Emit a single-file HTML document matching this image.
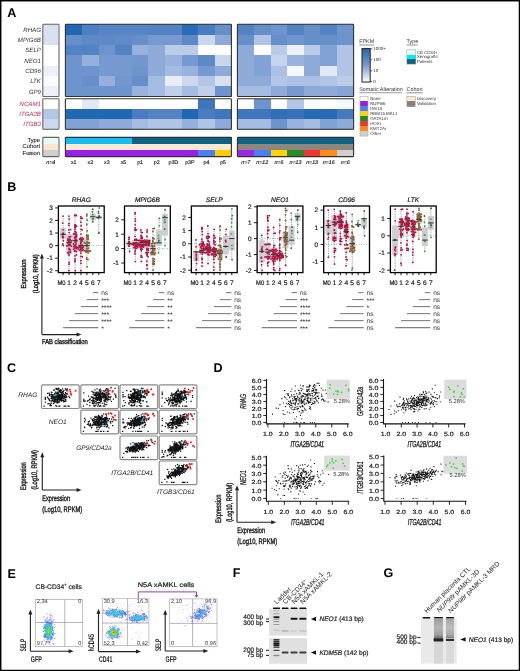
<!DOCTYPE html>
<html><head><meta charset="utf-8"><style>
html,body{margin:0;padding:0;background:#fff;}
body{width:520px;height:671px;overflow:hidden;}
svg{display:block;font-family:"Liberation Sans", sans-serif;will-change:transform;text-rendering:geometricPrecision;}
</style></head><body>
<svg width="520" height="671" viewBox="0 0 520 671">
<rect x="0" y="0" width="520" height="671" fill="#fff"/>
<text x="7.2" y="17.3" font-size="12.6" text-anchor="start" fill="#000" font-weight="bold" >A</text>
<rect x="43" y="24.2" width="15" height="10.63" fill="#d7e1f2" shape-rendering="crispEdges"/>
<rect x="43" y="34.53" width="15" height="10.63" fill="#d7e1f2" shape-rendering="crispEdges"/>
<rect x="43" y="44.86" width="15" height="10.63" fill="#ffffff" shape-rendering="crispEdges"/>
<rect x="43" y="55.19" width="15" height="10.63" fill="#ffffff" shape-rendering="crispEdges"/>
<rect x="43" y="65.52" width="15" height="10.63" fill="#ecf0f8" shape-rendering="crispEdges"/>
<rect x="43" y="75.85" width="15" height="10.63" fill="#f9fbfd" shape-rendering="crispEdges"/>
<rect x="43" y="86.18" width="15" height="10.63" fill="#ecf0f8" shape-rendering="crispEdges"/>
<rect x="43" y="98.7" width="15" height="10.47" fill="#ffffff" shape-rendering="crispEdges"/>
<rect x="43" y="108.87" width="15" height="10.47" fill="#b3c6e6" shape-rendering="crispEdges"/>
<rect x="43" y="119.04" width="15" height="10.47" fill="#cbd8ee" shape-rendering="crispEdges"/>
<rect x="65.4" y="24.2" width="16.9" height="10.63" fill="#2168b2" shape-rendering="crispEdges"/>
<rect x="82" y="24.2" width="16.9" height="10.63" fill="#4e7fc1" shape-rendering="crispEdges"/>
<rect x="98.6" y="24.2" width="16.9" height="10.63" fill="#5885c5" shape-rendering="crispEdges"/>
<rect x="115.2" y="24.2" width="16.9" height="10.63" fill="#5885c5" shape-rendering="crispEdges"/>
<rect x="131.8" y="24.2" width="16.9" height="10.63" fill="#5885c5" shape-rendering="crispEdges"/>
<rect x="148.4" y="24.2" width="16.9" height="10.63" fill="#5483c3" shape-rendering="crispEdges"/>
<rect x="165" y="24.2" width="16.9" height="10.63" fill="#5483c3" shape-rendering="crispEdges"/>
<rect x="181.6" y="24.2" width="16.9" height="10.63" fill="#2a6cb5" shape-rendering="crispEdges"/>
<rect x="198.2" y="24.2" width="16.9" height="10.63" fill="#4a7cc0" shape-rendering="crispEdges"/>
<rect x="214.8" y="24.2" width="16.9" height="10.63" fill="#668fca" shape-rendering="crispEdges"/>
<rect x="65.4" y="34.53" width="16.9" height="10.63" fill="#668fca" shape-rendering="crispEdges"/>
<rect x="82" y="34.53" width="16.9" height="10.63" fill="#5e89c7" shape-rendering="crispEdges"/>
<rect x="98.6" y="34.53" width="16.9" height="10.63" fill="#5e89c7" shape-rendering="crispEdges"/>
<rect x="115.2" y="34.53" width="16.9" height="10.63" fill="#618bc8" shape-rendering="crispEdges"/>
<rect x="131.8" y="34.53" width="16.9" height="10.63" fill="#668fca" shape-rendering="crispEdges"/>
<rect x="148.4" y="34.53" width="16.9" height="10.63" fill="#769ad0" shape-rendering="crispEdges"/>
<rect x="165" y="34.53" width="16.9" height="10.63" fill="#769ad0" shape-rendering="crispEdges"/>
<rect x="181.6" y="34.53" width="16.9" height="10.63" fill="#5e89c7" shape-rendering="crispEdges"/>
<rect x="198.2" y="34.53" width="16.9" height="10.63" fill="#c9d7ee" shape-rendering="crispEdges"/>
<rect x="214.8" y="34.53" width="16.9" height="10.63" fill="#8daad9" shape-rendering="crispEdges"/>
<rect x="65.4" y="44.86" width="16.9" height="10.63" fill="#5483c3" shape-rendering="crispEdges"/>
<rect x="82" y="44.86" width="16.9" height="10.63" fill="#5483c3" shape-rendering="crispEdges"/>
<rect x="98.6" y="44.86" width="16.9" height="10.63" fill="#6e94cd" shape-rendering="crispEdges"/>
<rect x="115.2" y="44.86" width="16.9" height="10.63" fill="#5483c3" shape-rendering="crispEdges"/>
<rect x="131.8" y="44.86" width="16.9" height="10.63" fill="#98b2dd" shape-rendering="crispEdges"/>
<rect x="148.4" y="44.86" width="16.9" height="10.63" fill="#8daad9" shape-rendering="crispEdges"/>
<rect x="165" y="44.86" width="16.9" height="10.63" fill="#bbcce9" shape-rendering="crispEdges"/>
<rect x="181.6" y="44.86" width="16.9" height="10.63" fill="#bbcce9" shape-rendering="crispEdges"/>
<rect x="198.2" y="44.86" width="16.9" height="10.63" fill="#ffffff" shape-rendering="crispEdges"/>
<rect x="214.8" y="44.86" width="16.9" height="10.63" fill="#ffffff" shape-rendering="crispEdges"/>
<rect x="65.4" y="55.19" width="16.9" height="10.63" fill="#6e94cd" shape-rendering="crispEdges"/>
<rect x="82" y="55.19" width="16.9" height="10.63" fill="#96b0dc" shape-rendering="crispEdges"/>
<rect x="98.6" y="55.19" width="16.9" height="10.63" fill="#769ad0" shape-rendering="crispEdges"/>
<rect x="115.2" y="55.19" width="16.9" height="10.63" fill="#769ad0" shape-rendering="crispEdges"/>
<rect x="131.8" y="55.19" width="16.9" height="10.63" fill="#7197ce" shape-rendering="crispEdges"/>
<rect x="148.4" y="55.19" width="16.9" height="10.63" fill="#8daad9" shape-rendering="crispEdges"/>
<rect x="165" y="55.19" width="16.9" height="10.63" fill="#98b2dd" shape-rendering="crispEdges"/>
<rect x="181.6" y="55.19" width="16.9" height="10.63" fill="#769ad0" shape-rendering="crispEdges"/>
<rect x="198.2" y="55.19" width="16.9" height="10.63" fill="#5e89c7" shape-rendering="crispEdges"/>
<rect x="214.8" y="55.19" width="16.9" height="10.63" fill="#c9d7ee" shape-rendering="crispEdges"/>
<rect x="65.4" y="65.52" width="16.9" height="10.63" fill="#6e94cd" shape-rendering="crispEdges"/>
<rect x="82" y="65.52" width="16.9" height="10.63" fill="#6e94cd" shape-rendering="crispEdges"/>
<rect x="98.6" y="65.52" width="16.9" height="10.63" fill="#769ad0" shape-rendering="crispEdges"/>
<rect x="115.2" y="65.52" width="16.9" height="10.63" fill="#769ad0" shape-rendering="crispEdges"/>
<rect x="131.8" y="65.52" width="16.9" height="10.63" fill="#6e94cd" shape-rendering="crispEdges"/>
<rect x="148.4" y="65.52" width="16.9" height="10.63" fill="#8daad9" shape-rendering="crispEdges"/>
<rect x="165" y="65.52" width="16.9" height="10.63" fill="#a5bce2" shape-rendering="crispEdges"/>
<rect x="181.6" y="65.52" width="16.9" height="10.63" fill="#98b2dd" shape-rendering="crispEdges"/>
<rect x="198.2" y="65.52" width="16.9" height="10.63" fill="#769ad0" shape-rendering="crispEdges"/>
<rect x="214.8" y="65.52" width="16.9" height="10.63" fill="#8daad9" shape-rendering="crispEdges"/>
<rect x="65.4" y="75.85" width="16.9" height="10.63" fill="#6e94cd" shape-rendering="crispEdges"/>
<rect x="82" y="75.85" width="16.9" height="10.63" fill="#668fca" shape-rendering="crispEdges"/>
<rect x="98.6" y="75.85" width="16.9" height="10.63" fill="#96b0dc" shape-rendering="crispEdges"/>
<rect x="115.2" y="75.85" width="16.9" height="10.63" fill="#7197ce" shape-rendering="crispEdges"/>
<rect x="131.8" y="75.85" width="16.9" height="10.63" fill="#668fca" shape-rendering="crispEdges"/>
<rect x="148.4" y="75.85" width="16.9" height="10.63" fill="#a5bce2" shape-rendering="crispEdges"/>
<rect x="165" y="75.85" width="16.9" height="10.63" fill="#e8edf7" shape-rendering="crispEdges"/>
<rect x="181.6" y="75.85" width="16.9" height="10.63" fill="#cbd8ee" shape-rendering="crispEdges"/>
<rect x="198.2" y="75.85" width="16.9" height="10.63" fill="#b3c6e6" shape-rendering="crispEdges"/>
<rect x="214.8" y="75.85" width="16.9" height="10.63" fill="#d7e1f2" shape-rendering="crispEdges"/>
<rect x="65.4" y="86.18" width="16.9" height="10.63" fill="#6e94cd" shape-rendering="crispEdges"/>
<rect x="82" y="86.18" width="16.9" height="10.63" fill="#6e94cd" shape-rendering="crispEdges"/>
<rect x="98.6" y="86.18" width="16.9" height="10.63" fill="#6e94cd" shape-rendering="crispEdges"/>
<rect x="115.2" y="86.18" width="16.9" height="10.63" fill="#6e94cd" shape-rendering="crispEdges"/>
<rect x="131.8" y="86.18" width="16.9" height="10.63" fill="#98b2dd" shape-rendering="crispEdges"/>
<rect x="148.4" y="86.18" width="16.9" height="10.63" fill="#a5bce2" shape-rendering="crispEdges"/>
<rect x="165" y="86.18" width="16.9" height="10.63" fill="#c0d0eb" shape-rendering="crispEdges"/>
<rect x="181.6" y="86.18" width="16.9" height="10.63" fill="#a5bce2" shape-rendering="crispEdges"/>
<rect x="198.2" y="86.18" width="16.9" height="10.63" fill="#c0d0eb" shape-rendering="crispEdges"/>
<rect x="214.8" y="86.18" width="16.9" height="10.63" fill="#6e94cd" shape-rendering="crispEdges"/>
<rect x="237.4" y="24.2" width="16.9" height="10.63" fill="#5483c3" shape-rendering="crispEdges"/>
<rect x="254" y="24.2" width="16.9" height="10.63" fill="#668fca" shape-rendering="crispEdges"/>
<rect x="270.6" y="24.2" width="16.9" height="10.63" fill="#6e94cd" shape-rendering="crispEdges"/>
<rect x="287.2" y="24.2" width="16.9" height="10.63" fill="#5483c3" shape-rendering="crispEdges"/>
<rect x="303.8" y="24.2" width="16.9" height="10.63" fill="#668fca" shape-rendering="crispEdges"/>
<rect x="320.4" y="24.2" width="16.9" height="10.63" fill="#5483c3" shape-rendering="crispEdges"/>
<rect x="337" y="24.2" width="16.9" height="10.63" fill="#6e94cd" shape-rendering="crispEdges"/>
<rect x="237.4" y="34.53" width="16.9" height="10.63" fill="#668fca" shape-rendering="crispEdges"/>
<rect x="254" y="34.53" width="16.9" height="10.63" fill="#b0c4e5" shape-rendering="crispEdges"/>
<rect x="270.6" y="34.53" width="16.9" height="10.63" fill="#668fca" shape-rendering="crispEdges"/>
<rect x="287.2" y="34.53" width="16.9" height="10.63" fill="#6e94cd" shape-rendering="crispEdges"/>
<rect x="303.8" y="34.53" width="16.9" height="10.63" fill="#668fca" shape-rendering="crispEdges"/>
<rect x="320.4" y="34.53" width="16.9" height="10.63" fill="#668fca" shape-rendering="crispEdges"/>
<rect x="337" y="34.53" width="16.9" height="10.63" fill="#6e94cd" shape-rendering="crispEdges"/>
<rect x="237.4" y="44.86" width="16.9" height="10.63" fill="#8daad9" shape-rendering="crispEdges"/>
<rect x="254" y="44.86" width="16.9" height="10.63" fill="#ffffff" shape-rendering="crispEdges"/>
<rect x="270.6" y="44.86" width="16.9" height="10.63" fill="#b8cae8" shape-rendering="crispEdges"/>
<rect x="287.2" y="44.86" width="16.9" height="10.63" fill="#ecf0f8" shape-rendering="crispEdges"/>
<rect x="303.8" y="44.86" width="16.9" height="10.63" fill="#b8cae8" shape-rendering="crispEdges"/>
<rect x="320.4" y="44.86" width="16.9" height="10.63" fill="#81a2d4" shape-rendering="crispEdges"/>
<rect x="337" y="44.86" width="16.9" height="10.63" fill="#b0c4e5" shape-rendering="crispEdges"/>
<rect x="237.4" y="55.19" width="16.9" height="10.63" fill="#8daad9" shape-rendering="crispEdges"/>
<rect x="254" y="55.19" width="16.9" height="10.63" fill="#81a2d4" shape-rendering="crispEdges"/>
<rect x="270.6" y="55.19" width="16.9" height="10.63" fill="#c5d3ec" shape-rendering="crispEdges"/>
<rect x="287.2" y="55.19" width="16.9" height="10.63" fill="#98b2dd" shape-rendering="crispEdges"/>
<rect x="303.8" y="55.19" width="16.9" height="10.63" fill="#8daad9" shape-rendering="crispEdges"/>
<rect x="320.4" y="55.19" width="16.9" height="10.63" fill="#81a2d4" shape-rendering="crispEdges"/>
<rect x="337" y="55.19" width="16.9" height="10.63" fill="#b0c4e5" shape-rendering="crispEdges"/>
<rect x="237.4" y="65.52" width="16.9" height="10.63" fill="#8daad9" shape-rendering="crispEdges"/>
<rect x="254" y="65.52" width="16.9" height="10.63" fill="#81a2d4" shape-rendering="crispEdges"/>
<rect x="270.6" y="65.52" width="16.9" height="10.63" fill="#abc0e4" shape-rendering="crispEdges"/>
<rect x="287.2" y="65.52" width="16.9" height="10.63" fill="#f5f8fc" shape-rendering="crispEdges"/>
<rect x="303.8" y="65.52" width="16.9" height="10.63" fill="#8daad9" shape-rendering="crispEdges"/>
<rect x="320.4" y="65.52" width="16.9" height="10.63" fill="#e2e9f5" shape-rendering="crispEdges"/>
<rect x="337" y="65.52" width="16.9" height="10.63" fill="#b0c4e5" shape-rendering="crispEdges"/>
<rect x="237.4" y="75.85" width="16.9" height="10.63" fill="#8daad9" shape-rendering="crispEdges"/>
<rect x="254" y="75.85" width="16.9" height="10.63" fill="#8daad9" shape-rendering="crispEdges"/>
<rect x="270.6" y="75.85" width="16.9" height="10.63" fill="#b3c6e6" shape-rendering="crispEdges"/>
<rect x="287.2" y="75.85" width="16.9" height="10.63" fill="#abc0e4" shape-rendering="crispEdges"/>
<rect x="303.8" y="75.85" width="16.9" height="10.63" fill="#abc0e4" shape-rendering="crispEdges"/>
<rect x="320.4" y="75.85" width="16.9" height="10.63" fill="#b0c4e5" shape-rendering="crispEdges"/>
<rect x="337" y="75.85" width="16.9" height="10.63" fill="#bbcce9" shape-rendering="crispEdges"/>
<rect x="237.4" y="86.18" width="16.9" height="10.63" fill="#a5bce2" shape-rendering="crispEdges"/>
<rect x="254" y="86.18" width="16.9" height="10.63" fill="#a5bce2" shape-rendering="crispEdges"/>
<rect x="270.6" y="86.18" width="16.9" height="10.63" fill="#8daad9" shape-rendering="crispEdges"/>
<rect x="287.2" y="86.18" width="16.9" height="10.63" fill="#769ad0" shape-rendering="crispEdges"/>
<rect x="303.8" y="86.18" width="16.9" height="10.63" fill="#8daad9" shape-rendering="crispEdges"/>
<rect x="320.4" y="86.18" width="16.9" height="10.63" fill="#8daad9" shape-rendering="crispEdges"/>
<rect x="337" y="86.18" width="16.9" height="10.63" fill="#86a5d6" shape-rendering="crispEdges"/>
<rect x="65.4" y="98.7" width="16.9" height="10.47" fill="#ffffff" shape-rendering="crispEdges"/>
<rect x="82" y="98.7" width="16.9" height="10.47" fill="#e2e9f5" shape-rendering="crispEdges"/>
<rect x="98.6" y="98.7" width="16.9" height="10.47" fill="#ffffff" shape-rendering="crispEdges"/>
<rect x="115.2" y="98.7" width="16.9" height="10.47" fill="#ffffff" shape-rendering="crispEdges"/>
<rect x="131.8" y="98.7" width="16.9" height="10.47" fill="#ffffff" shape-rendering="crispEdges"/>
<rect x="148.4" y="98.7" width="16.9" height="10.47" fill="#ffffff" shape-rendering="crispEdges"/>
<rect x="165" y="98.7" width="16.9" height="10.47" fill="#ffffff" shape-rendering="crispEdges"/>
<rect x="181.6" y="98.7" width="16.9" height="10.47" fill="#ffffff" shape-rendering="crispEdges"/>
<rect x="198.2" y="98.7" width="16.9" height="10.47" fill="#4076bc" shape-rendering="crispEdges"/>
<rect x="214.8" y="98.7" width="16.9" height="10.47" fill="#ffffff" shape-rendering="crispEdges"/>
<rect x="65.4" y="108.87" width="16.9" height="10.47" fill="#2168b2" shape-rendering="crispEdges"/>
<rect x="82" y="108.87" width="16.9" height="10.47" fill="#2168b2" shape-rendering="crispEdges"/>
<rect x="98.6" y="108.87" width="16.9" height="10.47" fill="#2168b2" shape-rendering="crispEdges"/>
<rect x="115.2" y="108.87" width="16.9" height="10.47" fill="#2168b2" shape-rendering="crispEdges"/>
<rect x="131.8" y="108.87" width="16.9" height="10.47" fill="#4a7cc0" shape-rendering="crispEdges"/>
<rect x="148.4" y="108.87" width="16.9" height="10.47" fill="#5483c3" shape-rendering="crispEdges"/>
<rect x="165" y="108.87" width="16.9" height="10.47" fill="#5483c3" shape-rendering="crispEdges"/>
<rect x="181.6" y="108.87" width="16.9" height="10.47" fill="#2168b2" shape-rendering="crispEdges"/>
<rect x="198.2" y="108.87" width="16.9" height="10.47" fill="#4a7cc0" shape-rendering="crispEdges"/>
<rect x="214.8" y="108.87" width="16.9" height="10.47" fill="#4076bc" shape-rendering="crispEdges"/>
<rect x="65.4" y="119.04" width="16.9" height="10.47" fill="#81a2d4" shape-rendering="crispEdges"/>
<rect x="82" y="119.04" width="16.9" height="10.47" fill="#81a2d4" shape-rendering="crispEdges"/>
<rect x="98.6" y="119.04" width="16.9" height="10.47" fill="#8daad9" shape-rendering="crispEdges"/>
<rect x="115.2" y="119.04" width="16.9" height="10.47" fill="#8daad9" shape-rendering="crispEdges"/>
<rect x="131.8" y="119.04" width="16.9" height="10.47" fill="#a5bce2" shape-rendering="crispEdges"/>
<rect x="148.4" y="119.04" width="16.9" height="10.47" fill="#b0c4e5" shape-rendering="crispEdges"/>
<rect x="165" y="119.04" width="16.9" height="10.47" fill="#b0c4e5" shape-rendering="crispEdges"/>
<rect x="181.6" y="119.04" width="16.9" height="10.47" fill="#96b0dc" shape-rendering="crispEdges"/>
<rect x="198.2" y="119.04" width="16.9" height="10.47" fill="#b0c4e5" shape-rendering="crispEdges"/>
<rect x="214.8" y="119.04" width="16.9" height="10.47" fill="#8daad9" shape-rendering="crispEdges"/>
<rect x="237.4" y="98.7" width="16.9" height="10.47" fill="#ffffff" shape-rendering="crispEdges"/>
<rect x="254" y="98.7" width="16.9" height="10.47" fill="#6e94cd" shape-rendering="crispEdges"/>
<rect x="270.6" y="98.7" width="16.9" height="10.47" fill="#ffffff" shape-rendering="crispEdges"/>
<rect x="287.2" y="98.7" width="16.9" height="10.47" fill="#b3c6e6" shape-rendering="crispEdges"/>
<rect x="303.8" y="98.7" width="16.9" height="10.47" fill="#f9fbfd" shape-rendering="crispEdges"/>
<rect x="320.4" y="98.7" width="16.9" height="10.47" fill="#ffffff" shape-rendering="crispEdges"/>
<rect x="337" y="98.7" width="16.9" height="10.47" fill="#f5f8fc" shape-rendering="crispEdges"/>
<rect x="237.4" y="108.87" width="16.9" height="10.47" fill="#4076bc" shape-rendering="crispEdges"/>
<rect x="254" y="108.87" width="16.9" height="10.47" fill="#4076bc" shape-rendering="crispEdges"/>
<rect x="270.6" y="108.87" width="16.9" height="10.47" fill="#316fb7" shape-rendering="crispEdges"/>
<rect x="287.2" y="108.87" width="16.9" height="10.47" fill="#3772b9" shape-rendering="crispEdges"/>
<rect x="303.8" y="108.87" width="16.9" height="10.47" fill="#276bb4" shape-rendering="crispEdges"/>
<rect x="320.4" y="108.87" width="16.9" height="10.47" fill="#276bb4" shape-rendering="crispEdges"/>
<rect x="337" y="108.87" width="16.9" height="10.47" fill="#467abe" shape-rendering="crispEdges"/>
<rect x="237.4" y="119.04" width="16.9" height="10.47" fill="#a5bce2" shape-rendering="crispEdges"/>
<rect x="254" y="119.04" width="16.9" height="10.47" fill="#a5bce2" shape-rendering="crispEdges"/>
<rect x="270.6" y="119.04" width="16.9" height="10.47" fill="#6e94cd" shape-rendering="crispEdges"/>
<rect x="287.2" y="119.04" width="16.9" height="10.47" fill="#98b2dd" shape-rendering="crispEdges"/>
<rect x="303.8" y="119.04" width="16.9" height="10.47" fill="#a5bce2" shape-rendering="crispEdges"/>
<rect x="320.4" y="119.04" width="16.9" height="10.47" fill="#81a2d4" shape-rendering="crispEdges"/>
<rect x="337" y="119.04" width="16.9" height="10.47" fill="#8daad9" shape-rendering="crispEdges"/>
<rect x="42.8" y="24.2" width="16.2" height="72.31" fill="none" stroke="#666" stroke-width="1.1" rx="0.8"/>
<rect x="42.8" y="98.7" width="16.2" height="30.51" fill="none" stroke="#666" stroke-width="1.1" rx="0.8"/>
<rect x="65.4" y="24.2" width="166" height="72.31" fill="none" stroke="#333" stroke-width="1.1" rx="0.8"/>
<rect x="237.4" y="24.2" width="116.2" height="72.31" fill="none" stroke="#333" stroke-width="1.1" rx="0.8"/>
<rect x="65.4" y="98.7" width="166" height="30.51" fill="none" stroke="#333" stroke-width="1.1" rx="0.8"/>
<rect x="237.4" y="98.7" width="116.2" height="30.51" fill="none" stroke="#333" stroke-width="1.1" rx="0.8"/>
<text x="40.9" y="31.66" font-size="6.1" text-anchor="end" fill="#333" font-style="italic" stroke-width="0">RHAG</text>
<text x="40.9" y="41.99" font-size="6.1" text-anchor="end" fill="#333" font-style="italic" stroke-width="0">MPIG6B</text>
<text x="40.9" y="52.32" font-size="6.1" text-anchor="end" fill="#333" font-style="italic" stroke-width="0">SELP</text>
<text x="40.9" y="62.65" font-size="6.1" text-anchor="end" fill="#333" font-style="italic" stroke-width="0">NEO1</text>
<text x="40.9" y="72.98" font-size="6.1" text-anchor="end" fill="#333" font-style="italic" stroke-width="0">CD96</text>
<text x="40.9" y="83.31" font-size="6.1" text-anchor="end" fill="#333" font-style="italic" stroke-width="0">LTK</text>
<text x="40.9" y="93.65" font-size="6.1" text-anchor="end" fill="#333" font-style="italic" stroke-width="0">GP9</text>
<text x="40.9" y="106.08" font-size="6.1" text-anchor="end" fill="#c8264e" font-style="italic" stroke-width="0">NCAM1</text>
<text x="40.9" y="116.25" font-size="6.1" text-anchor="end" fill="#c8264e" font-style="italic" stroke-width="0">ITGA2B</text>
<text x="40.9" y="126.42" font-size="6.1" text-anchor="end" fill="#c8264e" font-style="italic" stroke-width="0">ITGB3</text>
<rect x="43" y="137.4" width="15" height="6.4" fill="#e8f9fc" shape-rendering="crispEdges"/>
<rect x="43" y="143.8" width="15" height="6.4" fill="#fbe6d0" shape-rendering="crispEdges"/>
<rect x="43" y="150.2" width="15" height="6.4" fill="#cfcfcf" shape-rendering="crispEdges"/>
<rect x="65.4" y="137.4" width="16.9" height="6.4" fill="#17bdf0" shape-rendering="crispEdges"/>
<rect x="65.4" y="143.8" width="16.9" height="6.4" fill="#fde8d1" shape-rendering="crispEdges"/>
<rect x="65.4" y="150.2" width="16.9" height="6.4" fill="#9c1fe8" shape-rendering="crispEdges"/>
<rect x="82" y="137.4" width="16.9" height="6.4" fill="#17bdf0" shape-rendering="crispEdges"/>
<rect x="82" y="143.8" width="16.9" height="6.4" fill="#fde8d1" shape-rendering="crispEdges"/>
<rect x="82" y="150.2" width="16.9" height="6.4" fill="#9c1fe8" shape-rendering="crispEdges"/>
<rect x="98.6" y="137.4" width="16.9" height="6.4" fill="#17bdf0" shape-rendering="crispEdges"/>
<rect x="98.6" y="143.8" width="16.9" height="6.4" fill="#fde8d1" shape-rendering="crispEdges"/>
<rect x="98.6" y="150.2" width="16.9" height="6.4" fill="#9c1fe8" shape-rendering="crispEdges"/>
<rect x="115.2" y="137.4" width="16.9" height="6.4" fill="#17bdf0" shape-rendering="crispEdges"/>
<rect x="115.2" y="143.8" width="16.9" height="6.4" fill="#fde8d1" shape-rendering="crispEdges"/>
<rect x="115.2" y="150.2" width="16.9" height="6.4" fill="#9c1fe8" shape-rendering="crispEdges"/>
<rect x="131.8" y="137.4" width="16.9" height="6.4" fill="#0d6283" shape-rendering="crispEdges"/>
<rect x="131.8" y="143.8" width="16.9" height="6.4" fill="#fde8d1" shape-rendering="crispEdges"/>
<rect x="131.8" y="150.2" width="16.9" height="6.4" fill="#9c1fe8" shape-rendering="crispEdges"/>
<rect x="148.4" y="137.4" width="16.9" height="6.4" fill="#0d6283" shape-rendering="crispEdges"/>
<rect x="148.4" y="143.8" width="16.9" height="6.4" fill="#fde8d1" shape-rendering="crispEdges"/>
<rect x="148.4" y="150.2" width="16.9" height="6.4" fill="#9c1fe8" shape-rendering="crispEdges"/>
<rect x="165" y="137.4" width="16.9" height="6.4" fill="#0d6283" shape-rendering="crispEdges"/>
<rect x="165" y="143.8" width="16.9" height="6.4" fill="#fde8d1" shape-rendering="crispEdges"/>
<rect x="165" y="150.2" width="16.9" height="6.4" fill="#9c1fe8" shape-rendering="crispEdges"/>
<rect x="181.6" y="137.4" width="16.9" height="6.4" fill="#0d6283" shape-rendering="crispEdges"/>
<rect x="181.6" y="143.8" width="16.9" height="6.4" fill="#fde8d1" shape-rendering="crispEdges"/>
<rect x="181.6" y="150.2" width="16.9" height="6.4" fill="#9c1fe8" shape-rendering="crispEdges"/>
<rect x="198.2" y="137.4" width="16.9" height="6.4" fill="#0d6283" shape-rendering="crispEdges"/>
<rect x="198.2" y="143.8" width="16.9" height="6.4" fill="#fde8d1" shape-rendering="crispEdges"/>
<rect x="198.2" y="150.2" width="16.9" height="6.4" fill="#4a7ff5" shape-rendering="crispEdges"/>
<rect x="214.8" y="137.4" width="16.9" height="6.4" fill="#0d6283" shape-rendering="crispEdges"/>
<rect x="214.8" y="143.8" width="16.9" height="6.4" fill="#fde8d1" shape-rendering="crispEdges"/>
<rect x="214.8" y="150.2" width="16.9" height="6.4" fill="#ffcc00" shape-rendering="crispEdges"/>
<rect x="237.4" y="137.4" width="16.9" height="6.4" fill="#0d6283" shape-rendering="crispEdges"/>
<rect x="237.4" y="143.8" width="16.9" height="6.4" fill="#8f867d" shape-rendering="crispEdges"/>
<rect x="237.4" y="150.2" width="16.9" height="6.4" fill="#9b27e8" shape-rendering="crispEdges"/>
<rect x="254" y="137.4" width="16.9" height="6.4" fill="#0d6283" shape-rendering="crispEdges"/>
<rect x="254" y="143.8" width="16.9" height="6.4" fill="#8f867d" shape-rendering="crispEdges"/>
<rect x="254" y="150.2" width="16.9" height="6.4" fill="#4a7ff5" shape-rendering="crispEdges"/>
<rect x="270.6" y="137.4" width="16.9" height="6.4" fill="#0d6283" shape-rendering="crispEdges"/>
<rect x="270.6" y="143.8" width="16.9" height="6.4" fill="#8f867d" shape-rendering="crispEdges"/>
<rect x="270.6" y="150.2" width="16.9" height="6.4" fill="#ffd400" shape-rendering="crispEdges"/>
<rect x="287.2" y="137.4" width="16.9" height="6.4" fill="#0d6283" shape-rendering="crispEdges"/>
<rect x="287.2" y="143.8" width="16.9" height="6.4" fill="#8f867d" shape-rendering="crispEdges"/>
<rect x="287.2" y="150.2" width="16.9" height="6.4" fill="#2a8a2a" shape-rendering="crispEdges"/>
<rect x="303.8" y="137.4" width="16.9" height="6.4" fill="#0d6283" shape-rendering="crispEdges"/>
<rect x="303.8" y="143.8" width="16.9" height="6.4" fill="#8f867d" shape-rendering="crispEdges"/>
<rect x="303.8" y="150.2" width="16.9" height="6.4" fill="#ee3535" shape-rendering="crispEdges"/>
<rect x="320.4" y="137.4" width="16.9" height="6.4" fill="#0d6283" shape-rendering="crispEdges"/>
<rect x="320.4" y="143.8" width="16.9" height="6.4" fill="#8f867d" shape-rendering="crispEdges"/>
<rect x="320.4" y="150.2" width="16.9" height="6.4" fill="#ff8c1a" shape-rendering="crispEdges"/>
<rect x="337" y="137.4" width="16.9" height="6.4" fill="#0d6283" shape-rendering="crispEdges"/>
<rect x="337" y="143.8" width="16.9" height="6.4" fill="#8f867d" shape-rendering="crispEdges"/>
<rect x="337" y="150.2" width="16.9" height="6.4" fill="#cfcfcf" shape-rendering="crispEdges"/>
<rect x="42.8" y="137.4" width="16.2" height="19.2" fill="none" stroke="#666" stroke-width="1.1" rx="0.8"/>
<rect x="65.4" y="137.4" width="166" height="19.2" fill="none" stroke="#333" stroke-width="1.1" rx="0.8"/>
<rect x="237.4" y="137.4" width="116.2" height="19.2" fill="none" stroke="#333" stroke-width="1.1" rx="0.8"/>
<text x="40" y="142" font-size="5.8" text-anchor="end" fill="#222" stroke="#222" stroke-width="0.12">Type</text>
<text x="40" y="148.4" font-size="5.8" text-anchor="end" fill="#222" stroke="#222" stroke-width="0.12">Cohort</text>
<text x="40" y="154.8" font-size="5.8" text-anchor="end" fill="#222" stroke="#222" stroke-width="0.12">Fusion</text>
<text x="50.8" y="163.5" font-size="5.3" text-anchor="middle" fill="#222" font-style="italic" stroke="#222" stroke-width="0.15">n=4</text>
<text x="73.7" y="163.5" font-size="5.3" text-anchor="middle" fill="#222" stroke="#222" stroke-width="0.15">x1</text>
<text x="90.3" y="163.5" font-size="5.3" text-anchor="middle" fill="#222" stroke="#222" stroke-width="0.15">x2</text>
<text x="106.9" y="163.5" font-size="5.3" text-anchor="middle" fill="#222" stroke="#222" stroke-width="0.15">x3</text>
<text x="123.5" y="163.5" font-size="5.3" text-anchor="middle" fill="#222" stroke="#222" stroke-width="0.15">x5</text>
<text x="140.1" y="163.5" font-size="5.3" text-anchor="middle" fill="#222" stroke="#222" stroke-width="0.15">p1</text>
<text x="156.7" y="163.5" font-size="5.3" text-anchor="middle" fill="#222" stroke="#222" stroke-width="0.15">p2</text>
<text x="173.3" y="163.5" font-size="5.3" text-anchor="middle" fill="#222" stroke="#222" stroke-width="0.15">p3D</text>
<text x="189.9" y="163.5" font-size="5.3" text-anchor="middle" fill="#222" stroke="#222" stroke-width="0.15">p3P</text>
<text x="206.5" y="163.5" font-size="5.3" text-anchor="middle" fill="#222" stroke="#222" stroke-width="0.15">p4</text>
<text x="223.1" y="163.5" font-size="5.3" text-anchor="middle" fill="#222" stroke="#222" stroke-width="0.15">p5</text>
<text x="245.7" y="163.5" font-size="5.3" text-anchor="middle" fill="#222" font-style="italic" stroke="#222" stroke-width="0.15">n=7</text>
<text x="262.3" y="163.5" font-size="5.3" text-anchor="middle" fill="#222" font-style="italic" stroke="#222" stroke-width="0.15">n=12</text>
<text x="278.9" y="163.5" font-size="5.3" text-anchor="middle" fill="#222" font-style="italic" stroke="#222" stroke-width="0.15">n=6</text>
<text x="295.5" y="163.5" font-size="5.3" text-anchor="middle" fill="#222" font-style="italic" stroke="#222" stroke-width="0.15">n=13</text>
<text x="312.1" y="163.5" font-size="5.3" text-anchor="middle" fill="#222" font-style="italic" stroke="#222" stroke-width="0.15">n=13</text>
<text x="328.7" y="163.5" font-size="5.3" text-anchor="middle" fill="#222" font-style="italic" stroke="#222" stroke-width="0.15">n=16</text>
<text x="345.3" y="163.5" font-size="5.3" text-anchor="middle" fill="#222" font-style="italic" stroke="#222" stroke-width="0.15">n=6</text>
<text x="359.2" y="43" font-size="5.4" text-anchor="start" fill="#333" >FPKM</text>
<line x1="359.2" y1="45" x2="374" y2="45" stroke="#999" stroke-width="1.1" />
<defs><linearGradient id="fpkm" x1="0" y1="0" x2="0" y2="1"><stop offset="0" stop-color="#2a63a8"/><stop offset="0.5" stop-color="#7b9bd0"/><stop offset="1" stop-color="#ffffff"/></linearGradient></defs>
<rect x="362" y="48.6" width="8.2" height="33.4" fill="url(#fpkm)" stroke="#222" stroke-width="1"/>
<line x1="370.2" y1="48.8" x2="372.2" y2="48.8" stroke="#333" stroke-width="0.8" />
<text x="373.2" y="50.4" font-size="4.5" text-anchor="start" fill="#333" >1000+</text>
<line x1="370.2" y1="59.8" x2="372.2" y2="59.8" stroke="#333" stroke-width="0.8" />
<text x="373.2" y="61.4" font-size="4.5" text-anchor="start" fill="#333" >100</text>
<line x1="370.2" y1="70.8" x2="372.2" y2="70.8" stroke="#333" stroke-width="0.8" />
<text x="373.2" y="72.4" font-size="4.5" text-anchor="start" fill="#333" >10</text>
<line x1="370.2" y1="81.5" x2="372.2" y2="81.5" stroke="#333" stroke-width="0.8" />
<text x="373.2" y="83.1" font-size="4.5" text-anchor="start" fill="#333" >0</text>
<text x="406.6" y="43" font-size="5.4" text-anchor="start" fill="#333" >Type</text>
<line x1="406.6" y1="45" x2="417.5" y2="45" stroke="#999" stroke-width="1.1" />
<rect x="406.8" y="49.8" width="9" height="4.8" fill="#e6fbfc" shape-rendering="crispEdges"/>
<text x="416.9" y="53.6" font-size="4.3" text-anchor="start" fill="#333" >CB CD34+</text>
<rect x="406.8" y="54.6" width="9" height="4.8" fill="#00eef2" shape-rendering="crispEdges"/>
<text x="416.9" y="58.4" font-size="4.3" text-anchor="start" fill="#333" >Xenografts</text>
<rect x="406.8" y="59.4" width="9" height="4.8" fill="#0d6283" shape-rendering="crispEdges"/>
<text x="416.9" y="63.2" font-size="4.3" text-anchor="start" fill="#333" >Patients</text>
<rect x="406.8" y="49.8" width="9" height="14.4" fill="none" stroke="#aaa" stroke-width="0.6"/>
<text x="359.2" y="90.8" font-size="5.4" text-anchor="start" fill="#333" >Somatic Alteration</text>
<line x1="359.2" y1="92.8" x2="401.8" y2="92.8" stroke="#999" stroke-width="1.1" />
<rect x="360" y="96.3" width="8" height="4.97" fill="#ffffff" shape-rendering="crispEdges"/>
<text x="370.2" y="100.2" font-size="4.4" text-anchor="start" fill="#333" >None</text>
<rect x="360" y="101.27" width="8" height="4.97" fill="#9b1de6" shape-rendering="crispEdges"/>
<text x="370.2" y="105.17" font-size="4.4" text-anchor="start" fill="#333" >NUP98r</text>
<rect x="360" y="106.24" width="8" height="4.97" fill="#4a80f7" shape-rendering="crispEdges"/>
<text x="370.2" y="110.14" font-size="4.4" text-anchor="start" fill="#333" >INV16</text>
<rect x="360" y="111.21" width="8" height="4.97" fill="#ffd500" shape-rendering="crispEdges"/>
<text x="370.2" y="115.11" font-size="4.4" text-anchor="start" fill="#333" >RBM15.MKL1</text>
<rect x="360" y="116.18" width="8" height="4.97" fill="#1f8a24" shape-rendering="crispEdges"/>
<text x="370.2" y="120.08" font-size="4.4" text-anchor="start" fill="#333" >GATA1m</text>
<rect x="360" y="121.15" width="8" height="4.97" fill="#ee3333" shape-rendering="crispEdges"/>
<text x="370.2" y="125.05" font-size="4.4" text-anchor="start" fill="#333" >HOXr</text>
<rect x="360" y="126.12" width="8" height="4.97" fill="#ff8a12" shape-rendering="crispEdges"/>
<text x="370.2" y="130.02" font-size="4.4" text-anchor="start" fill="#333" >KMT2Ar</text>
<rect x="360" y="131.09" width="8" height="4.97" fill="#cfcfcf" shape-rendering="crispEdges"/>
<text x="370.2" y="134.99" font-size="4.4" text-anchor="start" fill="#333" >Other</text>
<rect x="360" y="96.3" width="8" height="39.8" fill="none" stroke="#aaa" stroke-width="0.6"/>
<text x="406.6" y="90.8" font-size="5.4" text-anchor="start" fill="#333" >Cohort</text>
<line x1="406.6" y1="92.8" x2="422.6" y2="92.8" stroke="#999" stroke-width="1.1" />
<rect x="406.8" y="96.3" width="8.6" height="5.1" fill="#fde8d0" shape-rendering="crispEdges"/>
<text x="416.9" y="100.3" font-size="4.4" text-anchor="start" fill="#333" >Discovery</text>
<rect x="406.8" y="101.4" width="8.6" height="5.1" fill="#8a8078" shape-rendering="crispEdges"/>
<text x="416.9" y="105.4" font-size="4.4" text-anchor="start" fill="#333" >Validation</text>
<rect x="406.8" y="96.3" width="8.6" height="10.2" fill="none" stroke="#aaa" stroke-width="0.6"/>
<text x="7.2" y="190.6" font-size="12.6" text-anchor="start" fill="#000" font-weight="bold" >B</text>
<text x="81.3" y="201.6" font-size="6.6" text-anchor="middle" fill="#222" font-style="italic" stroke="#222" stroke-width="0.2" >RHAG</text>
<line x1="58.4" y1="245.6" x2="104.2" y2="245.6" stroke="#4e9a8a" stroke-width="0.7" stroke-dasharray="0.9 1.6"/>
<line x1="63.1" y1="216.08" x2="63.1" y2="245.6" stroke="#333" stroke-width="0.6" stroke-dasharray="0.8 1.0"/>
<rect x="60.1" y="228.02" width="6" height="10.68" fill="#cdcdd3" />
<circle cx="62.74" cy="237.08" r="0.9" fill="#b30e3c"/>
<circle cx="62.72" cy="237.72" r="0.9" fill="#b30e3c"/>
<circle cx="62.91" cy="237.05" r="0.9" fill="#b30e3c"/>
<circle cx="63.42" cy="240.69" r="0.9" fill="#b30e3c"/>
<circle cx="62.78" cy="234.8" r="0.9" fill="#b30e3c"/>
<circle cx="63.18" cy="233.27" r="0.9" fill="#b30e3c"/>
<circle cx="63.24" cy="234.06" r="0.9" fill="#b30e3c"/>
<circle cx="62.97" cy="234.17" r="0.9" fill="#b30e3c"/>
<circle cx="63.15" cy="229.86" r="0.9" fill="#b30e3c"/>
<circle cx="62.66" cy="236.31" r="0.9" fill="#b30e3c"/>
<circle cx="62.66" cy="223.1" r="0.9" fill="#b30e3c"/>
<circle cx="62.81" cy="244.23" r="0.9" fill="#b30e3c"/>
<circle cx="63.28" cy="245.6" r="0.9" fill="#b30e3c"/>
<circle cx="63.03" cy="216.08" r="0.9" fill="#b30e3c"/>
<line x1="60.4" y1="234.3" x2="65.8" y2="234.3" stroke="#3a3a3a" stroke-width="1.1" />
<line x1="69.05" y1="216.08" x2="69.05" y2="270.72" stroke="#333" stroke-width="0.6" stroke-dasharray="0.8 1.0"/>
<rect x="66.05" y="234.3" width="6" height="20.1" fill="#cdcdd3" />
<circle cx="69.28" cy="242.62" r="0.9" fill="#b30e3c"/>
<circle cx="70.4" cy="242.85" r="0.9" fill="#b30e3c"/>
<circle cx="67.81" cy="243.01" r="0.9" fill="#b30e3c"/>
<circle cx="69.11" cy="248.37" r="0.9" fill="#b30e3c"/>
<circle cx="69.14" cy="232.53" r="0.9" fill="#b30e3c"/>
<circle cx="68.83" cy="229.86" r="0.9" fill="#b30e3c"/>
<circle cx="70.5" cy="229.55" r="0.9" fill="#b30e3c"/>
<circle cx="69.19" cy="251.8" r="0.9" fill="#b30e3c"/>
<circle cx="70.49" cy="252.04" r="0.9" fill="#b30e3c"/>
<circle cx="67.95" cy="252.74" r="0.9" fill="#b30e3c"/>
<circle cx="69" cy="264.27" r="0.9" fill="#b30e3c"/>
<circle cx="69" cy="239.18" r="0.9" fill="#b30e3c"/>
<circle cx="70.1" cy="239.41" r="0.9" fill="#b30e3c"/>
<circle cx="67.87" cy="238.95" r="0.9" fill="#b30e3c"/>
<circle cx="68.83" cy="244.57" r="0.9" fill="#b30e3c"/>
<circle cx="70.08" cy="244.65" r="0.9" fill="#b30e3c"/>
<circle cx="68.9" cy="240.96" r="0.9" fill="#b30e3c"/>
<circle cx="70.13" cy="240.35" r="0.9" fill="#b30e3c"/>
<circle cx="67.72" cy="240.29" r="0.9" fill="#b30e3c"/>
<circle cx="71.33" cy="240.95" r="0.9" fill="#b30e3c"/>
<circle cx="68.8" cy="253.58" r="0.9" fill="#b30e3c"/>
<circle cx="68.88" cy="245.51" r="0.9" fill="#b30e3c"/>
<circle cx="70.1" cy="245.11" r="0.9" fill="#b30e3c"/>
<circle cx="67.73" cy="245.37" r="0.9" fill="#b30e3c"/>
<circle cx="71.31" cy="246.05" r="0.9" fill="#b30e3c"/>
<circle cx="66.74" cy="245.97" r="0.9" fill="#b30e3c"/>
<circle cx="69.11" cy="219.11" r="0.9" fill="#b30e3c"/>
<circle cx="68.87" cy="241.05" r="0.9" fill="#b30e3c"/>
<circle cx="68.93" cy="225.45" r="0.9" fill="#b30e3c"/>
<circle cx="68.97" cy="255.17" r="0.9" fill="#b30e3c"/>
<circle cx="68.98" cy="249.42" r="0.9" fill="#b30e3c"/>
<circle cx="70.11" cy="249.73" r="0.9" fill="#b30e3c"/>
<circle cx="69.22" cy="236.88" r="0.9" fill="#b30e3c"/>
<circle cx="70.55" cy="236.62" r="0.9" fill="#b30e3c"/>
<circle cx="69.03" cy="223.52" r="0.9" fill="#b30e3c"/>
<circle cx="69.04" cy="262.47" r="0.9" fill="#b30e3c"/>
<circle cx="68.84" cy="270.72" r="0.9" fill="#b30e3c"/>
<circle cx="68.85" cy="216.08" r="0.9" fill="#b30e3c"/>
<line x1="66.35" y1="242.46" x2="71.75" y2="242.46" stroke="#3a3a3a" stroke-width="1.1" />
<line x1="75" y1="214.83" x2="75" y2="270.72" stroke="#333" stroke-width="0.6" stroke-dasharray="0.8 1.0"/>
<rect x="72" y="233.04" width="6" height="18.84" fill="#cdcdd3" />
<circle cx="74.88" cy="246.89" r="0.9" fill="#b30e3c"/>
<circle cx="76.21" cy="247.68" r="0.9" fill="#b30e3c"/>
<circle cx="73.57" cy="246.62" r="0.9" fill="#b30e3c"/>
<circle cx="77.71" cy="247.61" r="0.9" fill="#b30e3c"/>
<circle cx="74.93" cy="261.7" r="0.9" fill="#b30e3c"/>
<circle cx="74.98" cy="233.96" r="0.9" fill="#b30e3c"/>
<circle cx="76.29" cy="234.04" r="0.9" fill="#b30e3c"/>
<circle cx="73.95" cy="233.98" r="0.9" fill="#b30e3c"/>
<circle cx="74.96" cy="255.82" r="0.9" fill="#b30e3c"/>
<circle cx="76.46" cy="254.95" r="0.9" fill="#b30e3c"/>
<circle cx="75" cy="260.29" r="0.9" fill="#b30e3c"/>
<circle cx="75.02" cy="224.74" r="0.9" fill="#b30e3c"/>
<circle cx="75.01" cy="231.81" r="0.9" fill="#b30e3c"/>
<circle cx="76.01" cy="232.19" r="0.9" fill="#b30e3c"/>
<circle cx="74.97" cy="244.97" r="0.9" fill="#b30e3c"/>
<circle cx="76.09" cy="243.92" r="0.9" fill="#b30e3c"/>
<circle cx="73.5" cy="244" r="0.9" fill="#b30e3c"/>
<circle cx="75.15" cy="237.34" r="0.9" fill="#b30e3c"/>
<circle cx="76.09" cy="237.01" r="0.9" fill="#b30e3c"/>
<circle cx="74.99" cy="215.67" r="0.9" fill="#b30e3c"/>
<circle cx="76.36" cy="215.5" r="0.9" fill="#b30e3c"/>
<circle cx="75.03" cy="225.67" r="0.9" fill="#b30e3c"/>
<circle cx="76.16" cy="225.64" r="0.9" fill="#b30e3c"/>
<circle cx="75.01" cy="229.37" r="0.9" fill="#b30e3c"/>
<circle cx="75.03" cy="242.13" r="0.9" fill="#b30e3c"/>
<circle cx="76.39" cy="241.54" r="0.9" fill="#b30e3c"/>
<circle cx="74.8" cy="251.33" r="0.9" fill="#b30e3c"/>
<circle cx="76.28" cy="251.61" r="0.9" fill="#b30e3c"/>
<circle cx="74.87" cy="238.83" r="0.9" fill="#b30e3c"/>
<circle cx="76.14" cy="239.43" r="0.9" fill="#b30e3c"/>
<circle cx="75.14" cy="245.72" r="0.9" fill="#b30e3c"/>
<circle cx="76.25" cy="246.36" r="0.9" fill="#b30e3c"/>
<circle cx="75.03" cy="250.34" r="0.9" fill="#b30e3c"/>
<circle cx="75.13" cy="248.03" r="0.9" fill="#b30e3c"/>
<circle cx="76.46" cy="248.6" r="0.9" fill="#b30e3c"/>
<circle cx="73.72" cy="249.03" r="0.9" fill="#b30e3c"/>
<circle cx="75.06" cy="227.66" r="0.9" fill="#b30e3c"/>
<circle cx="75" cy="231.42" r="0.9" fill="#b30e3c"/>
<circle cx="75.01" cy="227" r="0.9" fill="#b30e3c"/>
<circle cx="76.35" cy="226.41" r="0.9" fill="#b30e3c"/>
<circle cx="74.98" cy="236.79" r="0.9" fill="#b30e3c"/>
<circle cx="76.27" cy="236.31" r="0.9" fill="#b30e3c"/>
<circle cx="74.99" cy="234.41" r="0.9" fill="#b30e3c"/>
<circle cx="76.47" cy="235.46" r="0.9" fill="#b30e3c"/>
<circle cx="75.1" cy="258.92" r="0.9" fill="#b30e3c"/>
<circle cx="75.19" cy="240.83" r="0.9" fill="#b30e3c"/>
<circle cx="75.22" cy="270.72" r="0.9" fill="#b30e3c"/>
<circle cx="74.88" cy="214.83" r="0.9" fill="#b30e3c"/>
<line x1="72.3" y1="240.58" x2="77.7" y2="240.58" stroke="#3a3a3a" stroke-width="1.1" />
<line x1="80.95" y1="216.71" x2="80.95" y2="270.72" stroke="#333" stroke-width="0.6" stroke-dasharray="0.8 1.0"/>
<rect x="77.95" y="238.06" width="6" height="13.82" fill="#cdcdd3" />
<circle cx="81.08" cy="229.31" r="0.9" fill="#b30e3c"/>
<circle cx="82.09" cy="229.87" r="0.9" fill="#b30e3c"/>
<circle cx="80.95" cy="263.31" r="0.9" fill="#b30e3c"/>
<circle cx="80.79" cy="245.77" r="0.9" fill="#b30e3c"/>
<circle cx="82.12" cy="245.15" r="0.9" fill="#b30e3c"/>
<circle cx="79.46" cy="245.92" r="0.9" fill="#b30e3c"/>
<circle cx="83.33" cy="246.36" r="0.9" fill="#b30e3c"/>
<circle cx="80.71" cy="248.56" r="0.9" fill="#b30e3c"/>
<circle cx="82.32" cy="248.21" r="0.9" fill="#b30e3c"/>
<circle cx="80.98" cy="242.63" r="0.9" fill="#b30e3c"/>
<circle cx="80.79" cy="222.27" r="0.9" fill="#b30e3c"/>
<circle cx="80.94" cy="241.99" r="0.9" fill="#b30e3c"/>
<circle cx="82.42" cy="241.12" r="0.9" fill="#b30e3c"/>
<circle cx="80.75" cy="256.45" r="0.9" fill="#b30e3c"/>
<circle cx="82.36" cy="256.75" r="0.9" fill="#b30e3c"/>
<circle cx="80.92" cy="218.46" r="0.9" fill="#b30e3c"/>
<circle cx="82.2" cy="218.24" r="0.9" fill="#b30e3c"/>
<circle cx="81.12" cy="238.72" r="0.9" fill="#b30e3c"/>
<circle cx="82.15" cy="239.29" r="0.9" fill="#b30e3c"/>
<circle cx="79.7" cy="239.18" r="0.9" fill="#b30e3c"/>
<circle cx="83.54" cy="238.92" r="0.9" fill="#b30e3c"/>
<circle cx="81.19" cy="225.76" r="0.9" fill="#b30e3c"/>
<circle cx="80.87" cy="249.8" r="0.9" fill="#b30e3c"/>
<circle cx="82.37" cy="250.09" r="0.9" fill="#b30e3c"/>
<circle cx="79.8" cy="250.09" r="0.9" fill="#b30e3c"/>
<circle cx="83.52" cy="249.65" r="0.9" fill="#b30e3c"/>
<circle cx="78.4" cy="249.09" r="0.9" fill="#b30e3c"/>
<circle cx="80.87" cy="247.48" r="0.9" fill="#b30e3c"/>
<circle cx="81.98" cy="247.3" r="0.9" fill="#b30e3c"/>
<circle cx="79.51" cy="246.88" r="0.9" fill="#b30e3c"/>
<circle cx="83.24" cy="247.19" r="0.9" fill="#b30e3c"/>
<circle cx="78.57" cy="247.67" r="0.9" fill="#b30e3c"/>
<circle cx="80.83" cy="260.64" r="0.9" fill="#b30e3c"/>
<circle cx="80.78" cy="243.93" r="0.9" fill="#b30e3c"/>
<circle cx="80.74" cy="238.27" r="0.9" fill="#b30e3c"/>
<circle cx="82.37" cy="237.55" r="0.9" fill="#b30e3c"/>
<circle cx="81.14" cy="251.09" r="0.9" fill="#b30e3c"/>
<circle cx="81.04" cy="234.12" r="0.9" fill="#b30e3c"/>
<circle cx="80.84" cy="240.05" r="0.9" fill="#b30e3c"/>
<circle cx="82.07" cy="239.96" r="0.9" fill="#b30e3c"/>
<circle cx="80.85" cy="253.21" r="0.9" fill="#b30e3c"/>
<circle cx="80.93" cy="270.72" r="0.9" fill="#b30e3c"/>
<circle cx="80.78" cy="216.71" r="0.9" fill="#b30e3c"/>
<line x1="78.25" y1="245.6" x2="83.65" y2="245.6" stroke="#3a3a3a" stroke-width="1.1" />
<line x1="86.9" y1="214.2" x2="86.9" y2="266.95" stroke="#333" stroke-width="0.6" stroke-dasharray="0.8 1.0"/>
<rect x="83.9" y="239.32" width="6" height="12.56" fill="#cdcdd3" />
<circle cx="86.78" cy="248.57" r="0.9" fill="#7f5c2c"/>
<circle cx="88.26" cy="248.06" r="0.9" fill="#7f5c2c"/>
<circle cx="86.75" cy="215.64" r="0.9" fill="#7f5c2c"/>
<circle cx="87.02" cy="251.43" r="0.9" fill="#7f5c2c"/>
<circle cx="88.39" cy="250.62" r="0.9" fill="#7f5c2c"/>
<circle cx="85.65" cy="250.75" r="0.9" fill="#7f5c2c"/>
<circle cx="89.34" cy="251.36" r="0.9" fill="#7f5c2c"/>
<circle cx="84.39" cy="250.56" r="0.9" fill="#7f5c2c"/>
<circle cx="90.39" cy="250.94" r="0.9" fill="#7f5c2c"/>
<circle cx="87.03" cy="251.87" r="0.9" fill="#7f5c2c"/>
<circle cx="88.21" cy="252.85" r="0.9" fill="#7f5c2c"/>
<circle cx="85.72" cy="251.91" r="0.9" fill="#7f5c2c"/>
<circle cx="86.69" cy="245.92" r="0.9" fill="#7f5c2c"/>
<circle cx="86.72" cy="259.25" r="0.9" fill="#7f5c2c"/>
<circle cx="88.03" cy="259.6" r="0.9" fill="#7f5c2c"/>
<circle cx="87.02" cy="244.53" r="0.9" fill="#7f5c2c"/>
<circle cx="86.8" cy="234.91" r="0.9" fill="#7f5c2c"/>
<circle cx="88.18" cy="235.45" r="0.9" fill="#7f5c2c"/>
<circle cx="86.66" cy="236.03" r="0.9" fill="#7f5c2c"/>
<circle cx="87.93" cy="236.14" r="0.9" fill="#7f5c2c"/>
<circle cx="86.78" cy="246.4" r="0.9" fill="#7f5c2c"/>
<circle cx="86.99" cy="239.51" r="0.9" fill="#7f5c2c"/>
<circle cx="88.25" cy="238.97" r="0.9" fill="#7f5c2c"/>
<circle cx="86.99" cy="242.78" r="0.9" fill="#7f5c2c"/>
<circle cx="88.05" cy="242.95" r="0.9" fill="#7f5c2c"/>
<circle cx="85.66" cy="243.44" r="0.9" fill="#7f5c2c"/>
<circle cx="89.38" cy="242.99" r="0.9" fill="#7f5c2c"/>
<circle cx="84.38" cy="242.63" r="0.9" fill="#7f5c2c"/>
<circle cx="86.71" cy="257.99" r="0.9" fill="#7f5c2c"/>
<circle cx="87.1" cy="219.9" r="0.9" fill="#7f5c2c"/>
<circle cx="86.75" cy="224.5" r="0.9" fill="#7f5c2c"/>
<circle cx="87.14" cy="230.93" r="0.9" fill="#7f5c2c"/>
<circle cx="87.12" cy="250.21" r="0.9" fill="#7f5c2c"/>
<circle cx="86.66" cy="237.49" r="0.9" fill="#7f5c2c"/>
<circle cx="88.13" cy="237.89" r="0.9" fill="#7f5c2c"/>
<circle cx="87.06" cy="241.86" r="0.9" fill="#7f5c2c"/>
<circle cx="87.13" cy="266.95" r="0.9" fill="#7f5c2c"/>
<circle cx="86.87" cy="214.2" r="0.9" fill="#7f5c2c"/>
<line x1="84.2" y1="245.6" x2="89.6" y2="245.6" stroke="#3a3a3a" stroke-width="1.1" />
<line x1="92.85" y1="209.18" x2="92.85" y2="221.74" stroke="#333" stroke-width="0.6" stroke-dasharray="0.8 1.0"/>
<rect x="89.85" y="213.57" width="6" height="6.28" fill="#cdcdd3" />
<circle cx="92.86" cy="218.53" r="0.9" fill="#48a148"/>
<circle cx="93.05" cy="219.09" r="0.9" fill="#2f6b45"/>
<circle cx="93.25" cy="219.46" r="0.9" fill="#48a148"/>
<circle cx="92.37" cy="211.82" r="0.9" fill="#2f6b45"/>
<circle cx="92.84" cy="214.7" r="0.9" fill="#48a148"/>
<circle cx="92.65" cy="221.74" r="0.9" fill="#2f6b45"/>
<circle cx="92.69" cy="209.18" r="0.9" fill="#2f6b45"/>
<line x1="90.15" y1="216.71" x2="95.55" y2="216.71" stroke="#3a3a3a" stroke-width="1.1" />
<line x1="98.8" y1="207.92" x2="98.8" y2="233.04" stroke="#333" stroke-width="0.6" stroke-dasharray="0.8 1.0"/>
<rect x="95.8" y="216.08" width="6" height="3.14" fill="#cdcdd3" />
<circle cx="98.89" cy="233" r="0.9" fill="#2f6b45"/>
<circle cx="98.73" cy="233.04" r="0.9" fill="#2f6b45"/>
<circle cx="98.35" cy="211.96" r="0.9" fill="#2f6b45"/>
<circle cx="99.13" cy="216.32" r="0.9" fill="#2f6b45"/>
<circle cx="99.24" cy="216.09" r="0.9" fill="#2f6b45"/>
<circle cx="98.57" cy="213.39" r="0.9" fill="#48a148"/>
<circle cx="98.49" cy="218.06" r="0.9" fill="#2f6b45"/>
<circle cx="99.26" cy="207.92" r="0.9" fill="#48a148"/>
<line x1="96.1" y1="217.34" x2="101.5" y2="217.34" stroke="#3a3a3a" stroke-width="1.1" />
<rect x="58.4" y="206" width="45.8" height="66.6" fill="none" stroke="#000" stroke-width="1.3"/>
<line x1="55.2" y1="207.92" x2="58.4" y2="207.92" stroke="#000" stroke-width="0.9" />
<text x="52.8" y="210.22" font-size="6.4" text-anchor="end" fill="#222" stroke="#222" stroke-width="0.2" >3</text>
<line x1="55.2" y1="220.48" x2="58.4" y2="220.48" stroke="#000" stroke-width="0.9" />
<text x="52.8" y="222.78" font-size="6.4" text-anchor="end" fill="#222" stroke="#222" stroke-width="0.2" >2</text>
<line x1="55.2" y1="233.04" x2="58.4" y2="233.04" stroke="#000" stroke-width="0.9" />
<text x="52.8" y="235.34" font-size="6.4" text-anchor="end" fill="#222" stroke="#222" stroke-width="0.2" >1</text>
<line x1="55.2" y1="245.6" x2="58.4" y2="245.6" stroke="#000" stroke-width="0.9" />
<text x="52.8" y="247.9" font-size="6.4" text-anchor="end" fill="#222" stroke="#222" stroke-width="0.2" >0</text>
<line x1="55.2" y1="258.16" x2="58.4" y2="258.16" stroke="#000" stroke-width="0.9" />
<text x="52.8" y="260.46" font-size="6.4" text-anchor="end" fill="#222" stroke="#222" stroke-width="0.2" >-1</text>
<line x1="55.2" y1="270.72" x2="58.4" y2="270.72" stroke="#000" stroke-width="0.9" />
<text x="52.8" y="273.02" font-size="6.4" text-anchor="end" fill="#222" stroke="#222" stroke-width="0.2" >-2</text>
<line x1="63.1" y1="272.6" x2="63.1" y2="275.2" stroke="#000" stroke-width="0.9" />
<line x1="69.05" y1="272.6" x2="69.05" y2="275.2" stroke="#000" stroke-width="0.9" />
<line x1="75" y1="272.6" x2="75" y2="275.2" stroke="#000" stroke-width="0.9" />
<line x1="80.95" y1="272.6" x2="80.95" y2="275.2" stroke="#000" stroke-width="0.9" />
<line x1="86.9" y1="272.6" x2="86.9" y2="275.2" stroke="#000" stroke-width="0.9" />
<line x1="92.85" y1="272.6" x2="92.85" y2="275.2" stroke="#000" stroke-width="0.9" />
<line x1="98.8" y1="272.6" x2="98.8" y2="275.2" stroke="#000" stroke-width="0.9" />
<text x="57.4" y="285.2" font-size="6.6" text-anchor="start" fill="#222" textLength="8.1" lengthAdjust="spacingAndGlyphs" stroke="#222" stroke-width="0.2" >M0</text>
<text x="69.05" y="285.2" font-size="6.6" text-anchor="middle" fill="#222" stroke="#222" stroke-width="0.2" >1</text>
<text x="75" y="285.2" font-size="6.6" text-anchor="middle" fill="#222" stroke="#222" stroke-width="0.2" >2</text>
<text x="80.95" y="285.2" font-size="6.6" text-anchor="middle" fill="#222" stroke="#222" stroke-width="0.2" >4</text>
<text x="86.9" y="285.2" font-size="6.6" text-anchor="middle" fill="#222" stroke="#222" stroke-width="0.2" >5</text>
<text x="92.85" y="285.2" font-size="6.6" text-anchor="middle" fill="#222" stroke="#222" stroke-width="0.2" >6</text>
<text x="98.8" y="285.2" font-size="6.6" text-anchor="middle" fill="#222" stroke="#222" stroke-width="0.2" >7</text>
<line x1="92.85" y1="292.6" x2="98.3" y2="292.6" stroke="#808080" stroke-width="1.1" />
<text x="101.2" y="294.7" font-size="6.6" text-anchor="start" fill="#333" stroke-width="0">ns</text>
<line x1="86.9" y1="299.6" x2="98.3" y2="299.6" stroke="#808080" stroke-width="1.1" />
<text x="101.2" y="303.2" font-size="6.8" text-anchor="start" fill="#222" stroke-width="0">***</text>
<line x1="80.95" y1="306.6" x2="98.3" y2="306.6" stroke="#808080" stroke-width="1.1" />
<text x="101.2" y="310.2" font-size="6.8" text-anchor="start" fill="#222" stroke-width="0">****</text>
<line x1="75" y1="313.6" x2="98.3" y2="313.6" stroke="#808080" stroke-width="1.1" />
<text x="101.2" y="317.2" font-size="6.8" text-anchor="start" fill="#222" stroke-width="0">***</text>
<line x1="69.05" y1="320.6" x2="98.3" y2="320.6" stroke="#808080" stroke-width="1.1" />
<text x="101.2" y="324.2" font-size="6.8" text-anchor="start" fill="#222" stroke-width="0">****</text>
<line x1="63.1" y1="327.6" x2="98.3" y2="327.6" stroke="#808080" stroke-width="1.1" />
<text x="101.2" y="331.2" font-size="6.8" text-anchor="start" fill="#222" stroke-width="0">*</text>
<text x="147.4" y="201.6" font-size="6.6" text-anchor="middle" fill="#222" font-style="italic" stroke="#222" stroke-width="0.2" >MPIG6B</text>
<line x1="124.5" y1="248.6" x2="170.3" y2="248.6" stroke="#4e9a8a" stroke-width="0.7" stroke-dasharray="0.9 1.6"/>
<line x1="129.2" y1="237.08" x2="129.2" y2="251.48" stroke="#333" stroke-width="0.6" stroke-dasharray="0.8 1.0"/>
<rect x="126.2" y="241.4" width="6" height="5.04" fill="#cdcdd3" />
<circle cx="128.96" cy="242.4" r="0.9" fill="#b30e3c"/>
<circle cx="129.36" cy="242.75" r="0.9" fill="#b30e3c"/>
<circle cx="129" cy="242.65" r="0.9" fill="#b30e3c"/>
<circle cx="129.26" cy="237.93" r="0.9" fill="#b30e3c"/>
<circle cx="129.09" cy="237.08" r="0.9" fill="#b30e3c"/>
<circle cx="128.87" cy="241.97" r="0.9" fill="#b30e3c"/>
<circle cx="128.86" cy="241.77" r="0.9" fill="#b30e3c"/>
<circle cx="128.91" cy="246.18" r="0.9" fill="#b30e3c"/>
<circle cx="129.61" cy="244.06" r="0.9" fill="#b30e3c"/>
<circle cx="129.2" cy="244.94" r="0.9" fill="#b30e3c"/>
<circle cx="128.92" cy="239.47" r="0.9" fill="#b30e3c"/>
<circle cx="129.61" cy="251.48" r="0.9" fill="#b30e3c"/>
<line x1="126.5" y1="243.56" x2="131.9" y2="243.56" stroke="#3a3a3a" stroke-width="1.1" />
<line x1="135.15" y1="212.6" x2="135.15" y2="261.56" stroke="#333" stroke-width="0.6" stroke-dasharray="0.8 1.0"/>
<rect x="132.15" y="239.96" width="6" height="8.64" fill="#cdcdd3" />
<circle cx="134.91" cy="239.53" r="0.9" fill="#b30e3c"/>
<circle cx="136.3" cy="239.17" r="0.9" fill="#b30e3c"/>
<circle cx="135.13" cy="246.94" r="0.9" fill="#b30e3c"/>
<circle cx="136.63" cy="246.53" r="0.9" fill="#b30e3c"/>
<circle cx="133.97" cy="247.66" r="0.9" fill="#b30e3c"/>
<circle cx="137.84" cy="247.49" r="0.9" fill="#b30e3c"/>
<circle cx="135.14" cy="245.65" r="0.9" fill="#b30e3c"/>
<circle cx="136.27" cy="246.26" r="0.9" fill="#b30e3c"/>
<circle cx="133.77" cy="245.15" r="0.9" fill="#b30e3c"/>
<circle cx="137.88" cy="245.22" r="0.9" fill="#b30e3c"/>
<circle cx="135.25" cy="243.68" r="0.9" fill="#b30e3c"/>
<circle cx="136.3" cy="245.02" r="0.9" fill="#b30e3c"/>
<circle cx="133.66" cy="244.23" r="0.9" fill="#b30e3c"/>
<circle cx="137.65" cy="244.25" r="0.9" fill="#b30e3c"/>
<circle cx="132.74" cy="244.09" r="0.9" fill="#b30e3c"/>
<circle cx="138.51" cy="244.07" r="0.9" fill="#b30e3c"/>
<circle cx="131.63" cy="243.9" r="0.9" fill="#b30e3c"/>
<circle cx="135.23" cy="224.86" r="0.9" fill="#b30e3c"/>
<circle cx="135.36" cy="248.06" r="0.9" fill="#b30e3c"/>
<circle cx="136.26" cy="248.32" r="0.9" fill="#b30e3c"/>
<circle cx="134.92" cy="240.24" r="0.9" fill="#b30e3c"/>
<circle cx="136.32" cy="240.36" r="0.9" fill="#b30e3c"/>
<circle cx="135.11" cy="230.23" r="0.9" fill="#b30e3c"/>
<circle cx="135.24" cy="218.82" r="0.9" fill="#b30e3c"/>
<circle cx="135" cy="229.28" r="0.9" fill="#b30e3c"/>
<circle cx="136.55" cy="229.96" r="0.9" fill="#b30e3c"/>
<circle cx="135.27" cy="243.53" r="0.9" fill="#b30e3c"/>
<circle cx="136.4" cy="243.1" r="0.9" fill="#b30e3c"/>
<circle cx="133.75" cy="243.41" r="0.9" fill="#b30e3c"/>
<circle cx="135.38" cy="221.14" r="0.9" fill="#b30e3c"/>
<circle cx="135.06" cy="213.96" r="0.9" fill="#b30e3c"/>
<circle cx="135.31" cy="227.97" r="0.9" fill="#b30e3c"/>
<circle cx="135.02" cy="236.44" r="0.9" fill="#b30e3c"/>
<circle cx="135.01" cy="253.94" r="0.9" fill="#b30e3c"/>
<circle cx="135.28" cy="250.17" r="0.9" fill="#b30e3c"/>
<circle cx="135.05" cy="251.85" r="0.9" fill="#b30e3c"/>
<circle cx="135.38" cy="261.56" r="0.9" fill="#b30e3c"/>
<circle cx="135.15" cy="212.6" r="0.9" fill="#b30e3c"/>
<line x1="132.45" y1="242.84" x2="137.85" y2="242.84" stroke="#3a3a3a" stroke-width="1.1" />
<line x1="141.1" y1="229.88" x2="141.1" y2="261.56" stroke="#333" stroke-width="0.6" stroke-dasharray="0.8 1.0"/>
<rect x="138.1" y="239.96" width="6" height="7.2" fill="#cdcdd3" />
<circle cx="141.23" cy="245.55" r="0.9" fill="#b30e3c"/>
<circle cx="142.22" cy="245.63" r="0.9" fill="#b30e3c"/>
<circle cx="139.63" cy="245.82" r="0.9" fill="#b30e3c"/>
<circle cx="143.37" cy="245.94" r="0.9" fill="#b30e3c"/>
<circle cx="138.63" cy="245.15" r="0.9" fill="#b30e3c"/>
<circle cx="144.41" cy="245.48" r="0.9" fill="#b30e3c"/>
<circle cx="137.94" cy="245.74" r="0.9" fill="#b30e3c"/>
<circle cx="141.29" cy="242.37" r="0.9" fill="#b30e3c"/>
<circle cx="142.59" cy="242.38" r="0.9" fill="#b30e3c"/>
<circle cx="140.98" cy="256.92" r="0.9" fill="#b30e3c"/>
<circle cx="142.14" cy="257.06" r="0.9" fill="#b30e3c"/>
<circle cx="140.9" cy="246.73" r="0.9" fill="#b30e3c"/>
<circle cx="142.35" cy="246.81" r="0.9" fill="#b30e3c"/>
<circle cx="139.95" cy="246.91" r="0.9" fill="#b30e3c"/>
<circle cx="143.57" cy="247.13" r="0.9" fill="#b30e3c"/>
<circle cx="140.97" cy="240.69" r="0.9" fill="#b30e3c"/>
<circle cx="142.31" cy="240.28" r="0.9" fill="#b30e3c"/>
<circle cx="139.91" cy="240.22" r="0.9" fill="#b30e3c"/>
<circle cx="143.69" cy="240.7" r="0.9" fill="#b30e3c"/>
<circle cx="138.72" cy="240.54" r="0.9" fill="#b30e3c"/>
<circle cx="144.67" cy="240.26" r="0.9" fill="#b30e3c"/>
<circle cx="137.78" cy="240.27" r="0.9" fill="#b30e3c"/>
<circle cx="144.31" cy="240.48" r="0.9" fill="#b30e3c"/>
<circle cx="141.27" cy="238.35" r="0.9" fill="#b30e3c"/>
<circle cx="142.25" cy="238.37" r="0.9" fill="#b30e3c"/>
<circle cx="141.13" cy="232.05" r="0.9" fill="#b30e3c"/>
<circle cx="142.29" cy="232.53" r="0.9" fill="#b30e3c"/>
<circle cx="141.22" cy="237.92" r="0.9" fill="#b30e3c"/>
<circle cx="142.2" cy="237.27" r="0.9" fill="#b30e3c"/>
<circle cx="140.97" cy="244.47" r="0.9" fill="#b30e3c"/>
<circle cx="142.22" cy="244.59" r="0.9" fill="#b30e3c"/>
<circle cx="139.68" cy="244.48" r="0.9" fill="#b30e3c"/>
<circle cx="143.79" cy="244.2" r="0.9" fill="#b30e3c"/>
<circle cx="138.64" cy="244.06" r="0.9" fill="#b30e3c"/>
<circle cx="144.41" cy="244.86" r="0.9" fill="#b30e3c"/>
<circle cx="141.05" cy="235.52" r="0.9" fill="#b30e3c"/>
<circle cx="141.35" cy="255.44" r="0.9" fill="#b30e3c"/>
<circle cx="141.1" cy="241.78" r="0.9" fill="#b30e3c"/>
<circle cx="142.22" cy="241.38" r="0.9" fill="#b30e3c"/>
<circle cx="140" cy="242.32" r="0.9" fill="#b30e3c"/>
<circle cx="143.68" cy="241.53" r="0.9" fill="#b30e3c"/>
<circle cx="141.35" cy="250.82" r="0.9" fill="#b30e3c"/>
<circle cx="140.9" cy="249.26" r="0.9" fill="#b30e3c"/>
<circle cx="142.34" cy="249.32" r="0.9" fill="#b30e3c"/>
<circle cx="141.26" cy="248.21" r="0.9" fill="#b30e3c"/>
<circle cx="141.27" cy="236.02" r="0.9" fill="#b30e3c"/>
<circle cx="141.31" cy="261.56" r="0.9" fill="#b30e3c"/>
<circle cx="140.87" cy="229.88" r="0.9" fill="#b30e3c"/>
<line x1="138.4" y1="242.84" x2="143.8" y2="242.84" stroke="#3a3a3a" stroke-width="1.1" />
<line x1="147.05" y1="229.88" x2="147.05" y2="268.76" stroke="#333" stroke-width="0.6" stroke-dasharray="0.8 1.0"/>
<rect x="144.05" y="239.96" width="6" height="5.76" fill="#cdcdd3" />
<circle cx="146.83" cy="245.03" r="0.9" fill="#b30e3c"/>
<circle cx="148.51" cy="245.65" r="0.9" fill="#b30e3c"/>
<circle cx="145.74" cy="245.69" r="0.9" fill="#b30e3c"/>
<circle cx="149.75" cy="245.63" r="0.9" fill="#b30e3c"/>
<circle cx="147.11" cy="240.12" r="0.9" fill="#b30e3c"/>
<circle cx="148.46" cy="240.73" r="0.9" fill="#b30e3c"/>
<circle cx="145.63" cy="240.74" r="0.9" fill="#b30e3c"/>
<circle cx="149.69" cy="240.29" r="0.9" fill="#b30e3c"/>
<circle cx="146.91" cy="236.48" r="0.9" fill="#b30e3c"/>
<circle cx="147" cy="244.22" r="0.9" fill="#b30e3c"/>
<circle cx="148.47" cy="244.91" r="0.9" fill="#b30e3c"/>
<circle cx="145.96" cy="244.25" r="0.9" fill="#b30e3c"/>
<circle cx="149.39" cy="243.92" r="0.9" fill="#b30e3c"/>
<circle cx="144.41" cy="244.78" r="0.9" fill="#b30e3c"/>
<circle cx="150.4" cy="243.95" r="0.9" fill="#b30e3c"/>
<circle cx="147.06" cy="231.99" r="0.9" fill="#b30e3c"/>
<circle cx="146.99" cy="242.29" r="0.9" fill="#b30e3c"/>
<circle cx="148.11" cy="241.81" r="0.9" fill="#b30e3c"/>
<circle cx="145.67" cy="241.14" r="0.9" fill="#b30e3c"/>
<circle cx="149.66" cy="241.53" r="0.9" fill="#b30e3c"/>
<circle cx="144.75" cy="241.08" r="0.9" fill="#b30e3c"/>
<circle cx="146.82" cy="252.38" r="0.9" fill="#b30e3c"/>
<circle cx="148.33" cy="252.28" r="0.9" fill="#b30e3c"/>
<circle cx="145.93" cy="252.97" r="0.9" fill="#b30e3c"/>
<circle cx="146.82" cy="242.7" r="0.9" fill="#b30e3c"/>
<circle cx="148.47" cy="243.44" r="0.9" fill="#b30e3c"/>
<circle cx="145.61" cy="242.97" r="0.9" fill="#b30e3c"/>
<circle cx="149.6" cy="242.94" r="0.9" fill="#b30e3c"/>
<circle cx="144.58" cy="242.72" r="0.9" fill="#b30e3c"/>
<circle cx="147.11" cy="255.83" r="0.9" fill="#b30e3c"/>
<circle cx="148.2" cy="256.62" r="0.9" fill="#b30e3c"/>
<circle cx="147.01" cy="248.09" r="0.9" fill="#b30e3c"/>
<circle cx="148.34" cy="248.96" r="0.9" fill="#b30e3c"/>
<circle cx="147.01" cy="249.27" r="0.9" fill="#b30e3c"/>
<circle cx="148.38" cy="249.99" r="0.9" fill="#b30e3c"/>
<circle cx="147.02" cy="254.62" r="0.9" fill="#b30e3c"/>
<circle cx="147.02" cy="250.84" r="0.9" fill="#b30e3c"/>
<circle cx="146.81" cy="265.3" r="0.9" fill="#b30e3c"/>
<circle cx="147.11" cy="253.98" r="0.9" fill="#b30e3c"/>
<circle cx="147.04" cy="264.53" r="0.9" fill="#b30e3c"/>
<circle cx="146.92" cy="261.09" r="0.9" fill="#b30e3c"/>
<circle cx="147.18" cy="268.76" r="0.9" fill="#b30e3c"/>
<circle cx="147.19" cy="229.88" r="0.9" fill="#b30e3c"/>
<line x1="144.35" y1="242.12" x2="149.75" y2="242.12" stroke="#3a3a3a" stroke-width="1.1" />
<line x1="153" y1="228.44" x2="153" y2="270.2" stroke="#333" stroke-width="0.6" stroke-dasharray="0.8 1.0"/>
<rect x="150" y="242.84" width="6" height="12.96" fill="#cdcdd3" />
<circle cx="152.97" cy="253.47" r="0.9" fill="#7f5c2c"/>
<circle cx="154.09" cy="254.41" r="0.9" fill="#7f5c2c"/>
<circle cx="151.87" cy="254.27" r="0.9" fill="#7f5c2c"/>
<circle cx="155.27" cy="253.44" r="0.9" fill="#7f5c2c"/>
<circle cx="150.66" cy="253.16" r="0.9" fill="#7f5c2c"/>
<circle cx="152.88" cy="250.22" r="0.9" fill="#7f5c2c"/>
<circle cx="154.32" cy="250.07" r="0.9" fill="#7f5c2c"/>
<circle cx="153.24" cy="261.88" r="0.9" fill="#7f5c2c"/>
<circle cx="154.29" cy="261.52" r="0.9" fill="#7f5c2c"/>
<circle cx="153.08" cy="260.75" r="0.9" fill="#7f5c2c"/>
<circle cx="152.91" cy="241.72" r="0.9" fill="#7f5c2c"/>
<circle cx="152.75" cy="252.66" r="0.9" fill="#7f5c2c"/>
<circle cx="154.02" cy="252.39" r="0.9" fill="#7f5c2c"/>
<circle cx="151.57" cy="252.21" r="0.9" fill="#7f5c2c"/>
<circle cx="153.06" cy="264.51" r="0.9" fill="#7f5c2c"/>
<circle cx="154.22" cy="264.2" r="0.9" fill="#7f5c2c"/>
<circle cx="153.01" cy="228.6" r="0.9" fill="#7f5c2c"/>
<circle cx="154.45" cy="228.44" r="0.9" fill="#7f5c2c"/>
<circle cx="152.82" cy="240.7" r="0.9" fill="#7f5c2c"/>
<circle cx="152.86" cy="243.08" r="0.9" fill="#7f5c2c"/>
<circle cx="154.33" cy="243.4" r="0.9" fill="#7f5c2c"/>
<circle cx="151.51" cy="243.66" r="0.9" fill="#7f5c2c"/>
<circle cx="155.25" cy="242.93" r="0.9" fill="#7f5c2c"/>
<circle cx="152.93" cy="263.3" r="0.9" fill="#7f5c2c"/>
<circle cx="154.05" cy="263.57" r="0.9" fill="#7f5c2c"/>
<circle cx="152.93" cy="231.34" r="0.9" fill="#7f5c2c"/>
<circle cx="152.86" cy="251.25" r="0.9" fill="#7f5c2c"/>
<circle cx="153.04" cy="258.72" r="0.9" fill="#7f5c2c"/>
<circle cx="154.29" cy="259.14" r="0.9" fill="#7f5c2c"/>
<circle cx="152.85" cy="237.83" r="0.9" fill="#7f5c2c"/>
<circle cx="153.06" cy="238.5" r="0.9" fill="#7f5c2c"/>
<circle cx="154.24" cy="238.85" r="0.9" fill="#7f5c2c"/>
<circle cx="152.82" cy="245.63" r="0.9" fill="#7f5c2c"/>
<circle cx="154.47" cy="246.09" r="0.9" fill="#7f5c2c"/>
<circle cx="151.62" cy="245.89" r="0.9" fill="#7f5c2c"/>
<circle cx="152.82" cy="248.92" r="0.9" fill="#7f5c2c"/>
<circle cx="152.8" cy="247.02" r="0.9" fill="#7f5c2c"/>
<circle cx="153.07" cy="270.2" r="0.9" fill="#7f5c2c"/>
<line x1="150.3" y1="248.6" x2="155.7" y2="248.6" stroke="#3a3a3a" stroke-width="1.1" />
<line x1="158.95" y1="218.36" x2="158.95" y2="252.92" stroke="#333" stroke-width="0.6" stroke-dasharray="0.8 1.0"/>
<rect x="155.95" y="229.88" width="6" height="15.84" fill="#cdcdd3" />
<circle cx="159.39" cy="225.89" r="0.9" fill="#48a148"/>
<circle cx="158.7" cy="241.53" r="0.9" fill="#48a148"/>
<circle cx="158.49" cy="235.5" r="0.9" fill="#48a148"/>
<circle cx="158.86" cy="240.49" r="0.9" fill="#2f6b45"/>
<circle cx="158.51" cy="238.14" r="0.9" fill="#48a148"/>
<circle cx="158.46" cy="252.92" r="0.9" fill="#48a148"/>
<circle cx="159.39" cy="218.36" r="0.9" fill="#2f6b45"/>
<line x1="156.25" y1="242.84" x2="161.65" y2="242.84" stroke="#3a3a3a" stroke-width="1.1" />
<line x1="164.9" y1="209.72" x2="164.9" y2="245.72" stroke="#333" stroke-width="0.6" stroke-dasharray="0.8 1.0"/>
<rect x="161.9" y="214.04" width="6" height="21.6" fill="#cdcdd3" />
<circle cx="164.41" cy="222.51" r="0.9" fill="#48a148"/>
<circle cx="165.15" cy="222.2" r="0.9" fill="#48a148"/>
<circle cx="165.14" cy="239.43" r="0.9" fill="#48a148"/>
<circle cx="164.63" cy="229.15" r="0.9" fill="#2f6b45"/>
<circle cx="164.63" cy="216.43" r="0.9" fill="#2f6b45"/>
<circle cx="164.74" cy="219.97" r="0.9" fill="#48a148"/>
<circle cx="165.1" cy="245.72" r="0.9" fill="#48a148"/>
<circle cx="165.11" cy="209.72" r="0.9" fill="#2f6b45"/>
<line x1="162.2" y1="217.64" x2="167.6" y2="217.64" stroke="#3a3a3a" stroke-width="1.1" />
<rect x="124.5" y="206" width="45.8" height="66.6" fill="none" stroke="#000" stroke-width="1.3"/>
<line x1="121.3" y1="219.8" x2="124.5" y2="219.8" stroke="#000" stroke-width="0.9" />
<text x="118.9" y="222.1" font-size="6.4" text-anchor="end" fill="#222" stroke="#222" stroke-width="0.2" >2</text>
<line x1="121.3" y1="234.2" x2="124.5" y2="234.2" stroke="#000" stroke-width="0.9" />
<text x="118.9" y="236.5" font-size="6.4" text-anchor="end" fill="#222" stroke="#222" stroke-width="0.2" >1</text>
<line x1="121.3" y1="248.6" x2="124.5" y2="248.6" stroke="#000" stroke-width="0.9" />
<text x="118.9" y="250.9" font-size="6.4" text-anchor="end" fill="#222" stroke="#222" stroke-width="0.2" >0</text>
<line x1="121.3" y1="263" x2="124.5" y2="263" stroke="#000" stroke-width="0.9" />
<text x="118.9" y="265.3" font-size="6.4" text-anchor="end" fill="#222" stroke="#222" stroke-width="0.2" >-1</text>
<line x1="129.2" y1="272.6" x2="129.2" y2="275.2" stroke="#000" stroke-width="0.9" />
<line x1="135.15" y1="272.6" x2="135.15" y2="275.2" stroke="#000" stroke-width="0.9" />
<line x1="141.1" y1="272.6" x2="141.1" y2="275.2" stroke="#000" stroke-width="0.9" />
<line x1="147.05" y1="272.6" x2="147.05" y2="275.2" stroke="#000" stroke-width="0.9" />
<line x1="153" y1="272.6" x2="153" y2="275.2" stroke="#000" stroke-width="0.9" />
<line x1="158.95" y1="272.6" x2="158.95" y2="275.2" stroke="#000" stroke-width="0.9" />
<line x1="164.9" y1="272.6" x2="164.9" y2="275.2" stroke="#000" stroke-width="0.9" />
<text x="123.5" y="285.2" font-size="6.6" text-anchor="start" fill="#222" textLength="8.1" lengthAdjust="spacingAndGlyphs" stroke="#222" stroke-width="0.2" >M0</text>
<text x="135.15" y="285.2" font-size="6.6" text-anchor="middle" fill="#222" stroke="#222" stroke-width="0.2" >1</text>
<text x="141.1" y="285.2" font-size="6.6" text-anchor="middle" fill="#222" stroke="#222" stroke-width="0.2" >2</text>
<text x="147.05" y="285.2" font-size="6.6" text-anchor="middle" fill="#222" stroke="#222" stroke-width="0.2" >4</text>
<text x="153" y="285.2" font-size="6.6" text-anchor="middle" fill="#222" stroke="#222" stroke-width="0.2" >5</text>
<text x="158.95" y="285.2" font-size="6.6" text-anchor="middle" fill="#222" stroke="#222" stroke-width="0.2" >6</text>
<text x="164.9" y="285.2" font-size="6.6" text-anchor="middle" fill="#222" stroke="#222" stroke-width="0.2" >7</text>
<line x1="158.95" y1="292.6" x2="164.4" y2="292.6" stroke="#808080" stroke-width="1.1" />
<text x="167.3" y="294.7" font-size="6.6" text-anchor="start" fill="#333" stroke-width="0">ns</text>
<line x1="153" y1="299.6" x2="164.4" y2="299.6" stroke="#808080" stroke-width="1.1" />
<text x="167.3" y="303.2" font-size="6.8" text-anchor="start" fill="#222" stroke-width="0">**</text>
<line x1="147.05" y1="306.6" x2="164.4" y2="306.6" stroke="#808080" stroke-width="1.1" />
<text x="167.3" y="310.2" font-size="6.8" text-anchor="start" fill="#222" stroke-width="0">**</text>
<line x1="141.1" y1="313.6" x2="164.4" y2="313.6" stroke="#808080" stroke-width="1.1" />
<text x="167.3" y="317.2" font-size="6.8" text-anchor="start" fill="#222" stroke-width="0">**</text>
<line x1="135.15" y1="320.6" x2="164.4" y2="320.6" stroke="#808080" stroke-width="1.1" />
<text x="167.3" y="324.2" font-size="6.8" text-anchor="start" fill="#222" stroke-width="0">**</text>
<line x1="129.2" y1="327.6" x2="164.4" y2="327.6" stroke="#808080" stroke-width="1.1" />
<text x="167.3" y="331.2" font-size="6.8" text-anchor="start" fill="#222" stroke-width="0">*</text>
<text x="214.3" y="201.6" font-size="6.6" text-anchor="middle" fill="#222" font-style="italic" stroke="#222" stroke-width="0.2" >SELP</text>
<line x1="191.4" y1="243.8" x2="237.2" y2="243.8" stroke="#4e9a8a" stroke-width="0.7" stroke-dasharray="0.9 1.6"/>
<line x1="196.1" y1="239.84" x2="196.1" y2="270.2" stroke="#333" stroke-width="0.6" stroke-dasharray="0.8 1.0"/>
<rect x="193.1" y="251.72" width="6" height="9.24" fill="#cdcdd3" />
<circle cx="196.23" cy="256.95" r="0.9" fill="#b30e3c"/>
<circle cx="196.29" cy="254.31" r="0.9" fill="#b30e3c"/>
<circle cx="196.27" cy="255.03" r="0.9" fill="#b30e3c"/>
<circle cx="196.58" cy="263.61" r="0.9" fill="#b30e3c"/>
<circle cx="196.07" cy="269.74" r="0.9" fill="#b30e3c"/>
<circle cx="196.44" cy="270.2" r="0.9" fill="#b30e3c"/>
<circle cx="196.3" cy="258.78" r="0.9" fill="#b30e3c"/>
<circle cx="196.46" cy="259.11" r="0.9" fill="#b30e3c"/>
<circle cx="196.04" cy="246.87" r="0.9" fill="#b30e3c"/>
<circle cx="196.32" cy="260.23" r="0.9" fill="#b30e3c"/>
<circle cx="196.17" cy="252.57" r="0.9" fill="#b30e3c"/>
<circle cx="195.91" cy="239.84" r="0.9" fill="#b30e3c"/>
<line x1="193.4" y1="251.72" x2="198.8" y2="251.72" stroke="#3a3a3a" stroke-width="1.1" />
<line x1="202.05" y1="227.3" x2="202.05" y2="266.24" stroke="#333" stroke-width="0.6" stroke-dasharray="0.8 1.0"/>
<rect x="199.05" y="242.48" width="6" height="10.56" fill="#cdcdd3" />
<circle cx="201.89" cy="246.47" r="0.9" fill="#b30e3c"/>
<circle cx="203.3" cy="246.8" r="0.9" fill="#b30e3c"/>
<circle cx="200.72" cy="246.62" r="0.9" fill="#b30e3c"/>
<circle cx="202.22" cy="243.42" r="0.9" fill="#b30e3c"/>
<circle cx="203.18" cy="243.23" r="0.9" fill="#b30e3c"/>
<circle cx="202.27" cy="252.76" r="0.9" fill="#b30e3c"/>
<circle cx="203.19" cy="252.6" r="0.9" fill="#b30e3c"/>
<circle cx="200.66" cy="252.68" r="0.9" fill="#b30e3c"/>
<circle cx="204.65" cy="252.53" r="0.9" fill="#b30e3c"/>
<circle cx="199.55" cy="252.01" r="0.9" fill="#b30e3c"/>
<circle cx="201.85" cy="251.54" r="0.9" fill="#b30e3c"/>
<circle cx="203.37" cy="250.87" r="0.9" fill="#b30e3c"/>
<circle cx="200.59" cy="250.91" r="0.9" fill="#b30e3c"/>
<circle cx="202.19" cy="243.95" r="0.9" fill="#b30e3c"/>
<circle cx="203.4" cy="244.41" r="0.9" fill="#b30e3c"/>
<circle cx="200.94" cy="243.88" r="0.9" fill="#b30e3c"/>
<circle cx="204.61" cy="244.88" r="0.9" fill="#b30e3c"/>
<circle cx="199.48" cy="244.63" r="0.9" fill="#b30e3c"/>
<circle cx="202" cy="241.4" r="0.9" fill="#b30e3c"/>
<circle cx="203.25" cy="242.16" r="0.9" fill="#b30e3c"/>
<circle cx="202.25" cy="231.53" r="0.9" fill="#b30e3c"/>
<circle cx="201.84" cy="229.47" r="0.9" fill="#b30e3c"/>
<circle cx="202.24" cy="234.62" r="0.9" fill="#b30e3c"/>
<circle cx="201.81" cy="239.22" r="0.9" fill="#b30e3c"/>
<circle cx="201.9" cy="258.26" r="0.9" fill="#b30e3c"/>
<circle cx="201.93" cy="248.57" r="0.9" fill="#b30e3c"/>
<circle cx="203.5" cy="248.68" r="0.9" fill="#b30e3c"/>
<circle cx="200.8" cy="247.86" r="0.9" fill="#b30e3c"/>
<circle cx="201.99" cy="250.33" r="0.9" fill="#b30e3c"/>
<circle cx="203.49" cy="249.65" r="0.9" fill="#b30e3c"/>
<circle cx="201.92" cy="245.48" r="0.9" fill="#b30e3c"/>
<circle cx="203.28" cy="245.6" r="0.9" fill="#b30e3c"/>
<circle cx="202.07" cy="254.28" r="0.9" fill="#b30e3c"/>
<circle cx="202.18" cy="262.7" r="0.9" fill="#b30e3c"/>
<circle cx="202.18" cy="259.61" r="0.9" fill="#b30e3c"/>
<circle cx="202.12" cy="228.16" r="0.9" fill="#b30e3c"/>
<circle cx="201.97" cy="266.24" r="0.9" fill="#b30e3c"/>
<circle cx="201.96" cy="227.3" r="0.9" fill="#b30e3c"/>
<line x1="199.35" y1="250.4" x2="204.75" y2="250.4" stroke="#3a3a3a" stroke-width="1.1" />
<line x1="208" y1="225.98" x2="208" y2="263.6" stroke="#333" stroke-width="0.6" stroke-dasharray="0.8 1.0"/>
<rect x="205" y="243.8" width="6" height="10.56" fill="#cdcdd3" />
<circle cx="208.02" cy="245.46" r="0.9" fill="#b30e3c"/>
<circle cx="209.36" cy="246.01" r="0.9" fill="#b30e3c"/>
<circle cx="206.76" cy="246.1" r="0.9" fill="#b30e3c"/>
<circle cx="208.07" cy="241.11" r="0.9" fill="#b30e3c"/>
<circle cx="209.41" cy="241.81" r="0.9" fill="#b30e3c"/>
<circle cx="208.01" cy="249.73" r="0.9" fill="#b30e3c"/>
<circle cx="209.21" cy="249.48" r="0.9" fill="#b30e3c"/>
<circle cx="206.97" cy="250.3" r="0.9" fill="#b30e3c"/>
<circle cx="210.36" cy="249.93" r="0.9" fill="#b30e3c"/>
<circle cx="205.59" cy="249.55" r="0.9" fill="#b30e3c"/>
<circle cx="211.35" cy="249.12" r="0.9" fill="#b30e3c"/>
<circle cx="208.13" cy="254.65" r="0.9" fill="#b30e3c"/>
<circle cx="209.06" cy="255.1" r="0.9" fill="#b30e3c"/>
<circle cx="208.24" cy="251.18" r="0.9" fill="#b30e3c"/>
<circle cx="209.18" cy="250.91" r="0.9" fill="#b30e3c"/>
<circle cx="207.78" cy="238.66" r="0.9" fill="#b30e3c"/>
<circle cx="207.89" cy="252.71" r="0.9" fill="#b30e3c"/>
<circle cx="209.2" cy="252.36" r="0.9" fill="#b30e3c"/>
<circle cx="206.51" cy="252.18" r="0.9" fill="#b30e3c"/>
<circle cx="210.46" cy="251.95" r="0.9" fill="#b30e3c"/>
<circle cx="205.46" cy="252.96" r="0.9" fill="#b30e3c"/>
<circle cx="208.1" cy="236.19" r="0.9" fill="#b30e3c"/>
<circle cx="209.18" cy="236.77" r="0.9" fill="#b30e3c"/>
<circle cx="206.63" cy="236.57" r="0.9" fill="#b30e3c"/>
<circle cx="207.86" cy="244.2" r="0.9" fill="#b30e3c"/>
<circle cx="209.37" cy="244.07" r="0.9" fill="#b30e3c"/>
<circle cx="206.97" cy="244.07" r="0.9" fill="#b30e3c"/>
<circle cx="208.01" cy="233.7" r="0.9" fill="#b30e3c"/>
<circle cx="207.86" cy="248.5" r="0.9" fill="#b30e3c"/>
<circle cx="209.4" cy="247.82" r="0.9" fill="#b30e3c"/>
<circle cx="206.7" cy="247.98" r="0.9" fill="#b30e3c"/>
<circle cx="210.36" cy="248.05" r="0.9" fill="#b30e3c"/>
<circle cx="205.31" cy="247.73" r="0.9" fill="#b30e3c"/>
<circle cx="211.54" cy="248.98" r="0.9" fill="#b30e3c"/>
<circle cx="204.75" cy="248.62" r="0.9" fill="#b30e3c"/>
<circle cx="211.47" cy="248.29" r="0.9" fill="#b30e3c"/>
<circle cx="207.98" cy="247.62" r="0.9" fill="#b30e3c"/>
<circle cx="209.28" cy="246.92" r="0.9" fill="#b30e3c"/>
<circle cx="206.61" cy="246.54" r="0.9" fill="#b30e3c"/>
<circle cx="210.73" cy="247.42" r="0.9" fill="#b30e3c"/>
<circle cx="205.43" cy="247.45" r="0.9" fill="#b30e3c"/>
<circle cx="208.07" cy="254" r="0.9" fill="#b30e3c"/>
<circle cx="208.16" cy="240.93" r="0.9" fill="#b30e3c"/>
<circle cx="208.16" cy="237.78" r="0.9" fill="#b30e3c"/>
<circle cx="209.23" cy="237.26" r="0.9" fill="#b30e3c"/>
<circle cx="206.65" cy="238.03" r="0.9" fill="#b30e3c"/>
<circle cx="208.02" cy="263.6" r="0.9" fill="#b30e3c"/>
<circle cx="207.81" cy="225.98" r="0.9" fill="#b30e3c"/>
<line x1="205.3" y1="249.08" x2="210.7" y2="249.08" stroke="#3a3a3a" stroke-width="1.1" />
<line x1="213.95" y1="229.28" x2="213.95" y2="270.2" stroke="#333" stroke-width="0.6" stroke-dasharray="0.8 1.0"/>
<rect x="210.95" y="247.76" width="6" height="7.92" fill="#cdcdd3" />
<circle cx="213.87" cy="255.68" r="0.9" fill="#b30e3c"/>
<circle cx="215.44" cy="254.55" r="0.9" fill="#b30e3c"/>
<circle cx="212.71" cy="254.58" r="0.9" fill="#b30e3c"/>
<circle cx="216.44" cy="255.22" r="0.9" fill="#b30e3c"/>
<circle cx="211.65" cy="254.54" r="0.9" fill="#b30e3c"/>
<circle cx="213.72" cy="259.26" r="0.9" fill="#b30e3c"/>
<circle cx="214.06" cy="253.67" r="0.9" fill="#b30e3c"/>
<circle cx="215.26" cy="254.21" r="0.9" fill="#b30e3c"/>
<circle cx="212.62" cy="253.74" r="0.9" fill="#b30e3c"/>
<circle cx="216.63" cy="254.09" r="0.9" fill="#b30e3c"/>
<circle cx="211.38" cy="254.47" r="0.9" fill="#b30e3c"/>
<circle cx="213.94" cy="249.96" r="0.9" fill="#b30e3c"/>
<circle cx="215.21" cy="249.12" r="0.9" fill="#b30e3c"/>
<circle cx="212.84" cy="249.1" r="0.9" fill="#b30e3c"/>
<circle cx="216.31" cy="249.53" r="0.9" fill="#b30e3c"/>
<circle cx="211.42" cy="250.19" r="0.9" fill="#b30e3c"/>
<circle cx="213.91" cy="251.88" r="0.9" fill="#b30e3c"/>
<circle cx="215.23" cy="252.36" r="0.9" fill="#b30e3c"/>
<circle cx="214.11" cy="250.63" r="0.9" fill="#b30e3c"/>
<circle cx="215.1" cy="251.73" r="0.9" fill="#b30e3c"/>
<circle cx="212.86" cy="251.22" r="0.9" fill="#b30e3c"/>
<circle cx="216.4" cy="250.85" r="0.9" fill="#b30e3c"/>
<circle cx="213.95" cy="235.24" r="0.9" fill="#b30e3c"/>
<circle cx="213.84" cy="238.12" r="0.9" fill="#b30e3c"/>
<circle cx="215.2" cy="237.8" r="0.9" fill="#b30e3c"/>
<circle cx="214.19" cy="262.57" r="0.9" fill="#b30e3c"/>
<circle cx="214.03" cy="248.14" r="0.9" fill="#b30e3c"/>
<circle cx="215.35" cy="248.62" r="0.9" fill="#b30e3c"/>
<circle cx="212.62" cy="248.69" r="0.9" fill="#b30e3c"/>
<circle cx="216.36" cy="249.02" r="0.9" fill="#b30e3c"/>
<circle cx="213.85" cy="256.83" r="0.9" fill="#b30e3c"/>
<circle cx="215.24" cy="256.48" r="0.9" fill="#b30e3c"/>
<circle cx="214.02" cy="243.86" r="0.9" fill="#b30e3c"/>
<circle cx="215.34" cy="244.82" r="0.9" fill="#b30e3c"/>
<circle cx="213.72" cy="241.11" r="0.9" fill="#b30e3c"/>
<circle cx="215.31" cy="241.87" r="0.9" fill="#b30e3c"/>
<circle cx="214.14" cy="235.88" r="0.9" fill="#b30e3c"/>
<circle cx="213.97" cy="242.41" r="0.9" fill="#b30e3c"/>
<circle cx="213.72" cy="267.11" r="0.9" fill="#b30e3c"/>
<circle cx="213.85" cy="247.41" r="0.9" fill="#b30e3c"/>
<circle cx="213.7" cy="240.19" r="0.9" fill="#b30e3c"/>
<circle cx="213.79" cy="270.2" r="0.9" fill="#b30e3c"/>
<circle cx="214.16" cy="229.28" r="0.9" fill="#b30e3c"/>
<line x1="211.25" y1="251.06" x2="216.65" y2="251.06" stroke="#3a3a3a" stroke-width="1.1" />
<line x1="219.9" y1="225.98" x2="219.9" y2="270.2" stroke="#333" stroke-width="0.6" stroke-dasharray="0.8 1.0"/>
<rect x="216.9" y="247.76" width="6" height="11.88" fill="#cdcdd3" />
<circle cx="220.12" cy="246.46" r="0.9" fill="#7f5c2c"/>
<circle cx="221.03" cy="247.62" r="0.9" fill="#7f5c2c"/>
<circle cx="220.13" cy="229.97" r="0.9" fill="#7f5c2c"/>
<circle cx="220.01" cy="245.39" r="0.9" fill="#7f5c2c"/>
<circle cx="220.91" cy="245.82" r="0.9" fill="#7f5c2c"/>
<circle cx="218.41" cy="245.34" r="0.9" fill="#7f5c2c"/>
<circle cx="219.98" cy="251.72" r="0.9" fill="#7f5c2c"/>
<circle cx="221.31" cy="250.58" r="0.9" fill="#7f5c2c"/>
<circle cx="218.44" cy="250.44" r="0.9" fill="#7f5c2c"/>
<circle cx="222.31" cy="251.09" r="0.9" fill="#7f5c2c"/>
<circle cx="217.51" cy="250.93" r="0.9" fill="#7f5c2c"/>
<circle cx="219.73" cy="257.49" r="0.9" fill="#7f5c2c"/>
<circle cx="221.33" cy="257.84" r="0.9" fill="#7f5c2c"/>
<circle cx="219.89" cy="241.2" r="0.9" fill="#7f5c2c"/>
<circle cx="219.68" cy="249.87" r="0.9" fill="#7f5c2c"/>
<circle cx="221.08" cy="250.01" r="0.9" fill="#7f5c2c"/>
<circle cx="219.94" cy="256.05" r="0.9" fill="#7f5c2c"/>
<circle cx="221.12" cy="255.86" r="0.9" fill="#7f5c2c"/>
<circle cx="219.99" cy="252.02" r="0.9" fill="#7f5c2c"/>
<circle cx="220.97" cy="252.61" r="0.9" fill="#7f5c2c"/>
<circle cx="218.8" cy="251.98" r="0.9" fill="#7f5c2c"/>
<circle cx="222.33" cy="252.17" r="0.9" fill="#7f5c2c"/>
<circle cx="217.47" cy="252" r="0.9" fill="#7f5c2c"/>
<circle cx="219.96" cy="267.78" r="0.9" fill="#7f5c2c"/>
<circle cx="219.86" cy="263.82" r="0.9" fill="#7f5c2c"/>
<circle cx="219.84" cy="239.15" r="0.9" fill="#7f5c2c"/>
<circle cx="221.29" cy="238.65" r="0.9" fill="#7f5c2c"/>
<circle cx="220.12" cy="259.47" r="0.9" fill="#7f5c2c"/>
<circle cx="221.29" cy="259.58" r="0.9" fill="#7f5c2c"/>
<circle cx="218.68" cy="259.04" r="0.9" fill="#7f5c2c"/>
<circle cx="219.8" cy="226.83" r="0.9" fill="#7f5c2c"/>
<circle cx="219.68" cy="254.74" r="0.9" fill="#7f5c2c"/>
<circle cx="220.14" cy="261.51" r="0.9" fill="#7f5c2c"/>
<circle cx="220" cy="266.3" r="0.9" fill="#7f5c2c"/>
<circle cx="220.06" cy="264.5" r="0.9" fill="#7f5c2c"/>
<circle cx="219.82" cy="237.93" r="0.9" fill="#7f5c2c"/>
<circle cx="219.95" cy="270.2" r="0.9" fill="#7f5c2c"/>
<circle cx="220.14" cy="225.98" r="0.9" fill="#7f5c2c"/>
<line x1="217.2" y1="253.7" x2="222.6" y2="253.7" stroke="#3a3a3a" stroke-width="1.1" />
<line x1="225.85" y1="229.28" x2="225.85" y2="257" stroke="#333" stroke-width="0.6" stroke-dasharray="0.8 1.0"/>
<rect x="222.85" y="235.88" width="6" height="18.48" fill="#cdcdd3" />
<circle cx="225.63" cy="240.34" r="0.9" fill="#b30e3c"/>
<circle cx="225.35" cy="246.44" r="0.9" fill="#b30e3c"/>
<circle cx="225.61" cy="246.56" r="0.9" fill="#b30e3c"/>
<circle cx="225.77" cy="241.78" r="0.9" fill="#b30e3c"/>
<circle cx="225.94" cy="234.62" r="0.9" fill="#b30e3c"/>
<circle cx="226.17" cy="257" r="0.9" fill="#b30e3c"/>
<circle cx="226.24" cy="229.28" r="0.9" fill="#b30e3c"/>
<line x1="223.15" y1="246.44" x2="228.55" y2="246.44" stroke="#3a3a3a" stroke-width="1.1" />
<line x1="231.8" y1="208.82" x2="231.8" y2="259.64" stroke="#333" stroke-width="0.6" stroke-dasharray="0.8 1.0"/>
<rect x="228.8" y="230.6" width="6" height="19.8" fill="#cdcdd3" />
<circle cx="231.5" cy="233.9" r="0.9" fill="#48a148"/>
<circle cx="232.23" cy="215.57" r="0.9" fill="#2f6b45"/>
<circle cx="231.91" cy="245.35" r="0.9" fill="#48a148"/>
<circle cx="231.77" cy="218.63" r="0.9" fill="#2f6b45"/>
<circle cx="231.55" cy="222.76" r="0.9" fill="#48a148"/>
<circle cx="232.09" cy="248.72" r="0.9" fill="#48a148"/>
<circle cx="231.39" cy="226.86" r="0.9" fill="#48a148"/>
<circle cx="232.07" cy="259.64" r="0.9" fill="#2f6b45"/>
<circle cx="231.88" cy="208.82" r="0.9" fill="#48a148"/>
<line x1="229.1" y1="238.52" x2="234.5" y2="238.52" stroke="#3a3a3a" stroke-width="1.1" />
<rect x="191.4" y="206" width="45.8" height="66.6" fill="none" stroke="#000" stroke-width="1.3"/>
<line x1="188.2" y1="217.4" x2="191.4" y2="217.4" stroke="#000" stroke-width="0.9" />
<text x="185.8" y="219.7" font-size="6.4" text-anchor="end" fill="#222" stroke="#222" stroke-width="0.2" >2</text>
<line x1="188.2" y1="230.6" x2="191.4" y2="230.6" stroke="#000" stroke-width="0.9" />
<text x="185.8" y="232.9" font-size="6.4" text-anchor="end" fill="#222" stroke="#222" stroke-width="0.2" >1</text>
<line x1="188.2" y1="243.8" x2="191.4" y2="243.8" stroke="#000" stroke-width="0.9" />
<text x="185.8" y="246.1" font-size="6.4" text-anchor="end" fill="#222" stroke="#222" stroke-width="0.2" >0</text>
<line x1="188.2" y1="257" x2="191.4" y2="257" stroke="#000" stroke-width="0.9" />
<text x="185.8" y="259.3" font-size="6.4" text-anchor="end" fill="#222" stroke="#222" stroke-width="0.2" >-1</text>
<line x1="188.2" y1="270.2" x2="191.4" y2="270.2" stroke="#000" stroke-width="0.9" />
<text x="185.8" y="272.5" font-size="6.4" text-anchor="end" fill="#222" stroke="#222" stroke-width="0.2" >-2</text>
<line x1="196.1" y1="272.6" x2="196.1" y2="275.2" stroke="#000" stroke-width="0.9" />
<line x1="202.05" y1="272.6" x2="202.05" y2="275.2" stroke="#000" stroke-width="0.9" />
<line x1="208" y1="272.6" x2="208" y2="275.2" stroke="#000" stroke-width="0.9" />
<line x1="213.95" y1="272.6" x2="213.95" y2="275.2" stroke="#000" stroke-width="0.9" />
<line x1="219.9" y1="272.6" x2="219.9" y2="275.2" stroke="#000" stroke-width="0.9" />
<line x1="225.85" y1="272.6" x2="225.85" y2="275.2" stroke="#000" stroke-width="0.9" />
<line x1="231.8" y1="272.6" x2="231.8" y2="275.2" stroke="#000" stroke-width="0.9" />
<text x="190.4" y="285.2" font-size="6.6" text-anchor="start" fill="#222" textLength="8.1" lengthAdjust="spacingAndGlyphs" stroke="#222" stroke-width="0.2" >M0</text>
<text x="202.05" y="285.2" font-size="6.6" text-anchor="middle" fill="#222" stroke="#222" stroke-width="0.2" >1</text>
<text x="208" y="285.2" font-size="6.6" text-anchor="middle" fill="#222" stroke="#222" stroke-width="0.2" >2</text>
<text x="213.95" y="285.2" font-size="6.6" text-anchor="middle" fill="#222" stroke="#222" stroke-width="0.2" >4</text>
<text x="219.9" y="285.2" font-size="6.6" text-anchor="middle" fill="#222" stroke="#222" stroke-width="0.2" >5</text>
<text x="225.85" y="285.2" font-size="6.6" text-anchor="middle" fill="#222" stroke="#222" stroke-width="0.2" >6</text>
<text x="231.8" y="285.2" font-size="6.6" text-anchor="middle" fill="#222" stroke="#222" stroke-width="0.2" >7</text>
<line x1="225.85" y1="292.6" x2="231.3" y2="292.6" stroke="#808080" stroke-width="1.1" />
<text x="234.2" y="294.7" font-size="6.6" text-anchor="start" fill="#333" stroke-width="0">ns</text>
<line x1="219.9" y1="299.6" x2="231.3" y2="299.6" stroke="#808080" stroke-width="1.1" />
<text x="234.2" y="301.7" font-size="6.6" text-anchor="start" fill="#333" stroke-width="0">ns</text>
<line x1="213.95" y1="306.6" x2="231.3" y2="306.6" stroke="#808080" stroke-width="1.1" />
<text x="234.2" y="308.7" font-size="6.6" text-anchor="start" fill="#333" stroke-width="0">ns</text>
<line x1="208" y1="313.6" x2="231.3" y2="313.6" stroke="#808080" stroke-width="1.1" />
<text x="234.2" y="315.7" font-size="6.6" text-anchor="start" fill="#333" stroke-width="0">ns</text>
<line x1="202.05" y1="320.6" x2="231.3" y2="320.6" stroke="#808080" stroke-width="1.1" />
<text x="234.2" y="322.7" font-size="6.6" text-anchor="start" fill="#333" stroke-width="0">ns</text>
<line x1="196.1" y1="327.6" x2="231.3" y2="327.6" stroke="#808080" stroke-width="1.1" />
<text x="234.2" y="329.7" font-size="6.6" text-anchor="start" fill="#333" stroke-width="0">ns</text>
<text x="280" y="201.6" font-size="6.6" text-anchor="middle" fill="#222" font-style="italic" stroke="#222" stroke-width="0.2" >NEO1</text>
<line x1="257.1" y1="238.6" x2="302.9" y2="238.6" stroke="#4e9a8a" stroke-width="0.7" stroke-dasharray="0.9 1.6"/>
<line x1="261.8" y1="235.42" x2="261.8" y2="270.4" stroke="#333" stroke-width="0.6" stroke-dasharray="0.8 1.0"/>
<rect x="258.8" y="240.19" width="6" height="22.26" fill="#cdcdd3" />
<circle cx="261.9" cy="252.15" r="0.9" fill="#b30e3c"/>
<circle cx="261.64" cy="249.33" r="0.9" fill="#b30e3c"/>
<circle cx="261.82" cy="249.89" r="0.9" fill="#b30e3c"/>
<circle cx="261.32" cy="258.17" r="0.9" fill="#b30e3c"/>
<circle cx="261.33" cy="257.32" r="0.9" fill="#b30e3c"/>
<circle cx="262.29" cy="246.84" r="0.9" fill="#b30e3c"/>
<circle cx="262.17" cy="250.94" r="0.9" fill="#b30e3c"/>
<circle cx="261.79" cy="261.46" r="0.9" fill="#b30e3c"/>
<circle cx="261.87" cy="248.37" r="0.9" fill="#b30e3c"/>
<circle cx="261.56" cy="264.94" r="0.9" fill="#b30e3c"/>
<circle cx="262.08" cy="270.4" r="0.9" fill="#b30e3c"/>
<circle cx="261.73" cy="235.42" r="0.9" fill="#b30e3c"/>
<line x1="259.1" y1="251.32" x2="264.5" y2="251.32" stroke="#3a3a3a" stroke-width="1.1" />
<line x1="267.75" y1="215.54" x2="267.75" y2="265.63" stroke="#333" stroke-width="0.6" stroke-dasharray="0.8 1.0"/>
<rect x="264.75" y="243.37" width="6" height="15.9" fill="#cdcdd3" />
<circle cx="267.92" cy="227.2" r="0.9" fill="#b30e3c"/>
<circle cx="267.81" cy="217.37" r="0.9" fill="#b30e3c"/>
<circle cx="267.73" cy="258.67" r="0.9" fill="#b30e3c"/>
<circle cx="268.92" cy="258.66" r="0.9" fill="#b30e3c"/>
<circle cx="267.91" cy="256.4" r="0.9" fill="#b30e3c"/>
<circle cx="268.99" cy="256.73" r="0.9" fill="#b30e3c"/>
<circle cx="266.56" cy="256.97" r="0.9" fill="#b30e3c"/>
<circle cx="270.07" cy="256.59" r="0.9" fill="#b30e3c"/>
<circle cx="265.11" cy="256.99" r="0.9" fill="#b30e3c"/>
<circle cx="270.93" cy="256.01" r="0.9" fill="#b30e3c"/>
<circle cx="267.86" cy="258.46" r="0.9" fill="#b30e3c"/>
<circle cx="269.03" cy="257.3" r="0.9" fill="#b30e3c"/>
<circle cx="267.57" cy="233.72" r="0.9" fill="#b30e3c"/>
<circle cx="267.94" cy="244.21" r="0.9" fill="#b30e3c"/>
<circle cx="268.88" cy="244.02" r="0.9" fill="#b30e3c"/>
<circle cx="266.46" cy="244.52" r="0.9" fill="#b30e3c"/>
<circle cx="270.08" cy="244.42" r="0.9" fill="#b30e3c"/>
<circle cx="265.14" cy="244.5" r="0.9" fill="#b30e3c"/>
<circle cx="267.92" cy="262.42" r="0.9" fill="#b30e3c"/>
<circle cx="268.92" cy="262.03" r="0.9" fill="#b30e3c"/>
<circle cx="267.58" cy="249.34" r="0.9" fill="#b30e3c"/>
<circle cx="269" cy="250.29" r="0.9" fill="#b30e3c"/>
<circle cx="266.41" cy="249.48" r="0.9" fill="#b30e3c"/>
<circle cx="267.95" cy="230.9" r="0.9" fill="#b30e3c"/>
<circle cx="267.56" cy="215.96" r="0.9" fill="#b30e3c"/>
<circle cx="269.24" cy="215.54" r="0.9" fill="#b30e3c"/>
<circle cx="267.53" cy="253.67" r="0.9" fill="#b30e3c"/>
<circle cx="269.2" cy="254.12" r="0.9" fill="#b30e3c"/>
<circle cx="267.83" cy="220.32" r="0.9" fill="#b30e3c"/>
<circle cx="267.61" cy="263.27" r="0.9" fill="#b30e3c"/>
<circle cx="267.74" cy="230.09" r="0.9" fill="#b30e3c"/>
<circle cx="268.89" cy="229.94" r="0.9" fill="#b30e3c"/>
<circle cx="267.63" cy="218.58" r="0.9" fill="#b30e3c"/>
<circle cx="267.6" cy="252.59" r="0.9" fill="#b30e3c"/>
<circle cx="268.93" cy="252.16" r="0.9" fill="#b30e3c"/>
<circle cx="268" cy="237.45" r="0.9" fill="#b30e3c"/>
<circle cx="268" cy="221.12" r="0.9" fill="#b30e3c"/>
<circle cx="267.96" cy="265.63" r="0.9" fill="#b30e3c"/>
<line x1="265.05" y1="252.12" x2="270.45" y2="252.12" stroke="#3a3a3a" stroke-width="1.1" />
<line x1="273.7" y1="227.47" x2="273.7" y2="270.4" stroke="#333" stroke-width="0.6" stroke-dasharray="0.8 1.0"/>
<rect x="270.7" y="248.14" width="6" height="11.13" fill="#cdcdd3" />
<circle cx="273.88" cy="256.05" r="0.9" fill="#b30e3c"/>
<circle cx="275.06" cy="256.9" r="0.9" fill="#b30e3c"/>
<circle cx="272.22" cy="256.98" r="0.9" fill="#b30e3c"/>
<circle cx="276.01" cy="256.01" r="0.9" fill="#b30e3c"/>
<circle cx="273.7" cy="267.93" r="0.9" fill="#b30e3c"/>
<circle cx="273.7" cy="269.71" r="0.9" fill="#b30e3c"/>
<circle cx="274.84" cy="270.4" r="0.9" fill="#b30e3c"/>
<circle cx="273.51" cy="255.76" r="0.9" fill="#b30e3c"/>
<circle cx="273.65" cy="259.25" r="0.9" fill="#b30e3c"/>
<circle cx="274.77" cy="259.52" r="0.9" fill="#b30e3c"/>
<circle cx="272.5" cy="258.54" r="0.9" fill="#b30e3c"/>
<circle cx="276.38" cy="259.1" r="0.9" fill="#b30e3c"/>
<circle cx="271.02" cy="258.97" r="0.9" fill="#b30e3c"/>
<circle cx="277.14" cy="259.56" r="0.9" fill="#b30e3c"/>
<circle cx="273.82" cy="247.79" r="0.9" fill="#b30e3c"/>
<circle cx="273.53" cy="254.43" r="0.9" fill="#b30e3c"/>
<circle cx="275.11" cy="253.8" r="0.9" fill="#b30e3c"/>
<circle cx="272.67" cy="253.48" r="0.9" fill="#b30e3c"/>
<circle cx="276.14" cy="253.53" r="0.9" fill="#b30e3c"/>
<circle cx="273.66" cy="261.03" r="0.9" fill="#b30e3c"/>
<circle cx="275.12" cy="261.1" r="0.9" fill="#b30e3c"/>
<circle cx="272.46" cy="260.8" r="0.9" fill="#b30e3c"/>
<circle cx="273.65" cy="250.69" r="0.9" fill="#b30e3c"/>
<circle cx="275.17" cy="251.44" r="0.9" fill="#b30e3c"/>
<circle cx="272.59" cy="251.32" r="0.9" fill="#b30e3c"/>
<circle cx="276.12" cy="251.35" r="0.9" fill="#b30e3c"/>
<circle cx="271.07" cy="250.91" r="0.9" fill="#b30e3c"/>
<circle cx="277.02" cy="250.5" r="0.9" fill="#b30e3c"/>
<circle cx="270.27" cy="250.7" r="0.9" fill="#b30e3c"/>
<circle cx="273.94" cy="258.3" r="0.9" fill="#b30e3c"/>
<circle cx="275.1" cy="257.45" r="0.9" fill="#b30e3c"/>
<circle cx="272.66" cy="258.13" r="0.9" fill="#b30e3c"/>
<circle cx="276.36" cy="258.2" r="0.9" fill="#b30e3c"/>
<circle cx="273.87" cy="245.7" r="0.9" fill="#b30e3c"/>
<circle cx="274.73" cy="245.37" r="0.9" fill="#b30e3c"/>
<circle cx="273.71" cy="263.34" r="0.9" fill="#b30e3c"/>
<circle cx="273.93" cy="233.29" r="0.9" fill="#b30e3c"/>
<circle cx="275.17" cy="233.25" r="0.9" fill="#b30e3c"/>
<circle cx="273.57" cy="249.94" r="0.9" fill="#b30e3c"/>
<circle cx="274.91" cy="250.01" r="0.9" fill="#b30e3c"/>
<circle cx="272.52" cy="249.56" r="0.9" fill="#b30e3c"/>
<circle cx="276.13" cy="249.16" r="0.9" fill="#b30e3c"/>
<circle cx="271.22" cy="250.18" r="0.9" fill="#b30e3c"/>
<circle cx="273.48" cy="252.65" r="0.9" fill="#b30e3c"/>
<circle cx="274.92" cy="252.6" r="0.9" fill="#b30e3c"/>
<circle cx="273.7" cy="264.28" r="0.9" fill="#b30e3c"/>
<circle cx="273.46" cy="262.05" r="0.9" fill="#b30e3c"/>
<circle cx="273.52" cy="227.47" r="0.9" fill="#b30e3c"/>
<line x1="271" y1="254.5" x2="276.4" y2="254.5" stroke="#3a3a3a" stroke-width="1.1" />
<line x1="279.65" y1="219.52" x2="279.65" y2="270.4" stroke="#333" stroke-width="0.6" stroke-dasharray="0.8 1.0"/>
<rect x="276.65" y="251.32" width="6" height="7.95" fill="#cdcdd3" />
<circle cx="279.81" cy="230.89" r="0.9" fill="#b30e3c"/>
<circle cx="279.66" cy="238.18" r="0.9" fill="#b30e3c"/>
<circle cx="281.02" cy="237.64" r="0.9" fill="#b30e3c"/>
<circle cx="279.77" cy="225.4" r="0.9" fill="#b30e3c"/>
<circle cx="279.78" cy="268.65" r="0.9" fill="#b30e3c"/>
<circle cx="279.64" cy="257.02" r="0.9" fill="#b30e3c"/>
<circle cx="281.04" cy="256.79" r="0.9" fill="#b30e3c"/>
<circle cx="278.5" cy="256.04" r="0.9" fill="#b30e3c"/>
<circle cx="282.36" cy="256.47" r="0.9" fill="#b30e3c"/>
<circle cx="276.96" cy="256.19" r="0.9" fill="#b30e3c"/>
<circle cx="283.24" cy="256.59" r="0.9" fill="#b30e3c"/>
<circle cx="279.4" cy="257.46" r="0.9" fill="#b30e3c"/>
<circle cx="281.03" cy="258.23" r="0.9" fill="#b30e3c"/>
<circle cx="278.44" cy="257.33" r="0.9" fill="#b30e3c"/>
<circle cx="282.15" cy="257.34" r="0.9" fill="#b30e3c"/>
<circle cx="277.38" cy="258.26" r="0.9" fill="#b30e3c"/>
<circle cx="283.09" cy="257.48" r="0.9" fill="#b30e3c"/>
<circle cx="279.61" cy="252.08" r="0.9" fill="#b30e3c"/>
<circle cx="279.79" cy="255.77" r="0.9" fill="#b30e3c"/>
<circle cx="281.09" cy="254.55" r="0.9" fill="#b30e3c"/>
<circle cx="278.45" cy="255.56" r="0.9" fill="#b30e3c"/>
<circle cx="282.09" cy="254.93" r="0.9" fill="#b30e3c"/>
<circle cx="277.13" cy="254.91" r="0.9" fill="#b30e3c"/>
<circle cx="283.03" cy="255.2" r="0.9" fill="#b30e3c"/>
<circle cx="276.36" cy="254.61" r="0.9" fill="#b30e3c"/>
<circle cx="279.55" cy="254.12" r="0.9" fill="#b30e3c"/>
<circle cx="280.85" cy="253.62" r="0.9" fill="#b30e3c"/>
<circle cx="278.43" cy="253.13" r="0.9" fill="#b30e3c"/>
<circle cx="282.09" cy="253.42" r="0.9" fill="#b30e3c"/>
<circle cx="277.06" cy="253.9" r="0.9" fill="#b30e3c"/>
<circle cx="279.79" cy="244.26" r="0.9" fill="#b30e3c"/>
<circle cx="279.82" cy="260.47" r="0.9" fill="#b30e3c"/>
<circle cx="279.65" cy="239.37" r="0.9" fill="#b30e3c"/>
<circle cx="279.62" cy="245.7" r="0.9" fill="#b30e3c"/>
<circle cx="279.49" cy="251.04" r="0.9" fill="#b30e3c"/>
<circle cx="280.8" cy="251.42" r="0.9" fill="#b30e3c"/>
<circle cx="279.47" cy="250.38" r="0.9" fill="#b30e3c"/>
<circle cx="279.69" cy="258.74" r="0.9" fill="#b30e3c"/>
<circle cx="279.69" cy="248.01" r="0.9" fill="#b30e3c"/>
<circle cx="279.44" cy="232.82" r="0.9" fill="#b30e3c"/>
<circle cx="279.86" cy="239.83" r="0.9" fill="#b30e3c"/>
<circle cx="279.56" cy="270.4" r="0.9" fill="#b30e3c"/>
<circle cx="279.82" cy="219.52" r="0.9" fill="#b30e3c"/>
<line x1="276.95" y1="255.29" x2="282.35" y2="255.29" stroke="#3a3a3a" stroke-width="1.1" />
<line x1="285.6" y1="208.39" x2="285.6" y2="265.63" stroke="#333" stroke-width="0.6" stroke-dasharray="0.8 1.0"/>
<rect x="282.6" y="232.24" width="6" height="15.9" fill="#cdcdd3" />
<circle cx="285.63" cy="210.75" r="0.9" fill="#7f5c2c"/>
<circle cx="286.73" cy="210.42" r="0.9" fill="#7f5c2c"/>
<circle cx="285.67" cy="241.36" r="0.9" fill="#7f5c2c"/>
<circle cx="286.87" cy="241.77" r="0.9" fill="#7f5c2c"/>
<circle cx="284.6" cy="241.14" r="0.9" fill="#7f5c2c"/>
<circle cx="288.14" cy="241.6" r="0.9" fill="#7f5c2c"/>
<circle cx="285.56" cy="265.02" r="0.9" fill="#7f5c2c"/>
<circle cx="285.41" cy="239.16" r="0.9" fill="#7f5c2c"/>
<circle cx="285.43" cy="233.51" r="0.9" fill="#7f5c2c"/>
<circle cx="286.98" cy="233.92" r="0.9" fill="#7f5c2c"/>
<circle cx="285.4" cy="234.81" r="0.9" fill="#7f5c2c"/>
<circle cx="286.65" cy="234.75" r="0.9" fill="#7f5c2c"/>
<circle cx="285.44" cy="236.01" r="0.9" fill="#7f5c2c"/>
<circle cx="286.86" cy="235.89" r="0.9" fill="#7f5c2c"/>
<circle cx="284.51" cy="236.29" r="0.9" fill="#7f5c2c"/>
<circle cx="285.66" cy="231.83" r="0.9" fill="#7f5c2c"/>
<circle cx="287" cy="232.58" r="0.9" fill="#7f5c2c"/>
<circle cx="284.13" cy="232.45" r="0.9" fill="#7f5c2c"/>
<circle cx="285.36" cy="242.45" r="0.9" fill="#7f5c2c"/>
<circle cx="285.74" cy="244.05" r="0.9" fill="#7f5c2c"/>
<circle cx="286.76" cy="243.97" r="0.9" fill="#7f5c2c"/>
<circle cx="285.71" cy="226.91" r="0.9" fill="#7f5c2c"/>
<circle cx="286.78" cy="226.88" r="0.9" fill="#7f5c2c"/>
<circle cx="285.43" cy="253.27" r="0.9" fill="#7f5c2c"/>
<circle cx="285.48" cy="220.46" r="0.9" fill="#7f5c2c"/>
<circle cx="285.4" cy="239.71" r="0.9" fill="#7f5c2c"/>
<circle cx="287.05" cy="240.01" r="0.9" fill="#7f5c2c"/>
<circle cx="284.39" cy="240.22" r="0.9" fill="#7f5c2c"/>
<circle cx="285.52" cy="255.86" r="0.9" fill="#7f5c2c"/>
<circle cx="286.82" cy="256.74" r="0.9" fill="#7f5c2c"/>
<circle cx="285.54" cy="214.79" r="0.9" fill="#7f5c2c"/>
<circle cx="285.38" cy="245.65" r="0.9" fill="#7f5c2c"/>
<circle cx="285.8" cy="250.01" r="0.9" fill="#7f5c2c"/>
<circle cx="285.64" cy="238.12" r="0.9" fill="#7f5c2c"/>
<circle cx="285.83" cy="229.2" r="0.9" fill="#7f5c2c"/>
<circle cx="285.57" cy="248.07" r="0.9" fill="#7f5c2c"/>
<circle cx="285.66" cy="265.63" r="0.9" fill="#7f5c2c"/>
<circle cx="285.47" cy="208.39" r="0.9" fill="#7f5c2c"/>
<line x1="282.9" y1="237.81" x2="288.3" y2="237.81" stroke="#3a3a3a" stroke-width="1.1" />
<line x1="291.55" y1="213.16" x2="291.55" y2="248.14" stroke="#333" stroke-width="0.6" stroke-dasharray="0.8 1.0"/>
<rect x="288.55" y="225.88" width="6" height="19.08" fill="#cdcdd3" />
<circle cx="292" cy="227.2" r="0.9" fill="#2f6b45"/>
<circle cx="291.44" cy="237.13" r="0.9" fill="#48a148"/>
<circle cx="291.27" cy="219.6" r="0.9" fill="#2f6b45"/>
<circle cx="291.93" cy="233.46" r="0.9" fill="#48a148"/>
<circle cx="291.84" cy="230.81" r="0.9" fill="#2f6b45"/>
<circle cx="291.22" cy="248.14" r="0.9" fill="#2f6b45"/>
<circle cx="291.24" cy="213.16" r="0.9" fill="#48a148"/>
<line x1="288.85" y1="240.19" x2="294.25" y2="240.19" stroke="#3a3a3a" stroke-width="1.1" />
<line x1="297.5" y1="209.98" x2="297.5" y2="232.24" stroke="#333" stroke-width="0.6" stroke-dasharray="0.8 1.0"/>
<rect x="294.5" y="213.16" width="6" height="7.95" fill="#cdcdd3" />
<circle cx="297.03" cy="216.65" r="0.9" fill="#48a148"/>
<circle cx="297.34" cy="216.87" r="0.9" fill="#2f6b45"/>
<circle cx="297.71" cy="217.9" r="0.9" fill="#2f6b45"/>
<circle cx="297.27" cy="220.13" r="0.9" fill="#48a148"/>
<circle cx="297.13" cy="219.59" r="0.9" fill="#48a148"/>
<circle cx="297.84" cy="224.42" r="0.9" fill="#48a148"/>
<circle cx="297.16" cy="219.22" r="0.9" fill="#2f6b45"/>
<circle cx="297.72" cy="232.24" r="0.9" fill="#2f6b45"/>
<circle cx="297.96" cy="209.98" r="0.9" fill="#2f6b45"/>
<line x1="294.8" y1="216.34" x2="300.2" y2="216.34" stroke="#3a3a3a" stroke-width="1.1" />
<rect x="257.1" y="206" width="45.8" height="66.6" fill="none" stroke="#000" stroke-width="1.3"/>
<line x1="253.9" y1="206.8" x2="257.1" y2="206.8" stroke="#000" stroke-width="0.9" />
<text x="251.5" y="209.1" font-size="6.4" text-anchor="end" fill="#222" stroke="#222" stroke-width="0.2" >2</text>
<line x1="253.9" y1="222.7" x2="257.1" y2="222.7" stroke="#000" stroke-width="0.9" />
<text x="251.5" y="225" font-size="6.4" text-anchor="end" fill="#222" stroke="#222" stroke-width="0.2" >1</text>
<line x1="253.9" y1="238.6" x2="257.1" y2="238.6" stroke="#000" stroke-width="0.9" />
<text x="251.5" y="240.9" font-size="6.4" text-anchor="end" fill="#222" stroke="#222" stroke-width="0.2" >0</text>
<line x1="253.9" y1="254.5" x2="257.1" y2="254.5" stroke="#000" stroke-width="0.9" />
<text x="251.5" y="256.8" font-size="6.4" text-anchor="end" fill="#222" stroke="#222" stroke-width="0.2" >-1</text>
<line x1="253.9" y1="270.4" x2="257.1" y2="270.4" stroke="#000" stroke-width="0.9" />
<text x="251.5" y="272.7" font-size="6.4" text-anchor="end" fill="#222" stroke="#222" stroke-width="0.2" >-2</text>
<line x1="261.8" y1="272.6" x2="261.8" y2="275.2" stroke="#000" stroke-width="0.9" />
<line x1="267.75" y1="272.6" x2="267.75" y2="275.2" stroke="#000" stroke-width="0.9" />
<line x1="273.7" y1="272.6" x2="273.7" y2="275.2" stroke="#000" stroke-width="0.9" />
<line x1="279.65" y1="272.6" x2="279.65" y2="275.2" stroke="#000" stroke-width="0.9" />
<line x1="285.6" y1="272.6" x2="285.6" y2="275.2" stroke="#000" stroke-width="0.9" />
<line x1="291.55" y1="272.6" x2="291.55" y2="275.2" stroke="#000" stroke-width="0.9" />
<line x1="297.5" y1="272.6" x2="297.5" y2="275.2" stroke="#000" stroke-width="0.9" />
<text x="256.1" y="285.2" font-size="6.6" text-anchor="start" fill="#222" textLength="8.1" lengthAdjust="spacingAndGlyphs" stroke="#222" stroke-width="0.2" >M0</text>
<text x="267.75" y="285.2" font-size="6.6" text-anchor="middle" fill="#222" stroke="#222" stroke-width="0.2" >1</text>
<text x="273.7" y="285.2" font-size="6.6" text-anchor="middle" fill="#222" stroke="#222" stroke-width="0.2" >2</text>
<text x="279.65" y="285.2" font-size="6.6" text-anchor="middle" fill="#222" stroke="#222" stroke-width="0.2" >4</text>
<text x="285.6" y="285.2" font-size="6.6" text-anchor="middle" fill="#222" stroke="#222" stroke-width="0.2" >5</text>
<text x="291.55" y="285.2" font-size="6.6" text-anchor="middle" fill="#222" stroke="#222" stroke-width="0.2" >6</text>
<text x="297.5" y="285.2" font-size="6.6" text-anchor="middle" fill="#222" stroke="#222" stroke-width="0.2" >7</text>
<line x1="291.55" y1="292.6" x2="297" y2="292.6" stroke="#808080" stroke-width="1.1" />
<text x="299.9" y="294.7" font-size="6.6" text-anchor="start" fill="#333" stroke-width="0">ns</text>
<line x1="285.6" y1="299.6" x2="297" y2="299.6" stroke="#808080" stroke-width="1.1" />
<text x="299.9" y="303.2" font-size="6.8" text-anchor="start" fill="#222" stroke-width="0">***</text>
<line x1="279.65" y1="306.6" x2="297" y2="306.6" stroke="#808080" stroke-width="1.1" />
<text x="299.9" y="310.2" font-size="6.8" text-anchor="start" fill="#222" stroke-width="0">****</text>
<line x1="273.7" y1="313.6" x2="297" y2="313.6" stroke="#808080" stroke-width="1.1" />
<text x="299.9" y="317.2" font-size="6.8" text-anchor="start" fill="#222" stroke-width="0">****</text>
<line x1="267.75" y1="320.6" x2="297" y2="320.6" stroke="#808080" stroke-width="1.1" />
<text x="299.9" y="324.2" font-size="6.8" text-anchor="start" fill="#222" stroke-width="0">****</text>
<line x1="261.8" y1="327.6" x2="297" y2="327.6" stroke="#808080" stroke-width="1.1" />
<text x="299.9" y="331.2" font-size="6.8" text-anchor="start" fill="#222" stroke-width="0">***</text>
<text x="346.6" y="201.6" font-size="6.6" text-anchor="middle" fill="#222" font-style="italic" stroke="#222" stroke-width="0.2" >CD96</text>
<line x1="323.7" y1="244.4" x2="369.5" y2="244.4" stroke="#4e9a8a" stroke-width="0.7" stroke-dasharray="0.9 1.6"/>
<line x1="328.4" y1="210.14" x2="328.4" y2="257.25" stroke="#333" stroke-width="0.6" stroke-dasharray="0.8 1.0"/>
<rect x="325.4" y="219.56" width="6" height="14.56" fill="#cdcdd3" />
<circle cx="328.56" cy="233.47" r="0.9" fill="#b30e3c"/>
<circle cx="328.47" cy="227.53" r="0.9" fill="#b30e3c"/>
<circle cx="328.21" cy="223.84" r="0.9" fill="#b30e3c"/>
<circle cx="328.29" cy="221.02" r="0.9" fill="#b30e3c"/>
<circle cx="327.99" cy="221.42" r="0.9" fill="#b30e3c"/>
<circle cx="328.08" cy="234.34" r="0.9" fill="#b30e3c"/>
<circle cx="328.75" cy="225.27" r="0.9" fill="#b30e3c"/>
<circle cx="328.22" cy="226.65" r="0.9" fill="#b30e3c"/>
<circle cx="328.56" cy="237.35" r="0.9" fill="#b30e3c"/>
<circle cx="328.01" cy="239.12" r="0.9" fill="#b30e3c"/>
<circle cx="328.46" cy="257.25" r="0.9" fill="#b30e3c"/>
<circle cx="328.26" cy="210.14" r="0.9" fill="#b30e3c"/>
<line x1="325.7" y1="225.56" x2="331.1" y2="225.56" stroke="#3a3a3a" stroke-width="1.1" />
<line x1="334.35" y1="209.28" x2="334.35" y2="264.1" stroke="#333" stroke-width="0.6" stroke-dasharray="0.8 1.0"/>
<rect x="331.35" y="215.28" width="6" height="25.7" fill="#cdcdd3" />
<circle cx="334.45" cy="240.58" r="0.9" fill="#b30e3c"/>
<circle cx="335.72" cy="240.21" r="0.9" fill="#b30e3c"/>
<circle cx="333.26" cy="239.97" r="0.9" fill="#b30e3c"/>
<circle cx="334.41" cy="232.98" r="0.9" fill="#b30e3c"/>
<circle cx="335.58" cy="233.19" r="0.9" fill="#b30e3c"/>
<circle cx="334.13" cy="237.73" r="0.9" fill="#b30e3c"/>
<circle cx="335.7" cy="238.01" r="0.9" fill="#b30e3c"/>
<circle cx="333.06" cy="238.12" r="0.9" fill="#b30e3c"/>
<circle cx="334.36" cy="241.17" r="0.9" fill="#b30e3c"/>
<circle cx="334.56" cy="217.62" r="0.9" fill="#b30e3c"/>
<circle cx="335.41" cy="217.07" r="0.9" fill="#b30e3c"/>
<circle cx="334.48" cy="215.71" r="0.9" fill="#b30e3c"/>
<circle cx="335.37" cy="216.66" r="0.9" fill="#b30e3c"/>
<circle cx="334.45" cy="256.85" r="0.9" fill="#b30e3c"/>
<circle cx="334.5" cy="225.82" r="0.9" fill="#b30e3c"/>
<circle cx="335.48" cy="224.82" r="0.9" fill="#b30e3c"/>
<circle cx="334.37" cy="230.37" r="0.9" fill="#b30e3c"/>
<circle cx="334.58" cy="224.39" r="0.9" fill="#b30e3c"/>
<circle cx="335.67" cy="223.86" r="0.9" fill="#b30e3c"/>
<circle cx="333.12" cy="224.57" r="0.9" fill="#b30e3c"/>
<circle cx="336.72" cy="223.69" r="0.9" fill="#b30e3c"/>
<circle cx="334.13" cy="219.22" r="0.9" fill="#b30e3c"/>
<circle cx="335.53" cy="219.03" r="0.9" fill="#b30e3c"/>
<circle cx="334.31" cy="250.91" r="0.9" fill="#b30e3c"/>
<circle cx="335.45" cy="250.63" r="0.9" fill="#b30e3c"/>
<circle cx="334.26" cy="236.81" r="0.9" fill="#b30e3c"/>
<circle cx="334.17" cy="219.4" r="0.9" fill="#b30e3c"/>
<circle cx="335.7" cy="219.54" r="0.9" fill="#b30e3c"/>
<circle cx="334.44" cy="229.8" r="0.9" fill="#b30e3c"/>
<circle cx="334.22" cy="238.49" r="0.9" fill="#b30e3c"/>
<circle cx="334.22" cy="248.4" r="0.9" fill="#b30e3c"/>
<circle cx="335.61" cy="248.69" r="0.9" fill="#b30e3c"/>
<circle cx="334.32" cy="252.58" r="0.9" fill="#b30e3c"/>
<circle cx="334.57" cy="223.01" r="0.9" fill="#b30e3c"/>
<circle cx="335.53" cy="223.12" r="0.9" fill="#b30e3c"/>
<circle cx="334.25" cy="221.77" r="0.9" fill="#b30e3c"/>
<circle cx="334.54" cy="264.1" r="0.9" fill="#b30e3c"/>
<circle cx="334.17" cy="209.28" r="0.9" fill="#b30e3c"/>
<line x1="331.65" y1="222.13" x2="337.05" y2="222.13" stroke="#3a3a3a" stroke-width="1.1" />
<line x1="340.3" y1="211" x2="340.3" y2="244.4" stroke="#333" stroke-width="0.6" stroke-dasharray="0.8 1.0"/>
<rect x="337.3" y="214.42" width="6" height="12.85" fill="#cdcdd3" />
<circle cx="340.48" cy="228.12" r="0.9" fill="#b30e3c"/>
<circle cx="341.69" cy="228.28" r="0.9" fill="#b30e3c"/>
<circle cx="339.01" cy="227.89" r="0.9" fill="#b30e3c"/>
<circle cx="340.19" cy="226.09" r="0.9" fill="#b30e3c"/>
<circle cx="341.63" cy="225.47" r="0.9" fill="#b30e3c"/>
<circle cx="339.06" cy="224.88" r="0.9" fill="#b30e3c"/>
<circle cx="342.76" cy="225.25" r="0.9" fill="#b30e3c"/>
<circle cx="340.22" cy="238.75" r="0.9" fill="#b30e3c"/>
<circle cx="341.52" cy="238.77" r="0.9" fill="#b30e3c"/>
<circle cx="340.38" cy="221.99" r="0.9" fill="#b30e3c"/>
<circle cx="341.71" cy="221.69" r="0.9" fill="#b30e3c"/>
<circle cx="339.25" cy="221.32" r="0.9" fill="#b30e3c"/>
<circle cx="342.63" cy="221.58" r="0.9" fill="#b30e3c"/>
<circle cx="337.7" cy="221.62" r="0.9" fill="#b30e3c"/>
<circle cx="340.27" cy="217.43" r="0.9" fill="#b30e3c"/>
<circle cx="341.58" cy="216.88" r="0.9" fill="#b30e3c"/>
<circle cx="338.97" cy="217.98" r="0.9" fill="#b30e3c"/>
<circle cx="340.15" cy="240.58" r="0.9" fill="#b30e3c"/>
<circle cx="340.09" cy="222.64" r="0.9" fill="#b30e3c"/>
<circle cx="341.46" cy="223.1" r="0.9" fill="#b30e3c"/>
<circle cx="339.03" cy="222.61" r="0.9" fill="#b30e3c"/>
<circle cx="343.04" cy="222.6" r="0.9" fill="#b30e3c"/>
<circle cx="338" cy="222.54" r="0.9" fill="#b30e3c"/>
<circle cx="340.48" cy="226.49" r="0.9" fill="#b30e3c"/>
<circle cx="341.79" cy="226.35" r="0.9" fill="#b30e3c"/>
<circle cx="339.28" cy="226.91" r="0.9" fill="#b30e3c"/>
<circle cx="342.86" cy="227.3" r="0.9" fill="#b30e3c"/>
<circle cx="340.46" cy="224.74" r="0.9" fill="#b30e3c"/>
<circle cx="341.33" cy="224.11" r="0.9" fill="#b30e3c"/>
<circle cx="340.39" cy="214.52" r="0.9" fill="#b30e3c"/>
<circle cx="341.6" cy="214.9" r="0.9" fill="#b30e3c"/>
<circle cx="340.2" cy="241.6" r="0.9" fill="#b30e3c"/>
<circle cx="341.59" cy="241.41" r="0.9" fill="#b30e3c"/>
<circle cx="340.53" cy="213.17" r="0.9" fill="#b30e3c"/>
<circle cx="340.29" cy="233.32" r="0.9" fill="#b30e3c"/>
<circle cx="340.37" cy="220.29" r="0.9" fill="#b30e3c"/>
<circle cx="341.45" cy="219.99" r="0.9" fill="#b30e3c"/>
<circle cx="338.97" cy="219.8" r="0.9" fill="#b30e3c"/>
<circle cx="340.49" cy="215.46" r="0.9" fill="#b30e3c"/>
<circle cx="341.31" cy="216.36" r="0.9" fill="#b30e3c"/>
<circle cx="338.89" cy="216.28" r="0.9" fill="#b30e3c"/>
<circle cx="342.89" cy="216.66" r="0.9" fill="#b30e3c"/>
<circle cx="337.77" cy="216.67" r="0.9" fill="#b30e3c"/>
<circle cx="343.49" cy="216.47" r="0.9" fill="#b30e3c"/>
<circle cx="340.38" cy="236.4" r="0.9" fill="#b30e3c"/>
<circle cx="340.24" cy="218.43" r="0.9" fill="#b30e3c"/>
<circle cx="340.34" cy="244.4" r="0.9" fill="#b30e3c"/>
<circle cx="340.26" cy="211" r="0.9" fill="#b30e3c"/>
<line x1="337.6" y1="222.13" x2="343" y2="222.13" stroke="#3a3a3a" stroke-width="1.1" />
<line x1="346.25" y1="212.71" x2="346.25" y2="265.81" stroke="#333" stroke-width="0.6" stroke-dasharray="0.8 1.0"/>
<rect x="343.25" y="223.84" width="6" height="14.56" fill="#cdcdd3" />
<circle cx="346.4" cy="233" r="0.9" fill="#b30e3c"/>
<circle cx="346.09" cy="236.74" r="0.9" fill="#b30e3c"/>
<circle cx="347.53" cy="236.58" r="0.9" fill="#b30e3c"/>
<circle cx="344.9" cy="235.59" r="0.9" fill="#b30e3c"/>
<circle cx="348.84" cy="236.8" r="0.9" fill="#b30e3c"/>
<circle cx="346.19" cy="225.45" r="0.9" fill="#b30e3c"/>
<circle cx="347.32" cy="225.89" r="0.9" fill="#b30e3c"/>
<circle cx="345.19" cy="225.47" r="0.9" fill="#b30e3c"/>
<circle cx="346.27" cy="248.31" r="0.9" fill="#b30e3c"/>
<circle cx="347.59" cy="248.28" r="0.9" fill="#b30e3c"/>
<circle cx="345.15" cy="248.65" r="0.9" fill="#b30e3c"/>
<circle cx="348.97" cy="248.27" r="0.9" fill="#b30e3c"/>
<circle cx="346.01" cy="252.35" r="0.9" fill="#b30e3c"/>
<circle cx="346.17" cy="230.68" r="0.9" fill="#b30e3c"/>
<circle cx="347.33" cy="231.28" r="0.9" fill="#b30e3c"/>
<circle cx="345" cy="230.41" r="0.9" fill="#b30e3c"/>
<circle cx="346.44" cy="244.44" r="0.9" fill="#b30e3c"/>
<circle cx="347.65" cy="245" r="0.9" fill="#b30e3c"/>
<circle cx="344.77" cy="244.9" r="0.9" fill="#b30e3c"/>
<circle cx="346.09" cy="232.2" r="0.9" fill="#b30e3c"/>
<circle cx="347.66" cy="232.46" r="0.9" fill="#b30e3c"/>
<circle cx="345.09" cy="232" r="0.9" fill="#b30e3c"/>
<circle cx="346.2" cy="226.5" r="0.9" fill="#b30e3c"/>
<circle cx="347.49" cy="227.1" r="0.9" fill="#b30e3c"/>
<circle cx="344.83" cy="226.2" r="0.9" fill="#b30e3c"/>
<circle cx="346.42" cy="223.98" r="0.9" fill="#b30e3c"/>
<circle cx="347.45" cy="224.43" r="0.9" fill="#b30e3c"/>
<circle cx="346.44" cy="234.96" r="0.9" fill="#b30e3c"/>
<circle cx="346.31" cy="238.18" r="0.9" fill="#b30e3c"/>
<circle cx="346.04" cy="228.1" r="0.9" fill="#b30e3c"/>
<circle cx="347.41" cy="227.67" r="0.9" fill="#b30e3c"/>
<circle cx="344.86" cy="227.48" r="0.9" fill="#b30e3c"/>
<circle cx="346.45" cy="222.6" r="0.9" fill="#b30e3c"/>
<circle cx="346.29" cy="221.07" r="0.9" fill="#b30e3c"/>
<circle cx="346.02" cy="256.89" r="0.9" fill="#b30e3c"/>
<circle cx="346.08" cy="240.56" r="0.9" fill="#b30e3c"/>
<circle cx="346.18" cy="229.67" r="0.9" fill="#b30e3c"/>
<circle cx="347.48" cy="229.61" r="0.9" fill="#b30e3c"/>
<circle cx="345.04" cy="229.96" r="0.9" fill="#b30e3c"/>
<circle cx="346.19" cy="259.3" r="0.9" fill="#b30e3c"/>
<circle cx="347.43" cy="259.81" r="0.9" fill="#b30e3c"/>
<circle cx="346" cy="265.81" r="0.9" fill="#b30e3c"/>
<circle cx="346.29" cy="212.71" r="0.9" fill="#b30e3c"/>
<line x1="343.55" y1="231.55" x2="348.95" y2="231.55" stroke="#3a3a3a" stroke-width="1.1" />
<line x1="352.2" y1="214.42" x2="352.2" y2="270.1" stroke="#333" stroke-width="0.6" stroke-dasharray="0.8 1.0"/>
<rect x="349.2" y="235.84" width="6" height="17.13" fill="#cdcdd3" />
<circle cx="352.4" cy="252.61" r="0.9" fill="#7f5c2c"/>
<circle cx="353.34" cy="251.83" r="0.9" fill="#7f5c2c"/>
<circle cx="352.08" cy="236.07" r="0.9" fill="#7f5c2c"/>
<circle cx="353.21" cy="236.03" r="0.9" fill="#7f5c2c"/>
<circle cx="352.03" cy="250.47" r="0.9" fill="#7f5c2c"/>
<circle cx="353.33" cy="251.6" r="0.9" fill="#7f5c2c"/>
<circle cx="351.05" cy="250.64" r="0.9" fill="#7f5c2c"/>
<circle cx="354.56" cy="250.52" r="0.9" fill="#7f5c2c"/>
<circle cx="349.65" cy="251.14" r="0.9" fill="#7f5c2c"/>
<circle cx="352.05" cy="244.4" r="0.9" fill="#7f5c2c"/>
<circle cx="353.5" cy="244.67" r="0.9" fill="#7f5c2c"/>
<circle cx="352.38" cy="243.22" r="0.9" fill="#7f5c2c"/>
<circle cx="353.52" cy="243.01" r="0.9" fill="#7f5c2c"/>
<circle cx="352.05" cy="226.7" r="0.9" fill="#7f5c2c"/>
<circle cx="353.57" cy="226.99" r="0.9" fill="#7f5c2c"/>
<circle cx="352.43" cy="268.2" r="0.9" fill="#7f5c2c"/>
<circle cx="352.25" cy="233.47" r="0.9" fill="#7f5c2c"/>
<circle cx="351.99" cy="238.43" r="0.9" fill="#7f5c2c"/>
<circle cx="352.35" cy="248.14" r="0.9" fill="#7f5c2c"/>
<circle cx="353.64" cy="248.77" r="0.9" fill="#7f5c2c"/>
<circle cx="350.87" cy="248.94" r="0.9" fill="#7f5c2c"/>
<circle cx="352.02" cy="221.5" r="0.9" fill="#7f5c2c"/>
<circle cx="352.04" cy="232.16" r="0.9" fill="#7f5c2c"/>
<circle cx="352.22" cy="239.89" r="0.9" fill="#7f5c2c"/>
<circle cx="353.64" cy="239.7" r="0.9" fill="#7f5c2c"/>
<circle cx="352.27" cy="246.75" r="0.9" fill="#7f5c2c"/>
<circle cx="353.66" cy="247.19" r="0.9" fill="#7f5c2c"/>
<circle cx="350.81" cy="246.67" r="0.9" fill="#7f5c2c"/>
<circle cx="354.61" cy="247.68" r="0.9" fill="#7f5c2c"/>
<circle cx="352.32" cy="238.05" r="0.9" fill="#7f5c2c"/>
<circle cx="353.52" cy="237.62" r="0.9" fill="#7f5c2c"/>
<circle cx="350.9" cy="238.09" r="0.9" fill="#7f5c2c"/>
<circle cx="352.29" cy="245.33" r="0.9" fill="#7f5c2c"/>
<circle cx="352.12" cy="241.46" r="0.9" fill="#7f5c2c"/>
<circle cx="351.98" cy="249.9" r="0.9" fill="#7f5c2c"/>
<circle cx="352.16" cy="225.59" r="0.9" fill="#7f5c2c"/>
<circle cx="351.97" cy="270.1" r="0.9" fill="#7f5c2c"/>
<circle cx="352.26" cy="214.42" r="0.9" fill="#7f5c2c"/>
<line x1="349.5" y1="243.54" x2="354.9" y2="243.54" stroke="#3a3a3a" stroke-width="1.1" />
<line x1="358.15" y1="220.42" x2="358.15" y2="226.41" stroke="#333" stroke-width="0.6" stroke-dasharray="0.8 1.0"/>
<rect x="355.15" y="223.84" width="6" height="1.71" fill="#cdcdd3" />
<circle cx="358.64" cy="224.71" r="0.9" fill="#2f6b45"/>
<circle cx="358.26" cy="224.99" r="0.9" fill="#48a148"/>
<circle cx="357.98" cy="225.53" r="0.9" fill="#2f6b45"/>
<circle cx="357.81" cy="223.03" r="0.9" fill="#2f6b45"/>
<circle cx="358.42" cy="226.41" r="0.9" fill="#2f6b45"/>
<circle cx="358.46" cy="220.42" r="0.9" fill="#48a148"/>
<line x1="355.45" y1="224.7" x2="360.85" y2="224.7" stroke="#3a3a3a" stroke-width="1.1" />
<line x1="364.1" y1="211" x2="364.1" y2="235.84" stroke="#333" stroke-width="0.6" stroke-dasharray="0.8 1.0"/>
<rect x="361.1" y="217.85" width="6" height="9.42" fill="#cdcdd3" />
<circle cx="364.37" cy="221.47" r="0.9" fill="#48a148"/>
<circle cx="364.05" cy="220.29" r="0.9" fill="#2f6b45"/>
<circle cx="364.12" cy="225.89" r="0.9" fill="#48a148"/>
<circle cx="363.73" cy="227.14" r="0.9" fill="#2f6b45"/>
<circle cx="364.08" cy="218.48" r="0.9" fill="#48a148"/>
<circle cx="364.37" cy="228.15" r="0.9" fill="#2f6b45"/>
<circle cx="364.59" cy="235.84" r="0.9" fill="#2f6b45"/>
<circle cx="364.36" cy="211" r="0.9" fill="#2f6b45"/>
<line x1="361.4" y1="218.71" x2="366.8" y2="218.71" stroke="#3a3a3a" stroke-width="1.1" />
<rect x="323.7" y="206" width="45.8" height="66.6" fill="none" stroke="#000" stroke-width="1.3"/>
<line x1="320.5" y1="210.14" x2="323.7" y2="210.14" stroke="#000" stroke-width="0.9" />
<text x="318.1" y="212.44" font-size="6.4" text-anchor="end" fill="#222" stroke="#222" stroke-width="0.2" >2</text>
<line x1="320.5" y1="227.27" x2="323.7" y2="227.27" stroke="#000" stroke-width="0.9" />
<text x="318.1" y="229.57" font-size="6.4" text-anchor="end" fill="#222" stroke="#222" stroke-width="0.2" >1</text>
<line x1="320.5" y1="244.4" x2="323.7" y2="244.4" stroke="#000" stroke-width="0.9" />
<text x="318.1" y="246.7" font-size="6.4" text-anchor="end" fill="#222" stroke="#222" stroke-width="0.2" >0</text>
<line x1="320.5" y1="261.53" x2="323.7" y2="261.53" stroke="#000" stroke-width="0.9" />
<text x="318.1" y="263.83" font-size="6.4" text-anchor="end" fill="#222" stroke="#222" stroke-width="0.2" >-1</text>
<line x1="328.4" y1="272.6" x2="328.4" y2="275.2" stroke="#000" stroke-width="0.9" />
<line x1="334.35" y1="272.6" x2="334.35" y2="275.2" stroke="#000" stroke-width="0.9" />
<line x1="340.3" y1="272.6" x2="340.3" y2="275.2" stroke="#000" stroke-width="0.9" />
<line x1="346.25" y1="272.6" x2="346.25" y2="275.2" stroke="#000" stroke-width="0.9" />
<line x1="352.2" y1="272.6" x2="352.2" y2="275.2" stroke="#000" stroke-width="0.9" />
<line x1="358.15" y1="272.6" x2="358.15" y2="275.2" stroke="#000" stroke-width="0.9" />
<line x1="364.1" y1="272.6" x2="364.1" y2="275.2" stroke="#000" stroke-width="0.9" />
<text x="322.7" y="285.2" font-size="6.6" text-anchor="start" fill="#222" textLength="8.1" lengthAdjust="spacingAndGlyphs" stroke="#222" stroke-width="0.2" >M0</text>
<text x="334.35" y="285.2" font-size="6.6" text-anchor="middle" fill="#222" stroke="#222" stroke-width="0.2" >1</text>
<text x="340.3" y="285.2" font-size="6.6" text-anchor="middle" fill="#222" stroke="#222" stroke-width="0.2" >2</text>
<text x="346.25" y="285.2" font-size="6.6" text-anchor="middle" fill="#222" stroke="#222" stroke-width="0.2" >4</text>
<text x="352.2" y="285.2" font-size="6.6" text-anchor="middle" fill="#222" stroke="#222" stroke-width="0.2" >5</text>
<text x="358.15" y="285.2" font-size="6.6" text-anchor="middle" fill="#222" stroke="#222" stroke-width="0.2" >6</text>
<text x="364.1" y="285.2" font-size="6.6" text-anchor="middle" fill="#222" stroke="#222" stroke-width="0.2" >7</text>
<line x1="358.15" y1="292.6" x2="363.6" y2="292.6" stroke="#808080" stroke-width="1.1" />
<text x="366.5" y="294.7" font-size="6.6" text-anchor="start" fill="#333" stroke-width="0">ns</text>
<line x1="352.2" y1="299.6" x2="363.6" y2="299.6" stroke="#808080" stroke-width="1.1" />
<text x="366.5" y="303.2" font-size="6.8" text-anchor="start" fill="#222" stroke-width="0">***</text>
<line x1="346.25" y1="306.6" x2="363.6" y2="306.6" stroke="#808080" stroke-width="1.1" />
<text x="366.5" y="310.2" font-size="6.8" text-anchor="start" fill="#222" stroke-width="0">*</text>
<line x1="340.3" y1="313.6" x2="363.6" y2="313.6" stroke="#808080" stroke-width="1.1" />
<text x="366.5" y="315.7" font-size="6.6" text-anchor="start" fill="#333" stroke-width="0">ns</text>
<line x1="334.35" y1="320.6" x2="363.6" y2="320.6" stroke="#808080" stroke-width="1.1" />
<text x="366.5" y="322.7" font-size="6.6" text-anchor="start" fill="#333" stroke-width="0">ns</text>
<line x1="328.4" y1="327.6" x2="363.6" y2="327.6" stroke="#808080" stroke-width="1.1" />
<text x="366.5" y="329.7" font-size="6.6" text-anchor="start" fill="#333" stroke-width="0">ns</text>
<text x="413.3" y="201.6" font-size="6.6" text-anchor="middle" fill="#222" font-style="italic" stroke="#222" stroke-width="0.2" >LTK</text>
<line x1="390.4" y1="235.8" x2="436.2" y2="235.8" stroke="#4e9a8a" stroke-width="0.7" stroke-dasharray="0.9 1.6"/>
<line x1="395.1" y1="209.14" x2="395.1" y2="270.2" stroke="#333" stroke-width="0.6" stroke-dasharray="0.8 1.0"/>
<rect x="392.1" y="225.48" width="6" height="29.24" fill="#cdcdd3" />
<circle cx="395.4" cy="250.8" r="0.9" fill="#b30e3c"/>
<circle cx="395.06" cy="240.05" r="0.9" fill="#b30e3c"/>
<circle cx="394.92" cy="239.73" r="0.9" fill="#b30e3c"/>
<circle cx="395.5" cy="254.25" r="0.9" fill="#b30e3c"/>
<circle cx="394.71" cy="253.87" r="0.9" fill="#b30e3c"/>
<circle cx="395.33" cy="247.88" r="0.9" fill="#b30e3c"/>
<circle cx="394.67" cy="249.53" r="0.9" fill="#b30e3c"/>
<circle cx="395.25" cy="220.86" r="0.9" fill="#b30e3c"/>
<circle cx="395" cy="255.39" r="0.9" fill="#b30e3c"/>
<circle cx="395.46" cy="246.92" r="0.9" fill="#b30e3c"/>
<circle cx="394.66" cy="270.2" r="0.9" fill="#b30e3c"/>
<circle cx="395.16" cy="209.14" r="0.9" fill="#b30e3c"/>
<line x1="392.4" y1="240.1" x2="397.8" y2="240.1" stroke="#3a3a3a" stroke-width="1.1" />
<line x1="401.05" y1="209.14" x2="401.05" y2="265.04" stroke="#333" stroke-width="0.6" stroke-dasharray="0.8 1.0"/>
<rect x="398.05" y="220.32" width="6" height="17.2" fill="#cdcdd3" />
<circle cx="400.87" cy="221.71" r="0.9" fill="#b30e3c"/>
<circle cx="402.26" cy="220.76" r="0.9" fill="#b30e3c"/>
<circle cx="399.64" cy="221.84" r="0.9" fill="#b30e3c"/>
<circle cx="403.64" cy="221.72" r="0.9" fill="#b30e3c"/>
<circle cx="400.87" cy="229.98" r="0.9" fill="#b30e3c"/>
<circle cx="402.42" cy="230.06" r="0.9" fill="#b30e3c"/>
<circle cx="399.8" cy="229.11" r="0.9" fill="#b30e3c"/>
<circle cx="403.36" cy="229.14" r="0.9" fill="#b30e3c"/>
<circle cx="400.98" cy="233.19" r="0.9" fill="#b30e3c"/>
<circle cx="402.3" cy="234.02" r="0.9" fill="#b30e3c"/>
<circle cx="401.26" cy="220.42" r="0.9" fill="#b30e3c"/>
<circle cx="402.22" cy="220.48" r="0.9" fill="#b30e3c"/>
<circle cx="400.91" cy="227.72" r="0.9" fill="#b30e3c"/>
<circle cx="401.28" cy="222.68" r="0.9" fill="#b30e3c"/>
<circle cx="402.49" cy="222.2" r="0.9" fill="#b30e3c"/>
<circle cx="399.92" cy="222.32" r="0.9" fill="#b30e3c"/>
<circle cx="403.44" cy="222.41" r="0.9" fill="#b30e3c"/>
<circle cx="400.89" cy="250.1" r="0.9" fill="#b30e3c"/>
<circle cx="402.18" cy="249.9" r="0.9" fill="#b30e3c"/>
<circle cx="400.83" cy="219.04" r="0.9" fill="#b30e3c"/>
<circle cx="402.07" cy="219.01" r="0.9" fill="#b30e3c"/>
<circle cx="399.8" cy="219.04" r="0.9" fill="#b30e3c"/>
<circle cx="401" cy="231.82" r="0.9" fill="#b30e3c"/>
<circle cx="401.08" cy="225.78" r="0.9" fill="#b30e3c"/>
<circle cx="402.23" cy="224.86" r="0.9" fill="#b30e3c"/>
<circle cx="400.81" cy="234.72" r="0.9" fill="#b30e3c"/>
<circle cx="402.39" cy="234.62" r="0.9" fill="#b30e3c"/>
<circle cx="401.13" cy="224.11" r="0.9" fill="#b30e3c"/>
<circle cx="402.32" cy="223.9" r="0.9" fill="#b30e3c"/>
<circle cx="401.07" cy="254.85" r="0.9" fill="#b30e3c"/>
<circle cx="401.15" cy="209.43" r="0.9" fill="#b30e3c"/>
<circle cx="402.54" cy="209.14" r="0.9" fill="#b30e3c"/>
<circle cx="401.24" cy="237.1" r="0.9" fill="#b30e3c"/>
<circle cx="401.16" cy="247.98" r="0.9" fill="#b30e3c"/>
<circle cx="401" cy="263.2" r="0.9" fill="#b30e3c"/>
<circle cx="400.96" cy="242.81" r="0.9" fill="#b30e3c"/>
<circle cx="401.01" cy="235.72" r="0.9" fill="#b30e3c"/>
<circle cx="401.29" cy="265.04" r="0.9" fill="#b30e3c"/>
<line x1="398.35" y1="226.34" x2="403.75" y2="226.34" stroke="#3a3a3a" stroke-width="1.1" />
<line x1="407" y1="209.14" x2="407" y2="250.42" stroke="#333" stroke-width="0.6" stroke-dasharray="0.8 1.0"/>
<rect x="404" y="216.88" width="6" height="10.32" fill="#cdcdd3" />
<circle cx="406.94" cy="223.22" r="0.9" fill="#b30e3c"/>
<circle cx="408.01" cy="223" r="0.9" fill="#b30e3c"/>
<circle cx="406.85" cy="225.72" r="0.9" fill="#b30e3c"/>
<circle cx="408.29" cy="226" r="0.9" fill="#b30e3c"/>
<circle cx="405.53" cy="224.8" r="0.9" fill="#b30e3c"/>
<circle cx="409.34" cy="225.73" r="0.9" fill="#b30e3c"/>
<circle cx="404.61" cy="225.2" r="0.9" fill="#b30e3c"/>
<circle cx="406.89" cy="250.2" r="0.9" fill="#b30e3c"/>
<circle cx="408.16" cy="250.42" r="0.9" fill="#b30e3c"/>
<circle cx="406.87" cy="214.91" r="0.9" fill="#b30e3c"/>
<circle cx="407.17" cy="220.9" r="0.9" fill="#b30e3c"/>
<circle cx="408.05" cy="220.88" r="0.9" fill="#b30e3c"/>
<circle cx="407.07" cy="224.72" r="0.9" fill="#b30e3c"/>
<circle cx="408.43" cy="224.65" r="0.9" fill="#b30e3c"/>
<circle cx="405.6" cy="224.6" r="0.9" fill="#b30e3c"/>
<circle cx="409.46" cy="223.52" r="0.9" fill="#b30e3c"/>
<circle cx="404.65" cy="223.69" r="0.9" fill="#b30e3c"/>
<circle cx="407.06" cy="218.06" r="0.9" fill="#b30e3c"/>
<circle cx="408.19" cy="218.72" r="0.9" fill="#b30e3c"/>
<circle cx="405.52" cy="218.61" r="0.9" fill="#b30e3c"/>
<circle cx="409.47" cy="218.96" r="0.9" fill="#b30e3c"/>
<circle cx="406.93" cy="248.38" r="0.9" fill="#b30e3c"/>
<circle cx="408.36" cy="248.63" r="0.9" fill="#b30e3c"/>
<circle cx="406.9" cy="230.44" r="0.9" fill="#b30e3c"/>
<circle cx="408.2" cy="230.5" r="0.9" fill="#b30e3c"/>
<circle cx="407.07" cy="217.17" r="0.9" fill="#b30e3c"/>
<circle cx="408.41" cy="217.82" r="0.9" fill="#b30e3c"/>
<circle cx="405.68" cy="216.91" r="0.9" fill="#b30e3c"/>
<circle cx="406.94" cy="219.5" r="0.9" fill="#b30e3c"/>
<circle cx="408.29" cy="220.7" r="0.9" fill="#b30e3c"/>
<circle cx="405.96" cy="219.75" r="0.9" fill="#b30e3c"/>
<circle cx="409.35" cy="220.59" r="0.9" fill="#b30e3c"/>
<circle cx="407.24" cy="229.36" r="0.9" fill="#b30e3c"/>
<circle cx="408.36" cy="229.04" r="0.9" fill="#b30e3c"/>
<circle cx="405.69" cy="228.9" r="0.9" fill="#b30e3c"/>
<circle cx="409.58" cy="229.34" r="0.9" fill="#b30e3c"/>
<circle cx="406.91" cy="213.15" r="0.9" fill="#b30e3c"/>
<circle cx="408.04" cy="213.51" r="0.9" fill="#b30e3c"/>
<circle cx="407.13" cy="228.66" r="0.9" fill="#b30e3c"/>
<circle cx="408.19" cy="228.59" r="0.9" fill="#b30e3c"/>
<circle cx="407.01" cy="226.51" r="0.9" fill="#b30e3c"/>
<circle cx="408.25" cy="226.29" r="0.9" fill="#b30e3c"/>
<circle cx="405.95" cy="227.22" r="0.9" fill="#b30e3c"/>
<circle cx="407.13" cy="240.57" r="0.9" fill="#b30e3c"/>
<circle cx="406.76" cy="245.34" r="0.9" fill="#b30e3c"/>
<circle cx="407.05" cy="244.23" r="0.9" fill="#b30e3c"/>
<circle cx="406.98" cy="232.68" r="0.9" fill="#b30e3c"/>
<circle cx="406.98" cy="209.14" r="0.9" fill="#b30e3c"/>
<line x1="404.3" y1="222.9" x2="409.7" y2="222.9" stroke="#3a3a3a" stroke-width="1.1" />
<line x1="412.95" y1="211.72" x2="412.95" y2="262.46" stroke="#333" stroke-width="0.6" stroke-dasharray="0.8 1.0"/>
<rect x="409.95" y="220.32" width="6" height="12.04" fill="#cdcdd3" />
<circle cx="412.73" cy="241.41" r="0.9" fill="#b30e3c"/>
<circle cx="412.92" cy="221.64" r="0.9" fill="#b30e3c"/>
<circle cx="414.27" cy="221.52" r="0.9" fill="#b30e3c"/>
<circle cx="411.47" cy="221.01" r="0.9" fill="#b30e3c"/>
<circle cx="415.63" cy="221.77" r="0.9" fill="#b30e3c"/>
<circle cx="410.24" cy="221.1" r="0.9" fill="#b30e3c"/>
<circle cx="416.4" cy="221.79" r="0.9" fill="#b30e3c"/>
<circle cx="412.79" cy="226.45" r="0.9" fill="#b30e3c"/>
<circle cx="414.41" cy="226.47" r="0.9" fill="#b30e3c"/>
<circle cx="412.98" cy="224.17" r="0.9" fill="#b30e3c"/>
<circle cx="414.35" cy="224.16" r="0.9" fill="#b30e3c"/>
<circle cx="411.7" cy="224.04" r="0.9" fill="#b30e3c"/>
<circle cx="415.54" cy="223.8" r="0.9" fill="#b30e3c"/>
<circle cx="413.04" cy="231.87" r="0.9" fill="#b30e3c"/>
<circle cx="414.1" cy="232.26" r="0.9" fill="#b30e3c"/>
<circle cx="411.56" cy="231.73" r="0.9" fill="#b30e3c"/>
<circle cx="415.62" cy="232.42" r="0.9" fill="#b30e3c"/>
<circle cx="412.77" cy="230.02" r="0.9" fill="#b30e3c"/>
<circle cx="414.41" cy="229.7" r="0.9" fill="#b30e3c"/>
<circle cx="411.55" cy="229.2" r="0.9" fill="#b30e3c"/>
<circle cx="415.25" cy="229.29" r="0.9" fill="#b30e3c"/>
<circle cx="412.75" cy="223.4" r="0.9" fill="#b30e3c"/>
<circle cx="414.34" cy="222.52" r="0.9" fill="#b30e3c"/>
<circle cx="411.93" cy="222.78" r="0.9" fill="#b30e3c"/>
<circle cx="412.91" cy="231.3" r="0.9" fill="#b30e3c"/>
<circle cx="413.03" cy="233.82" r="0.9" fill="#b30e3c"/>
<circle cx="414.08" cy="234.22" r="0.9" fill="#b30e3c"/>
<circle cx="413.15" cy="225.33" r="0.9" fill="#b30e3c"/>
<circle cx="414.29" cy="226.12" r="0.9" fill="#b30e3c"/>
<circle cx="412.78" cy="255.08" r="0.9" fill="#b30e3c"/>
<circle cx="412.73" cy="220.46" r="0.9" fill="#b30e3c"/>
<circle cx="413.05" cy="234.26" r="0.9" fill="#b30e3c"/>
<circle cx="413.97" cy="234.24" r="0.9" fill="#b30e3c"/>
<circle cx="411.87" cy="234.57" r="0.9" fill="#b30e3c"/>
<circle cx="412.85" cy="228.69" r="0.9" fill="#b30e3c"/>
<circle cx="414.07" cy="228.58" r="0.9" fill="#b30e3c"/>
<circle cx="412.99" cy="249.42" r="0.9" fill="#b30e3c"/>
<circle cx="412.86" cy="235.68" r="0.9" fill="#b30e3c"/>
<circle cx="414.23" cy="235.93" r="0.9" fill="#b30e3c"/>
<circle cx="412.78" cy="252.3" r="0.9" fill="#b30e3c"/>
<circle cx="413.16" cy="237.25" r="0.9" fill="#b30e3c"/>
<circle cx="412.86" cy="262.46" r="0.9" fill="#b30e3c"/>
<circle cx="413.12" cy="211.72" r="0.9" fill="#b30e3c"/>
<line x1="410.25" y1="227.2" x2="415.65" y2="227.2" stroke="#3a3a3a" stroke-width="1.1" />
<line x1="418.9" y1="208.28" x2="418.9" y2="239.24" stroke="#333" stroke-width="0.6" stroke-dasharray="0.8 1.0"/>
<rect x="415.9" y="213.44" width="6" height="10.32" fill="#cdcdd3" />
<circle cx="419.07" cy="215.51" r="0.9" fill="#7f5c2c"/>
<circle cx="420.34" cy="216.24" r="0.9" fill="#7f5c2c"/>
<circle cx="417.64" cy="216.02" r="0.9" fill="#7f5c2c"/>
<circle cx="418.72" cy="227.12" r="0.9" fill="#7f5c2c"/>
<circle cx="419.95" cy="226.89" r="0.9" fill="#7f5c2c"/>
<circle cx="419.09" cy="219.84" r="0.9" fill="#7f5c2c"/>
<circle cx="419.96" cy="220.32" r="0.9" fill="#7f5c2c"/>
<circle cx="418.9" cy="229.57" r="0.9" fill="#7f5c2c"/>
<circle cx="420.17" cy="229.67" r="0.9" fill="#7f5c2c"/>
<circle cx="417.46" cy="230.01" r="0.9" fill="#7f5c2c"/>
<circle cx="421.38" cy="229.49" r="0.9" fill="#7f5c2c"/>
<circle cx="416.23" cy="228.97" r="0.9" fill="#7f5c2c"/>
<circle cx="418.92" cy="216.75" r="0.9" fill="#7f5c2c"/>
<circle cx="420.15" cy="217.58" r="0.9" fill="#7f5c2c"/>
<circle cx="417.58" cy="217.99" r="0.9" fill="#7f5c2c"/>
<circle cx="421.25" cy="216.92" r="0.9" fill="#7f5c2c"/>
<circle cx="418.85" cy="215.21" r="0.9" fill="#7f5c2c"/>
<circle cx="420" cy="214.23" r="0.9" fill="#7f5c2c"/>
<circle cx="417.46" cy="214.16" r="0.9" fill="#7f5c2c"/>
<circle cx="421.27" cy="214.22" r="0.9" fill="#7f5c2c"/>
<circle cx="419.09" cy="210.16" r="0.9" fill="#7f5c2c"/>
<circle cx="418.9" cy="225.5" r="0.9" fill="#7f5c2c"/>
<circle cx="419.1" cy="218.76" r="0.9" fill="#7f5c2c"/>
<circle cx="419.91" cy="218.91" r="0.9" fill="#7f5c2c"/>
<circle cx="417.87" cy="218.07" r="0.9" fill="#7f5c2c"/>
<circle cx="418.89" cy="220.73" r="0.9" fill="#7f5c2c"/>
<circle cx="420.3" cy="220.96" r="0.9" fill="#7f5c2c"/>
<circle cx="417.69" cy="221.21" r="0.9" fill="#7f5c2c"/>
<circle cx="421.49" cy="220.8" r="0.9" fill="#7f5c2c"/>
<circle cx="416.26" cy="222.01" r="0.9" fill="#7f5c2c"/>
<circle cx="419.03" cy="213.07" r="0.9" fill="#7f5c2c"/>
<circle cx="418.73" cy="228.58" r="0.9" fill="#7f5c2c"/>
<circle cx="420.03" cy="227.81" r="0.9" fill="#7f5c2c"/>
<circle cx="417.42" cy="228.78" r="0.9" fill="#7f5c2c"/>
<circle cx="418.85" cy="223.41" r="0.9" fill="#7f5c2c"/>
<circle cx="418.91" cy="224.22" r="0.9" fill="#7f5c2c"/>
<circle cx="418.8" cy="239.24" r="0.9" fill="#7f5c2c"/>
<circle cx="419.1" cy="208.28" r="0.9" fill="#7f5c2c"/>
<line x1="416.2" y1="219.46" x2="421.6" y2="219.46" stroke="#3a3a3a" stroke-width="1.1" />
<line x1="424.85" y1="216.02" x2="424.85" y2="251.28" stroke="#333" stroke-width="0.6" stroke-dasharray="0.8 1.0"/>
<rect x="421.85" y="227.2" width="6" height="18.92" fill="#cdcdd3" />
<circle cx="424.39" cy="235.17" r="0.9" fill="#48a148"/>
<circle cx="425.04" cy="234.86" r="0.9" fill="#48a148"/>
<circle cx="424.69" cy="226.22" r="0.9" fill="#48a148"/>
<circle cx="424.81" cy="241.47" r="0.9" fill="#48a148"/>
<circle cx="424.36" cy="222.07" r="0.9" fill="#48a148"/>
<circle cx="424.76" cy="251.28" r="0.9" fill="#48a148"/>
<circle cx="424.44" cy="216.02" r="0.9" fill="#2f6b45"/>
<line x1="422.15" y1="240.1" x2="427.55" y2="240.1" stroke="#3a3a3a" stroke-width="1.1" />
<line x1="430.8" y1="208.28" x2="430.8" y2="237.52" stroke="#333" stroke-width="0.6" stroke-dasharray="0.8 1.0"/>
<rect x="427.8" y="216.02" width="6" height="13.76" fill="#cdcdd3" />
<circle cx="430.8" cy="219.06" r="0.9" fill="#48a148"/>
<circle cx="431.21" cy="225.04" r="0.9" fill="#48a148"/>
<circle cx="430.94" cy="225.22" r="0.9" fill="#2f6b45"/>
<circle cx="430.93" cy="227.05" r="0.9" fill="#48a148"/>
<circle cx="431.09" cy="208.36" r="0.9" fill="#2f6b45"/>
<circle cx="431.02" cy="208.28" r="0.9" fill="#2f6b45"/>
<circle cx="430.46" cy="223.49" r="0.9" fill="#48a148"/>
<circle cx="430.97" cy="237.52" r="0.9" fill="#48a148"/>
<line x1="428.1" y1="222.9" x2="433.5" y2="222.9" stroke="#3a3a3a" stroke-width="1.1" />
<rect x="390.4" y="206" width="45.8" height="66.6" fill="none" stroke="#000" stroke-width="1.3"/>
<line x1="387.2" y1="218.6" x2="390.4" y2="218.6" stroke="#000" stroke-width="0.9" />
<text x="384.8" y="220.9" font-size="6.4" text-anchor="end" fill="#222" stroke="#222" stroke-width="0.2" >1</text>
<line x1="387.2" y1="235.8" x2="390.4" y2="235.8" stroke="#000" stroke-width="0.9" />
<text x="384.8" y="238.1" font-size="6.4" text-anchor="end" fill="#222" stroke="#222" stroke-width="0.2" >0</text>
<line x1="387.2" y1="253" x2="390.4" y2="253" stroke="#000" stroke-width="0.9" />
<text x="384.8" y="255.3" font-size="6.4" text-anchor="end" fill="#222" stroke="#222" stroke-width="0.2" >-1</text>
<line x1="387.2" y1="270.2" x2="390.4" y2="270.2" stroke="#000" stroke-width="0.9" />
<text x="384.8" y="272.5" font-size="6.4" text-anchor="end" fill="#222" stroke="#222" stroke-width="0.2" >-2</text>
<line x1="395.1" y1="272.6" x2="395.1" y2="275.2" stroke="#000" stroke-width="0.9" />
<line x1="401.05" y1="272.6" x2="401.05" y2="275.2" stroke="#000" stroke-width="0.9" />
<line x1="407" y1="272.6" x2="407" y2="275.2" stroke="#000" stroke-width="0.9" />
<line x1="412.95" y1="272.6" x2="412.95" y2="275.2" stroke="#000" stroke-width="0.9" />
<line x1="418.9" y1="272.6" x2="418.9" y2="275.2" stroke="#000" stroke-width="0.9" />
<line x1="424.85" y1="272.6" x2="424.85" y2="275.2" stroke="#000" stroke-width="0.9" />
<line x1="430.8" y1="272.6" x2="430.8" y2="275.2" stroke="#000" stroke-width="0.9" />
<text x="389.4" y="285.2" font-size="6.6" text-anchor="start" fill="#222" textLength="8.1" lengthAdjust="spacingAndGlyphs" stroke="#222" stroke-width="0.2" >M0</text>
<text x="401.05" y="285.2" font-size="6.6" text-anchor="middle" fill="#222" stroke="#222" stroke-width="0.2" >1</text>
<text x="407" y="285.2" font-size="6.6" text-anchor="middle" fill="#222" stroke="#222" stroke-width="0.2" >2</text>
<text x="412.95" y="285.2" font-size="6.6" text-anchor="middle" fill="#222" stroke="#222" stroke-width="0.2" >4</text>
<text x="418.9" y="285.2" font-size="6.6" text-anchor="middle" fill="#222" stroke="#222" stroke-width="0.2" >5</text>
<text x="424.85" y="285.2" font-size="6.6" text-anchor="middle" fill="#222" stroke="#222" stroke-width="0.2" >6</text>
<text x="430.8" y="285.2" font-size="6.6" text-anchor="middle" fill="#222" stroke="#222" stroke-width="0.2" >7</text>
<line x1="424.85" y1="292.6" x2="430.3" y2="292.6" stroke="#808080" stroke-width="1.1" />
<text x="433.2" y="294.7" font-size="6.6" text-anchor="start" fill="#333" stroke-width="0">ns</text>
<line x1="418.9" y1="299.6" x2="430.3" y2="299.6" stroke="#808080" stroke-width="1.1" />
<text x="433.2" y="301.7" font-size="6.6" text-anchor="start" fill="#333" stroke-width="0">ns</text>
<line x1="412.95" y1="306.6" x2="430.3" y2="306.6" stroke="#808080" stroke-width="1.1" />
<text x="433.2" y="308.7" font-size="6.6" text-anchor="start" fill="#333" stroke-width="0">ns</text>
<line x1="407" y1="313.6" x2="430.3" y2="313.6" stroke="#808080" stroke-width="1.1" />
<text x="433.2" y="315.7" font-size="6.6" text-anchor="start" fill="#333" stroke-width="0">ns</text>
<line x1="401.05" y1="320.6" x2="430.3" y2="320.6" stroke="#808080" stroke-width="1.1" />
<text x="433.2" y="322.7" font-size="6.6" text-anchor="start" fill="#333" stroke-width="0">ns</text>
<line x1="395.1" y1="327.6" x2="430.3" y2="327.6" stroke="#808080" stroke-width="1.1" />
<text x="433.2" y="329.7" font-size="6.6" text-anchor="start" fill="#333" stroke-width="0">ns</text>
<path d="M41.9,334.6 L41.9,256.5 M41.9,334.6 L78.5,334.6" stroke="#222" stroke-width="1.1" fill="none"/>
<path d="M41.9,253.5 L39.9,258.4 L43.9,258.4 Z M81.5,334.6 L76.6,332.6 L76.6,336.6 Z" fill="#222"/>
<text transform="translate(26,273.9) rotate(-90)" font-size="7.2" text-anchor="middle" fill="#111" stroke="#111" stroke-width="0.35" textLength="29" lengthAdjust="spacingAndGlyphs">Expression</text>
<text transform="translate(37.6,273.8) rotate(-90)" font-size="7.2" text-anchor="middle" fill="#111" stroke="#111" stroke-width="0.35" textLength="38.7" lengthAdjust="spacingAndGlyphs">(Log10, RPKM)</text>
<text x="41.9" y="343.7" font-size="7.2" text-anchor="start" fill="#111" textLength="46" lengthAdjust="spacingAndGlyphs" stroke="#111" stroke-width="0.35">FAB classification</text>
<text x="7" y="371.6" font-size="12.6" text-anchor="start" fill="#000" font-weight="bold" >C</text>
<rect x="41.5" y="384.9" width="37.7" height="23.6" rx="1.3" fill="#fff" stroke="#8a8a8a" stroke-width="1.2"/>
<path d="M62.66,390.73h1.25v1.25h-1.25zM63.21,397.9h1.25v1.25h-1.25zM59.03,399.69h1.25v1.25h-1.25zM60.67,400.31h1.25v1.25h-1.25zM53.67,389.18h1.25v1.25h-1.25zM59.2,396.24h1.25v1.25h-1.25zM57.9,398.26h1.25v1.25h-1.25zM57.44,393.99h1.25v1.25h-1.25zM57.55,392.41h1.25v1.25h-1.25zM54.33,401.09h1.25v1.25h-1.25zM58.78,401.2h1.25v1.25h-1.25zM64.9,396.78h1.25v1.25h-1.25zM62.65,392.75h1.25v1.25h-1.25zM53.91,393.14h1.25v1.25h-1.25zM57.22,396.36h1.25v1.25h-1.25zM59.26,395.56h1.25v1.25h-1.25zM51.81,394.98h1.25v1.25h-1.25zM55.53,394.53h1.25v1.25h-1.25zM60.58,399.05h1.25v1.25h-1.25zM60.13,394.26h1.25v1.25h-1.25zM50.98,395.57h1.25v1.25h-1.25zM59.32,398.43h1.25v1.25h-1.25zM55.6,388.63h1.25v1.25h-1.25zM58.62,389.39h1.25v1.25h-1.25zM60.62,397.39h1.25v1.25h-1.25zM62.21,396.2h1.25v1.25h-1.25zM60.23,390.1h1.25v1.25h-1.25zM56.99,396.14h1.25v1.25h-1.25zM61.74,396.43h1.25v1.25h-1.25zM44.67,401.38h1.25v1.25h-1.25zM52.79,397.14h1.25v1.25h-1.25zM51.07,400.58h1.25v1.25h-1.25zM61.19,396.14h1.25v1.25h-1.25zM54.18,398.85h1.25v1.25h-1.25zM52.78,402.95h1.25v1.25h-1.25zM63.15,401.26h1.25v1.25h-1.25zM52.56,398.11h1.25v1.25h-1.25zM62.7,398.27h1.25v1.25h-1.25zM60.97,394.8h1.25v1.25h-1.25zM66.11,396.39h1.25v1.25h-1.25zM46.97,392.81h1.25v1.25h-1.25zM54.83,398.47h1.25v1.25h-1.25zM55.68,392.59h1.25v1.25h-1.25zM63.51,395.57h1.25v1.25h-1.25zM55.16,399.17h1.25v1.25h-1.25zM55.4,401.02h1.25v1.25h-1.25zM60.18,392.09h1.25v1.25h-1.25zM58.23,398.66h1.25v1.25h-1.25zM48.01,398.37h1.25v1.25h-1.25zM56.91,398.03h1.25v1.25h-1.25zM60.65,394.6h1.25v1.25h-1.25zM68.29,395.73h1.25v1.25h-1.25zM53.21,389.86h1.25v1.25h-1.25zM56.61,391.52h1.25v1.25h-1.25zM48.47,392.38h1.25v1.25h-1.25zM59.9,389.08h1.25v1.25h-1.25zM60.42,399.28h1.25v1.25h-1.25zM56.1,394.64h1.25v1.25h-1.25zM51.5,396.37h1.25v1.25h-1.25zM57.17,398.58h1.25v1.25h-1.25zM61.87,397.13h1.25v1.25h-1.25zM54.74,398.28h1.25v1.25h-1.25zM65.19,393.15h1.25v1.25h-1.25zM50.69,391.39h1.25v1.25h-1.25zM57.18,394.91h1.25v1.25h-1.25zM57.27,400.75h1.25v1.25h-1.25zM57.88,397.37h1.25v1.25h-1.25zM49.94,403.8h1.25v1.25h-1.25zM54.37,401.61h1.25v1.25h-1.25zM63.95,396.74h1.25v1.25h-1.25zM50.8,393.72h1.25v1.25h-1.25zM60.66,389.67h1.25v1.25h-1.25zM50.53,397.9h1.25v1.25h-1.25zM49.19,394.46h1.25v1.25h-1.25zM61.07,399.09h1.25v1.25h-1.25zM52.32,394.65h1.25v1.25h-1.25zM61.52,399.84h1.25v1.25h-1.25zM60.99,391.63h1.25v1.25h-1.25zM47.57,397.84h1.25v1.25h-1.25zM56.75,401.92h1.25v1.25h-1.25zM58.82,396.93h1.25v1.25h-1.25zM55.35,400.52h1.25v1.25h-1.25zM62.65,393.37h1.25v1.25h-1.25zM56.67,394.05h1.25v1.25h-1.25zM62.68,392.5h1.25v1.25h-1.25zM58.47,398.63h1.25v1.25h-1.25zM64.77,392.12h1.25v1.25h-1.25zM63.4,394.88h1.25v1.25h-1.25zM56.87,395.07h1.25v1.25h-1.25zM58.88,397.82h1.25v1.25h-1.25zM58.12,391.6h1.25v1.25h-1.25zM54.29,393.09h1.25v1.25h-1.25zM57.94,398h1.25v1.25h-1.25zM57.44,397.15h1.25v1.25h-1.25zM48.49,402.88h1.25v1.25h-1.25zM53.23,398.4h1.25v1.25h-1.25zM54.4,397.77h1.25v1.25h-1.25zM65.17,394.8h1.25v1.25h-1.25zM52.95,396.39h1.25v1.25h-1.25zM50.63,395.92h1.25v1.25h-1.25zM53.19,396.01h1.25v1.25h-1.25zM54.13,395.18h1.25v1.25h-1.25zM56.64,399.92h1.25v1.25h-1.25zM59.36,391.11h1.25v1.25h-1.25zM56.55,392.24h1.25v1.25h-1.25zM64.41,395.66h1.25v1.25h-1.25zM63.37,397.37h1.25v1.25h-1.25zM65.32,400.48h1.25v1.25h-1.25zM54.72,398.3h1.25v1.25h-1.25zM60.37,391.75h1.25v1.25h-1.25zM56.65,395.3h1.25v1.25h-1.25zM51.24,391.9h1.25v1.25h-1.25zM64.83,388.26h1.25v1.25h-1.25zM44.67,396.81h1.25v1.25h-1.25zM58.52,399.24h1.25v1.25h-1.25zM58.59,394.76h1.25v1.25h-1.25zM54.06,396.76h1.25v1.25h-1.25zM66.79,393.46h1.25v1.25h-1.25zM68.91,396.92h1.25v1.25h-1.25zM56.63,399.23h1.25v1.25h-1.25zM59.44,389.71h1.25v1.25h-1.25zM56.67,395.89h1.25v1.25h-1.25zM64.54,398.66h1.25v1.25h-1.25zM60.67,394.28h1.25v1.25h-1.25zM60.97,397.77h1.25v1.25h-1.25zM58.03,393.7h1.25v1.25h-1.25zM55.56,395.4h1.25v1.25h-1.25zM59.2,394.25h1.25v1.25h-1.25zM51.66,399.34h1.25v1.25h-1.25zM55.56,395.95h1.25v1.25h-1.25zM61.86,394.08h1.25v1.25h-1.25zM53.82,401.04h1.25v1.25h-1.25zM53.07,400.68h1.25v1.25h-1.25zM63.26,389.7h1.25v1.25h-1.25zM60.15,394.67h1.25v1.25h-1.25zM57.7,392.92h1.25v1.25h-1.25zM59.94,399.53h1.25v1.25h-1.25zM59.04,395.43h1.25v1.25h-1.25zM58.2,387.84h1.25v1.25h-1.25zM58.38,391.32h1.25v1.25h-1.25zM50.66,402.59h1.25v1.25h-1.25zM57.6,395.52h1.25v1.25h-1.25zM66.65,389.31h1.25v1.25h-1.25zM60.24,390.34h1.25v1.25h-1.25zM55.01,396.59h1.25v1.25h-1.25zM63.06,399.96h1.25v1.25h-1.25zM59.4,399h1.25v1.25h-1.25zM66.39,392.72h1.25v1.25h-1.25zM57.06,397.14h1.25v1.25h-1.25zM61.02,400.38h1.25v1.25h-1.25zM61.77,392.14h1.25v1.25h-1.25zM55.16,395.8h1.25v1.25h-1.25zM55.21,405.07h1.25v1.25h-1.25zM58.31,397.06h1.25v1.25h-1.25zM54.65,391.56h1.25v1.25h-1.25zM47.4,403.19h1.25v1.25h-1.25zM53.36,402.57h1.25v1.25h-1.25zM52.23,397.41h1.25v1.25h-1.25zM52.16,399.88h1.25v1.25h-1.25zM56.25,401.77h1.25v1.25h-1.25zM50.68,405.07h1.25v1.25h-1.25zM48.81,394.91h1.25v1.25h-1.25zM61.62,396.47h1.25v1.25h-1.25zM57.05,393.48h1.25v1.25h-1.25zM56.21,395.02h1.25v1.25h-1.25zM63.57,395.48h1.25v1.25h-1.25zM57.77,401.88h1.25v1.25h-1.25zM57.17,398.58h1.25v1.25h-1.25zM56.33,395.91h1.25v1.25h-1.25zM64.71,399.32h1.25v1.25h-1.25zM58.1,401.25h1.25v1.25h-1.25zM60.22,399.22h1.25v1.25h-1.25zM54.13,398.76h1.25v1.25h-1.25zM59.7,396.03h1.25v1.25h-1.25zM53.85,399.81h1.25v1.25h-1.25zM48.85,393.81h1.25v1.25h-1.25zM59.01,396.03h1.25v1.25h-1.25zM56.32,388.84h1.25v1.25h-1.25zM59.89,395.73h1.25v1.25h-1.25zM54.47,400.97h1.25v1.25h-1.25zM57.18,398.44h1.25v1.25h-1.25zM63.85,394.06h1.25v1.25h-1.25zM56.42,388.21h1.25v1.25h-1.25zM51.63,399.55h1.25v1.25h-1.25zM58.34,395.59h1.25v1.25h-1.25zM44.67,398.79h1.25v1.25h-1.25zM55.75,398.64h1.25v1.25h-1.25zM58.01,394.66h1.25v1.25h-1.25zM51.37,394.56h1.25v1.25h-1.25zM56.84,397.52h1.25v1.25h-1.25zM59.78,398.63h1.25v1.25h-1.25zM62.04,399.64h1.25v1.25h-1.25zM57,395.69h1.25v1.25h-1.25zM59.28,396.74h1.25v1.25h-1.25zM51.5,399.49h1.25v1.25h-1.25zM58.36,394.77h1.25v1.25h-1.25zM52.3,393.94h1.25v1.25h-1.25zM59.6,397.69h1.25v1.25h-1.25zM61.24,396.04h1.25v1.25h-1.25zM62.18,391.01h1.25v1.25h-1.25zM57.26,387.84h1.25v1.25h-1.25zM56.15,393.3h1.25v1.25h-1.25zM57.59,394h1.25v1.25h-1.25zM53.93,394.7h1.25v1.25h-1.25zM49.41,404.88h1.25v1.25h-1.25zM57.21,395.33h1.25v1.25h-1.25zM60.81,393.14h1.25v1.25h-1.25zM58.97,394.9h1.25v1.25h-1.25zM58.6,393.83h1.25v1.25h-1.25zM58.34,395.09h1.25v1.25h-1.25zM46.82,396.54h1.25v1.25h-1.25zM59.96,394.63h1.25v1.25h-1.25zM48.79,400.01h1.25v1.25h-1.25zM58.46,397.03h1.25v1.25h-1.25zM53.85,397.04h1.25v1.25h-1.25zM55.4,387.84h1.25v1.25h-1.25zM50.55,395.92h1.25v1.25h-1.25zM58.93,391.37h1.25v1.25h-1.25zM66.5,388.3h1.25v1.25h-1.25zM57.39,395.63h1.25v1.25h-1.25zM56.12,396.34h1.25v1.25h-1.25zM56.78,400.01h1.25v1.25h-1.25zM51.03,397.17h1.25v1.25h-1.25zM62.05,390.78h1.25v1.25h-1.25zM56.58,402.32h1.25v1.25h-1.25zM59.43,396.81h1.25v1.25h-1.25zM57.55,394.8h1.25v1.25h-1.25zM54.83,395.87h1.25v1.25h-1.25zM57.07,400.22h1.25v1.25h-1.25zM62.53,396.35h1.25v1.25h-1.25zM51.82,396.52h1.25v1.25h-1.25zM44.67,398.11h1.25v1.25h-1.25zM58.88,390.02h1.25v1.25h-1.25zM62.04,395.22h1.25v1.25h-1.25zM60.93,396.07h1.25v1.25h-1.25zM53.84,394.63h1.25v1.25h-1.25zM57.15,396.14h1.25v1.25h-1.25zM56.87,392.73h1.25v1.25h-1.25zM56.53,397.85h1.25v1.25h-1.25zM65.35,389.2h1.25v1.25h-1.25zM60.65,392.6h1.25v1.25h-1.25zM58.27,396.59h1.25v1.25h-1.25zM60.05,391.99h1.25v1.25h-1.25zM49.25,393.99h1.25v1.25h-1.25zM64.26,400.81h1.25v1.25h-1.25zM60.27,396.73h1.25v1.25h-1.25zM60.78,395.16h1.25v1.25h-1.25zM65.94,395.81h1.25v1.25h-1.25zM48.58,398.74h1.25v1.25h-1.25zM57.56,389.21h1.25v1.25h-1.25zM50.24,400.22h1.25v1.25h-1.25zM65.26,398.49h1.25v1.25h-1.25zM59.97,391.25h1.25v1.25h-1.25zM57.47,393.08h1.25v1.25h-1.25zM56.34,397.33h1.25v1.25h-1.25zM53.53,399.21h1.25v1.25h-1.25zM57.3,396.48h1.25v1.25h-1.25zM54.04,401.04h1.25v1.25h-1.25zM61.89,388.14h1.25v1.25h-1.25zM57.62,392.73h1.25v1.25h-1.25zM55.72,405.54h1.25v1.25h-1.25zM59.15,405.54h1.25v1.25h-1.25zM68.52,405.54h1.25v1.25h-1.25zM67.48,405.54h1.25v1.25h-1.25zM56.15,405.54h1.25v1.25h-1.25zM64.68,405.54h1.25v1.25h-1.25zM58.31,405.54h1.25v1.25h-1.25zM63.46,405.54h1.25v1.25h-1.25zM65.22,405.54h1.25v1.25h-1.25zM43.54,405.54h1.25v1.25h-1.25z" fill="#111"/>
<circle cx="55.62" cy="395.12" r="0.8" fill="#27aee6"/>
<circle cx="56.78" cy="394.82" r="0.8" fill="#27aee6"/>
<circle cx="54.41" cy="395.74" r="0.8" fill="#27aee6"/>
<circle cx="70.36" cy="391.83" r="1.0" fill="#f02020"/>
<circle cx="67.14" cy="390.69" r="1.0" fill="#f02020"/>
<circle cx="75.62" cy="390.73" r="1.0" fill="#f02020"/>
<circle cx="69.87" cy="389.82" r="1.0" fill="#f02020"/>
<circle cx="70.67" cy="393.57" r="1.0" fill="#f02020"/>
<circle cx="71.1" cy="394.69" r="1.0" fill="#f02020"/>
<rect x="80.8" y="384.9" width="37.7" height="23.6" rx="1.3" fill="#fff" stroke="#8a8a8a" stroke-width="1.2"/>
<path d="M98.54,398.2h1.25v1.25h-1.25zM107.67,395.68h1.25v1.25h-1.25zM95.58,400.84h1.25v1.25h-1.25zM102.87,395.88h1.25v1.25h-1.25zM98.66,393.86h1.25v1.25h-1.25zM92.37,401.74h1.25v1.25h-1.25zM86.72,400.43h1.25v1.25h-1.25zM105.77,387.93h1.25v1.25h-1.25zM103.23,395.26h1.25v1.25h-1.25zM114.46,387.84h1.25v1.25h-1.25zM102.45,395.86h1.25v1.25h-1.25zM95.68,397.46h1.25v1.25h-1.25zM104.09,393.73h1.25v1.25h-1.25zM105.37,392.24h1.25v1.25h-1.25zM99.12,390.21h1.25v1.25h-1.25zM96.8,393.44h1.25v1.25h-1.25zM107.07,388.2h1.25v1.25h-1.25zM94.14,393.79h1.25v1.25h-1.25zM95.15,398.73h1.25v1.25h-1.25zM97.56,402.57h1.25v1.25h-1.25zM100.05,394.54h1.25v1.25h-1.25zM97.43,397.38h1.25v1.25h-1.25zM97.84,397.36h1.25v1.25h-1.25zM100.01,393.41h1.25v1.25h-1.25zM98.86,399.86h1.25v1.25h-1.25zM98.09,391.76h1.25v1.25h-1.25zM92.13,402.71h1.25v1.25h-1.25zM97.18,392.02h1.25v1.25h-1.25zM101.67,393.63h1.25v1.25h-1.25zM103.31,400.11h1.25v1.25h-1.25zM100.93,398.68h1.25v1.25h-1.25zM99.52,397.3h1.25v1.25h-1.25zM101.08,395.23h1.25v1.25h-1.25zM106.19,388.2h1.25v1.25h-1.25zM89.7,398.32h1.25v1.25h-1.25zM94.9,393.09h1.25v1.25h-1.25zM92.54,393.66h1.25v1.25h-1.25zM99.69,391.04h1.25v1.25h-1.25zM97.56,393.07h1.25v1.25h-1.25zM100.39,399.24h1.25v1.25h-1.25zM109.73,397.35h1.25v1.25h-1.25zM103.94,392.85h1.25v1.25h-1.25zM99.57,395.22h1.25v1.25h-1.25zM101.91,396.59h1.25v1.25h-1.25zM99.87,404.9h1.25v1.25h-1.25zM97.95,395.97h1.25v1.25h-1.25zM96.43,388.23h1.25v1.25h-1.25zM105.09,389.65h1.25v1.25h-1.25zM101.24,397.58h1.25v1.25h-1.25zM100.27,399.58h1.25v1.25h-1.25zM102.33,393.74h1.25v1.25h-1.25zM102.53,393.7h1.25v1.25h-1.25zM107.79,398.95h1.25v1.25h-1.25zM106.02,395.95h1.25v1.25h-1.25zM92.46,396.59h1.25v1.25h-1.25zM101.94,393.98h1.25v1.25h-1.25zM106.6,390.65h1.25v1.25h-1.25zM99.85,393.46h1.25v1.25h-1.25zM102.49,395.61h1.25v1.25h-1.25zM98.54,394.49h1.25v1.25h-1.25zM98.14,394.63h1.25v1.25h-1.25zM103.92,401.31h1.25v1.25h-1.25zM107.84,393.9h1.25v1.25h-1.25zM109.23,398.94h1.25v1.25h-1.25zM104.89,400.1h1.25v1.25h-1.25zM96.75,394.32h1.25v1.25h-1.25zM98.15,395.33h1.25v1.25h-1.25zM103.91,397.06h1.25v1.25h-1.25zM105.85,398.46h1.25v1.25h-1.25zM107.3,397.39h1.25v1.25h-1.25zM98.71,402.03h1.25v1.25h-1.25zM99.66,391.13h1.25v1.25h-1.25zM101.16,397.34h1.25v1.25h-1.25zM95.26,391.7h1.25v1.25h-1.25zM104.92,400.46h1.25v1.25h-1.25zM106.99,388.28h1.25v1.25h-1.25zM107,399.42h1.25v1.25h-1.25zM95.65,396.19h1.25v1.25h-1.25zM101.73,402.43h1.25v1.25h-1.25zM98.91,395.23h1.25v1.25h-1.25zM112.28,390.2h1.25v1.25h-1.25zM101.49,392.11h1.25v1.25h-1.25zM103.61,403.27h1.25v1.25h-1.25zM93.02,403h1.25v1.25h-1.25zM106.04,397.97h1.25v1.25h-1.25zM86.45,403.73h1.25v1.25h-1.25zM94.39,397.79h1.25v1.25h-1.25zM104.93,398.39h1.25v1.25h-1.25zM96.88,394.29h1.25v1.25h-1.25zM98.99,397.95h1.25v1.25h-1.25zM105.99,393.7h1.25v1.25h-1.25zM84.53,400.47h1.25v1.25h-1.25zM100.88,398.97h1.25v1.25h-1.25zM99.53,402.32h1.25v1.25h-1.25zM110.81,400.77h1.25v1.25h-1.25zM94.35,393.67h1.25v1.25h-1.25zM101,393.06h1.25v1.25h-1.25zM99.46,398.36h1.25v1.25h-1.25zM92.76,397.71h1.25v1.25h-1.25zM115.26,395.58h1.25v1.25h-1.25zM100.65,398h1.25v1.25h-1.25zM92.21,399.66h1.25v1.25h-1.25zM92.85,391.75h1.25v1.25h-1.25zM105.35,394.25h1.25v1.25h-1.25zM109.38,398.92h1.25v1.25h-1.25zM105.34,396.64h1.25v1.25h-1.25zM93.99,401.95h1.25v1.25h-1.25zM96.86,398.35h1.25v1.25h-1.25zM94.81,395.26h1.25v1.25h-1.25zM100.23,395.8h1.25v1.25h-1.25zM98.18,402.03h1.25v1.25h-1.25zM99.6,392.02h1.25v1.25h-1.25zM91.61,402.43h1.25v1.25h-1.25zM93.3,400.37h1.25v1.25h-1.25zM98.04,401.74h1.25v1.25h-1.25zM108.26,396.37h1.25v1.25h-1.25zM101.35,395.08h1.25v1.25h-1.25zM98.65,398.06h1.25v1.25h-1.25zM89.2,405.07h1.25v1.25h-1.25zM100.17,398.57h1.25v1.25h-1.25zM102.38,392.53h1.25v1.25h-1.25zM98.88,394.39h1.25v1.25h-1.25zM102.48,394.35h1.25v1.25h-1.25zM96.78,396.85h1.25v1.25h-1.25zM87.96,395.39h1.25v1.25h-1.25zM104.84,396.27h1.25v1.25h-1.25zM97.58,397.65h1.25v1.25h-1.25zM106.41,392.24h1.25v1.25h-1.25zM96.16,395.1h1.25v1.25h-1.25zM95.46,392.88h1.25v1.25h-1.25zM105.26,389.27h1.25v1.25h-1.25zM109.03,393.74h1.25v1.25h-1.25zM95.72,393.2h1.25v1.25h-1.25zM95.69,394.92h1.25v1.25h-1.25zM93.21,399.28h1.25v1.25h-1.25zM102.33,396.13h1.25v1.25h-1.25zM104.8,399.83h1.25v1.25h-1.25zM97.9,399.33h1.25v1.25h-1.25zM95.22,398.2h1.25v1.25h-1.25zM107.38,389.54h1.25v1.25h-1.25zM103.94,394.66h1.25v1.25h-1.25zM95.3,397.03h1.25v1.25h-1.25zM96.37,393.46h1.25v1.25h-1.25zM96.34,399.87h1.25v1.25h-1.25zM94.87,394.16h1.25v1.25h-1.25zM99.5,392.88h1.25v1.25h-1.25zM92.98,391.91h1.25v1.25h-1.25zM99.12,393.22h1.25v1.25h-1.25zM100.82,394.22h1.25v1.25h-1.25zM100.72,397.7h1.25v1.25h-1.25zM103.28,394.36h1.25v1.25h-1.25zM97.86,403.92h1.25v1.25h-1.25zM107.73,397.05h1.25v1.25h-1.25zM102.57,390.15h1.25v1.25h-1.25zM98.22,395.46h1.25v1.25h-1.25zM99.95,400.68h1.25v1.25h-1.25zM101.37,395.47h1.25v1.25h-1.25zM107.18,393.69h1.25v1.25h-1.25zM101.95,394.29h1.25v1.25h-1.25zM94.32,400.58h1.25v1.25h-1.25zM91.36,390.71h1.25v1.25h-1.25zM97,395.08h1.25v1.25h-1.25zM115.02,394.41h1.25v1.25h-1.25zM101.16,393.87h1.25v1.25h-1.25zM87.44,399.96h1.25v1.25h-1.25zM104.79,394.2h1.25v1.25h-1.25zM95.18,398.87h1.25v1.25h-1.25zM96.34,398.73h1.25v1.25h-1.25zM108.61,396.46h1.25v1.25h-1.25zM97.36,397.36h1.25v1.25h-1.25zM104.5,403.72h1.25v1.25h-1.25zM99.3,396.25h1.25v1.25h-1.25zM93.75,394.86h1.25v1.25h-1.25zM99.15,399.73h1.25v1.25h-1.25zM110.29,395.89h1.25v1.25h-1.25zM97.94,393.48h1.25v1.25h-1.25zM106.72,397.98h1.25v1.25h-1.25zM106.09,404.12h1.25v1.25h-1.25zM96.48,391.61h1.25v1.25h-1.25zM97.67,397.87h1.25v1.25h-1.25zM96.01,396.77h1.25v1.25h-1.25zM109.29,390.01h1.25v1.25h-1.25zM104.56,390.36h1.25v1.25h-1.25zM105.07,397.41h1.25v1.25h-1.25zM101.66,396.27h1.25v1.25h-1.25zM106.01,398.91h1.25v1.25h-1.25zM99.26,398.83h1.25v1.25h-1.25zM98.53,397.64h1.25v1.25h-1.25zM99.22,398.57h1.25v1.25h-1.25zM99.01,393.04h1.25v1.25h-1.25zM115.26,396.77h1.25v1.25h-1.25zM92.04,400.57h1.25v1.25h-1.25zM90.69,396.31h1.25v1.25h-1.25zM99.78,398.98h1.25v1.25h-1.25zM99.13,397.28h1.25v1.25h-1.25zM92.27,399.24h1.25v1.25h-1.25zM96.8,399.3h1.25v1.25h-1.25zM100.29,396.81h1.25v1.25h-1.25zM107.72,390.83h1.25v1.25h-1.25zM104.98,394.1h1.25v1.25h-1.25zM98.31,401.86h1.25v1.25h-1.25zM102.57,396.37h1.25v1.25h-1.25zM100.75,397.47h1.25v1.25h-1.25zM95.51,397.08h1.25v1.25h-1.25zM104.67,396.65h1.25v1.25h-1.25zM99.79,388.55h1.25v1.25h-1.25zM105.24,397.48h1.25v1.25h-1.25zM100.69,400.69h1.25v1.25h-1.25zM112.72,398.39h1.25v1.25h-1.25zM96.56,401.98h1.25v1.25h-1.25zM91.21,396.6h1.25v1.25h-1.25zM102.29,396.47h1.25v1.25h-1.25zM95.25,398.3h1.25v1.25h-1.25zM103.29,392.38h1.25v1.25h-1.25zM99.3,392.96h1.25v1.25h-1.25zM100.28,400.55h1.25v1.25h-1.25zM103.23,397.47h1.25v1.25h-1.25zM102.39,395.73h1.25v1.25h-1.25zM104.38,395.76h1.25v1.25h-1.25zM99.36,395.44h1.25v1.25h-1.25zM102.56,393.51h1.25v1.25h-1.25zM89.16,401.73h1.25v1.25h-1.25zM92.29,391.44h1.25v1.25h-1.25zM90.7,399.99h1.25v1.25h-1.25zM95.67,393.45h1.25v1.25h-1.25zM103.29,395.8h1.25v1.25h-1.25zM100.42,395.77h1.25v1.25h-1.25zM106.23,401.38h1.25v1.25h-1.25zM95.45,404.25h1.25v1.25h-1.25zM108.17,392.83h1.25v1.25h-1.25zM103.84,395.76h1.25v1.25h-1.25zM104.71,394.79h1.25v1.25h-1.25zM101.34,392.72h1.25v1.25h-1.25zM100.89,397.23h1.25v1.25h-1.25zM98.73,389.33h1.25v1.25h-1.25zM94.3,389.37h1.25v1.25h-1.25zM99.23,397.44h1.25v1.25h-1.25zM102.08,395.78h1.25v1.25h-1.25zM99.46,394.26h1.25v1.25h-1.25zM93.62,404.71h1.25v1.25h-1.25zM106.43,394.79h1.25v1.25h-1.25zM103.85,390.51h1.25v1.25h-1.25zM93.36,391.87h1.25v1.25h-1.25zM101.56,394.14h1.25v1.25h-1.25zM92.57,400.99h1.25v1.25h-1.25zM93.61,397.59h1.25v1.25h-1.25zM107.96,392.6h1.25v1.25h-1.25zM100.47,390.21h1.25v1.25h-1.25zM91.64,396.96h1.25v1.25h-1.25zM95.67,392.03h1.25v1.25h-1.25zM95.47,402.77h1.25v1.25h-1.25zM89.05,398.69h1.25v1.25h-1.25zM98.04,394.51h1.25v1.25h-1.25zM96.85,399.66h1.25v1.25h-1.25zM88.7,399.23h1.25v1.25h-1.25zM102.09,393.17h1.25v1.25h-1.25zM106.07,397.55h1.25v1.25h-1.25zM100.53,395.03h1.25v1.25h-1.25zM103.74,399.25h1.25v1.25h-1.25zM98.64,397.2h1.25v1.25h-1.25zM97.2,405.54h1.25v1.25h-1.25zM93.25,405.54h1.25v1.25h-1.25zM104.11,405.54h1.25v1.25h-1.25zM103.67,405.54h1.25v1.25h-1.25zM100.17,405.54h1.25v1.25h-1.25zM94.36,405.54h1.25v1.25h-1.25zM102.87,405.54h1.25v1.25h-1.25zM98.86,405.54h1.25v1.25h-1.25zM102.73,405.54h1.25v1.25h-1.25zM83.22,399.96h1.25v1.25h-1.25zM83.22,392.3h1.25v1.25h-1.25zM83.22,400.79h1.25v1.25h-1.25zM83.22,398.72h1.25v1.25h-1.25zM82.84,405.54h1.25v1.25h-1.25z" fill="#111"/>
<circle cx="101.89" cy="395.3" r="0.8" fill="#27aee6"/>
<circle cx="97.79" cy="391.83" r="0.8" fill="#27aee6"/>
<circle cx="109.75" cy="394.33" r="0.8" fill="#27aee6"/>
<circle cx="108.29" cy="390.06" r="1.0" fill="#f02020"/>
<circle cx="107.86" cy="391.97" r="1.0" fill="#f02020"/>
<circle cx="112.43" cy="391.76" r="1.0" fill="#f02020"/>
<circle cx="107.21" cy="394.31" r="1.0" fill="#f02020"/>
<circle cx="111" cy="387.8" r="1.0" fill="#f02020"/>
<circle cx="114.7" cy="394.1" r="1.0" fill="#f02020"/>
<rect x="120" y="384.9" width="37.7" height="23.6" rx="1.3" fill="#fff" stroke="#8a8a8a" stroke-width="1.2"/>
<path d="M130.87,397.33h1.25v1.25h-1.25zM133.69,400h1.25v1.25h-1.25zM133.49,389.42h1.25v1.25h-1.25zM133.78,396.36h1.25v1.25h-1.25zM141.4,391.48h1.25v1.25h-1.25zM133.12,405.07h1.25v1.25h-1.25zM124.79,402.11h1.25v1.25h-1.25zM132.14,392.93h1.25v1.25h-1.25zM135.47,398.83h1.25v1.25h-1.25zM133.87,405.07h1.25v1.25h-1.25zM134.56,397.91h1.25v1.25h-1.25zM135.88,397.77h1.25v1.25h-1.25zM126.07,390.11h1.25v1.25h-1.25zM140.52,395.27h1.25v1.25h-1.25zM138.5,401.96h1.25v1.25h-1.25zM143.06,395.55h1.25v1.25h-1.25zM133.49,397.58h1.25v1.25h-1.25zM132.09,396.71h1.25v1.25h-1.25zM130.06,397.74h1.25v1.25h-1.25zM135.4,392.53h1.25v1.25h-1.25zM130.25,395.07h1.25v1.25h-1.25zM132.63,397.42h1.25v1.25h-1.25zM133.99,402.02h1.25v1.25h-1.25zM136.44,388.69h1.25v1.25h-1.25zM133.58,394.8h1.25v1.25h-1.25zM134.12,402.37h1.25v1.25h-1.25zM135.98,398.41h1.25v1.25h-1.25zM133.82,394.49h1.25v1.25h-1.25zM136.59,401.32h1.25v1.25h-1.25zM137.21,390.27h1.25v1.25h-1.25zM133.35,400.87h1.25v1.25h-1.25zM136.13,395.01h1.25v1.25h-1.25zM148.24,391.87h1.25v1.25h-1.25zM130.42,404.79h1.25v1.25h-1.25zM140.22,403.02h1.25v1.25h-1.25zM131.83,396.83h1.25v1.25h-1.25zM128.91,397.29h1.25v1.25h-1.25zM141.92,400.21h1.25v1.25h-1.25zM132.74,395.54h1.25v1.25h-1.25zM137.49,394.12h1.25v1.25h-1.25zM144.56,397.32h1.25v1.25h-1.25zM142.32,400.3h1.25v1.25h-1.25zM139.26,390.26h1.25v1.25h-1.25zM143.86,389.72h1.25v1.25h-1.25zM131.26,394.58h1.25v1.25h-1.25zM141.04,394.69h1.25v1.25h-1.25zM140.93,394.9h1.25v1.25h-1.25zM132.8,392.62h1.25v1.25h-1.25zM136.73,395.41h1.25v1.25h-1.25zM133.33,398.49h1.25v1.25h-1.25zM142.75,400.33h1.25v1.25h-1.25zM131.05,399.42h1.25v1.25h-1.25zM140.46,394.57h1.25v1.25h-1.25zM131.82,399.39h1.25v1.25h-1.25zM137.31,393.17h1.25v1.25h-1.25zM142.52,395.28h1.25v1.25h-1.25zM138.56,397.53h1.25v1.25h-1.25zM135.42,395.67h1.25v1.25h-1.25zM137.76,398.18h1.25v1.25h-1.25zM131.99,394.51h1.25v1.25h-1.25zM130.55,401.33h1.25v1.25h-1.25zM131.89,398.02h1.25v1.25h-1.25zM139.28,393.94h1.25v1.25h-1.25zM130.77,396.33h1.25v1.25h-1.25zM130.34,393.41h1.25v1.25h-1.25zM132.45,397.07h1.25v1.25h-1.25zM123.17,399.9h1.25v1.25h-1.25zM130.84,397.54h1.25v1.25h-1.25zM138.46,397.35h1.25v1.25h-1.25zM133.68,394.39h1.25v1.25h-1.25zM144.05,395.99h1.25v1.25h-1.25zM141.58,391.86h1.25v1.25h-1.25zM134.38,393.97h1.25v1.25h-1.25zM133.76,393.8h1.25v1.25h-1.25zM133.28,394.24h1.25v1.25h-1.25zM132.7,400.97h1.25v1.25h-1.25zM133.5,395.4h1.25v1.25h-1.25zM127.73,396.33h1.25v1.25h-1.25zM136.25,396.9h1.25v1.25h-1.25zM143.33,395.81h1.25v1.25h-1.25zM131,397.18h1.25v1.25h-1.25zM139.54,391.29h1.25v1.25h-1.25zM135.99,391.52h1.25v1.25h-1.25zM134.16,397.87h1.25v1.25h-1.25zM134.02,392.83h1.25v1.25h-1.25zM129.83,397.04h1.25v1.25h-1.25zM133.79,392.1h1.25v1.25h-1.25zM130.23,401.19h1.25v1.25h-1.25zM137.26,392.46h1.25v1.25h-1.25zM129.12,399.86h1.25v1.25h-1.25zM124.47,395.93h1.25v1.25h-1.25zM135.07,397.64h1.25v1.25h-1.25zM147.18,392.21h1.25v1.25h-1.25zM135.85,398.74h1.25v1.25h-1.25zM140.29,389.8h1.25v1.25h-1.25zM146.29,393.29h1.25v1.25h-1.25zM139.86,399.68h1.25v1.25h-1.25zM138.44,397.32h1.25v1.25h-1.25zM135.79,395.59h1.25v1.25h-1.25zM138.04,395.23h1.25v1.25h-1.25zM138.39,394.35h1.25v1.25h-1.25zM134.45,389.34h1.25v1.25h-1.25zM146.2,401.14h1.25v1.25h-1.25zM137.46,398.39h1.25v1.25h-1.25zM139.23,400.37h1.25v1.25h-1.25zM145.43,390.14h1.25v1.25h-1.25zM129.18,401.83h1.25v1.25h-1.25zM134.71,399.89h1.25v1.25h-1.25zM133.35,396.16h1.25v1.25h-1.25zM134.84,391.17h1.25v1.25h-1.25zM136.47,391.08h1.25v1.25h-1.25zM136.9,393.75h1.25v1.25h-1.25zM132.53,394.07h1.25v1.25h-1.25zM144.19,393.52h1.25v1.25h-1.25zM139.53,397.56h1.25v1.25h-1.25zM131.94,392.74h1.25v1.25h-1.25zM131.56,394.93h1.25v1.25h-1.25zM141.04,396.89h1.25v1.25h-1.25zM137.09,398.04h1.25v1.25h-1.25zM134.44,389.63h1.25v1.25h-1.25zM131.78,396.74h1.25v1.25h-1.25zM138.28,399.3h1.25v1.25h-1.25zM139.28,399.06h1.25v1.25h-1.25zM134.64,397.67h1.25v1.25h-1.25zM133.9,390.39h1.25v1.25h-1.25zM132.56,402.28h1.25v1.25h-1.25zM130.94,404.37h1.25v1.25h-1.25zM140.31,393.28h1.25v1.25h-1.25zM138.35,393.83h1.25v1.25h-1.25zM134.31,395.35h1.25v1.25h-1.25zM133.64,397.67h1.25v1.25h-1.25zM131.4,397.99h1.25v1.25h-1.25zM136.82,396.51h1.25v1.25h-1.25zM136.78,395.15h1.25v1.25h-1.25zM131.03,398.96h1.25v1.25h-1.25zM137.15,398.65h1.25v1.25h-1.25zM137.21,391.73h1.25v1.25h-1.25zM128.43,403.4h1.25v1.25h-1.25zM139.79,392h1.25v1.25h-1.25zM143.66,390.86h1.25v1.25h-1.25zM136.31,394.05h1.25v1.25h-1.25zM132.77,396.71h1.25v1.25h-1.25zM131.93,396.31h1.25v1.25h-1.25zM135.97,397.76h1.25v1.25h-1.25zM131.64,404.97h1.25v1.25h-1.25zM136.74,401.04h1.25v1.25h-1.25zM140.66,396.53h1.25v1.25h-1.25zM146.71,390.4h1.25v1.25h-1.25zM131.63,395.85h1.25v1.25h-1.25zM138.99,398.76h1.25v1.25h-1.25zM128.06,394.09h1.25v1.25h-1.25zM133.14,400.31h1.25v1.25h-1.25zM133.19,397.88h1.25v1.25h-1.25zM137.64,396.82h1.25v1.25h-1.25zM128.14,402.53h1.25v1.25h-1.25zM139.32,398.51h1.25v1.25h-1.25zM134.04,391.73h1.25v1.25h-1.25zM138.28,391.23h1.25v1.25h-1.25zM135.82,396.79h1.25v1.25h-1.25zM133.46,392.83h1.25v1.25h-1.25zM141.26,391.57h1.25v1.25h-1.25zM137.39,398.56h1.25v1.25h-1.25zM137.2,397.42h1.25v1.25h-1.25zM135.07,400.94h1.25v1.25h-1.25zM138.4,392.73h1.25v1.25h-1.25zM134.28,395.7h1.25v1.25h-1.25zM132.52,388.87h1.25v1.25h-1.25zM133.23,395.85h1.25v1.25h-1.25zM133.39,392.53h1.25v1.25h-1.25zM130.13,394.06h1.25v1.25h-1.25zM137.44,395.26h1.25v1.25h-1.25zM138.61,397.17h1.25v1.25h-1.25zM136.67,398.63h1.25v1.25h-1.25zM131.41,397.58h1.25v1.25h-1.25zM139.16,396.94h1.25v1.25h-1.25zM135.29,395.9h1.25v1.25h-1.25zM139.84,396.75h1.25v1.25h-1.25zM135.94,397.32h1.25v1.25h-1.25zM139.47,393.69h1.25v1.25h-1.25zM140.93,394.74h1.25v1.25h-1.25zM135.53,396.18h1.25v1.25h-1.25zM139.8,389.95h1.25v1.25h-1.25zM142.1,390.31h1.25v1.25h-1.25zM136.32,393.7h1.25v1.25h-1.25zM144.39,396.33h1.25v1.25h-1.25zM148.16,391.01h1.25v1.25h-1.25zM129.91,400.2h1.25v1.25h-1.25zM133.32,396.71h1.25v1.25h-1.25zM135.12,392.15h1.25v1.25h-1.25zM139.45,400.93h1.25v1.25h-1.25zM136.68,394.45h1.25v1.25h-1.25zM128.81,397.85h1.25v1.25h-1.25zM127.83,394.35h1.25v1.25h-1.25zM146.31,394.77h1.25v1.25h-1.25zM139.79,396.24h1.25v1.25h-1.25zM133.92,398.04h1.25v1.25h-1.25zM131.19,401.94h1.25v1.25h-1.25zM144.67,391.22h1.25v1.25h-1.25zM135.99,391.7h1.25v1.25h-1.25zM134.28,398.42h1.25v1.25h-1.25zM129.58,396.84h1.25v1.25h-1.25zM139.34,394.9h1.25v1.25h-1.25zM132.5,394.77h1.25v1.25h-1.25zM133.78,401.68h1.25v1.25h-1.25zM131.33,394.76h1.25v1.25h-1.25zM140.77,387.84h1.25v1.25h-1.25zM138.91,405.07h1.25v1.25h-1.25zM138.23,397.74h1.25v1.25h-1.25zM133.92,404.1h1.25v1.25h-1.25zM139.08,397.28h1.25v1.25h-1.25zM132.31,396.54h1.25v1.25h-1.25zM139.12,401.45h1.25v1.25h-1.25zM134.96,398.13h1.25v1.25h-1.25zM133.39,397.67h1.25v1.25h-1.25zM138.56,394.5h1.25v1.25h-1.25zM137.88,389.57h1.25v1.25h-1.25zM138.71,397.83h1.25v1.25h-1.25zM135.78,395.92h1.25v1.25h-1.25zM135.81,395.86h1.25v1.25h-1.25zM136.27,396.05h1.25v1.25h-1.25zM146.99,389.67h1.25v1.25h-1.25zM131.48,399.04h1.25v1.25h-1.25zM133.49,388.36h1.25v1.25h-1.25zM146.24,394.43h1.25v1.25h-1.25zM136.93,396.52h1.25v1.25h-1.25zM139.04,400.18h1.25v1.25h-1.25zM137.42,397.61h1.25v1.25h-1.25zM135.89,392.95h1.25v1.25h-1.25zM134.76,400.53h1.25v1.25h-1.25zM131.92,400.22h1.25v1.25h-1.25zM138.71,399.47h1.25v1.25h-1.25zM129.85,390.7h1.25v1.25h-1.25zM142.57,396.72h1.25v1.25h-1.25zM143.96,396.62h1.25v1.25h-1.25zM128.59,396.47h1.25v1.25h-1.25zM141.45,392.14h1.25v1.25h-1.25zM136.45,391.16h1.25v1.25h-1.25zM138.15,394.46h1.25v1.25h-1.25zM130.51,390.53h1.25v1.25h-1.25zM128.43,395.88h1.25v1.25h-1.25zM142.23,387.84h1.25v1.25h-1.25zM127.84,397.06h1.25v1.25h-1.25zM141.07,396.04h1.25v1.25h-1.25zM137.54,400.08h1.25v1.25h-1.25zM134.5,392.95h1.25v1.25h-1.25zM132.93,399.89h1.25v1.25h-1.25zM123.86,405.07h1.25v1.25h-1.25zM144.58,392.85h1.25v1.25h-1.25zM140.16,399.58h1.25v1.25h-1.25zM139.64,399.07h1.25v1.25h-1.25zM141.02,394.85h1.25v1.25h-1.25zM135.1,397.19h1.25v1.25h-1.25zM132.45,394.28h1.25v1.25h-1.25zM142.52,391.63h1.25v1.25h-1.25zM134.45,397.44h1.25v1.25h-1.25zM145.96,400.94h1.25v1.25h-1.25zM145.7,392.2h1.25v1.25h-1.25zM134.59,389.29h1.25v1.25h-1.25zM139.19,396.99h1.25v1.25h-1.25zM133.49,394.85h1.25v1.25h-1.25zM141.17,405.54h1.25v1.25h-1.25zM136.34,405.54h1.25v1.25h-1.25zM139.92,405.54h1.25v1.25h-1.25zM146.46,405.54h1.25v1.25h-1.25zM140.32,405.54h1.25v1.25h-1.25zM146.21,405.54h1.25v1.25h-1.25zM140.31,405.54h1.25v1.25h-1.25zM147.54,405.54h1.25v1.25h-1.25zM131.2,405.54h1.25v1.25h-1.25zM122.42,396.48h1.25v1.25h-1.25zM122.42,395.61h1.25v1.25h-1.25zM122.42,393.96h1.25v1.25h-1.25zM122.42,391.68h1.25v1.25h-1.25zM122.04,405.54h1.25v1.25h-1.25z" fill="#111"/>
<circle cx="141.42" cy="393.32" r="0.8" fill="#27aee6"/>
<circle cx="141.56" cy="392.92" r="0.8" fill="#27aee6"/>
<circle cx="142.5" cy="390" r="0.8" fill="#27aee6"/>
<circle cx="145.02" cy="392.54" r="1.0" fill="#f02020"/>
<circle cx="153.47" cy="394.39" r="1.0" fill="#f02020"/>
<circle cx="152.63" cy="394.59" r="1.0" fill="#f02020"/>
<circle cx="151.24" cy="389.15" r="1.0" fill="#f02020"/>
<circle cx="147.22" cy="392.11" r="1.0" fill="#f02020"/>
<circle cx="147.1" cy="389.82" r="1.0" fill="#f02020"/>
<rect x="159.2" y="384.9" width="37.7" height="23.6" rx="1.3" fill="#fff" stroke="#8a8a8a" stroke-width="1.2"/>
<path d="M171.46,399.6h1.25v1.25h-1.25zM167.96,403.97h1.25v1.25h-1.25zM180.66,396.39h1.25v1.25h-1.25zM174.35,396.03h1.25v1.25h-1.25zM180.04,392.46h1.25v1.25h-1.25zM178.25,396.77h1.25v1.25h-1.25zM166.98,400.08h1.25v1.25h-1.25zM179.88,398.55h1.25v1.25h-1.25zM178.91,396.79h1.25v1.25h-1.25zM178.78,395h1.25v1.25h-1.25zM175.66,401.23h1.25v1.25h-1.25zM179.14,399.65h1.25v1.25h-1.25zM181,400.68h1.25v1.25h-1.25zM185.01,396.27h1.25v1.25h-1.25zM186.42,393.7h1.25v1.25h-1.25zM183.68,391.7h1.25v1.25h-1.25zM171.82,403.01h1.25v1.25h-1.25zM173.48,393.09h1.25v1.25h-1.25zM174.82,393.47h1.25v1.25h-1.25zM180.81,398.85h1.25v1.25h-1.25zM177.39,393.03h1.25v1.25h-1.25zM183.4,399.69h1.25v1.25h-1.25zM175.28,401.84h1.25v1.25h-1.25zM178.8,401.44h1.25v1.25h-1.25zM180.41,394.36h1.25v1.25h-1.25zM169.42,398.4h1.25v1.25h-1.25zM180.69,393.95h1.25v1.25h-1.25zM178.37,395.49h1.25v1.25h-1.25zM177.68,390.02h1.25v1.25h-1.25zM180.66,397.93h1.25v1.25h-1.25zM181.45,394.9h1.25v1.25h-1.25zM179.15,400.89h1.25v1.25h-1.25zM170.67,400.06h1.25v1.25h-1.25zM174.66,396.09h1.25v1.25h-1.25zM177.24,398.98h1.25v1.25h-1.25zM175.65,391.49h1.25v1.25h-1.25zM173.12,397.93h1.25v1.25h-1.25zM181.98,396.49h1.25v1.25h-1.25zM179.68,397.82h1.25v1.25h-1.25zM181.65,393.21h1.25v1.25h-1.25zM180.08,393.22h1.25v1.25h-1.25zM173.1,397.95h1.25v1.25h-1.25zM180.83,397.5h1.25v1.25h-1.25zM172.66,402.22h1.25v1.25h-1.25zM175.4,399.71h1.25v1.25h-1.25zM176.31,393.99h1.25v1.25h-1.25zM185.72,397.43h1.25v1.25h-1.25zM166.03,399.64h1.25v1.25h-1.25zM183.06,396.95h1.25v1.25h-1.25zM185.82,401.24h1.25v1.25h-1.25zM171.55,394.78h1.25v1.25h-1.25zM177.53,400.19h1.25v1.25h-1.25zM180.09,390.76h1.25v1.25h-1.25zM187.91,388.78h1.25v1.25h-1.25zM174.18,395.71h1.25v1.25h-1.25zM185.75,398.62h1.25v1.25h-1.25zM167.15,400.53h1.25v1.25h-1.25zM165.45,398.11h1.25v1.25h-1.25zM174.7,395.21h1.25v1.25h-1.25zM182.99,396.43h1.25v1.25h-1.25zM174.43,396.81h1.25v1.25h-1.25zM172.6,398.34h1.25v1.25h-1.25zM181.35,392.14h1.25v1.25h-1.25zM179.35,402.39h1.25v1.25h-1.25zM178.36,399.71h1.25v1.25h-1.25zM171.51,404.59h1.25v1.25h-1.25zM170.14,394.67h1.25v1.25h-1.25zM176.92,395.92h1.25v1.25h-1.25zM175.39,397.31h1.25v1.25h-1.25zM176.93,401.23h1.25v1.25h-1.25zM174.39,397.12h1.25v1.25h-1.25zM180.88,390.56h1.25v1.25h-1.25zM176.56,399.85h1.25v1.25h-1.25zM172.09,401.15h1.25v1.25h-1.25zM174.76,398.48h1.25v1.25h-1.25zM174.86,401h1.25v1.25h-1.25zM180.71,394.08h1.25v1.25h-1.25zM177.85,397.08h1.25v1.25h-1.25zM182.74,398.89h1.25v1.25h-1.25zM176.42,395.07h1.25v1.25h-1.25zM175.3,392.91h1.25v1.25h-1.25zM177.84,400.63h1.25v1.25h-1.25zM181.79,395.59h1.25v1.25h-1.25zM169.99,400.26h1.25v1.25h-1.25zM177.93,399.26h1.25v1.25h-1.25zM178.65,400.15h1.25v1.25h-1.25zM176.23,397.17h1.25v1.25h-1.25zM176.79,390.27h1.25v1.25h-1.25zM178.01,400.91h1.25v1.25h-1.25zM176.73,401.54h1.25v1.25h-1.25zM171.57,399.72h1.25v1.25h-1.25zM178.69,393.9h1.25v1.25h-1.25zM180.85,394.05h1.25v1.25h-1.25zM175.02,398.52h1.25v1.25h-1.25zM182.98,391.52h1.25v1.25h-1.25zM180.24,394.53h1.25v1.25h-1.25zM176.29,390.96h1.25v1.25h-1.25zM175.9,392.4h1.25v1.25h-1.25zM174.28,398.77h1.25v1.25h-1.25zM178.15,396.7h1.25v1.25h-1.25zM176.17,395.43h1.25v1.25h-1.25zM178.24,396.94h1.25v1.25h-1.25zM177.18,396.43h1.25v1.25h-1.25zM174.79,395.88h1.25v1.25h-1.25zM178.9,394.23h1.25v1.25h-1.25zM173.86,397.18h1.25v1.25h-1.25zM178.53,401.25h1.25v1.25h-1.25zM184.33,397.1h1.25v1.25h-1.25zM173.51,397.74h1.25v1.25h-1.25zM192.07,396.82h1.25v1.25h-1.25zM184.23,393.5h1.25v1.25h-1.25zM169.2,400.91h1.25v1.25h-1.25zM170.85,399.02h1.25v1.25h-1.25zM174.16,400.21h1.25v1.25h-1.25zM176.86,394.73h1.25v1.25h-1.25zM180.7,392.7h1.25v1.25h-1.25zM178.01,397.93h1.25v1.25h-1.25zM178.94,397.51h1.25v1.25h-1.25zM177.92,400.05h1.25v1.25h-1.25zM175.09,395.01h1.25v1.25h-1.25zM170.98,392.45h1.25v1.25h-1.25zM179.17,392.59h1.25v1.25h-1.25zM183.87,390.64h1.25v1.25h-1.25zM180.97,396.33h1.25v1.25h-1.25zM178.95,401.05h1.25v1.25h-1.25zM175.62,400.3h1.25v1.25h-1.25zM187.46,391.48h1.25v1.25h-1.25zM179.1,399.48h1.25v1.25h-1.25zM174.27,397.61h1.25v1.25h-1.25zM181.7,398.88h1.25v1.25h-1.25zM188.12,394.33h1.25v1.25h-1.25zM183.5,392.39h1.25v1.25h-1.25zM176.82,397.36h1.25v1.25h-1.25zM171.89,397.18h1.25v1.25h-1.25zM177.28,396.14h1.25v1.25h-1.25zM177.28,395.99h1.25v1.25h-1.25zM184.77,394.46h1.25v1.25h-1.25zM183.22,389.67h1.25v1.25h-1.25zM175.4,398.31h1.25v1.25h-1.25zM177.79,396.77h1.25v1.25h-1.25zM191.86,395.1h1.25v1.25h-1.25zM177.3,397.75h1.25v1.25h-1.25zM172.27,398.43h1.25v1.25h-1.25zM169.44,399.97h1.25v1.25h-1.25zM180.77,397.9h1.25v1.25h-1.25zM177.79,393.33h1.25v1.25h-1.25zM168.96,402.43h1.25v1.25h-1.25zM164.1,402.1h1.25v1.25h-1.25zM181.41,395.17h1.25v1.25h-1.25zM185.38,396.99h1.25v1.25h-1.25zM182.45,398.33h1.25v1.25h-1.25zM177.65,399.31h1.25v1.25h-1.25zM179,392.56h1.25v1.25h-1.25zM177.88,398.48h1.25v1.25h-1.25zM181.08,400.46h1.25v1.25h-1.25zM175.32,404.86h1.25v1.25h-1.25zM172.81,402.63h1.25v1.25h-1.25zM168.15,402.6h1.25v1.25h-1.25zM174.14,401.3h1.25v1.25h-1.25zM177.7,400.68h1.25v1.25h-1.25zM173.28,396.81h1.25v1.25h-1.25zM173.53,399.23h1.25v1.25h-1.25zM173.6,396.83h1.25v1.25h-1.25zM178.15,396.27h1.25v1.25h-1.25zM173.6,396.1h1.25v1.25h-1.25zM190.47,400.67h1.25v1.25h-1.25zM176.33,393.88h1.25v1.25h-1.25zM186.25,391.49h1.25v1.25h-1.25zM177.64,394.42h1.25v1.25h-1.25zM178.9,399.58h1.25v1.25h-1.25zM178.28,391.12h1.25v1.25h-1.25zM178.83,397.5h1.25v1.25h-1.25zM184.49,394.84h1.25v1.25h-1.25zM178.42,395.63h1.25v1.25h-1.25zM184.83,391.97h1.25v1.25h-1.25zM168.17,398.93h1.25v1.25h-1.25zM175.93,398.26h1.25v1.25h-1.25zM174.48,396.73h1.25v1.25h-1.25zM177.17,398.44h1.25v1.25h-1.25zM174.25,394.6h1.25v1.25h-1.25zM169.85,397.35h1.25v1.25h-1.25zM176.7,399.74h1.25v1.25h-1.25zM181.24,396.31h1.25v1.25h-1.25zM180.97,393.6h1.25v1.25h-1.25zM184.59,390.61h1.25v1.25h-1.25zM179.26,393.9h1.25v1.25h-1.25zM181.81,397.45h1.25v1.25h-1.25zM174.37,399.11h1.25v1.25h-1.25zM179.39,394.18h1.25v1.25h-1.25zM179.7,397.03h1.25v1.25h-1.25zM179.54,394.54h1.25v1.25h-1.25zM171.49,395.71h1.25v1.25h-1.25zM173.02,397.85h1.25v1.25h-1.25zM181.31,397.31h1.25v1.25h-1.25zM177.4,388.45h1.25v1.25h-1.25zM175.64,400.14h1.25v1.25h-1.25zM183.59,389.96h1.25v1.25h-1.25zM175.88,400.55h1.25v1.25h-1.25zM178.2,394.73h1.25v1.25h-1.25zM175.41,402.11h1.25v1.25h-1.25zM180.59,394.74h1.25v1.25h-1.25zM179.94,399.39h1.25v1.25h-1.25zM177.48,394.28h1.25v1.25h-1.25zM172.96,393.93h1.25v1.25h-1.25zM174.48,403.81h1.25v1.25h-1.25zM178.47,395.86h1.25v1.25h-1.25zM177.17,393.19h1.25v1.25h-1.25zM173.39,399.85h1.25v1.25h-1.25zM184.87,394.85h1.25v1.25h-1.25zM189.57,390.21h1.25v1.25h-1.25zM178.73,397.61h1.25v1.25h-1.25zM171.65,393.8h1.25v1.25h-1.25zM179.85,394.79h1.25v1.25h-1.25zM183.8,395.22h1.25v1.25h-1.25zM179.78,396.26h1.25v1.25h-1.25zM174.3,399.72h1.25v1.25h-1.25zM167.96,397.32h1.25v1.25h-1.25zM180.67,392.03h1.25v1.25h-1.25zM174.65,397.9h1.25v1.25h-1.25zM179.57,394.88h1.25v1.25h-1.25zM172.39,398.84h1.25v1.25h-1.25zM176.09,403.64h1.25v1.25h-1.25zM175.64,395.03h1.25v1.25h-1.25zM171.21,402.12h1.25v1.25h-1.25zM175.05,391.93h1.25v1.25h-1.25zM182.73,392.09h1.25v1.25h-1.25zM175.27,396.6h1.25v1.25h-1.25zM176.44,395.68h1.25v1.25h-1.25zM175.55,396.55h1.25v1.25h-1.25zM172.09,399.87h1.25v1.25h-1.25zM178.04,397.84h1.25v1.25h-1.25zM185.6,396.48h1.25v1.25h-1.25zM177.98,400.37h1.25v1.25h-1.25zM175.45,398.16h1.25v1.25h-1.25zM184.9,390.7h1.25v1.25h-1.25zM173.62,405.07h1.25v1.25h-1.25zM180.08,401.91h1.25v1.25h-1.25zM182.07,391.16h1.25v1.25h-1.25zM174.62,395.77h1.25v1.25h-1.25zM179.89,398.91h1.25v1.25h-1.25zM175.35,395.27h1.25v1.25h-1.25zM177.19,403.18h1.25v1.25h-1.25zM175.87,400.24h1.25v1.25h-1.25zM177.81,400.54h1.25v1.25h-1.25zM176.07,391.04h1.25v1.25h-1.25zM176.81,395.83h1.25v1.25h-1.25zM178.68,396.58h1.25v1.25h-1.25zM171.87,399.42h1.25v1.25h-1.25zM180.65,396.9h1.25v1.25h-1.25zM181.74,391.87h1.25v1.25h-1.25zM179.84,400.36h1.25v1.25h-1.25zM178.07,396.45h1.25v1.25h-1.25zM177.91,398.37h1.25v1.25h-1.25zM177.78,398.45h1.25v1.25h-1.25zM183.46,397.69h1.25v1.25h-1.25zM173.88,397.71h1.25v1.25h-1.25zM178.82,400.83h1.25v1.25h-1.25zM176.86,400.49h1.25v1.25h-1.25zM171.4,394.15h1.25v1.25h-1.25zM171.98,397.49h1.25v1.25h-1.25zM178.89,405.54h1.25v1.25h-1.25zM186.2,405.54h1.25v1.25h-1.25zM170.03,405.54h1.25v1.25h-1.25zM185.13,405.54h1.25v1.25h-1.25zM182.03,405.54h1.25v1.25h-1.25zM178.21,405.54h1.25v1.25h-1.25zM184.33,405.54h1.25v1.25h-1.25zM172.43,405.54h1.25v1.25h-1.25zM175.64,405.54h1.25v1.25h-1.25zM161.62,394.08h1.25v1.25h-1.25zM161.62,393.05h1.25v1.25h-1.25zM161.62,397.3h1.25v1.25h-1.25zM161.62,391.44h1.25v1.25h-1.25zM161.24,405.54h1.25v1.25h-1.25z" fill="#111"/>
<circle cx="182.84" cy="397.09" r="0.8" fill="#27aee6"/>
<circle cx="175.9" cy="396.87" r="0.8" fill="#27aee6"/>
<circle cx="181.8" cy="395.13" r="0.8" fill="#27aee6"/>
<circle cx="186.64" cy="391.64" r="1.0" fill="#f02020"/>
<circle cx="184.85" cy="388.38" r="1.0" fill="#f02020"/>
<circle cx="192.3" cy="390.86" r="1.0" fill="#f02020"/>
<circle cx="188.44" cy="392.63" r="1.0" fill="#f02020"/>
<circle cx="189.99" cy="392.36" r="1.0" fill="#f02020"/>
<circle cx="193.64" cy="388.04" r="1.0" fill="#f02020"/>
<rect x="80.8" y="410.2" width="37.7" height="23.6" rx="1.3" fill="#fff" stroke="#8a8a8a" stroke-width="1.2"/>
<path d="M104.84,417.68h1.25v1.25h-1.25zM102.74,418.44h1.25v1.25h-1.25zM105.47,426.25h1.25v1.25h-1.25zM99.24,420.31h1.25v1.25h-1.25zM104.82,419.1h1.25v1.25h-1.25zM96.08,424.42h1.25v1.25h-1.25zM96.53,416.91h1.25v1.25h-1.25zM97.79,424.12h1.25v1.25h-1.25zM98.73,420.19h1.25v1.25h-1.25zM96.65,422.39h1.25v1.25h-1.25zM106.18,423.87h1.25v1.25h-1.25zM95.94,421.15h1.25v1.25h-1.25zM107.28,419.98h1.25v1.25h-1.25zM103.51,423.64h1.25v1.25h-1.25zM102.82,421.85h1.25v1.25h-1.25zM104.91,413.83h1.25v1.25h-1.25zM99.88,421.73h1.25v1.25h-1.25zM97.52,429.03h1.25v1.25h-1.25zM102.91,418.86h1.25v1.25h-1.25zM86.76,423.83h1.25v1.25h-1.25zM111.03,418.5h1.25v1.25h-1.25zM94.64,422.4h1.25v1.25h-1.25zM110.18,422.39h1.25v1.25h-1.25zM83.97,417.68h1.25v1.25h-1.25zM98.91,418.29h1.25v1.25h-1.25zM99.71,416.51h1.25v1.25h-1.25zM96.36,424.82h1.25v1.25h-1.25zM100.3,419.91h1.25v1.25h-1.25zM100.76,423.66h1.25v1.25h-1.25zM110.32,420.85h1.25v1.25h-1.25zM98.1,417.72h1.25v1.25h-1.25zM98.12,425.13h1.25v1.25h-1.25zM93.65,419.61h1.25v1.25h-1.25zM87.82,423.27h1.25v1.25h-1.25zM105.93,415.17h1.25v1.25h-1.25zM101.1,418.07h1.25v1.25h-1.25zM97.98,423.19h1.25v1.25h-1.25zM98.74,415.93h1.25v1.25h-1.25zM99.37,426.52h1.25v1.25h-1.25zM98.41,420.6h1.25v1.25h-1.25zM99.59,417.18h1.25v1.25h-1.25zM99.55,419.81h1.25v1.25h-1.25zM101.83,419.38h1.25v1.25h-1.25zM103.48,420.64h1.25v1.25h-1.25zM96.1,421h1.25v1.25h-1.25zM97.68,423.42h1.25v1.25h-1.25zM99.98,419.65h1.25v1.25h-1.25zM98.74,427.15h1.25v1.25h-1.25zM97.24,420.07h1.25v1.25h-1.25zM99.34,424.03h1.25v1.25h-1.25zM96.34,424.73h1.25v1.25h-1.25zM101.24,417.83h1.25v1.25h-1.25zM112.01,424.92h1.25v1.25h-1.25zM97.36,419.38h1.25v1.25h-1.25zM98.78,423.05h1.25v1.25h-1.25zM104.06,420.38h1.25v1.25h-1.25zM92.32,420.12h1.25v1.25h-1.25zM100.39,418.33h1.25v1.25h-1.25zM102.99,419.54h1.25v1.25h-1.25zM98.82,424.87h1.25v1.25h-1.25zM108.18,419.04h1.25v1.25h-1.25zM105.1,419.67h1.25v1.25h-1.25zM101.97,415.38h1.25v1.25h-1.25zM103.63,421.06h1.25v1.25h-1.25zM95.26,421.92h1.25v1.25h-1.25zM102.85,420.45h1.25v1.25h-1.25zM95.38,415.84h1.25v1.25h-1.25zM99.92,422.07h1.25v1.25h-1.25zM94.32,419.31h1.25v1.25h-1.25zM84.86,419.33h1.25v1.25h-1.25zM106.18,422.36h1.25v1.25h-1.25zM99.9,420.25h1.25v1.25h-1.25zM95.75,424.77h1.25v1.25h-1.25zM97.84,414.85h1.25v1.25h-1.25zM103.6,420.1h1.25v1.25h-1.25zM111.7,416.34h1.25v1.25h-1.25zM99.23,421.14h1.25v1.25h-1.25zM105.22,417.35h1.25v1.25h-1.25zM101.23,425.45h1.25v1.25h-1.25zM101.26,420.58h1.25v1.25h-1.25zM101.94,423.54h1.25v1.25h-1.25zM100.63,421.85h1.25v1.25h-1.25zM113.37,419.22h1.25v1.25h-1.25zM100.25,425.74h1.25v1.25h-1.25zM107.69,420.35h1.25v1.25h-1.25zM101.07,420.96h1.25v1.25h-1.25zM99.71,418.42h1.25v1.25h-1.25zM100.82,420.8h1.25v1.25h-1.25zM111.08,413.14h1.25v1.25h-1.25zM97.24,424.34h1.25v1.25h-1.25zM96.37,418.78h1.25v1.25h-1.25zM95.97,426.82h1.25v1.25h-1.25zM103.8,424.09h1.25v1.25h-1.25zM105.29,418.27h1.25v1.25h-1.25zM100.18,420.19h1.25v1.25h-1.25zM98.24,424.83h1.25v1.25h-1.25zM97.41,426.22h1.25v1.25h-1.25zM99.97,417.28h1.25v1.25h-1.25zM98.71,419.4h1.25v1.25h-1.25zM91.19,426.58h1.25v1.25h-1.25zM95.5,416.36h1.25v1.25h-1.25zM88.11,421.47h1.25v1.25h-1.25zM94.72,424.22h1.25v1.25h-1.25zM98.93,420.87h1.25v1.25h-1.25zM101.29,414.71h1.25v1.25h-1.25zM99.74,420.44h1.25v1.25h-1.25zM102.93,420.41h1.25v1.25h-1.25zM99.15,420.73h1.25v1.25h-1.25zM99.22,418.45h1.25v1.25h-1.25zM106.58,426.02h1.25v1.25h-1.25zM98.67,420.96h1.25v1.25h-1.25zM103.55,422.21h1.25v1.25h-1.25zM103.55,425.71h1.25v1.25h-1.25zM93.88,416.19h1.25v1.25h-1.25zM95.78,424.76h1.25v1.25h-1.25zM108.28,427.14h1.25v1.25h-1.25zM100.7,421.36h1.25v1.25h-1.25zM101.23,418.43h1.25v1.25h-1.25zM104.97,424.21h1.25v1.25h-1.25zM90.39,417.49h1.25v1.25h-1.25zM92.34,423.55h1.25v1.25h-1.25zM97.35,420.26h1.25v1.25h-1.25zM100.14,419.43h1.25v1.25h-1.25zM94.5,424.49h1.25v1.25h-1.25zM104.13,424.04h1.25v1.25h-1.25zM96.06,421.63h1.25v1.25h-1.25zM100.26,419.91h1.25v1.25h-1.25zM101.33,415.24h1.25v1.25h-1.25zM88.1,424.26h1.25v1.25h-1.25zM106.62,417.76h1.25v1.25h-1.25zM93.83,423.33h1.25v1.25h-1.25zM103.81,421.31h1.25v1.25h-1.25zM89.75,423.31h1.25v1.25h-1.25zM99.82,424.27h1.25v1.25h-1.25zM90.84,427.21h1.25v1.25h-1.25zM99.27,422.84h1.25v1.25h-1.25zM95.67,420.56h1.25v1.25h-1.25zM100.47,416.47h1.25v1.25h-1.25zM92,419.8h1.25v1.25h-1.25zM115.26,419.51h1.25v1.25h-1.25zM98.4,416.89h1.25v1.25h-1.25zM104.14,421.46h1.25v1.25h-1.25zM104.64,419.79h1.25v1.25h-1.25zM98.2,419.8h1.25v1.25h-1.25zM101.83,419.88h1.25v1.25h-1.25zM95.63,418.65h1.25v1.25h-1.25zM83.97,427.05h1.25v1.25h-1.25zM98.14,418.5h1.25v1.25h-1.25zM98.77,424.19h1.25v1.25h-1.25zM101.73,420.58h1.25v1.25h-1.25zM95.6,419.26h1.25v1.25h-1.25zM104.33,420.97h1.25v1.25h-1.25zM106.06,421.04h1.25v1.25h-1.25zM109.57,421.27h1.25v1.25h-1.25zM97.43,421.62h1.25v1.25h-1.25zM93.99,418.66h1.25v1.25h-1.25zM103.24,421.76h1.25v1.25h-1.25zM101.85,421.83h1.25v1.25h-1.25zM102.92,413.36h1.25v1.25h-1.25zM103.68,419.1h1.25v1.25h-1.25zM105.43,422.81h1.25v1.25h-1.25zM101.28,423.56h1.25v1.25h-1.25zM95.21,421.07h1.25v1.25h-1.25zM97.45,421.09h1.25v1.25h-1.25zM103.68,422.97h1.25v1.25h-1.25zM102.4,417.97h1.25v1.25h-1.25zM102.11,419.22h1.25v1.25h-1.25zM98.06,424.3h1.25v1.25h-1.25zM107.04,425.31h1.25v1.25h-1.25zM108.72,418.09h1.25v1.25h-1.25zM99.22,419.41h1.25v1.25h-1.25zM94.21,423h1.25v1.25h-1.25zM104.11,416.94h1.25v1.25h-1.25zM95.61,416.42h1.25v1.25h-1.25zM91.67,418.71h1.25v1.25h-1.25zM98.71,416.39h1.25v1.25h-1.25zM102.89,417.97h1.25v1.25h-1.25zM88.8,420.55h1.25v1.25h-1.25zM99.77,422.58h1.25v1.25h-1.25zM99.82,420.88h1.25v1.25h-1.25zM105.97,417.55h1.25v1.25h-1.25zM102.24,421.46h1.25v1.25h-1.25zM106.82,418.28h1.25v1.25h-1.25zM103.68,420.86h1.25v1.25h-1.25zM104.96,419.55h1.25v1.25h-1.25zM104.45,418.21h1.25v1.25h-1.25zM94.63,416.81h1.25v1.25h-1.25zM97.99,415.13h1.25v1.25h-1.25zM112.01,420.9h1.25v1.25h-1.25zM105.37,416.75h1.25v1.25h-1.25zM83.97,421.21h1.25v1.25h-1.25zM101.63,419.33h1.25v1.25h-1.25zM93.65,424.02h1.25v1.25h-1.25zM99.75,420.82h1.25v1.25h-1.25zM98.75,418.79h1.25v1.25h-1.25zM105.87,416.99h1.25v1.25h-1.25zM89.51,425.41h1.25v1.25h-1.25zM101.25,414.75h1.25v1.25h-1.25zM101.15,420.06h1.25v1.25h-1.25zM100.86,424.07h1.25v1.25h-1.25zM105.5,421.02h1.25v1.25h-1.25zM90,424.13h1.25v1.25h-1.25zM93.01,420.15h1.25v1.25h-1.25zM97,422.5h1.25v1.25h-1.25zM96.59,418.37h1.25v1.25h-1.25zM104.98,419.84h1.25v1.25h-1.25zM91.49,424.78h1.25v1.25h-1.25zM96.21,422.92h1.25v1.25h-1.25zM92.87,421.84h1.25v1.25h-1.25zM99.61,424.12h1.25v1.25h-1.25zM98.83,415.67h1.25v1.25h-1.25zM97.71,421.74h1.25v1.25h-1.25zM103.74,423.68h1.25v1.25h-1.25zM91.95,420.22h1.25v1.25h-1.25zM93.21,417.93h1.25v1.25h-1.25zM97.03,421.82h1.25v1.25h-1.25zM99,420.23h1.25v1.25h-1.25zM88.81,424.87h1.25v1.25h-1.25zM103.97,421.9h1.25v1.25h-1.25zM97.95,418.01h1.25v1.25h-1.25zM98.72,420.95h1.25v1.25h-1.25zM101.31,417h1.25v1.25h-1.25zM87.69,421.24h1.25v1.25h-1.25zM100.12,420.45h1.25v1.25h-1.25zM93.06,423.91h1.25v1.25h-1.25zM104.42,419.64h1.25v1.25h-1.25zM97.84,421.56h1.25v1.25h-1.25zM104.26,422.3h1.25v1.25h-1.25zM95.98,427.35h1.25v1.25h-1.25zM83.97,420.71h1.25v1.25h-1.25zM97.53,419.8h1.25v1.25h-1.25zM83.97,426.54h1.25v1.25h-1.25zM94.09,422.62h1.25v1.25h-1.25zM97.64,419.71h1.25v1.25h-1.25zM106.08,418.97h1.25v1.25h-1.25zM106.55,424.03h1.25v1.25h-1.25zM97.5,423.54h1.25v1.25h-1.25zM105.27,420.57h1.25v1.25h-1.25zM94.59,421.32h1.25v1.25h-1.25zM97.66,424.07h1.25v1.25h-1.25zM92.07,419.61h1.25v1.25h-1.25zM102.21,417.9h1.25v1.25h-1.25zM102.7,419.62h1.25v1.25h-1.25zM98.12,416.29h1.25v1.25h-1.25zM104.02,418.72h1.25v1.25h-1.25zM99.32,421.76h1.25v1.25h-1.25zM94.87,423.59h1.25v1.25h-1.25zM95.89,421.53h1.25v1.25h-1.25zM102.03,418.86h1.25v1.25h-1.25zM93.59,422.92h1.25v1.25h-1.25zM94.11,421.36h1.25v1.25h-1.25zM115.26,419.32h1.25v1.25h-1.25zM97.37,422.46h1.25v1.25h-1.25zM97.18,416.23h1.25v1.25h-1.25zM92.52,424.46h1.25v1.25h-1.25zM102.22,423.57h1.25v1.25h-1.25zM101.11,422.49h1.25v1.25h-1.25zM97.75,420.23h1.25v1.25h-1.25zM96.76,424.15h1.25v1.25h-1.25zM100.44,421.49h1.25v1.25h-1.25zM103.15,430.84h1.25v1.25h-1.25zM100.58,430.84h1.25v1.25h-1.25zM99.95,430.84h1.25v1.25h-1.25zM95.9,430.84h1.25v1.25h-1.25zM95.29,430.84h1.25v1.25h-1.25zM102.88,430.84h1.25v1.25h-1.25zM97.29,430.84h1.25v1.25h-1.25zM107.41,430.84h1.25v1.25h-1.25zM106.81,430.84h1.25v1.25h-1.25zM82.84,430.84h1.25v1.25h-1.25z" fill="#111"/>
<circle cx="108.68" cy="419.57" r="0.8" fill="#27aee6"/>
<circle cx="102.67" cy="420.79" r="0.8" fill="#27aee6"/>
<circle cx="100.62" cy="421" r="0.8" fill="#27aee6"/>
<circle cx="110.6" cy="413.34" r="1.0" fill="#f02020"/>
<circle cx="113.16" cy="417.54" r="1.0" fill="#f02020"/>
<circle cx="108.39" cy="413.52" r="1.0" fill="#f02020"/>
<circle cx="106.2" cy="414.13" r="1.0" fill="#f02020"/>
<circle cx="114.07" cy="419.62" r="1.0" fill="#f02020"/>
<circle cx="115" cy="415.54" r="1.0" fill="#f02020"/>
<rect x="120" y="410.2" width="37.7" height="23.6" rx="1.3" fill="#fff" stroke="#8a8a8a" stroke-width="1.2"/>
<path d="M132.54,420.25h1.25v1.25h-1.25zM126.96,424.31h1.25v1.25h-1.25zM136.07,420.71h1.25v1.25h-1.25zM152.21,413.57h1.25v1.25h-1.25zM132.84,419.71h1.25v1.25h-1.25zM123.71,426.16h1.25v1.25h-1.25zM140.77,416.18h1.25v1.25h-1.25zM140.22,423.86h1.25v1.25h-1.25zM135.12,424.38h1.25v1.25h-1.25zM138.68,423.65h1.25v1.25h-1.25zM138.24,418.35h1.25v1.25h-1.25zM141.59,422.94h1.25v1.25h-1.25zM134.8,419.94h1.25v1.25h-1.25zM140.62,420.52h1.25v1.25h-1.25zM139.95,422.43h1.25v1.25h-1.25zM131.47,421.21h1.25v1.25h-1.25zM135.38,418.15h1.25v1.25h-1.25zM138.05,419.37h1.25v1.25h-1.25zM140.52,420.79h1.25v1.25h-1.25zM137.44,421.15h1.25v1.25h-1.25zM138.6,418.77h1.25v1.25h-1.25zM136.54,423.58h1.25v1.25h-1.25zM131.66,420.43h1.25v1.25h-1.25zM139.31,420.61h1.25v1.25h-1.25zM132.16,422.77h1.25v1.25h-1.25zM143.27,418.14h1.25v1.25h-1.25zM139.96,420.9h1.25v1.25h-1.25zM133.96,418.73h1.25v1.25h-1.25zM134,423.84h1.25v1.25h-1.25zM135.01,418.59h1.25v1.25h-1.25zM135.01,424.9h1.25v1.25h-1.25zM138.35,419.76h1.25v1.25h-1.25zM137.58,419.13h1.25v1.25h-1.25zM130.77,417.78h1.25v1.25h-1.25zM136.45,419.3h1.25v1.25h-1.25zM133.79,424.65h1.25v1.25h-1.25zM139,423.75h1.25v1.25h-1.25zM130.96,424.7h1.25v1.25h-1.25zM140.15,418.6h1.25v1.25h-1.25zM138.87,427.85h1.25v1.25h-1.25zM133.17,420.04h1.25v1.25h-1.25zM136.32,419.21h1.25v1.25h-1.25zM134.18,424.3h1.25v1.25h-1.25zM145.75,419.61h1.25v1.25h-1.25zM136.92,421.26h1.25v1.25h-1.25zM145.9,419.14h1.25v1.25h-1.25zM132.65,423.77h1.25v1.25h-1.25zM140.01,417.42h1.25v1.25h-1.25zM143.28,415.53h1.25v1.25h-1.25zM139.18,421.65h1.25v1.25h-1.25zM134.87,416.63h1.25v1.25h-1.25zM132.75,424.48h1.25v1.25h-1.25zM141.16,418.23h1.25v1.25h-1.25zM137.69,422.12h1.25v1.25h-1.25zM133.45,417.43h1.25v1.25h-1.25zM133.83,425.8h1.25v1.25h-1.25zM140.44,417.97h1.25v1.25h-1.25zM131.67,420.15h1.25v1.25h-1.25zM134.95,421.33h1.25v1.25h-1.25zM132.52,423.08h1.25v1.25h-1.25zM140.62,414.35h1.25v1.25h-1.25zM131.71,419.8h1.25v1.25h-1.25zM136.74,420.2h1.25v1.25h-1.25zM141.31,419.48h1.25v1.25h-1.25zM132.65,424.79h1.25v1.25h-1.25zM145.68,419.94h1.25v1.25h-1.25zM137.24,421.27h1.25v1.25h-1.25zM133.09,421.54h1.25v1.25h-1.25zM141.94,417.91h1.25v1.25h-1.25zM135.49,422.65h1.25v1.25h-1.25zM130.83,425.1h1.25v1.25h-1.25zM134.34,417.79h1.25v1.25h-1.25zM143.33,421.97h1.25v1.25h-1.25zM133.38,422.89h1.25v1.25h-1.25zM147.75,419.07h1.25v1.25h-1.25zM139.49,423.52h1.25v1.25h-1.25zM138.04,423.11h1.25v1.25h-1.25zM138.32,423.94h1.25v1.25h-1.25zM132.69,421.39h1.25v1.25h-1.25zM137.48,421.54h1.25v1.25h-1.25zM136.76,419.48h1.25v1.25h-1.25zM134.22,423.84h1.25v1.25h-1.25zM125.45,425.88h1.25v1.25h-1.25zM131.25,423h1.25v1.25h-1.25zM135.52,422.3h1.25v1.25h-1.25zM143.6,420.84h1.25v1.25h-1.25zM123.17,426.65h1.25v1.25h-1.25zM138.38,421.59h1.25v1.25h-1.25zM138.27,423.12h1.25v1.25h-1.25zM138.03,418.37h1.25v1.25h-1.25zM135.61,423.86h1.25v1.25h-1.25zM139.54,421.95h1.25v1.25h-1.25zM137.26,417.82h1.25v1.25h-1.25zM131.85,419.3h1.25v1.25h-1.25zM148.48,417.19h1.25v1.25h-1.25zM124.88,425.83h1.25v1.25h-1.25zM139.33,419.46h1.25v1.25h-1.25zM135.02,416.74h1.25v1.25h-1.25zM138.22,418.51h1.25v1.25h-1.25zM133.12,421.17h1.25v1.25h-1.25zM140.73,417.76h1.25v1.25h-1.25zM141.44,417.88h1.25v1.25h-1.25zM136.15,424.48h1.25v1.25h-1.25zM134.01,422.56h1.25v1.25h-1.25zM130.48,420.74h1.25v1.25h-1.25zM126.94,422.42h1.25v1.25h-1.25zM136.07,425.31h1.25v1.25h-1.25zM132.99,423.5h1.25v1.25h-1.25zM129.46,423.5h1.25v1.25h-1.25zM137.85,421.8h1.25v1.25h-1.25zM144.4,424.73h1.25v1.25h-1.25zM137.62,420.8h1.25v1.25h-1.25zM136.75,420.18h1.25v1.25h-1.25zM141.94,417.14h1.25v1.25h-1.25zM140.98,418.24h1.25v1.25h-1.25zM135.97,423.97h1.25v1.25h-1.25zM137.98,421.78h1.25v1.25h-1.25zM141.2,421.63h1.25v1.25h-1.25zM138.38,418.44h1.25v1.25h-1.25zM138.54,417.05h1.25v1.25h-1.25zM137.05,424.02h1.25v1.25h-1.25zM144.2,416.26h1.25v1.25h-1.25zM134,422.94h1.25v1.25h-1.25zM130.06,420.37h1.25v1.25h-1.25zM138.92,418.59h1.25v1.25h-1.25zM143.04,418.78h1.25v1.25h-1.25zM135.43,423.38h1.25v1.25h-1.25zM129.92,422.6h1.25v1.25h-1.25zM133.25,422.81h1.25v1.25h-1.25zM137.53,415.28h1.25v1.25h-1.25zM142.01,422.23h1.25v1.25h-1.25zM135.77,421.2h1.25v1.25h-1.25zM134.79,422.26h1.25v1.25h-1.25zM129.3,422.71h1.25v1.25h-1.25zM143.61,426.42h1.25v1.25h-1.25zM133.86,417.84h1.25v1.25h-1.25zM137.7,421.22h1.25v1.25h-1.25zM136.46,416.35h1.25v1.25h-1.25zM126.38,422.44h1.25v1.25h-1.25zM148.33,417.94h1.25v1.25h-1.25zM135.7,424.86h1.25v1.25h-1.25zM130.72,422.42h1.25v1.25h-1.25zM135.73,416.23h1.25v1.25h-1.25zM134.01,425.21h1.25v1.25h-1.25zM123.17,422.19h1.25v1.25h-1.25zM135.88,413.97h1.25v1.25h-1.25zM144.68,417.77h1.25v1.25h-1.25zM138.84,421.7h1.25v1.25h-1.25zM132.77,419.9h1.25v1.25h-1.25zM142.89,419.34h1.25v1.25h-1.25zM143.33,416.15h1.25v1.25h-1.25zM143.26,420.08h1.25v1.25h-1.25zM135.35,423.35h1.25v1.25h-1.25zM144.33,416.59h1.25v1.25h-1.25zM130.02,424.52h1.25v1.25h-1.25zM139.29,418.53h1.25v1.25h-1.25zM134.01,422.09h1.25v1.25h-1.25zM132.12,421.27h1.25v1.25h-1.25zM138.27,421.27h1.25v1.25h-1.25zM137.51,422.74h1.25v1.25h-1.25zM142.93,419.34h1.25v1.25h-1.25zM140,420.25h1.25v1.25h-1.25zM134.54,418.96h1.25v1.25h-1.25zM130.69,426.72h1.25v1.25h-1.25zM142.35,413.14h1.25v1.25h-1.25zM124.43,427.52h1.25v1.25h-1.25zM129.83,422.02h1.25v1.25h-1.25zM132.65,423.52h1.25v1.25h-1.25zM130.22,423.37h1.25v1.25h-1.25zM135.6,419.15h1.25v1.25h-1.25zM143.38,415.85h1.25v1.25h-1.25zM139.52,418.38h1.25v1.25h-1.25zM144.99,423.9h1.25v1.25h-1.25zM135.78,420.2h1.25v1.25h-1.25zM135.53,421.16h1.25v1.25h-1.25zM129.29,422.18h1.25v1.25h-1.25zM139.16,419.06h1.25v1.25h-1.25zM141.75,426.58h1.25v1.25h-1.25zM134.03,423.29h1.25v1.25h-1.25zM137.64,420.2h1.25v1.25h-1.25zM138.25,414.89h1.25v1.25h-1.25zM138.39,420.06h1.25v1.25h-1.25zM140.64,416.81h1.25v1.25h-1.25zM136.99,417.9h1.25v1.25h-1.25zM140.99,422.27h1.25v1.25h-1.25zM135.15,421.87h1.25v1.25h-1.25zM137.41,423.64h1.25v1.25h-1.25zM128.41,422.86h1.25v1.25h-1.25zM135.37,418.19h1.25v1.25h-1.25zM142.12,419.29h1.25v1.25h-1.25zM135.74,422.8h1.25v1.25h-1.25zM130.96,424.05h1.25v1.25h-1.25zM129.14,423.1h1.25v1.25h-1.25zM128.1,423.58h1.25v1.25h-1.25zM139.05,418.87h1.25v1.25h-1.25zM133.01,419.5h1.25v1.25h-1.25zM144.08,418.91h1.25v1.25h-1.25zM133.03,427.29h1.25v1.25h-1.25zM128.12,427.78h1.25v1.25h-1.25zM142.51,422.46h1.25v1.25h-1.25zM141.66,415.9h1.25v1.25h-1.25zM133.25,419.48h1.25v1.25h-1.25zM144.68,422.17h1.25v1.25h-1.25zM138.68,417.1h1.25v1.25h-1.25zM138.75,417.71h1.25v1.25h-1.25zM133.57,423.81h1.25v1.25h-1.25zM143.72,424.64h1.25v1.25h-1.25zM139.22,421.62h1.25v1.25h-1.25zM135.48,422.51h1.25v1.25h-1.25zM134.55,417.45h1.25v1.25h-1.25zM139,420.39h1.25v1.25h-1.25zM147.52,414.77h1.25v1.25h-1.25zM139.38,424h1.25v1.25h-1.25zM136.44,420.19h1.25v1.25h-1.25zM139.04,419.41h1.25v1.25h-1.25zM143.71,421.1h1.25v1.25h-1.25zM139.11,420.46h1.25v1.25h-1.25zM138.89,424.96h1.25v1.25h-1.25zM147.22,414.9h1.25v1.25h-1.25zM128.32,423.28h1.25v1.25h-1.25zM135.77,419.37h1.25v1.25h-1.25zM135.57,422.55h1.25v1.25h-1.25zM141.52,418.86h1.25v1.25h-1.25zM137.06,424.75h1.25v1.25h-1.25zM136.82,420.1h1.25v1.25h-1.25zM136.14,421.31h1.25v1.25h-1.25zM139.95,421.4h1.25v1.25h-1.25zM130.06,427.31h1.25v1.25h-1.25zM128.29,423.52h1.25v1.25h-1.25zM142.21,418.7h1.25v1.25h-1.25zM133.94,419.4h1.25v1.25h-1.25zM133.38,417.85h1.25v1.25h-1.25zM127.54,421.98h1.25v1.25h-1.25zM128.57,423.44h1.25v1.25h-1.25zM134.18,420.52h1.25v1.25h-1.25zM131.03,424.7h1.25v1.25h-1.25zM141.04,417.53h1.25v1.25h-1.25zM141.76,421.86h1.25v1.25h-1.25zM129.18,424.65h1.25v1.25h-1.25zM142.62,419.33h1.25v1.25h-1.25zM137.13,419.69h1.25v1.25h-1.25zM135.32,424.92h1.25v1.25h-1.25zM128.28,422.74h1.25v1.25h-1.25zM138.09,421.05h1.25v1.25h-1.25zM142.99,418.85h1.25v1.25h-1.25zM140.78,418.56h1.25v1.25h-1.25zM137.64,421.33h1.25v1.25h-1.25zM137.03,421.96h1.25v1.25h-1.25zM140.39,420.71h1.25v1.25h-1.25zM138.4,418.97h1.25v1.25h-1.25zM133.4,427.46h1.25v1.25h-1.25zM141.15,420.42h1.25v1.25h-1.25zM146.59,413.49h1.25v1.25h-1.25zM139.38,418.71h1.25v1.25h-1.25zM132.59,425.26h1.25v1.25h-1.25zM140.89,418.13h1.25v1.25h-1.25zM137.85,420.53h1.25v1.25h-1.25zM141.72,418.04h1.25v1.25h-1.25zM136.76,422.04h1.25v1.25h-1.25zM128.18,417.71h1.25v1.25h-1.25zM140.96,430.84h1.25v1.25h-1.25zM135.06,430.84h1.25v1.25h-1.25zM138.12,430.84h1.25v1.25h-1.25zM139.64,430.84h1.25v1.25h-1.25zM137.13,430.84h1.25v1.25h-1.25zM140.28,430.84h1.25v1.25h-1.25zM132.24,430.84h1.25v1.25h-1.25zM137.85,430.84h1.25v1.25h-1.25zM147.45,430.84h1.25v1.25h-1.25zM122.42,422.35h1.25v1.25h-1.25zM122.42,421.34h1.25v1.25h-1.25zM122.42,419.01h1.25v1.25h-1.25zM122.42,418.45h1.25v1.25h-1.25zM122.04,430.84h1.25v1.25h-1.25z" fill="#111"/>
<circle cx="142.91" cy="418.83" r="0.8" fill="#27aee6"/>
<circle cx="142.59" cy="420.11" r="0.8" fill="#27aee6"/>
<circle cx="141.34" cy="421.42" r="0.8" fill="#27aee6"/>
<circle cx="146.77" cy="418.87" r="1.0" fill="#f02020"/>
<circle cx="148.33" cy="414.89" r="1.0" fill="#f02020"/>
<circle cx="145.09" cy="413.91" r="1.0" fill="#f02020"/>
<circle cx="145.78" cy="413.38" r="1.0" fill="#f02020"/>
<circle cx="154.18" cy="415.76" r="1.0" fill="#f02020"/>
<circle cx="153.12" cy="413.45" r="1.0" fill="#f02020"/>
<rect x="159.2" y="410.2" width="37.7" height="23.6" rx="1.3" fill="#fff" stroke="#8a8a8a" stroke-width="1.2"/>
<path d="M179.63,424.85h1.25v1.25h-1.25zM166.85,423.82h1.25v1.25h-1.25zM176.37,421.98h1.25v1.25h-1.25zM180.79,419.52h1.25v1.25h-1.25zM183.92,419.06h1.25v1.25h-1.25zM173.08,420.25h1.25v1.25h-1.25zM180.68,418.3h1.25v1.25h-1.25zM180.87,420.51h1.25v1.25h-1.25zM168.65,425.03h1.25v1.25h-1.25zM176.28,423.19h1.25v1.25h-1.25zM173.9,422.18h1.25v1.25h-1.25zM183.57,417.35h1.25v1.25h-1.25zM172.56,420.3h1.25v1.25h-1.25zM181.64,418.98h1.25v1.25h-1.25zM182.7,419.38h1.25v1.25h-1.25zM180,415.32h1.25v1.25h-1.25zM178.21,425.5h1.25v1.25h-1.25zM175.54,423.74h1.25v1.25h-1.25zM175.9,420.49h1.25v1.25h-1.25zM181.78,419.14h1.25v1.25h-1.25zM176.01,420.33h1.25v1.25h-1.25zM177.87,418.38h1.25v1.25h-1.25zM178.11,420.19h1.25v1.25h-1.25zM172.96,423.04h1.25v1.25h-1.25zM181.6,418.75h1.25v1.25h-1.25zM170.14,415.79h1.25v1.25h-1.25zM182.05,422.45h1.25v1.25h-1.25zM172.21,421.74h1.25v1.25h-1.25zM168.84,422.33h1.25v1.25h-1.25zM187.37,418.63h1.25v1.25h-1.25zM175.35,420.86h1.25v1.25h-1.25zM174.76,421.25h1.25v1.25h-1.25zM180.27,418.9h1.25v1.25h-1.25zM179.89,419.47h1.25v1.25h-1.25zM178.48,422.04h1.25v1.25h-1.25zM180.72,418.97h1.25v1.25h-1.25zM178.65,420.77h1.25v1.25h-1.25zM186.6,421.65h1.25v1.25h-1.25zM182.32,417.79h1.25v1.25h-1.25zM179.85,418.19h1.25v1.25h-1.25zM175.35,421.48h1.25v1.25h-1.25zM186.78,415.01h1.25v1.25h-1.25zM166.24,422.7h1.25v1.25h-1.25zM178.37,418.12h1.25v1.25h-1.25zM173.29,423.92h1.25v1.25h-1.25zM178.27,422.94h1.25v1.25h-1.25zM173.17,421.2h1.25v1.25h-1.25zM177.36,422.85h1.25v1.25h-1.25zM171.99,427.38h1.25v1.25h-1.25zM167.48,427.14h1.25v1.25h-1.25zM176.36,419.59h1.25v1.25h-1.25zM186.77,415.1h1.25v1.25h-1.25zM171.71,427.12h1.25v1.25h-1.25zM177.29,423.57h1.25v1.25h-1.25zM183.92,416.24h1.25v1.25h-1.25zM181.5,416.72h1.25v1.25h-1.25zM176.74,415.45h1.25v1.25h-1.25zM177.36,424.77h1.25v1.25h-1.25zM172.92,420.87h1.25v1.25h-1.25zM179.11,424.71h1.25v1.25h-1.25zM172.08,427.52h1.25v1.25h-1.25zM170.47,415.44h1.25v1.25h-1.25zM174.19,417.51h1.25v1.25h-1.25zM183.71,414.06h1.25v1.25h-1.25zM176.79,418.07h1.25v1.25h-1.25zM168.96,426.81h1.25v1.25h-1.25zM175.94,423.02h1.25v1.25h-1.25zM168.46,424.16h1.25v1.25h-1.25zM193.66,413.14h1.25v1.25h-1.25zM178.72,420.43h1.25v1.25h-1.25zM171.91,422.14h1.25v1.25h-1.25zM170.75,426.87h1.25v1.25h-1.25zM179.36,420.23h1.25v1.25h-1.25zM173.19,416.57h1.25v1.25h-1.25zM184.77,418.76h1.25v1.25h-1.25zM167.6,424.05h1.25v1.25h-1.25zM176.63,422.68h1.25v1.25h-1.25zM177.07,422.74h1.25v1.25h-1.25zM180.97,420.45h1.25v1.25h-1.25zM168.97,422.44h1.25v1.25h-1.25zM176.45,418.15h1.25v1.25h-1.25zM184.44,413.14h1.25v1.25h-1.25zM169.77,419.15h1.25v1.25h-1.25zM187.98,413.19h1.25v1.25h-1.25zM176.41,420.4h1.25v1.25h-1.25zM174.08,418.26h1.25v1.25h-1.25zM173.92,421.16h1.25v1.25h-1.25zM175.41,423.61h1.25v1.25h-1.25zM176.11,421.36h1.25v1.25h-1.25zM169.96,422.18h1.25v1.25h-1.25zM172.27,418.03h1.25v1.25h-1.25zM177.17,420.52h1.25v1.25h-1.25zM172.81,420.79h1.25v1.25h-1.25zM175.21,419.66h1.25v1.25h-1.25zM176.41,421.14h1.25v1.25h-1.25zM180.76,420h1.25v1.25h-1.25zM173.65,422.54h1.25v1.25h-1.25zM179.78,419.62h1.25v1.25h-1.25zM179.76,417.15h1.25v1.25h-1.25zM181.22,418.9h1.25v1.25h-1.25zM176.57,419.28h1.25v1.25h-1.25zM172.74,418.72h1.25v1.25h-1.25zM182.07,419.12h1.25v1.25h-1.25zM181.58,416.42h1.25v1.25h-1.25zM179.29,420.53h1.25v1.25h-1.25zM183.08,420.63h1.25v1.25h-1.25zM176.29,427.06h1.25v1.25h-1.25zM177.3,420.1h1.25v1.25h-1.25zM183.66,418.28h1.25v1.25h-1.25zM173.57,417.51h1.25v1.25h-1.25zM175.36,419.58h1.25v1.25h-1.25zM173.12,420.43h1.25v1.25h-1.25zM175.45,427.74h1.25v1.25h-1.25zM180.22,421.3h1.25v1.25h-1.25zM181.27,425.18h1.25v1.25h-1.25zM175.1,425.38h1.25v1.25h-1.25zM182.71,419.42h1.25v1.25h-1.25zM182.91,418.36h1.25v1.25h-1.25zM191.54,415.73h1.25v1.25h-1.25zM178.17,420.17h1.25v1.25h-1.25zM178.85,423.36h1.25v1.25h-1.25zM175.5,420.76h1.25v1.25h-1.25zM177.81,422.9h1.25v1.25h-1.25zM179.18,422.37h1.25v1.25h-1.25zM170.2,422.13h1.25v1.25h-1.25zM173.53,417.81h1.25v1.25h-1.25zM175.44,422.97h1.25v1.25h-1.25zM184.65,419.5h1.25v1.25h-1.25zM174.62,419.01h1.25v1.25h-1.25zM182.93,417.83h1.25v1.25h-1.25zM186.1,415.45h1.25v1.25h-1.25zM184.6,418.01h1.25v1.25h-1.25zM187.27,423.52h1.25v1.25h-1.25zM176.89,422.09h1.25v1.25h-1.25zM173.22,421.77h1.25v1.25h-1.25zM165.36,422.24h1.25v1.25h-1.25zM187.1,417.95h1.25v1.25h-1.25zM178.03,422.42h1.25v1.25h-1.25zM170.69,423.92h1.25v1.25h-1.25zM175.57,422.93h1.25v1.25h-1.25zM171.05,422.11h1.25v1.25h-1.25zM177.37,420.01h1.25v1.25h-1.25zM171.09,422.79h1.25v1.25h-1.25zM180.85,420.68h1.25v1.25h-1.25zM171.9,419.47h1.25v1.25h-1.25zM174.42,419.24h1.25v1.25h-1.25zM174.93,418.9h1.25v1.25h-1.25zM189.93,413.51h1.25v1.25h-1.25zM171.49,423.39h1.25v1.25h-1.25zM178.28,424.93h1.25v1.25h-1.25zM174.31,421.21h1.25v1.25h-1.25zM181.28,421.82h1.25v1.25h-1.25zM171.05,418.19h1.25v1.25h-1.25zM179.68,416.7h1.25v1.25h-1.25zM176.87,416.39h1.25v1.25h-1.25zM177.09,424.41h1.25v1.25h-1.25zM185.87,416.62h1.25v1.25h-1.25zM171.5,423.91h1.25v1.25h-1.25zM177.94,420.24h1.25v1.25h-1.25zM174.05,422.97h1.25v1.25h-1.25zM171.68,424.44h1.25v1.25h-1.25zM169.93,424.67h1.25v1.25h-1.25zM179.6,421.29h1.25v1.25h-1.25zM179.51,419.3h1.25v1.25h-1.25zM167.04,424.57h1.25v1.25h-1.25zM176.4,418.25h1.25v1.25h-1.25zM173.42,418.6h1.25v1.25h-1.25zM183.11,417.55h1.25v1.25h-1.25zM178.38,419.35h1.25v1.25h-1.25zM186.78,415.02h1.25v1.25h-1.25zM183.67,416.74h1.25v1.25h-1.25zM184.48,421.73h1.25v1.25h-1.25zM173.61,423.91h1.25v1.25h-1.25zM174.54,423.53h1.25v1.25h-1.25zM179.41,421.37h1.25v1.25h-1.25zM172.5,427.5h1.25v1.25h-1.25zM173.32,420.52h1.25v1.25h-1.25zM172.63,418.32h1.25v1.25h-1.25zM173.84,421.08h1.25v1.25h-1.25zM177.77,421.32h1.25v1.25h-1.25zM179.91,416.17h1.25v1.25h-1.25zM178.03,418.29h1.25v1.25h-1.25zM172.99,417.07h1.25v1.25h-1.25zM178.6,422.23h1.25v1.25h-1.25zM178.95,417.15h1.25v1.25h-1.25zM181.2,417.7h1.25v1.25h-1.25zM179.58,421.26h1.25v1.25h-1.25zM183.92,416.96h1.25v1.25h-1.25zM179.69,423.23h1.25v1.25h-1.25zM177.18,418.45h1.25v1.25h-1.25zM187.44,415.29h1.25v1.25h-1.25zM164.73,425.79h1.25v1.25h-1.25zM178.96,418.99h1.25v1.25h-1.25zM169.69,421.87h1.25v1.25h-1.25zM186.46,417.92h1.25v1.25h-1.25zM171.67,422.8h1.25v1.25h-1.25zM180.34,422.79h1.25v1.25h-1.25zM177.35,417.34h1.25v1.25h-1.25zM176.75,420.66h1.25v1.25h-1.25zM174.96,420.55h1.25v1.25h-1.25zM170.58,423.8h1.25v1.25h-1.25zM175.11,418.95h1.25v1.25h-1.25zM180.63,417.64h1.25v1.25h-1.25zM172.69,422.41h1.25v1.25h-1.25zM182.91,418.26h1.25v1.25h-1.25zM178.73,419.36h1.25v1.25h-1.25zM175.26,420.05h1.25v1.25h-1.25zM181.21,415.61h1.25v1.25h-1.25zM176.68,419.62h1.25v1.25h-1.25zM183.04,416.66h1.25v1.25h-1.25zM168.1,422.63h1.25v1.25h-1.25zM175.66,426.04h1.25v1.25h-1.25zM180.24,421.47h1.25v1.25h-1.25zM179.99,421.37h1.25v1.25h-1.25zM180.41,418.96h1.25v1.25h-1.25zM180.92,420.03h1.25v1.25h-1.25zM184.2,418.68h1.25v1.25h-1.25zM180.81,417.72h1.25v1.25h-1.25zM181.87,419.63h1.25v1.25h-1.25zM177.27,419.52h1.25v1.25h-1.25zM184.45,416.03h1.25v1.25h-1.25zM175.66,416.24h1.25v1.25h-1.25zM183.12,418.74h1.25v1.25h-1.25zM181.38,419.98h1.25v1.25h-1.25zM172.41,427.35h1.25v1.25h-1.25zM173.88,421.67h1.25v1.25h-1.25zM180.12,421.45h1.25v1.25h-1.25zM176.98,422.95h1.25v1.25h-1.25zM171.99,420.46h1.25v1.25h-1.25zM171.34,426.7h1.25v1.25h-1.25zM172.61,425.29h1.25v1.25h-1.25zM171.61,425.3h1.25v1.25h-1.25zM182.95,414.14h1.25v1.25h-1.25zM173.83,415.95h1.25v1.25h-1.25zM172.19,421.63h1.25v1.25h-1.25zM174.32,416.33h1.25v1.25h-1.25zM167.66,425.82h1.25v1.25h-1.25zM179.54,414.41h1.25v1.25h-1.25zM182.21,416.35h1.25v1.25h-1.25zM171.14,419.26h1.25v1.25h-1.25zM177.38,422.91h1.25v1.25h-1.25zM187.59,417.51h1.25v1.25h-1.25zM185.97,414.29h1.25v1.25h-1.25zM179.92,415.56h1.25v1.25h-1.25zM182.4,414.03h1.25v1.25h-1.25zM170.46,428.24h1.25v1.25h-1.25zM169.24,422.06h1.25v1.25h-1.25zM176.83,421.38h1.25v1.25h-1.25zM176.23,422.85h1.25v1.25h-1.25zM175.08,420.6h1.25v1.25h-1.25zM183.29,416.06h1.25v1.25h-1.25zM179.4,420.06h1.25v1.25h-1.25zM175.61,422.09h1.25v1.25h-1.25zM171.57,423.12h1.25v1.25h-1.25zM169.05,422.21h1.25v1.25h-1.25zM177.61,417.96h1.25v1.25h-1.25zM182.26,417.78h1.25v1.25h-1.25zM182.17,422.33h1.25v1.25h-1.25zM190.3,413.36h1.25v1.25h-1.25zM177.63,421.78h1.25v1.25h-1.25zM171.21,430.84h1.25v1.25h-1.25zM175.3,430.84h1.25v1.25h-1.25zM178.75,430.84h1.25v1.25h-1.25zM182.68,430.84h1.25v1.25h-1.25zM178.49,430.84h1.25v1.25h-1.25zM184.29,430.84h1.25v1.25h-1.25zM186.85,430.84h1.25v1.25h-1.25zM179.54,430.84h1.25v1.25h-1.25zM170.65,430.84h1.25v1.25h-1.25zM161.62,424.85h1.25v1.25h-1.25zM161.62,419.77h1.25v1.25h-1.25zM161.62,424.89h1.25v1.25h-1.25zM161.62,417.63h1.25v1.25h-1.25zM161.24,430.84h1.25v1.25h-1.25z" fill="#111"/>
<circle cx="175" cy="420.43" r="0.8" fill="#27aee6"/>
<circle cx="187.42" cy="417.94" r="0.8" fill="#27aee6"/>
<circle cx="181.6" cy="416.6" r="0.8" fill="#27aee6"/>
<circle cx="185.24" cy="417.74" r="1.0" fill="#f02020"/>
<circle cx="187.7" cy="414.89" r="1.0" fill="#f02020"/>
<circle cx="191.75" cy="415.19" r="1.0" fill="#f02020"/>
<circle cx="185.85" cy="416.84" r="1.0" fill="#f02020"/>
<circle cx="193.06" cy="418.88" r="1.0" fill="#f02020"/>
<circle cx="187.5" cy="415.75" r="1.0" fill="#f02020"/>
<rect x="120" y="436" width="37.7" height="23.6" rx="1.3" fill="#fff" stroke="#8a8a8a" stroke-width="1.2"/>
<path d="M137.44,446.41h1.25v1.25h-1.25zM130.72,447.9h1.25v1.25h-1.25zM141.64,443.59h1.25v1.25h-1.25zM136.62,449.76h1.25v1.25h-1.25zM141.02,442.55h1.25v1.25h-1.25zM129.13,450.24h1.25v1.25h-1.25zM136.62,443.65h1.25v1.25h-1.25zM135.34,442.82h1.25v1.25h-1.25zM142.39,445.56h1.25v1.25h-1.25zM142.55,447.08h1.25v1.25h-1.25zM130.27,447.94h1.25v1.25h-1.25zM127.58,447.35h1.25v1.25h-1.25zM133.73,447.69h1.25v1.25h-1.25zM135.99,446.25h1.25v1.25h-1.25zM132.9,449.16h1.25v1.25h-1.25zM135.54,446.41h1.25v1.25h-1.25zM141.32,441.96h1.25v1.25h-1.25zM132.56,448.99h1.25v1.25h-1.25zM142.53,447.48h1.25v1.25h-1.25zM141.04,445.7h1.25v1.25h-1.25zM136.67,448.21h1.25v1.25h-1.25zM145.99,446.95h1.25v1.25h-1.25zM132.32,449.09h1.25v1.25h-1.25zM130.12,446.93h1.25v1.25h-1.25zM154.46,440.68h1.25v1.25h-1.25zM139.4,442.41h1.25v1.25h-1.25zM136.48,446.39h1.25v1.25h-1.25zM132.37,441.88h1.25v1.25h-1.25zM136.37,448.24h1.25v1.25h-1.25zM129.92,447.19h1.25v1.25h-1.25zM132.92,445.96h1.25v1.25h-1.25zM129.26,447.53h1.25v1.25h-1.25zM140.49,444.82h1.25v1.25h-1.25zM136.9,444.63h1.25v1.25h-1.25zM134.38,446.41h1.25v1.25h-1.25zM126.5,450.57h1.25v1.25h-1.25zM130.76,446.99h1.25v1.25h-1.25zM135.66,446.32h1.25v1.25h-1.25zM140.99,447.13h1.25v1.25h-1.25zM133.14,446.62h1.25v1.25h-1.25zM126.82,451.49h1.25v1.25h-1.25zM132.35,445.47h1.25v1.25h-1.25zM131.61,450.01h1.25v1.25h-1.25zM134.98,448.71h1.25v1.25h-1.25zM135.45,443.88h1.25v1.25h-1.25zM138.68,448.23h1.25v1.25h-1.25zM135.27,449.3h1.25v1.25h-1.25zM139.7,445.42h1.25v1.25h-1.25zM126.88,448.66h1.25v1.25h-1.25zM128.01,446.82h1.25v1.25h-1.25zM145.42,442.6h1.25v1.25h-1.25zM133.06,448.51h1.25v1.25h-1.25zM132.54,447.57h1.25v1.25h-1.25zM140.26,445.93h1.25v1.25h-1.25zM137.01,444.95h1.25v1.25h-1.25zM125.95,451.34h1.25v1.25h-1.25zM136.15,444.96h1.25v1.25h-1.25zM142.6,447.01h1.25v1.25h-1.25zM140.42,444.69h1.25v1.25h-1.25zM132.04,447.29h1.25v1.25h-1.25zM143,443.95h1.25v1.25h-1.25zM140.11,444.24h1.25v1.25h-1.25zM135.91,444.46h1.25v1.25h-1.25zM131.9,448.75h1.25v1.25h-1.25zM142.85,446.09h1.25v1.25h-1.25zM133.67,445.67h1.25v1.25h-1.25zM139.41,447.18h1.25v1.25h-1.25zM138.99,443.71h1.25v1.25h-1.25zM140.25,446.49h1.25v1.25h-1.25zM132.41,448.69h1.25v1.25h-1.25zM142.98,445.94h1.25v1.25h-1.25zM130.35,449.7h1.25v1.25h-1.25zM139.7,448.14h1.25v1.25h-1.25zM133.69,444.42h1.25v1.25h-1.25zM130.07,443.18h1.25v1.25h-1.25zM132.44,451.34h1.25v1.25h-1.25zM127.51,446.23h1.25v1.25h-1.25zM133.96,449.32h1.25v1.25h-1.25zM145.9,442.6h1.25v1.25h-1.25zM131.96,449.33h1.25v1.25h-1.25zM141.12,444.99h1.25v1.25h-1.25zM132.91,448.95h1.25v1.25h-1.25zM152.14,442.09h1.25v1.25h-1.25zM136.6,446.6h1.25v1.25h-1.25zM137.54,446.74h1.25v1.25h-1.25zM130.26,448.19h1.25v1.25h-1.25zM132.24,450.23h1.25v1.25h-1.25zM134.94,445.13h1.25v1.25h-1.25zM144.81,443.43h1.25v1.25h-1.25zM136.08,450.41h1.25v1.25h-1.25zM142.59,444.39h1.25v1.25h-1.25zM132.01,450.05h1.25v1.25h-1.25zM138.95,448.1h1.25v1.25h-1.25zM131.01,448.33h1.25v1.25h-1.25zM132.17,451.32h1.25v1.25h-1.25zM141.19,445.1h1.25v1.25h-1.25zM140.19,443.83h1.25v1.25h-1.25zM134.93,448.81h1.25v1.25h-1.25zM131.72,449.59h1.25v1.25h-1.25zM146.13,440.27h1.25v1.25h-1.25zM138.48,446.97h1.25v1.25h-1.25zM131.05,446.27h1.25v1.25h-1.25zM126.69,447.15h1.25v1.25h-1.25zM129.01,448.37h1.25v1.25h-1.25zM139.75,446.75h1.25v1.25h-1.25zM137.86,445.47h1.25v1.25h-1.25zM136.66,444.52h1.25v1.25h-1.25zM135.12,450.28h1.25v1.25h-1.25zM137.35,445.97h1.25v1.25h-1.25zM142.93,443.16h1.25v1.25h-1.25zM144.34,445.75h1.25v1.25h-1.25zM139,447.98h1.25v1.25h-1.25zM143.22,443.45h1.25v1.25h-1.25zM132.54,449.65h1.25v1.25h-1.25zM140.39,446.41h1.25v1.25h-1.25zM144.02,445.35h1.25v1.25h-1.25zM141.42,445.35h1.25v1.25h-1.25zM130.87,448.33h1.25v1.25h-1.25zM137.18,447.93h1.25v1.25h-1.25zM137.28,444.89h1.25v1.25h-1.25zM137.13,443.35h1.25v1.25h-1.25zM131.87,446.93h1.25v1.25h-1.25zM141.37,449.36h1.25v1.25h-1.25zM136.95,446.17h1.25v1.25h-1.25zM136,449.31h1.25v1.25h-1.25zM143.53,444.74h1.25v1.25h-1.25zM134.95,446.75h1.25v1.25h-1.25zM136.4,448.43h1.25v1.25h-1.25zM126.57,450.78h1.25v1.25h-1.25zM140.25,444.19h1.25v1.25h-1.25zM138.24,448.04h1.25v1.25h-1.25zM139.23,446.99h1.25v1.25h-1.25zM140.39,445.68h1.25v1.25h-1.25zM133.81,448.94h1.25v1.25h-1.25zM128.49,447.42h1.25v1.25h-1.25zM135.46,449.54h1.25v1.25h-1.25zM134.3,446.66h1.25v1.25h-1.25zM136,446.55h1.25v1.25h-1.25zM131.01,448.74h1.25v1.25h-1.25zM138.61,445.62h1.25v1.25h-1.25zM145.62,442.85h1.25v1.25h-1.25zM145.55,444.68h1.25v1.25h-1.25zM133.56,445.86h1.25v1.25h-1.25zM129.01,448.27h1.25v1.25h-1.25zM136.32,449.1h1.25v1.25h-1.25zM130.12,448.57h1.25v1.25h-1.25zM149.23,445.02h1.25v1.25h-1.25zM134.3,447.7h1.25v1.25h-1.25zM139.56,446.37h1.25v1.25h-1.25zM136.15,443.69h1.25v1.25h-1.25zM141.81,448.31h1.25v1.25h-1.25zM136.51,445h1.25v1.25h-1.25zM137.75,442.21h1.25v1.25h-1.25zM129.77,446.87h1.25v1.25h-1.25zM132.1,446.12h1.25v1.25h-1.25zM131.07,450.17h1.25v1.25h-1.25zM135.07,448.06h1.25v1.25h-1.25zM126.13,451.22h1.25v1.25h-1.25zM138.06,443.09h1.25v1.25h-1.25zM131.1,446.28h1.25v1.25h-1.25zM134.94,448.41h1.25v1.25h-1.25zM140.63,446.53h1.25v1.25h-1.25zM140.72,445.45h1.25v1.25h-1.25zM136.57,444.39h1.25v1.25h-1.25zM129.86,450.4h1.25v1.25h-1.25zM135.45,448.48h1.25v1.25h-1.25zM136.56,446.33h1.25v1.25h-1.25zM133.71,446.33h1.25v1.25h-1.25zM132.31,446.2h1.25v1.25h-1.25zM128.14,447.17h1.25v1.25h-1.25zM140.73,449.34h1.25v1.25h-1.25zM138.73,445.66h1.25v1.25h-1.25zM132,448.62h1.25v1.25h-1.25zM137.58,443.71h1.25v1.25h-1.25zM141.61,442.49h1.25v1.25h-1.25zM138.86,449.11h1.25v1.25h-1.25zM133.29,447.3h1.25v1.25h-1.25zM134.85,448.98h1.25v1.25h-1.25zM133.84,446.37h1.25v1.25h-1.25zM136.76,448.69h1.25v1.25h-1.25zM138.28,446.94h1.25v1.25h-1.25zM139.71,443.59h1.25v1.25h-1.25zM146.95,442.58h1.25v1.25h-1.25zM138.79,447.77h1.25v1.25h-1.25zM139.44,444.92h1.25v1.25h-1.25zM134.14,443.3h1.25v1.25h-1.25zM138.66,446.53h1.25v1.25h-1.25zM138.42,447.56h1.25v1.25h-1.25zM142.17,444.61h1.25v1.25h-1.25zM137.24,444.98h1.25v1.25h-1.25zM140.25,442.47h1.25v1.25h-1.25zM134.17,446.91h1.25v1.25h-1.25zM135.74,446.04h1.25v1.25h-1.25zM132.85,448.39h1.25v1.25h-1.25zM134.64,451.58h1.25v1.25h-1.25zM133.49,448.33h1.25v1.25h-1.25zM132.82,448.64h1.25v1.25h-1.25zM132.32,446.95h1.25v1.25h-1.25zM130.27,449.38h1.25v1.25h-1.25zM141.24,446.99h1.25v1.25h-1.25zM143.57,441.84h1.25v1.25h-1.25zM128.9,451.05h1.25v1.25h-1.25zM133.79,447.06h1.25v1.25h-1.25zM134.44,450.73h1.25v1.25h-1.25zM125.02,450.79h1.25v1.25h-1.25zM141.33,444.94h1.25v1.25h-1.25zM135.44,448.86h1.25v1.25h-1.25zM140.02,447.63h1.25v1.25h-1.25zM128.28,449.68h1.25v1.25h-1.25zM137.92,446.43h1.25v1.25h-1.25zM130.46,450.21h1.25v1.25h-1.25zM128.82,449.36h1.25v1.25h-1.25zM132.58,446.71h1.25v1.25h-1.25zM134.76,444.28h1.25v1.25h-1.25zM134.14,443.19h1.25v1.25h-1.25zM135.4,445.81h1.25v1.25h-1.25zM130.13,449.89h1.25v1.25h-1.25zM151.14,441.27h1.25v1.25h-1.25zM137.73,446.92h1.25v1.25h-1.25zM128.34,447.56h1.25v1.25h-1.25zM138.36,446.34h1.25v1.25h-1.25zM142.39,443.92h1.25v1.25h-1.25zM134.51,451.58h1.25v1.25h-1.25zM146.22,444.85h1.25v1.25h-1.25zM137.8,450.63h1.25v1.25h-1.25zM130.05,446.57h1.25v1.25h-1.25zM140.76,446.4h1.25v1.25h-1.25zM138.25,444.78h1.25v1.25h-1.25zM135.65,442.78h1.25v1.25h-1.25zM147.9,439.94h1.25v1.25h-1.25zM148.11,444.38h1.25v1.25h-1.25zM141.08,446.08h1.25v1.25h-1.25zM143.74,446.41h1.25v1.25h-1.25zM135.86,445.97h1.25v1.25h-1.25zM136.11,445.53h1.25v1.25h-1.25zM135.06,445.88h1.25v1.25h-1.25zM134.43,447.47h1.25v1.25h-1.25zM135.35,447.2h1.25v1.25h-1.25zM132.03,449.74h1.25v1.25h-1.25zM143.08,449.11h1.25v1.25h-1.25zM147.88,445.32h1.25v1.25h-1.25zM131.65,448.74h1.25v1.25h-1.25zM138.04,444.98h1.25v1.25h-1.25zM123.17,452.72h1.25v1.25h-1.25zM141.06,445.22h1.25v1.25h-1.25zM141.09,443.92h1.25v1.25h-1.25zM138.61,447.51h1.25v1.25h-1.25zM148.51,444.5h1.25v1.25h-1.25zM132.74,445.44h1.25v1.25h-1.25zM133.35,450.33h1.25v1.25h-1.25zM135.43,448.8h1.25v1.25h-1.25zM141.24,443.75h1.25v1.25h-1.25zM135.57,445.36h1.25v1.25h-1.25zM125.23,447.52h1.25v1.25h-1.25zM131.79,448.75h1.25v1.25h-1.25zM138.63,448.22h1.25v1.25h-1.25zM134.56,446.28h1.25v1.25h-1.25zM126.99,447.27h1.25v1.25h-1.25zM142.35,442.69h1.25v1.25h-1.25zM132.78,449.3h1.25v1.25h-1.25zM142.24,456.64h1.25v1.25h-1.25zM132.76,456.64h1.25v1.25h-1.25zM140.02,456.64h1.25v1.25h-1.25zM135.2,456.64h1.25v1.25h-1.25zM143.38,456.64h1.25v1.25h-1.25zM137,456.64h1.25v1.25h-1.25zM134.51,456.64h1.25v1.25h-1.25zM131.28,456.64h1.25v1.25h-1.25zM147.44,456.64h1.25v1.25h-1.25zM122.04,456.64h1.25v1.25h-1.25z" fill="#111"/>
<circle cx="134.77" cy="445.55" r="0.8" fill="#27aee6"/>
<circle cx="145.48" cy="446.97" r="0.8" fill="#27aee6"/>
<circle cx="138.61" cy="444.26" r="0.8" fill="#27aee6"/>
<circle cx="151.55" cy="440.37" r="1.0" fill="#f02020"/>
<circle cx="154.43" cy="443.66" r="1.0" fill="#f02020"/>
<circle cx="145.71" cy="444.39" r="1.0" fill="#f02020"/>
<circle cx="144.93" cy="444.01" r="1.0" fill="#f02020"/>
<circle cx="150.96" cy="439.58" r="1.0" fill="#f02020"/>
<circle cx="145.86" cy="444.01" r="1.0" fill="#f02020"/>
<rect x="159.2" y="436" width="37.7" height="23.6" rx="1.3" fill="#fff" stroke="#8a8a8a" stroke-width="1.2"/>
<path d="M179.84,447.4h1.25v1.25h-1.25zM176.85,446.34h1.25v1.25h-1.25zM174.49,448.16h1.25v1.25h-1.25zM175.68,447.29h1.25v1.25h-1.25zM170.65,447.59h1.25v1.25h-1.25zM173.63,450.16h1.25v1.25h-1.25zM172.31,450.31h1.25v1.25h-1.25zM170.1,449.97h1.25v1.25h-1.25zM170.72,448.87h1.25v1.25h-1.25zM163.31,456.17h1.25v1.25h-1.25zM164.23,451.59h1.25v1.25h-1.25zM172.2,449.21h1.25v1.25h-1.25zM171.75,447.54h1.25v1.25h-1.25zM175.38,444.68h1.25v1.25h-1.25zM180.48,443.22h1.25v1.25h-1.25zM164.72,450.06h1.25v1.25h-1.25zM170.82,447.54h1.25v1.25h-1.25zM176.9,446.45h1.25v1.25h-1.25zM181.39,446.45h1.25v1.25h-1.25zM175.43,446.05h1.25v1.25h-1.25zM173.61,442.63h1.25v1.25h-1.25zM176.12,449.25h1.25v1.25h-1.25zM174.86,447.17h1.25v1.25h-1.25zM173.9,444.46h1.25v1.25h-1.25zM174.62,447.52h1.25v1.25h-1.25zM162.37,455.96h1.25v1.25h-1.25zM173.95,452.25h1.25v1.25h-1.25zM174.84,448.17h1.25v1.25h-1.25zM171.79,449.89h1.25v1.25h-1.25zM183.2,442.23h1.25v1.25h-1.25zM174.14,445.34h1.25v1.25h-1.25zM179.2,443.21h1.25v1.25h-1.25zM181.77,446.97h1.25v1.25h-1.25zM171.87,446.89h1.25v1.25h-1.25zM169.41,445.19h1.25v1.25h-1.25zM184.71,443.67h1.25v1.25h-1.25zM170.69,453.37h1.25v1.25h-1.25zM182.09,446.53h1.25v1.25h-1.25zM171.49,446.17h1.25v1.25h-1.25zM193.66,446.2h1.25v1.25h-1.25zM177.69,448.76h1.25v1.25h-1.25zM173.82,450.16h1.25v1.25h-1.25zM177.73,445.11h1.25v1.25h-1.25zM171.74,446.15h1.25v1.25h-1.25zM176.22,442.33h1.25v1.25h-1.25zM182.19,446.14h1.25v1.25h-1.25zM167.66,450.08h1.25v1.25h-1.25zM176.22,444.36h1.25v1.25h-1.25zM178.68,445.82h1.25v1.25h-1.25zM173.29,450.26h1.25v1.25h-1.25zM174.93,453.26h1.25v1.25h-1.25zM168.99,448.33h1.25v1.25h-1.25zM172.84,452.15h1.25v1.25h-1.25zM185.24,441.93h1.25v1.25h-1.25zM172.85,448.9h1.25v1.25h-1.25zM175.13,449.42h1.25v1.25h-1.25zM174.47,443.56h1.25v1.25h-1.25zM173.5,444.49h1.25v1.25h-1.25zM177.39,449.38h1.25v1.25h-1.25zM166.49,455.28h1.25v1.25h-1.25zM170.12,448.73h1.25v1.25h-1.25zM174.78,445.63h1.25v1.25h-1.25zM180.06,450.72h1.25v1.25h-1.25zM171.37,448.97h1.25v1.25h-1.25zM169.63,453.98h1.25v1.25h-1.25zM177.04,450.22h1.25v1.25h-1.25zM174.48,447.18h1.25v1.25h-1.25zM178.27,447.19h1.25v1.25h-1.25zM175.91,450.38h1.25v1.25h-1.25zM175.59,443.8h1.25v1.25h-1.25zM180.49,445.76h1.25v1.25h-1.25zM180.43,446.99h1.25v1.25h-1.25zM174.15,448.83h1.25v1.25h-1.25zM179.05,447.47h1.25v1.25h-1.25zM176.6,444.29h1.25v1.25h-1.25zM177.38,449.35h1.25v1.25h-1.25zM173.41,447.04h1.25v1.25h-1.25zM169.48,446.86h1.25v1.25h-1.25zM179.68,445.7h1.25v1.25h-1.25zM182.15,445.16h1.25v1.25h-1.25zM173.17,447.21h1.25v1.25h-1.25zM171.08,448.45h1.25v1.25h-1.25zM172.48,449.7h1.25v1.25h-1.25zM176.44,449.1h1.25v1.25h-1.25zM178.11,445.43h1.25v1.25h-1.25zM176.36,448.03h1.25v1.25h-1.25zM178.99,446.92h1.25v1.25h-1.25zM173.82,449.7h1.25v1.25h-1.25zM174.71,450.11h1.25v1.25h-1.25zM173.64,448.41h1.25v1.25h-1.25zM174.87,446.17h1.25v1.25h-1.25zM174.06,450.46h1.25v1.25h-1.25zM173.45,450.13h1.25v1.25h-1.25zM175.69,446.87h1.25v1.25h-1.25zM174.18,449.86h1.25v1.25h-1.25zM173.84,446.49h1.25v1.25h-1.25zM177.78,447.69h1.25v1.25h-1.25zM173.41,447.77h1.25v1.25h-1.25zM163.03,453.67h1.25v1.25h-1.25zM176.86,448.26h1.25v1.25h-1.25zM174.57,448.91h1.25v1.25h-1.25zM177.26,446.19h1.25v1.25h-1.25zM171.01,449.29h1.25v1.25h-1.25zM176.2,448.52h1.25v1.25h-1.25zM172.05,446.96h1.25v1.25h-1.25zM176.08,445.09h1.25v1.25h-1.25zM178.75,441.63h1.25v1.25h-1.25zM168.47,451.62h1.25v1.25h-1.25zM181.3,440.21h1.25v1.25h-1.25zM177.56,448.11h1.25v1.25h-1.25zM174.9,447.91h1.25v1.25h-1.25zM173.88,450.57h1.25v1.25h-1.25zM177.58,450.55h1.25v1.25h-1.25zM176.51,448.26h1.25v1.25h-1.25zM167.1,454.66h1.25v1.25h-1.25zM176.08,445.31h1.25v1.25h-1.25zM174.77,447.6h1.25v1.25h-1.25zM178.72,446.55h1.25v1.25h-1.25zM167.25,449.15h1.25v1.25h-1.25zM182.07,443.64h1.25v1.25h-1.25zM178.42,447.95h1.25v1.25h-1.25zM173.4,443.59h1.25v1.25h-1.25zM173.66,449.52h1.25v1.25h-1.25zM175.45,447.29h1.25v1.25h-1.25zM178.1,446.89h1.25v1.25h-1.25zM177.27,444.23h1.25v1.25h-1.25zM170.96,452.12h1.25v1.25h-1.25zM180.12,445.76h1.25v1.25h-1.25zM173.51,446.53h1.25v1.25h-1.25zM176.96,446.76h1.25v1.25h-1.25zM173.07,445.47h1.25v1.25h-1.25zM174.61,450.19h1.25v1.25h-1.25zM178.12,447.09h1.25v1.25h-1.25zM180.11,446.6h1.25v1.25h-1.25zM179.9,446.01h1.25v1.25h-1.25zM174.13,448.38h1.25v1.25h-1.25zM175.54,451.21h1.25v1.25h-1.25zM174.64,448.65h1.25v1.25h-1.25zM174.36,447.73h1.25v1.25h-1.25zM179.89,443.7h1.25v1.25h-1.25zM180.94,440.24h1.25v1.25h-1.25zM174.94,450.53h1.25v1.25h-1.25zM176.62,447.36h1.25v1.25h-1.25zM176.66,443.76h1.25v1.25h-1.25zM178.24,446.9h1.25v1.25h-1.25zM181.37,446.64h1.25v1.25h-1.25zM170.8,446.5h1.25v1.25h-1.25zM175.04,449.01h1.25v1.25h-1.25zM183.86,441.58h1.25v1.25h-1.25zM178.01,446h1.25v1.25h-1.25zM177.03,448.31h1.25v1.25h-1.25zM172.8,449.14h1.25v1.25h-1.25zM173.57,447.37h1.25v1.25h-1.25zM174.93,449.12h1.25v1.25h-1.25zM173.91,449.86h1.25v1.25h-1.25zM175.47,443.33h1.25v1.25h-1.25zM173.05,449.52h1.25v1.25h-1.25zM176.17,445.78h1.25v1.25h-1.25zM186.43,443.03h1.25v1.25h-1.25zM180.34,447.13h1.25v1.25h-1.25zM177.77,446.47h1.25v1.25h-1.25zM170.55,449.46h1.25v1.25h-1.25zM168.52,449.78h1.25v1.25h-1.25zM180.7,445.46h1.25v1.25h-1.25zM180.13,442.59h1.25v1.25h-1.25zM178.37,447.44h1.25v1.25h-1.25zM176.8,448.31h1.25v1.25h-1.25zM179.01,448.49h1.25v1.25h-1.25zM182.64,443.95h1.25v1.25h-1.25zM175.88,444.84h1.25v1.25h-1.25zM179.6,448.97h1.25v1.25h-1.25zM174.43,448.86h1.25v1.25h-1.25zM175.75,447.13h1.25v1.25h-1.25zM177.08,445.47h1.25v1.25h-1.25zM174.42,448.24h1.25v1.25h-1.25zM168.83,450.02h1.25v1.25h-1.25zM173.56,448.02h1.25v1.25h-1.25zM173.81,447.95h1.25v1.25h-1.25zM178.58,448.52h1.25v1.25h-1.25zM174.38,448.37h1.25v1.25h-1.25zM180.7,444.95h1.25v1.25h-1.25zM175.18,446.22h1.25v1.25h-1.25zM179.4,442.96h1.25v1.25h-1.25zM170.31,448.4h1.25v1.25h-1.25zM174.41,449.4h1.25v1.25h-1.25zM172.92,448.1h1.25v1.25h-1.25zM171.75,451.8h1.25v1.25h-1.25zM179.88,444.61h1.25v1.25h-1.25zM170.06,450.45h1.25v1.25h-1.25zM168.96,454.09h1.25v1.25h-1.25zM175.02,451.52h1.25v1.25h-1.25zM174.96,443.89h1.25v1.25h-1.25zM180.24,448.28h1.25v1.25h-1.25zM169.66,449.16h1.25v1.25h-1.25zM170.61,447.29h1.25v1.25h-1.25zM174.47,448.18h1.25v1.25h-1.25zM173.01,452.98h1.25v1.25h-1.25zM170.26,453.13h1.25v1.25h-1.25zM172.62,454.66h1.25v1.25h-1.25zM173.39,447.06h1.25v1.25h-1.25zM179.38,448.85h1.25v1.25h-1.25zM176.42,445.38h1.25v1.25h-1.25zM175.52,442.47h1.25v1.25h-1.25zM177.08,444.38h1.25v1.25h-1.25zM176.22,447.27h1.25v1.25h-1.25zM174.72,447.11h1.25v1.25h-1.25zM183.83,444.15h1.25v1.25h-1.25zM181.95,448.15h1.25v1.25h-1.25zM174.76,450.43h1.25v1.25h-1.25zM174.37,450.69h1.25v1.25h-1.25zM179.37,441.27h1.25v1.25h-1.25zM167.96,448.73h1.25v1.25h-1.25zM171.31,447.05h1.25v1.25h-1.25zM175.95,442.66h1.25v1.25h-1.25zM178.66,446.86h1.25v1.25h-1.25zM182.21,447.54h1.25v1.25h-1.25zM178.74,448.63h1.25v1.25h-1.25zM177.36,443.91h1.25v1.25h-1.25zM176.72,446.95h1.25v1.25h-1.25zM176.1,442.64h1.25v1.25h-1.25zM175.84,448.58h1.25v1.25h-1.25zM177.7,446.54h1.25v1.25h-1.25zM173.06,450.42h1.25v1.25h-1.25zM179.17,446.27h1.25v1.25h-1.25zM185.31,442.28h1.25v1.25h-1.25zM175.28,450.62h1.25v1.25h-1.25zM178.25,441.57h1.25v1.25h-1.25zM174.62,446.87h1.25v1.25h-1.25zM181.29,440.23h1.25v1.25h-1.25zM174.22,441.16h1.25v1.25h-1.25zM177.64,449.88h1.25v1.25h-1.25zM173.75,448.7h1.25v1.25h-1.25zM180.12,446.65h1.25v1.25h-1.25zM178.32,445.18h1.25v1.25h-1.25zM174.17,446.09h1.25v1.25h-1.25zM182.78,443.41h1.25v1.25h-1.25zM175.2,446.83h1.25v1.25h-1.25zM178.16,449.73h1.25v1.25h-1.25zM186.87,443.89h1.25v1.25h-1.25zM179.11,441.4h1.25v1.25h-1.25zM174.91,447.87h1.25v1.25h-1.25zM175.75,447.49h1.25v1.25h-1.25zM180.58,443.9h1.25v1.25h-1.25zM176.55,449.23h1.25v1.25h-1.25zM185.12,446.45h1.25v1.25h-1.25zM170.67,446.16h1.25v1.25h-1.25zM179.07,446.55h1.25v1.25h-1.25zM175.31,443.68h1.25v1.25h-1.25zM169.65,447.9h1.25v1.25h-1.25zM177.21,445.46h1.25v1.25h-1.25zM176.24,450.3h1.25v1.25h-1.25zM176.65,448.31h1.25v1.25h-1.25zM179.46,445.55h1.25v1.25h-1.25zM175.08,443.37h1.25v1.25h-1.25zM169.63,448.38h1.25v1.25h-1.25zM183.99,441.24h1.25v1.25h-1.25zM178.34,449.14h1.25v1.25h-1.25zM171.89,452.09h1.25v1.25h-1.25zM171.31,450.5h1.25v1.25h-1.25zM170.81,447.07h1.25v1.25h-1.25zM179.46,456.64h1.25v1.25h-1.25zM183.96,456.64h1.25v1.25h-1.25zM174.47,456.64h1.25v1.25h-1.25zM185.08,456.64h1.25v1.25h-1.25zM184.06,456.64h1.25v1.25h-1.25zM173.17,456.64h1.25v1.25h-1.25zM179.92,456.64h1.25v1.25h-1.25zM173.26,456.64h1.25v1.25h-1.25zM171.01,456.64h1.25v1.25h-1.25zM161.62,449.84h1.25v1.25h-1.25zM161.62,449.99h1.25v1.25h-1.25zM161.62,451.85h1.25v1.25h-1.25zM161.62,451.68h1.25v1.25h-1.25zM161.24,456.64h1.25v1.25h-1.25z" fill="#111"/>
<circle cx="183.05" cy="441.67" r="0.8" fill="#27aee6"/>
<circle cx="183.79" cy="447.28" r="0.8" fill="#27aee6"/>
<circle cx="172.71" cy="441.73" r="0.8" fill="#27aee6"/>
<circle cx="187.75" cy="443.47" r="1.0" fill="#f02020"/>
<circle cx="190.95" cy="442.15" r="1.0" fill="#f02020"/>
<circle cx="187.31" cy="444.85" r="1.0" fill="#f02020"/>
<circle cx="185.21" cy="440.87" r="1.0" fill="#f02020"/>
<circle cx="192.96" cy="445.64" r="1.0" fill="#f02020"/>
<circle cx="186.27" cy="442.2" r="1.0" fill="#f02020"/>
<rect x="159.2" y="461" width="37.7" height="23.6" rx="1.3" fill="#fff" stroke="#8a8a8a" stroke-width="1.2"/>
<path d="M176.2,468.93h1.25v1.25h-1.25zM176.51,470.1h1.25v1.25h-1.25zM177.55,471.64h1.25v1.25h-1.25zM178.72,472.5h1.25v1.25h-1.25zM183.27,469.44h1.25v1.25h-1.25zM175.22,469.51h1.25v1.25h-1.25zM179.83,471.91h1.25v1.25h-1.25zM167.93,475.57h1.25v1.25h-1.25zM178.47,469.26h1.25v1.25h-1.25zM186.15,463.94h1.25v1.25h-1.25zM178.06,472.5h1.25v1.25h-1.25zM178.06,466.17h1.25v1.25h-1.25zM170.98,471.87h1.25v1.25h-1.25zM181.49,468.79h1.25v1.25h-1.25zM178.72,471.95h1.25v1.25h-1.25zM173.15,472.46h1.25v1.25h-1.25zM177.24,472.62h1.25v1.25h-1.25zM176.02,470.4h1.25v1.25h-1.25zM177.71,473.66h1.25v1.25h-1.25zM178.96,467.83h1.25v1.25h-1.25zM177.89,473.09h1.25v1.25h-1.25zM177.37,470.1h1.25v1.25h-1.25zM179.88,469.34h1.25v1.25h-1.25zM174.71,474.94h1.25v1.25h-1.25zM179.71,470.28h1.25v1.25h-1.25zM186.03,468.2h1.25v1.25h-1.25zM175.26,471.66h1.25v1.25h-1.25zM176.93,467.45h1.25v1.25h-1.25zM176.4,470.07h1.25v1.25h-1.25zM175.53,469h1.25v1.25h-1.25zM177.03,469.8h1.25v1.25h-1.25zM173.02,471.47h1.25v1.25h-1.25zM177.79,469.61h1.25v1.25h-1.25zM172.45,475.34h1.25v1.25h-1.25zM173.94,472.44h1.25v1.25h-1.25zM172.16,473.63h1.25v1.25h-1.25zM168.27,471.04h1.25v1.25h-1.25zM177.41,471.66h1.25v1.25h-1.25zM176.28,469.75h1.25v1.25h-1.25zM171.91,471.52h1.25v1.25h-1.25zM178.26,471.18h1.25v1.25h-1.25zM169.86,472.87h1.25v1.25h-1.25zM176.29,466.93h1.25v1.25h-1.25zM175.81,473.86h1.25v1.25h-1.25zM183.32,468.78h1.25v1.25h-1.25zM174.64,470.62h1.25v1.25h-1.25zM181.11,472.59h1.25v1.25h-1.25zM168,472.6h1.25v1.25h-1.25zM177.99,469.33h1.25v1.25h-1.25zM173.12,471.73h1.25v1.25h-1.25zM180.43,468.84h1.25v1.25h-1.25zM181.22,468.1h1.25v1.25h-1.25zM170.92,477.77h1.25v1.25h-1.25zM164.15,478.78h1.25v1.25h-1.25zM175.6,470.6h1.25v1.25h-1.25zM172.14,473.73h1.25v1.25h-1.25zM171.54,474.34h1.25v1.25h-1.25zM178.05,470.84h1.25v1.25h-1.25zM174.82,470.02h1.25v1.25h-1.25zM172.59,472.4h1.25v1.25h-1.25zM178.04,470.32h1.25v1.25h-1.25zM176.55,471.07h1.25v1.25h-1.25zM180.97,470.46h1.25v1.25h-1.25zM166.67,477.09h1.25v1.25h-1.25zM175.68,471.08h1.25v1.25h-1.25zM178.32,473.13h1.25v1.25h-1.25zM179.8,467.08h1.25v1.25h-1.25zM176.84,464.07h1.25v1.25h-1.25zM177.39,469.45h1.25v1.25h-1.25zM179.23,470.41h1.25v1.25h-1.25zM178.48,469.09h1.25v1.25h-1.25zM174.02,471.55h1.25v1.25h-1.25zM176.91,469.33h1.25v1.25h-1.25zM187.7,466.43h1.25v1.25h-1.25zM181.25,468.16h1.25v1.25h-1.25zM174,473.43h1.25v1.25h-1.25zM178.96,468.7h1.25v1.25h-1.25zM173.03,473.85h1.25v1.25h-1.25zM170.28,474.26h1.25v1.25h-1.25zM176.29,474.73h1.25v1.25h-1.25zM176.99,470.3h1.25v1.25h-1.25zM183.29,463.94h1.25v1.25h-1.25zM168.71,474.12h1.25v1.25h-1.25zM176.73,469.56h1.25v1.25h-1.25zM177.17,468.08h1.25v1.25h-1.25zM172.4,472.6h1.25v1.25h-1.25zM182.94,471.57h1.25v1.25h-1.25zM184.84,469.49h1.25v1.25h-1.25zM184.51,470.72h1.25v1.25h-1.25zM179.98,469.76h1.25v1.25h-1.25zM174.79,465.33h1.25v1.25h-1.25zM173.82,470.53h1.25v1.25h-1.25zM179.67,473.68h1.25v1.25h-1.25zM177.25,468.35h1.25v1.25h-1.25zM170.27,476.74h1.25v1.25h-1.25zM167.37,475.65h1.25v1.25h-1.25zM178.76,473.58h1.25v1.25h-1.25zM174.31,475.03h1.25v1.25h-1.25zM169.13,475.07h1.25v1.25h-1.25zM180.69,469.29h1.25v1.25h-1.25zM168.93,475.94h1.25v1.25h-1.25zM173.55,472.19h1.25v1.25h-1.25zM182.89,465.36h1.25v1.25h-1.25zM167.98,476.69h1.25v1.25h-1.25zM173.68,471.77h1.25v1.25h-1.25zM177.54,466.94h1.25v1.25h-1.25zM175.49,474.07h1.25v1.25h-1.25zM175.54,468.61h1.25v1.25h-1.25zM178.8,470.6h1.25v1.25h-1.25zM178.9,469.21h1.25v1.25h-1.25zM174.84,476.31h1.25v1.25h-1.25zM179.18,468.29h1.25v1.25h-1.25zM175.69,468.9h1.25v1.25h-1.25zM178.28,468.84h1.25v1.25h-1.25zM172.82,474.86h1.25v1.25h-1.25zM166.25,481.17h1.25v1.25h-1.25zM177.72,472.5h1.25v1.25h-1.25zM171.34,472.18h1.25v1.25h-1.25zM175.2,468.75h1.25v1.25h-1.25zM172.58,472.57h1.25v1.25h-1.25zM181.16,471.11h1.25v1.25h-1.25zM178.76,475.01h1.25v1.25h-1.25zM167.04,468.78h1.25v1.25h-1.25zM175.7,469.82h1.25v1.25h-1.25zM183.69,468.09h1.25v1.25h-1.25zM182.82,467.49h1.25v1.25h-1.25zM177.15,466.81h1.25v1.25h-1.25zM179.57,471.54h1.25v1.25h-1.25zM176,470.82h1.25v1.25h-1.25zM187.34,467.61h1.25v1.25h-1.25zM180.39,468.01h1.25v1.25h-1.25zM177.57,469.99h1.25v1.25h-1.25zM182.63,466.53h1.25v1.25h-1.25zM178.04,470.43h1.25v1.25h-1.25zM189.59,466.48h1.25v1.25h-1.25zM179.14,469.31h1.25v1.25h-1.25zM178.83,468.11h1.25v1.25h-1.25zM180.74,467.84h1.25v1.25h-1.25zM176.91,471.07h1.25v1.25h-1.25zM181.47,467.64h1.25v1.25h-1.25zM171.31,468.91h1.25v1.25h-1.25zM173.9,474.75h1.25v1.25h-1.25zM180.28,471.93h1.25v1.25h-1.25zM178.54,467.33h1.25v1.25h-1.25zM178.08,469.2h1.25v1.25h-1.25zM178.1,468.05h1.25v1.25h-1.25zM181.06,468.61h1.25v1.25h-1.25zM179.49,467.36h1.25v1.25h-1.25zM171.44,473.02h1.25v1.25h-1.25zM183.61,471.83h1.25v1.25h-1.25zM180.81,465.03h1.25v1.25h-1.25zM178.44,470.96h1.25v1.25h-1.25zM178.34,469.52h1.25v1.25h-1.25zM173.89,470.75h1.25v1.25h-1.25zM180.79,469.9h1.25v1.25h-1.25zM173.21,471.61h1.25v1.25h-1.25zM179.91,469.45h1.25v1.25h-1.25zM178.62,473.04h1.25v1.25h-1.25zM174.4,471.41h1.25v1.25h-1.25zM182.27,468.42h1.25v1.25h-1.25zM171.94,473.79h1.25v1.25h-1.25zM172.83,471.79h1.25v1.25h-1.25zM179.37,470.81h1.25v1.25h-1.25zM178.5,465.24h1.25v1.25h-1.25zM176.05,471.29h1.25v1.25h-1.25zM176.01,471.26h1.25v1.25h-1.25zM171.95,473.26h1.25v1.25h-1.25zM180.19,468.77h1.25v1.25h-1.25zM181.2,467.23h1.25v1.25h-1.25zM166.23,475.19h1.25v1.25h-1.25zM181.74,470.54h1.25v1.25h-1.25zM175.14,472.99h1.25v1.25h-1.25zM176.87,473.27h1.25v1.25h-1.25zM185.41,465.56h1.25v1.25h-1.25zM169.49,475.39h1.25v1.25h-1.25zM181.68,469.59h1.25v1.25h-1.25zM174.8,471.47h1.25v1.25h-1.25zM168.48,475.08h1.25v1.25h-1.25zM173.63,472.12h1.25v1.25h-1.25zM175.24,474.25h1.25v1.25h-1.25zM182.16,464.91h1.25v1.25h-1.25zM184.69,467.9h1.25v1.25h-1.25zM181.03,469.75h1.25v1.25h-1.25zM173.21,474.91h1.25v1.25h-1.25zM179.63,470.68h1.25v1.25h-1.25zM174.14,469.42h1.25v1.25h-1.25zM174.4,473.41h1.25v1.25h-1.25zM174.59,473.74h1.25v1.25h-1.25zM181.88,466.34h1.25v1.25h-1.25zM180.07,469.66h1.25v1.25h-1.25zM173.24,474.56h1.25v1.25h-1.25zM181.7,469.71h1.25v1.25h-1.25zM176.49,469.95h1.25v1.25h-1.25zM179.44,469.43h1.25v1.25h-1.25zM171.23,471.44h1.25v1.25h-1.25zM178.08,468h1.25v1.25h-1.25zM175.57,470.29h1.25v1.25h-1.25zM174.02,470.79h1.25v1.25h-1.25zM176.93,469.07h1.25v1.25h-1.25zM177.01,470.33h1.25v1.25h-1.25zM179.83,470.44h1.25v1.25h-1.25zM173.91,471.99h1.25v1.25h-1.25zM181.65,470.78h1.25v1.25h-1.25zM181.96,472.54h1.25v1.25h-1.25zM175.43,472.7h1.25v1.25h-1.25zM177.91,472.44h1.25v1.25h-1.25zM176.29,470.51h1.25v1.25h-1.25zM180.81,468.05h1.25v1.25h-1.25zM173.78,473.14h1.25v1.25h-1.25zM172.03,474.09h1.25v1.25h-1.25zM178.92,467.97h1.25v1.25h-1.25zM174.77,471.02h1.25v1.25h-1.25zM174.05,472.63h1.25v1.25h-1.25zM166.91,476.46h1.25v1.25h-1.25zM176.07,470.88h1.25v1.25h-1.25zM175.54,470.74h1.25v1.25h-1.25zM173.79,473.65h1.25v1.25h-1.25zM166.8,475.68h1.25v1.25h-1.25zM173.87,472.87h1.25v1.25h-1.25zM175.85,473.41h1.25v1.25h-1.25zM177.49,467.82h1.25v1.25h-1.25zM183.71,467.64h1.25v1.25h-1.25zM186.66,466.7h1.25v1.25h-1.25zM173.48,472.21h1.25v1.25h-1.25zM167.57,477.65h1.25v1.25h-1.25zM176.99,472.04h1.25v1.25h-1.25zM175.26,472.51h1.25v1.25h-1.25zM182,469.76h1.25v1.25h-1.25zM170.1,475.46h1.25v1.25h-1.25zM173.35,474.82h1.25v1.25h-1.25zM177.71,473.51h1.25v1.25h-1.25zM181.07,470.7h1.25v1.25h-1.25zM175.96,470.48h1.25v1.25h-1.25zM178.6,464.85h1.25v1.25h-1.25zM179.68,470.72h1.25v1.25h-1.25zM173.43,473.4h1.25v1.25h-1.25zM175.27,472.32h1.25v1.25h-1.25zM180.42,467.73h1.25v1.25h-1.25zM174.18,469.44h1.25v1.25h-1.25zM179.37,472.51h1.25v1.25h-1.25zM177.19,471.22h1.25v1.25h-1.25zM186.83,465.34h1.25v1.25h-1.25zM177.91,470.89h1.25v1.25h-1.25zM174.44,475.51h1.25v1.25h-1.25zM182.2,470.61h1.25v1.25h-1.25zM168.03,475.48h1.25v1.25h-1.25zM173.19,468.16h1.25v1.25h-1.25zM179.66,467.62h1.25v1.25h-1.25zM178.82,470.95h1.25v1.25h-1.25zM186.12,469.12h1.25v1.25h-1.25zM176.03,472.03h1.25v1.25h-1.25zM176.29,471.73h1.25v1.25h-1.25zM179.74,468.42h1.25v1.25h-1.25zM177.6,472.34h1.25v1.25h-1.25zM181.93,468.37h1.25v1.25h-1.25zM185.05,464.99h1.25v1.25h-1.25zM182.68,468.27h1.25v1.25h-1.25zM180.01,467.8h1.25v1.25h-1.25zM171.13,474.7h1.25v1.25h-1.25zM176.29,470.97h1.25v1.25h-1.25zM173.07,481.64h1.25v1.25h-1.25zM171.46,481.64h1.25v1.25h-1.25zM170.83,481.64h1.25v1.25h-1.25zM182.73,481.64h1.25v1.25h-1.25zM186.8,481.64h1.25v1.25h-1.25zM181.75,481.64h1.25v1.25h-1.25zM184,481.64h1.25v1.25h-1.25zM173.47,481.64h1.25v1.25h-1.25zM184.32,481.64h1.25v1.25h-1.25zM161.24,481.64h1.25v1.25h-1.25z" fill="#111"/>
<circle cx="178.55" cy="465.57" r="0.8" fill="#27aee6"/>
<circle cx="176.66" cy="469.5" r="0.8" fill="#27aee6"/>
<circle cx="180.48" cy="470.04" r="0.8" fill="#27aee6"/>
<circle cx="186.62" cy="465.77" r="1.0" fill="#f02020"/>
<circle cx="191.82" cy="463.95" r="1.0" fill="#f02020"/>
<circle cx="190.5" cy="468.43" r="1.0" fill="#f02020"/>
<circle cx="188.68" cy="466.76" r="1.0" fill="#f02020"/>
<circle cx="189.89" cy="464.42" r="1.0" fill="#f02020"/>
<circle cx="189.64" cy="464.1" r="1.0" fill="#f02020"/>
<text x="37.4" y="396.7" font-size="6.6" text-anchor="end" fill="#222" font-style="italic" stroke-width="0">RHAG</text>
<text x="66.8" y="424.4" font-size="6.6" text-anchor="end" fill="#222" font-style="italic" stroke-width="0">NEO1</text>
<text x="111.8" y="450.2" font-size="6.6" text-anchor="end" fill="#222" font-style="italic" stroke-width="0">GP9/CD42a</text>
<text x="153.3" y="475.4" font-size="6.6" text-anchor="end" fill="#222" font-style="italic" stroke-width="0">ITGA2B/CD41</text>
<text x="175.9" y="493.6" font-size="6.6" text-anchor="middle" fill="#222" font-style="italic" stroke-width="0">ITGB3/CD61</text>
<path d="M42.3,490 L42.3,455.5 M42.3,490 L78.5,490" stroke="#222" stroke-width="1.1" fill="none"/>
<path d="M42.3,452.2 L40.3,457.2 L44.3,457.2 Z M81.6,490 L76.6,488 L76.6,492 Z" fill="#222"/>
<text transform="translate(25.6,476.2) rotate(-90)" font-size="8" text-anchor="middle" fill="#111" stroke="#111" stroke-width="0.35" textLength="27.7" lengthAdjust="spacingAndGlyphs">Expression</text>
<text transform="translate(37.2,469.8) rotate(-90)" font-size="8" text-anchor="middle" fill="#111" stroke="#111" stroke-width="0.35" textLength="39.5" lengthAdjust="spacingAndGlyphs">(Log10, RPKM)</text>
<text x="42.3" y="500.8" font-size="8" text-anchor="start" fill="#111" textLength="27.7" lengthAdjust="spacingAndGlyphs" stroke="#111" stroke-width="0.35">Expression</text>
<text x="42.3" y="511.5" font-size="8" text-anchor="start" fill="#111" textLength="40" lengthAdjust="spacingAndGlyphs" stroke="#111" stroke-width="0.35">(Log10, RPKM)</text>
<text x="213.4" y="371.6" font-size="12.6" text-anchor="start" fill="#000" font-weight="bold" >D</text>
<rect x="326.8" y="379.7" width="23" height="19.2" fill="#dcdcdc" />
<path d="M290.1,400.07h1.1v1.1h-1.1zM312.49,395.7h1.1v1.1h-1.1zM300.74,398.97h1.1v1.1h-1.1zM297.18,398.48h1.1v1.1h-1.1zM299.87,384.73h1.1v1.1h-1.1zM307.37,399.57h1.1v1.1h-1.1zM291.18,405.19h1.1v1.1h-1.1zM311.6,395.04h1.1v1.1h-1.1zM290.66,402.61h1.1v1.1h-1.1zM298.63,400.6h1.1v1.1h-1.1zM290.5,407.37h1.1v1.1h-1.1zM307.99,389.23h1.1v1.1h-1.1zM324.65,400.45h1.1v1.1h-1.1zM292.12,406.46h1.1v1.1h-1.1zM302.46,406.5h1.1v1.1h-1.1zM299.51,405.88h1.1v1.1h-1.1zM284.89,406.03h1.1v1.1h-1.1zM289.04,406.22h1.1v1.1h-1.1zM294.51,395.94h1.1v1.1h-1.1zM295.48,406.44h1.1v1.1h-1.1zM292.03,398.27h1.1v1.1h-1.1zM298.41,389.98h1.1v1.1h-1.1zM307.94,400.92h1.1v1.1h-1.1zM294.14,407.36h1.1v1.1h-1.1zM291.43,408.76h1.1v1.1h-1.1zM301.13,398.41h1.1v1.1h-1.1zM293.37,394.04h1.1v1.1h-1.1zM284.43,413.93h1.1v1.1h-1.1zM293.3,409.09h1.1v1.1h-1.1zM290.41,390.97h1.1v1.1h-1.1zM318.91,384.94h1.1v1.1h-1.1zM289.87,400.67h1.1v1.1h-1.1zM297.37,407.97h1.1v1.1h-1.1zM308.31,397.73h1.1v1.1h-1.1zM316.72,392.32h1.1v1.1h-1.1zM303.71,393.51h1.1v1.1h-1.1zM316.6,396.13h1.1v1.1h-1.1zM299.56,392.85h1.1v1.1h-1.1zM303.83,393.19h1.1v1.1h-1.1zM301.45,405.57h1.1v1.1h-1.1zM306.44,400h1.1v1.1h-1.1zM312.39,403.37h1.1v1.1h-1.1zM314.82,397.09h1.1v1.1h-1.1zM301.12,398.65h1.1v1.1h-1.1zM294.95,402.6h1.1v1.1h-1.1zM308.49,401h1.1v1.1h-1.1zM310.16,401.53h1.1v1.1h-1.1zM308.83,407.97h1.1v1.1h-1.1zM316.23,399.85h1.1v1.1h-1.1zM296.75,395.62h1.1v1.1h-1.1zM302.99,395.38h1.1v1.1h-1.1zM299.44,393.48h1.1v1.1h-1.1zM303.08,399.38h1.1v1.1h-1.1zM288.8,401.49h1.1v1.1h-1.1zM312.12,387.82h1.1v1.1h-1.1zM307.5,386.59h1.1v1.1h-1.1zM313.93,383.9h1.1v1.1h-1.1zM300.54,396.23h1.1v1.1h-1.1zM307.04,394.02h1.1v1.1h-1.1zM309.22,392.94h1.1v1.1h-1.1zM313.44,397.89h1.1v1.1h-1.1zM287.38,394.37h1.1v1.1h-1.1zM306.89,396.55h1.1v1.1h-1.1zM309.49,401.97h1.1v1.1h-1.1zM305.82,394.12h1.1v1.1h-1.1zM301.2,418.38h1.1v1.1h-1.1zM287.9,394.97h1.1v1.1h-1.1zM294.94,399.07h1.1v1.1h-1.1zM298.34,393.67h1.1v1.1h-1.1zM302.44,386.25h1.1v1.1h-1.1zM312.05,393.15h1.1v1.1h-1.1zM302.2,400.63h1.1v1.1h-1.1zM317.95,397.98h1.1v1.1h-1.1zM298.15,403.35h1.1v1.1h-1.1zM308.9,384.54h1.1v1.1h-1.1zM304.45,398.56h1.1v1.1h-1.1zM305.63,402.44h1.1v1.1h-1.1zM316.2,391.69h1.1v1.1h-1.1zM320.7,387.64h1.1v1.1h-1.1zM307.75,402.54h1.1v1.1h-1.1zM310.95,390.45h1.1v1.1h-1.1zM302.47,400.71h1.1v1.1h-1.1zM300.82,402.54h1.1v1.1h-1.1zM297.51,396.78h1.1v1.1h-1.1zM314.91,392.11h1.1v1.1h-1.1zM294.75,385.49h1.1v1.1h-1.1zM317.72,402.25h1.1v1.1h-1.1zM285.94,402.68h1.1v1.1h-1.1zM296.07,393.11h1.1v1.1h-1.1zM291,403.14h1.1v1.1h-1.1zM281.36,398.12h1.1v1.1h-1.1zM321.2,395.94h1.1v1.1h-1.1zM308.67,402.23h1.1v1.1h-1.1zM309.77,395.1h1.1v1.1h-1.1zM282.92,402.51h1.1v1.1h-1.1zM299.92,414.8h1.1v1.1h-1.1zM304.23,404.25h1.1v1.1h-1.1zM314.89,393.61h1.1v1.1h-1.1zM291.32,388.44h1.1v1.1h-1.1zM314.34,401.36h1.1v1.1h-1.1zM305.25,409.43h1.1v1.1h-1.1zM290.16,402.07h1.1v1.1h-1.1zM322.15,398.62h1.1v1.1h-1.1zM271.96,413.6h1.1v1.1h-1.1zM314.18,386.79h1.1v1.1h-1.1zM292.85,402.53h1.1v1.1h-1.1zM313.08,390.06h1.1v1.1h-1.1zM307.34,401.03h1.1v1.1h-1.1zM307.51,389.4h1.1v1.1h-1.1zM292.13,400.15h1.1v1.1h-1.1zM309.12,393.68h1.1v1.1h-1.1zM323.03,399.63h1.1v1.1h-1.1zM315.37,398.76h1.1v1.1h-1.1zM298.38,399.53h1.1v1.1h-1.1zM288.88,397.24h1.1v1.1h-1.1zM306.67,398.05h1.1v1.1h-1.1zM300.51,400.95h1.1v1.1h-1.1zM310.09,398.12h1.1v1.1h-1.1zM296.85,409.21h1.1v1.1h-1.1zM306,390.54h1.1v1.1h-1.1zM296.09,397.93h1.1v1.1h-1.1zM299.18,397.84h1.1v1.1h-1.1zM294.42,418.39h1.1v1.1h-1.1zM291.27,402.76h1.1v1.1h-1.1zM296.09,400.33h1.1v1.1h-1.1zM301.26,409.75h1.1v1.1h-1.1zM311.38,392.87h1.1v1.1h-1.1zM315.3,388.66h1.1v1.1h-1.1zM325.63,392.97h1.1v1.1h-1.1zM322.54,389.59h1.1v1.1h-1.1zM307.52,389.71h1.1v1.1h-1.1zM295.97,416.17h1.1v1.1h-1.1zM307.16,400.72h1.1v1.1h-1.1zM299.87,406.55h1.1v1.1h-1.1zM308.83,390.72h1.1v1.1h-1.1zM304.58,398.88h1.1v1.1h-1.1zM297.95,407.98h1.1v1.1h-1.1zM312.13,402.28h1.1v1.1h-1.1zM302.61,384.98h1.1v1.1h-1.1zM316.14,389.35h1.1v1.1h-1.1zM301.45,396.7h1.1v1.1h-1.1zM313.54,384.69h1.1v1.1h-1.1zM316.68,382.86h1.1v1.1h-1.1zM318.34,382.78h1.1v1.1h-1.1zM318.45,392.33h1.1v1.1h-1.1zM287.35,403.69h1.1v1.1h-1.1zM309.84,399.62h1.1v1.1h-1.1zM317.41,396.26h1.1v1.1h-1.1zM305.65,403.13h1.1v1.1h-1.1zM320.84,395.41h1.1v1.1h-1.1zM294.56,399.39h1.1v1.1h-1.1zM313.15,402.93h1.1v1.1h-1.1zM302.34,410.04h1.1v1.1h-1.1zM313.16,385.16h1.1v1.1h-1.1zM301.34,402.09h1.1v1.1h-1.1zM307.31,396.45h1.1v1.1h-1.1zM306.28,386.28h1.1v1.1h-1.1zM304.42,409.16h1.1v1.1h-1.1zM284.08,390.09h1.1v1.1h-1.1zM307.28,393.7h1.1v1.1h-1.1zM294.16,398.37h1.1v1.1h-1.1zM300.56,412.43h1.1v1.1h-1.1zM302.07,405.05h1.1v1.1h-1.1zM293.72,403.39h1.1v1.1h-1.1zM289,403.97h1.1v1.1h-1.1zM315.24,385.16h1.1v1.1h-1.1zM310.11,408.56h1.1v1.1h-1.1zM309.53,394.6h1.1v1.1h-1.1zM302.39,411.55h1.1v1.1h-1.1zM282.71,413.58h1.1v1.1h-1.1zM295.11,397.91h1.1v1.1h-1.1zM292.87,399.64h1.1v1.1h-1.1zM287.78,393.21h1.1v1.1h-1.1zM294.4,390.35h1.1v1.1h-1.1zM300.48,399.95h1.1v1.1h-1.1zM279.43,404.12h1.1v1.1h-1.1zM289.02,412.34h1.1v1.1h-1.1zM314.23,394.7h1.1v1.1h-1.1zM308.73,386.35h1.1v1.1h-1.1zM297.83,389.63h1.1v1.1h-1.1zM301.29,400.07h1.1v1.1h-1.1zM294.75,404.38h1.1v1.1h-1.1zM302.19,388.67h1.1v1.1h-1.1zM297.1,403.39h1.1v1.1h-1.1zM301.38,401.66h1.1v1.1h-1.1zM325.09,389.4h1.1v1.1h-1.1zM327.57,401.34h1.1v1.1h-1.1zM321.37,395.49h1.1v1.1h-1.1zM289.66,404.85h1.1v1.1h-1.1zM275.59,407.62h1.1v1.1h-1.1zM314.52,398h1.1v1.1h-1.1zM306.76,389.58h1.1v1.1h-1.1zM283.95,396.37h1.1v1.1h-1.1zM316.6,400.64h1.1v1.1h-1.1zM314.86,392.08h1.1v1.1h-1.1zM312.34,390.54h1.1v1.1h-1.1zM309.68,406.93h1.1v1.1h-1.1zM295.88,399.19h1.1v1.1h-1.1zM323.63,400.66h1.1v1.1h-1.1zM298.73,399.31h1.1v1.1h-1.1zM297.3,406.13h1.1v1.1h-1.1zM293.52,396.35h1.1v1.1h-1.1zM301.5,395.11h1.1v1.1h-1.1zM294.34,407.22h1.1v1.1h-1.1zM285.1,397.17h1.1v1.1h-1.1zM295.65,400.14h1.1v1.1h-1.1zM300.83,390.12h1.1v1.1h-1.1zM294.31,408.96h1.1v1.1h-1.1zM302.21,405.43h1.1v1.1h-1.1zM304.09,407.7h1.1v1.1h-1.1zM302.32,395.14h1.1v1.1h-1.1zM286.81,411.47h1.1v1.1h-1.1zM322.66,398.81h1.1v1.1h-1.1zM309.27,405.88h1.1v1.1h-1.1zM302.76,392.8h1.1v1.1h-1.1zM308.41,401.91h1.1v1.1h-1.1zM288.04,400.65h1.1v1.1h-1.1zM308.03,397.3h1.1v1.1h-1.1zM308.82,385.59h1.1v1.1h-1.1zM303.57,401.48h1.1v1.1h-1.1zM312.89,385.84h1.1v1.1h-1.1zM282.52,409.97h1.1v1.1h-1.1zM302.06,402.01h1.1v1.1h-1.1zM304.69,409.4h1.1v1.1h-1.1zM299.11,391.81h1.1v1.1h-1.1zM288.02,402.92h1.1v1.1h-1.1zM298.65,400.6h1.1v1.1h-1.1zM310.96,403.94h1.1v1.1h-1.1zM313.55,391.79h1.1v1.1h-1.1zM307.03,390.93h1.1v1.1h-1.1zM298.78,411.03h1.1v1.1h-1.1zM307.48,392.86h1.1v1.1h-1.1zM318.35,397.65h1.1v1.1h-1.1zM308.69,388.68h1.1v1.1h-1.1zM302.54,395.98h1.1v1.1h-1.1zM299.43,402.22h1.1v1.1h-1.1zM313.49,388.45h1.1v1.1h-1.1zM306.73,398.49h1.1v1.1h-1.1zM302.45,402.67h1.1v1.1h-1.1zM304.45,397.91h1.1v1.1h-1.1zM320.96,393.75h1.1v1.1h-1.1zM304.04,399.08h1.1v1.1h-1.1zM304.58,396.57h1.1v1.1h-1.1zM294.02,396.96h1.1v1.1h-1.1zM310.01,385.2h1.1v1.1h-1.1zM315.37,390.19h1.1v1.1h-1.1zM312.87,388.7h1.1v1.1h-1.1zM307.72,394.36h1.1v1.1h-1.1zM311.52,397.39h1.1v1.1h-1.1zM286.37,398.72h1.1v1.1h-1.1zM317,396.01h1.1v1.1h-1.1zM315.21,389.31h1.1v1.1h-1.1zM296.31,408.47h1.1v1.1h-1.1zM286.52,393.2h1.1v1.1h-1.1zM315.82,392.76h1.1v1.1h-1.1zM277.74,407.8h1.1v1.1h-1.1zM304.04,403.57h1.1v1.1h-1.1zM291,394.61h1.1v1.1h-1.1zM299.46,397.6h1.1v1.1h-1.1zM315.13,396.67h1.1v1.1h-1.1zM306.7,394.81h1.1v1.1h-1.1zM311.93,389.95h1.1v1.1h-1.1zM320.97,399.28h1.1v1.1h-1.1zM294.58,403.4h1.1v1.1h-1.1zM292.88,411.93h1.1v1.1h-1.1zM304.7,393.44h1.1v1.1h-1.1zM289.3,396.26h1.1v1.1h-1.1zM314.32,402.49h1.1v1.1h-1.1zM300.51,387.87h1.1v1.1h-1.1zM305.69,395.41h1.1v1.1h-1.1zM317.53,395.31h1.1v1.1h-1.1zM291.16,404.65h1.1v1.1h-1.1zM295.48,401.6h1.1v1.1h-1.1zM306.24,388.98h1.1v1.1h-1.1zM291.37,396.17h1.1v1.1h-1.1zM313.58,400.66h1.1v1.1h-1.1zM302.33,401.27h1.1v1.1h-1.1zM298.66,399.35h1.1v1.1h-1.1zM304.85,393.98h1.1v1.1h-1.1zM297.43,396.97h1.1v1.1h-1.1zM311.39,399.43h1.1v1.1h-1.1zM301.01,396.49h1.1v1.1h-1.1zM293.37,422.05h0.9v0.9h-0.9zM309.94,422.05h0.9v0.9h-0.9zM300.44,422.05h0.9v0.9h-0.9zM314.31,422.05h0.9v0.9h-0.9zM303.27,422.05h0.9v0.9h-0.9zM304.34,422.05h0.9v0.9h-0.9zM295.68,422.05h0.9v0.9h-0.9zM311.98,422.05h0.9v0.9h-0.9zM296.59,422.05h0.9v0.9h-0.9zM284.19,422.05h0.9v0.9h-0.9z" fill="#1a1a1a"/>
<rect x="332.79" y="393.32" width="1.5" height="1.5" fill="#33d633"/>
<rect x="329.46" y="383.94" width="1.5" height="1.5" fill="#33d633"/>
<rect x="340.84" y="391.57" width="1.5" height="1.5" fill="#33d633"/>
<rect x="337.61" y="391.12" width="1.5" height="1.5" fill="#33d633"/>
<rect x="336.7" y="390.16" width="1.5" height="1.5" fill="#33d633"/>
<rect x="329.07" y="387.46" width="1.5" height="1.5" fill="#33d633"/>
<rect x="347.78" y="389.94" width="1.5" height="1.5" fill="#33d633"/>
<rect x="335.12" y="390.67" width="1.5" height="1.5" fill="#33d633"/>
<rect x="347.83" y="388.28" width="1.5" height="1.5" fill="#33d633"/>
<rect x="336.62" y="393.69" width="1.5" height="1.5" fill="#33d633"/>
<rect x="345.31" y="384.64" width="1.5" height="1.5" fill="#33d633"/>
<text x="333.8" y="403.1" font-size="5.7" text-anchor="start" fill="#333" >5.28%</text>
<path d="M266.5,379.12 L266.5,423.9 L348.75,423.9" stroke="#111" stroke-width="1.1" fill="none"/>
<line x1="263.3" y1="422.5" x2="266.5" y2="422.5" stroke="#111" stroke-width="0.9" />
<text x="261.5" y="425.1" font-size="6" text-anchor="end" fill="#222" textLength="9.8" lengthAdjust="spacingAndGlyphs" stroke="#222" stroke-width="0.2" >0.0</text>
<line x1="263.3" y1="415.47" x2="266.5" y2="415.47" stroke="#111" stroke-width="0.9" />
<text x="261.5" y="418.07" font-size="6" text-anchor="end" fill="#222" textLength="9.8" lengthAdjust="spacingAndGlyphs" stroke="#222" stroke-width="0.2" >1.0</text>
<line x1="263.3" y1="408.44" x2="266.5" y2="408.44" stroke="#111" stroke-width="0.9" />
<text x="261.5" y="411.04" font-size="6" text-anchor="end" fill="#222" textLength="9.8" lengthAdjust="spacingAndGlyphs" stroke="#222" stroke-width="0.2" >2.0</text>
<line x1="263.3" y1="401.41" x2="266.5" y2="401.41" stroke="#111" stroke-width="0.9" />
<text x="261.5" y="404.01" font-size="6" text-anchor="end" fill="#222" textLength="9.8" lengthAdjust="spacingAndGlyphs" stroke="#222" stroke-width="0.2" >3.0</text>
<line x1="263.3" y1="394.38" x2="266.5" y2="394.38" stroke="#111" stroke-width="0.9" />
<text x="261.5" y="396.98" font-size="6" text-anchor="end" fill="#222" textLength="9.8" lengthAdjust="spacingAndGlyphs" stroke="#222" stroke-width="0.2" >4.0</text>
<line x1="263.3" y1="387.35" x2="266.5" y2="387.35" stroke="#111" stroke-width="0.9" />
<text x="261.5" y="389.95" font-size="6" text-anchor="end" fill="#222" textLength="9.8" lengthAdjust="spacingAndGlyphs" stroke="#222" stroke-width="0.2" >5.0</text>
<line x1="263.3" y1="380.32" x2="266.5" y2="380.32" stroke="#111" stroke-width="0.9" />
<text x="261.5" y="382.92" font-size="6" text-anchor="end" fill="#222" textLength="9.8" lengthAdjust="spacingAndGlyphs" stroke="#222" stroke-width="0.2" >6.0</text>
<line x1="267.9" y1="423.9" x2="267.9" y2="427.5" stroke="#111" stroke-width="0.9" />
<text x="267.9" y="436.3" font-size="6" text-anchor="middle" fill="#222" textLength="9.6" lengthAdjust="spacingAndGlyphs" stroke="#222" stroke-width="0.2" >1.0</text>
<line x1="283.87" y1="423.9" x2="283.87" y2="427.5" stroke="#111" stroke-width="0.9" />
<text x="283.87" y="436.3" font-size="6" text-anchor="middle" fill="#222" textLength="9.6" lengthAdjust="spacingAndGlyphs" stroke="#222" stroke-width="0.2" >2.0</text>
<line x1="299.84" y1="423.9" x2="299.84" y2="427.5" stroke="#111" stroke-width="0.9" />
<text x="299.84" y="436.3" font-size="6" text-anchor="middle" fill="#222" textLength="9.6" lengthAdjust="spacingAndGlyphs" stroke="#222" stroke-width="0.2" >3.0</text>
<line x1="315.81" y1="423.9" x2="315.81" y2="427.5" stroke="#111" stroke-width="0.9" />
<text x="315.81" y="436.3" font-size="6" text-anchor="middle" fill="#222" textLength="9.6" lengthAdjust="spacingAndGlyphs" stroke="#222" stroke-width="0.2" >4.0</text>
<line x1="331.78" y1="423.9" x2="331.78" y2="427.5" stroke="#111" stroke-width="0.9" />
<text x="331.78" y="436.3" font-size="6" text-anchor="middle" fill="#222" textLength="9.6" lengthAdjust="spacingAndGlyphs" stroke="#222" stroke-width="0.2" >5.0</text>
<line x1="347.75" y1="423.9" x2="347.75" y2="427.5" stroke="#111" stroke-width="0.9" />
<text x="347.75" y="436.3" font-size="6" text-anchor="middle" fill="#222" textLength="9.6" lengthAdjust="spacingAndGlyphs" stroke="#222" stroke-width="0.2" >6.0</text>
<text transform="translate(245.6,401.41) rotate(-90)" font-size="8.6" font-style="italic" text-anchor="middle" fill="#222" stroke="#222" stroke-width="0.3" textLength="14.5" lengthAdjust="spacingAndGlyphs">RHAG</text>
<text x="307.22" y="447.2" font-size="8.6" text-anchor="middle" fill="#222" font-style="italic" textLength="33.6" lengthAdjust="spacingAndGlyphs" stroke="#222" stroke-width="0.3">ITGA2B/CD41</text>
<rect x="444.2" y="379.7" width="22.2" height="19.2" fill="#dcdcdc" />
<path d="M413.69,405.11h1.1v1.1h-1.1zM406.41,399.04h1.1v1.1h-1.1zM402.64,398.97h1.1v1.1h-1.1zM396.62,405.6h1.1v1.1h-1.1zM425.66,397.34h1.1v1.1h-1.1zM438.89,395.61h1.1v1.1h-1.1zM427.66,402.1h1.1v1.1h-1.1zM390.31,405.52h1.1v1.1h-1.1zM411.18,401.1h1.1v1.1h-1.1zM433.77,392.18h1.1v1.1h-1.1zM422.38,404.73h1.1v1.1h-1.1zM415.5,408.77h1.1v1.1h-1.1zM415.62,403.58h1.1v1.1h-1.1zM405.17,410.1h1.1v1.1h-1.1zM406.92,403.41h1.1v1.1h-1.1zM413.82,404.3h1.1v1.1h-1.1zM420.65,395.77h1.1v1.1h-1.1zM423.4,400.5h1.1v1.1h-1.1zM411.65,406.55h1.1v1.1h-1.1zM424.33,399.74h1.1v1.1h-1.1zM412.53,397.68h1.1v1.1h-1.1zM425.11,397.53h1.1v1.1h-1.1zM405.03,408.45h1.1v1.1h-1.1zM438.62,397.32h1.1v1.1h-1.1zM423.09,396.29h1.1v1.1h-1.1zM407.42,406.64h1.1v1.1h-1.1zM409.48,405.42h1.1v1.1h-1.1zM419.33,396.09h1.1v1.1h-1.1zM429.51,402.92h1.1v1.1h-1.1zM403.36,412.18h1.1v1.1h-1.1zM417.8,397.03h1.1v1.1h-1.1zM425.41,404.52h1.1v1.1h-1.1zM430.98,398.76h1.1v1.1h-1.1zM421.07,403.09h1.1v1.1h-1.1zM394.13,400.54h1.1v1.1h-1.1zM405.23,403.1h1.1v1.1h-1.1zM401.01,409.2h1.1v1.1h-1.1zM396.03,404.26h1.1v1.1h-1.1zM415.1,405.64h1.1v1.1h-1.1zM411.32,405h1.1v1.1h-1.1zM429.86,397.73h1.1v1.1h-1.1zM426.81,398.85h1.1v1.1h-1.1zM433.9,405.95h1.1v1.1h-1.1zM420.21,399.1h1.1v1.1h-1.1zM411.03,400.02h1.1v1.1h-1.1zM430.38,393.95h1.1v1.1h-1.1zM425.49,396.31h1.1v1.1h-1.1zM415.98,396.99h1.1v1.1h-1.1zM427.47,396.8h1.1v1.1h-1.1zM419.27,401.85h1.1v1.1h-1.1zM419.58,399.97h1.1v1.1h-1.1zM426.37,404.29h1.1v1.1h-1.1zM419.26,393.77h1.1v1.1h-1.1zM423.92,396.7h1.1v1.1h-1.1zM416.3,406.7h1.1v1.1h-1.1zM421.19,400.46h1.1v1.1h-1.1zM428.55,391.53h1.1v1.1h-1.1zM425.44,401.75h1.1v1.1h-1.1zM432.69,396.94h1.1v1.1h-1.1zM425.37,392.96h1.1v1.1h-1.1zM434.49,401.04h1.1v1.1h-1.1zM421.27,406.91h1.1v1.1h-1.1zM423.3,403.44h1.1v1.1h-1.1zM417.83,402.18h1.1v1.1h-1.1zM414.15,406.01h1.1v1.1h-1.1zM436.89,398.12h1.1v1.1h-1.1zM402.03,403.43h1.1v1.1h-1.1zM405.33,406.82h1.1v1.1h-1.1zM425.79,399.78h1.1v1.1h-1.1zM417.34,396.25h1.1v1.1h-1.1zM431.2,401.23h1.1v1.1h-1.1zM418.92,406.4h1.1v1.1h-1.1zM423.15,398.33h1.1v1.1h-1.1zM402.45,407.84h1.1v1.1h-1.1zM403.66,402.05h1.1v1.1h-1.1zM413.41,399.94h1.1v1.1h-1.1zM423.55,397.21h1.1v1.1h-1.1zM413.59,403.36h1.1v1.1h-1.1zM419.39,401.49h1.1v1.1h-1.1zM416.97,405.04h1.1v1.1h-1.1zM426.3,400.9h1.1v1.1h-1.1zM434.37,397.19h1.1v1.1h-1.1zM403.81,400.15h1.1v1.1h-1.1zM412.34,406.11h1.1v1.1h-1.1zM409.5,407.94h1.1v1.1h-1.1zM414.78,400.25h1.1v1.1h-1.1zM410.19,407.03h1.1v1.1h-1.1zM424.23,399.63h1.1v1.1h-1.1zM413.9,401.83h1.1v1.1h-1.1zM407.48,404.41h1.1v1.1h-1.1zM413.07,397.02h1.1v1.1h-1.1zM417.83,402.94h1.1v1.1h-1.1zM390.51,413.84h1.1v1.1h-1.1zM393.72,413.16h1.1v1.1h-1.1zM418.96,398.91h1.1v1.1h-1.1zM414.47,400.07h1.1v1.1h-1.1zM422.56,398.33h1.1v1.1h-1.1zM398.5,405.84h1.1v1.1h-1.1zM418.56,402.46h1.1v1.1h-1.1zM419.72,406.21h1.1v1.1h-1.1zM418,401.18h1.1v1.1h-1.1zM421.81,402.23h1.1v1.1h-1.1zM417.91,398.61h1.1v1.1h-1.1zM425.59,408.08h1.1v1.1h-1.1zM436.17,401.14h1.1v1.1h-1.1zM424.98,403.37h1.1v1.1h-1.1zM425.51,399.08h1.1v1.1h-1.1zM421.51,399.48h1.1v1.1h-1.1zM424.37,397.9h1.1v1.1h-1.1zM426.67,398.8h1.1v1.1h-1.1zM423.05,402.57h1.1v1.1h-1.1zM397.2,406.46h1.1v1.1h-1.1zM435.36,397.29h1.1v1.1h-1.1zM415.56,402.35h1.1v1.1h-1.1zM432.93,402.35h1.1v1.1h-1.1zM440.15,391.46h1.1v1.1h-1.1zM404.63,406.81h1.1v1.1h-1.1zM418.76,400.57h1.1v1.1h-1.1zM413.41,407.93h1.1v1.1h-1.1zM419.31,400.47h1.1v1.1h-1.1zM409.91,404.7h1.1v1.1h-1.1zM406.02,398.3h1.1v1.1h-1.1zM413.2,403.33h1.1v1.1h-1.1zM412.73,408.07h1.1v1.1h-1.1zM393.9,410.41h1.1v1.1h-1.1zM402.74,404.11h1.1v1.1h-1.1zM426.67,398.69h1.1v1.1h-1.1zM414.61,398.77h1.1v1.1h-1.1zM412.84,402.83h1.1v1.1h-1.1zM416.83,402.94h1.1v1.1h-1.1zM417.93,396.93h1.1v1.1h-1.1zM427.61,399.04h1.1v1.1h-1.1zM424.48,405.51h1.1v1.1h-1.1zM413.52,401.06h1.1v1.1h-1.1zM418.16,408.66h1.1v1.1h-1.1zM427.89,397.66h1.1v1.1h-1.1zM402.35,406.57h1.1v1.1h-1.1zM423.97,394.04h1.1v1.1h-1.1zM403.23,408.77h1.1v1.1h-1.1zM433.57,399.94h1.1v1.1h-1.1zM413.81,405.1h1.1v1.1h-1.1zM416.62,398.52h1.1v1.1h-1.1zM423.5,404.81h1.1v1.1h-1.1zM414.01,394.97h1.1v1.1h-1.1zM388.46,409h1.1v1.1h-1.1zM408.12,408.43h1.1v1.1h-1.1zM399.48,396.57h1.1v1.1h-1.1zM402.18,404.33h1.1v1.1h-1.1zM407.39,401.44h1.1v1.1h-1.1zM422.71,397.55h1.1v1.1h-1.1zM402.98,401.83h1.1v1.1h-1.1zM422.01,398.76h1.1v1.1h-1.1zM410.59,406.32h1.1v1.1h-1.1zM419.7,401.7h1.1v1.1h-1.1zM399.16,403.31h1.1v1.1h-1.1zM418.45,404.78h1.1v1.1h-1.1zM407.38,404.24h1.1v1.1h-1.1zM422.55,400.56h1.1v1.1h-1.1zM421.09,393.84h1.1v1.1h-1.1zM421.27,398.19h1.1v1.1h-1.1zM402.61,406.85h1.1v1.1h-1.1zM412.62,405.18h1.1v1.1h-1.1zM417.19,401.29h1.1v1.1h-1.1zM421.01,404.24h1.1v1.1h-1.1zM416.23,399.65h1.1v1.1h-1.1zM412.01,402.8h1.1v1.1h-1.1zM415.81,400.59h1.1v1.1h-1.1zM422.94,396.51h1.1v1.1h-1.1zM415.72,400.6h1.1v1.1h-1.1zM420.74,401.89h1.1v1.1h-1.1zM410.49,401.68h1.1v1.1h-1.1zM426.54,398.7h1.1v1.1h-1.1zM402.82,402.92h1.1v1.1h-1.1zM417.53,398.26h1.1v1.1h-1.1zM430.49,401.82h1.1v1.1h-1.1zM411.14,402.25h1.1v1.1h-1.1zM423.64,408.31h1.1v1.1h-1.1zM419.47,394.42h1.1v1.1h-1.1zM409.52,400.56h1.1v1.1h-1.1zM426.04,399.43h1.1v1.1h-1.1zM418.55,399.1h1.1v1.1h-1.1zM430.25,406.63h1.1v1.1h-1.1zM410.03,397.55h1.1v1.1h-1.1zM413.64,398.13h1.1v1.1h-1.1zM426.17,392.57h1.1v1.1h-1.1zM403.84,405.1h1.1v1.1h-1.1zM421.71,404.92h1.1v1.1h-1.1zM401.22,404.86h1.1v1.1h-1.1zM404.23,403.82h1.1v1.1h-1.1zM416.26,400.04h1.1v1.1h-1.1zM422.91,391.28h1.1v1.1h-1.1zM416.39,402.3h1.1v1.1h-1.1zM423.57,396.08h1.1v1.1h-1.1zM421.52,401.6h1.1v1.1h-1.1zM428.72,408.72h1.1v1.1h-1.1zM417.46,410.42h1.1v1.1h-1.1zM407.04,400.58h1.1v1.1h-1.1zM410.51,408.98h1.1v1.1h-1.1zM413.96,408.85h1.1v1.1h-1.1zM408.15,398.37h1.1v1.1h-1.1zM395.67,411.55h1.1v1.1h-1.1zM411.43,398.63h1.1v1.1h-1.1zM429.78,403.61h1.1v1.1h-1.1zM416.17,403.86h1.1v1.1h-1.1zM423.39,397.87h1.1v1.1h-1.1zM416.53,402.65h1.1v1.1h-1.1zM415.21,403.7h1.1v1.1h-1.1zM421.14,398.25h1.1v1.1h-1.1zM401.82,406.77h1.1v1.1h-1.1zM425.44,400.82h1.1v1.1h-1.1zM436.35,394.07h1.1v1.1h-1.1zM397.78,410.18h1.1v1.1h-1.1zM416.91,403.64h1.1v1.1h-1.1zM413.24,400.73h1.1v1.1h-1.1zM409.75,402.48h1.1v1.1h-1.1zM432.86,404.11h1.1v1.1h-1.1zM434.53,384.63h1.1v1.1h-1.1zM428.43,400.15h1.1v1.1h-1.1zM436.39,403.67h1.1v1.1h-1.1zM417.14,405.11h1.1v1.1h-1.1zM405.53,408.65h1.1v1.1h-1.1zM411.62,399.58h1.1v1.1h-1.1zM423.44,399.33h1.1v1.1h-1.1zM420.73,403.9h1.1v1.1h-1.1zM414.78,405.85h1.1v1.1h-1.1zM415.99,404.83h1.1v1.1h-1.1zM431.76,395.91h1.1v1.1h-1.1zM417.81,399.25h1.1v1.1h-1.1zM405.88,403.27h1.1v1.1h-1.1zM430.96,402.25h1.1v1.1h-1.1zM407.48,402.37h1.1v1.1h-1.1zM413.55,403.64h1.1v1.1h-1.1zM413.77,397.93h1.1v1.1h-1.1zM431.65,400.41h1.1v1.1h-1.1zM425.16,391.12h1.1v1.1h-1.1zM420.31,403.49h1.1v1.1h-1.1zM416.23,401.3h1.1v1.1h-1.1zM418.7,403.9h1.1v1.1h-1.1zM426.03,404.83h1.1v1.1h-1.1zM420.41,405.55h1.1v1.1h-1.1zM418.26,400.58h1.1v1.1h-1.1zM416.68,402.2h1.1v1.1h-1.1zM399.73,406.26h1.1v1.1h-1.1zM425.45,397.07h1.1v1.1h-1.1zM412.19,403.36h1.1v1.1h-1.1zM422.55,395.99h1.1v1.1h-1.1zM420.98,399.15h1.1v1.1h-1.1zM422.73,392.43h1.1v1.1h-1.1zM422.3,401.69h1.1v1.1h-1.1zM408.22,405.31h1.1v1.1h-1.1zM426.15,399.31h1.1v1.1h-1.1zM416.88,402.4h1.1v1.1h-1.1zM426.64,400.47h1.1v1.1h-1.1zM403.01,397.8h1.1v1.1h-1.1zM421.77,399.35h1.1v1.1h-1.1zM408.96,403.02h1.1v1.1h-1.1zM412.17,398.62h1.1v1.1h-1.1zM428.71,400.4h1.1v1.1h-1.1zM428.12,398.48h1.1v1.1h-1.1zM425.01,403.07h1.1v1.1h-1.1zM425.68,398.94h1.1v1.1h-1.1zM419.58,398.01h1.1v1.1h-1.1zM411.47,398.22h1.1v1.1h-1.1zM417.5,402.74h1.1v1.1h-1.1zM430.31,393.75h1.1v1.1h-1.1zM431.57,403.04h1.1v1.1h-1.1zM425.42,395.13h1.1v1.1h-1.1zM432.48,396.06h1.1v1.1h-1.1zM421.81,394.14h1.1v1.1h-1.1zM424.8,403.42h1.1v1.1h-1.1zM414.18,410.79h1.1v1.1h-1.1zM430.28,402.1h1.1v1.1h-1.1zM410.6,405.39h1.1v1.1h-1.1zM415.73,403.85h1.1v1.1h-1.1zM413.76,402.12h1.1v1.1h-1.1zM431.49,395.82h1.1v1.1h-1.1zM411.58,401.9h1.1v1.1h-1.1zM426.58,400.66h1.1v1.1h-1.1zM406.04,405.18h1.1v1.1h-1.1zM431.78,388.35h1.1v1.1h-1.1zM419.33,408.72h1.1v1.1h-1.1zM410.89,395.75h1.1v1.1h-1.1zM439.76,401.39h1.1v1.1h-1.1zM420.87,399.13h1.1v1.1h-1.1zM422.17,399.93h1.1v1.1h-1.1zM417.09,402.87h1.1v1.1h-1.1zM408.31,402.96h1.1v1.1h-1.1zM417.68,402.74h1.1v1.1h-1.1zM413.17,411.36h1.1v1.1h-1.1zM407.83,422.05h0.9v0.9h-0.9zM412.05,422.05h0.9v0.9h-0.9zM425.37,422.05h0.9v0.9h-0.9zM408.17,422.05h0.9v0.9h-0.9zM429.54,422.05h0.9v0.9h-0.9zM435.47,422.05h0.9v0.9h-0.9zM404.9,422.05h0.9v0.9h-0.9zM414.69,422.05h0.9v0.9h-0.9zM401.88,422.05h0.9v0.9h-0.9zM418.14,422.05h0.9v0.9h-0.9z" fill="#1a1a1a"/>
<rect x="453.25" y="395.98" width="1.5" height="1.5" fill="#33d633"/>
<rect x="459.66" y="396.28" width="1.5" height="1.5" fill="#33d633"/>
<rect x="461.26" y="393.74" width="1.5" height="1.5" fill="#33d633"/>
<rect x="453.04" y="391.31" width="1.5" height="1.5" fill="#33d633"/>
<rect x="447.87" y="386.49" width="1.5" height="1.5" fill="#33d633"/>
<rect x="463.39" y="396.1" width="1.5" height="1.5" fill="#33d633"/>
<rect x="449.03" y="388.72" width="1.5" height="1.5" fill="#33d633"/>
<rect x="453.47" y="390.63" width="1.5" height="1.5" fill="#33d633"/>
<rect x="457.1" y="385.17" width="1.5" height="1.5" fill="#33d633"/>
<rect x="462.59" y="388.04" width="1.5" height="1.5" fill="#33d633"/>
<rect x="460.59" y="392.18" width="1.5" height="1.5" fill="#33d633"/>
<text x="448.8" y="403.1" font-size="5.7" text-anchor="start" fill="#333" >5.28%</text>
<path d="M383.5,379.12 L383.5,423.9 L465.5,423.9" stroke="#111" stroke-width="1.1" fill="none"/>
<line x1="380.3" y1="422.5" x2="383.5" y2="422.5" stroke="#111" stroke-width="0.9" />
<text x="378.5" y="425.1" font-size="6" text-anchor="end" fill="#222" textLength="9.8" lengthAdjust="spacingAndGlyphs" stroke="#222" stroke-width="0.2" >0.0</text>
<line x1="380.3" y1="415.47" x2="383.5" y2="415.47" stroke="#111" stroke-width="0.9" />
<text x="378.5" y="418.07" font-size="6" text-anchor="end" fill="#222" textLength="9.8" lengthAdjust="spacingAndGlyphs" stroke="#222" stroke-width="0.2" >1.0</text>
<line x1="380.3" y1="408.44" x2="383.5" y2="408.44" stroke="#111" stroke-width="0.9" />
<text x="378.5" y="411.04" font-size="6" text-anchor="end" fill="#222" textLength="9.8" lengthAdjust="spacingAndGlyphs" stroke="#222" stroke-width="0.2" >2.0</text>
<line x1="380.3" y1="401.41" x2="383.5" y2="401.41" stroke="#111" stroke-width="0.9" />
<text x="378.5" y="404.01" font-size="6" text-anchor="end" fill="#222" textLength="9.8" lengthAdjust="spacingAndGlyphs" stroke="#222" stroke-width="0.2" >3.0</text>
<line x1="380.3" y1="394.38" x2="383.5" y2="394.38" stroke="#111" stroke-width="0.9" />
<text x="378.5" y="396.98" font-size="6" text-anchor="end" fill="#222" textLength="9.8" lengthAdjust="spacingAndGlyphs" stroke="#222" stroke-width="0.2" >4.0</text>
<line x1="380.3" y1="387.35" x2="383.5" y2="387.35" stroke="#111" stroke-width="0.9" />
<text x="378.5" y="389.95" font-size="6" text-anchor="end" fill="#222" textLength="9.8" lengthAdjust="spacingAndGlyphs" stroke="#222" stroke-width="0.2" >5.0</text>
<line x1="380.3" y1="380.32" x2="383.5" y2="380.32" stroke="#111" stroke-width="0.9" />
<text x="378.5" y="382.92" font-size="6" text-anchor="end" fill="#222" textLength="9.8" lengthAdjust="spacingAndGlyphs" stroke="#222" stroke-width="0.2" >6.0</text>
<line x1="385.5" y1="423.9" x2="385.5" y2="427.5" stroke="#111" stroke-width="0.9" />
<text x="385.5" y="436.3" font-size="6" text-anchor="middle" fill="#222" textLength="9.6" lengthAdjust="spacingAndGlyphs" stroke="#222" stroke-width="0.2" >1.0</text>
<line x1="401.3" y1="423.9" x2="401.3" y2="427.5" stroke="#111" stroke-width="0.9" />
<text x="401.3" y="436.3" font-size="6" text-anchor="middle" fill="#222" textLength="9.6" lengthAdjust="spacingAndGlyphs" stroke="#222" stroke-width="0.2" >2.0</text>
<line x1="417.1" y1="423.9" x2="417.1" y2="427.5" stroke="#111" stroke-width="0.9" />
<text x="417.1" y="436.3" font-size="6" text-anchor="middle" fill="#222" textLength="9.6" lengthAdjust="spacingAndGlyphs" stroke="#222" stroke-width="0.2" >3.0</text>
<line x1="432.9" y1="423.9" x2="432.9" y2="427.5" stroke="#111" stroke-width="0.9" />
<text x="432.9" y="436.3" font-size="6" text-anchor="middle" fill="#222" textLength="9.6" lengthAdjust="spacingAndGlyphs" stroke="#222" stroke-width="0.2" >4.0</text>
<line x1="448.7" y1="423.9" x2="448.7" y2="427.5" stroke="#111" stroke-width="0.9" />
<text x="448.7" y="436.3" font-size="6" text-anchor="middle" fill="#222" textLength="9.6" lengthAdjust="spacingAndGlyphs" stroke="#222" stroke-width="0.2" >5.0</text>
<line x1="464.5" y1="423.9" x2="464.5" y2="427.5" stroke="#111" stroke-width="0.9" />
<text x="464.5" y="436.3" font-size="6" text-anchor="middle" fill="#222" textLength="9.6" lengthAdjust="spacingAndGlyphs" stroke="#222" stroke-width="0.2" >6.0</text>
<text transform="translate(362.6,401.41) rotate(-90)" font-size="8.6" font-style="italic" text-anchor="middle" fill="#222" stroke="#222" stroke-width="0.3" textLength="29.25" lengthAdjust="spacingAndGlyphs">GP9/CD42a</text>
<text x="424.4" y="447.2" font-size="8.6" text-anchor="middle" fill="#222" font-style="italic" textLength="33.6" lengthAdjust="spacingAndGlyphs" stroke="#222" stroke-width="0.3">ITGA2B/CD41</text>
<rect x="324.2" y="455.6" width="25.6" height="15" fill="#dcdcdc" />
<path d="M313.12,477.74h1.1v1.1h-1.1zM283.42,488.65h1.1v1.1h-1.1zM300.19,477.63h1.1v1.1h-1.1zM306.41,487.04h1.1v1.1h-1.1zM299.72,490.76h1.1v1.1h-1.1zM306.78,465.99h1.1v1.1h-1.1zM282.61,494.68h1.1v1.1h-1.1zM278.69,488.25h1.1v1.1h-1.1zM306.06,476.97h1.1v1.1h-1.1zM284.04,485.87h1.1v1.1h-1.1zM296.48,478.69h1.1v1.1h-1.1zM303.01,480.49h1.1v1.1h-1.1zM306,481.21h1.1v1.1h-1.1zM295.65,488.46h1.1v1.1h-1.1zM300.61,473.88h1.1v1.1h-1.1zM300.51,471.77h1.1v1.1h-1.1zM297.3,472.42h1.1v1.1h-1.1zM298.62,476.74h1.1v1.1h-1.1zM296.89,484.76h1.1v1.1h-1.1zM310.58,479.35h1.1v1.1h-1.1zM298.38,470h1.1v1.1h-1.1zM308.52,481.25h1.1v1.1h-1.1zM298.7,485.36h1.1v1.1h-1.1zM309.21,477.82h1.1v1.1h-1.1zM300.71,479.27h1.1v1.1h-1.1zM284.63,485.04h1.1v1.1h-1.1zM297.13,473.87h1.1v1.1h-1.1zM290.81,478.24h1.1v1.1h-1.1zM304.97,471.26h1.1v1.1h-1.1zM298.43,481.12h1.1v1.1h-1.1zM306.12,481.54h1.1v1.1h-1.1zM292,480.52h1.1v1.1h-1.1zM294.45,486.32h1.1v1.1h-1.1zM289.75,484.78h1.1v1.1h-1.1zM294.99,480.71h1.1v1.1h-1.1zM311.47,477.92h1.1v1.1h-1.1zM289.18,471.26h1.1v1.1h-1.1zM294.29,470.14h1.1v1.1h-1.1zM294.79,479.2h1.1v1.1h-1.1zM291.64,483.54h1.1v1.1h-1.1zM309.95,459.5h1.1v1.1h-1.1zM311.42,479.88h1.1v1.1h-1.1zM305.65,487.03h1.1v1.1h-1.1zM297.83,476.89h1.1v1.1h-1.1zM293.39,482.89h1.1v1.1h-1.1zM300.22,487.85h1.1v1.1h-1.1zM303.38,468.26h1.1v1.1h-1.1zM312.3,478.42h1.1v1.1h-1.1zM311.77,478.37h1.1v1.1h-1.1zM312.15,476.26h1.1v1.1h-1.1zM284.73,471.59h1.1v1.1h-1.1zM271.53,487.67h1.1v1.1h-1.1zM305.5,473.18h1.1v1.1h-1.1zM303.37,478.66h1.1v1.1h-1.1zM299.05,481.3h1.1v1.1h-1.1zM301.83,472.62h1.1v1.1h-1.1zM306.97,480.27h1.1v1.1h-1.1zM317.15,475.71h1.1v1.1h-1.1zM297.73,483.22h1.1v1.1h-1.1zM319.92,480.85h1.1v1.1h-1.1zM318.97,480.12h1.1v1.1h-1.1zM283.08,485.84h1.1v1.1h-1.1zM311.2,470.94h1.1v1.1h-1.1zM293.57,476.42h1.1v1.1h-1.1zM297.97,477.6h1.1v1.1h-1.1zM306.82,487.94h1.1v1.1h-1.1zM313.16,476.37h1.1v1.1h-1.1zM313.66,475.58h1.1v1.1h-1.1zM313.95,462.91h1.1v1.1h-1.1zM294.04,473.9h1.1v1.1h-1.1zM297.89,466.55h1.1v1.1h-1.1zM309.25,477.34h1.1v1.1h-1.1zM302.56,468.82h1.1v1.1h-1.1zM284.32,473.87h1.1v1.1h-1.1zM297.03,477.3h1.1v1.1h-1.1zM295.18,479.8h1.1v1.1h-1.1zM307.6,471.78h1.1v1.1h-1.1zM292.82,482.97h1.1v1.1h-1.1zM305.56,471.56h1.1v1.1h-1.1zM287.66,479.69h1.1v1.1h-1.1zM296.8,483.21h1.1v1.1h-1.1zM303.84,478.57h1.1v1.1h-1.1zM304.62,487.88h1.1v1.1h-1.1zM305.47,473.83h1.1v1.1h-1.1zM290.72,468.3h1.1v1.1h-1.1zM284.64,477.57h1.1v1.1h-1.1zM302.54,478.08h1.1v1.1h-1.1zM302.25,470.27h1.1v1.1h-1.1zM278.29,479.91h1.1v1.1h-1.1zM307.02,486.34h1.1v1.1h-1.1zM328.18,473.97h1.1v1.1h-1.1zM303.34,480.65h1.1v1.1h-1.1zM294.68,478.59h1.1v1.1h-1.1zM289.62,486.46h1.1v1.1h-1.1zM303.56,477.41h1.1v1.1h-1.1zM284.45,480.86h1.1v1.1h-1.1zM289.24,477.86h1.1v1.1h-1.1zM288.23,489.17h1.1v1.1h-1.1zM296.71,486.44h1.1v1.1h-1.1zM310.42,466.3h1.1v1.1h-1.1zM307.11,477h1.1v1.1h-1.1zM305.24,470.67h1.1v1.1h-1.1zM296.04,482.33h1.1v1.1h-1.1zM285.16,483.35h1.1v1.1h-1.1zM298.05,482.19h1.1v1.1h-1.1zM298.48,484.74h1.1v1.1h-1.1zM295.42,478.36h1.1v1.1h-1.1zM308.25,485.05h1.1v1.1h-1.1zM304.91,485.43h1.1v1.1h-1.1zM308.48,473.75h1.1v1.1h-1.1zM304.25,477.31h1.1v1.1h-1.1zM299.77,479.61h1.1v1.1h-1.1zM297.24,478.95h1.1v1.1h-1.1zM310.18,476.22h1.1v1.1h-1.1zM308.16,478.56h1.1v1.1h-1.1zM287.56,465.04h1.1v1.1h-1.1zM309.5,480.48h1.1v1.1h-1.1zM290.21,491.28h1.1v1.1h-1.1zM299.29,479.35h1.1v1.1h-1.1zM287.67,475.3h1.1v1.1h-1.1zM311.54,478.63h1.1v1.1h-1.1zM290.46,478.28h1.1v1.1h-1.1zM297.89,480.8h1.1v1.1h-1.1zM323.49,482.7h1.1v1.1h-1.1zM300.96,479.2h1.1v1.1h-1.1zM297.29,476.88h1.1v1.1h-1.1zM302.52,491.48h1.1v1.1h-1.1zM273.97,489.19h1.1v1.1h-1.1zM300.77,475.31h1.1v1.1h-1.1zM290.61,476.94h1.1v1.1h-1.1zM307.84,464.63h1.1v1.1h-1.1zM299.8,484.71h1.1v1.1h-1.1zM301.1,474.29h1.1v1.1h-1.1zM286.83,476.73h1.1v1.1h-1.1zM304.23,493.68h1.1v1.1h-1.1zM306.2,476.25h1.1v1.1h-1.1zM279.64,473.26h1.1v1.1h-1.1zM282.54,480.53h1.1v1.1h-1.1zM305.7,484.43h1.1v1.1h-1.1zM285.87,474.96h1.1v1.1h-1.1zM296.16,465.06h1.1v1.1h-1.1zM277.26,483.19h1.1v1.1h-1.1zM290.64,487.69h1.1v1.1h-1.1zM302.57,481.02h1.1v1.1h-1.1zM297.27,473.04h1.1v1.1h-1.1zM302.8,482.57h1.1v1.1h-1.1zM300.65,482.03h1.1v1.1h-1.1zM292.39,475.5h1.1v1.1h-1.1zM296.78,487.59h1.1v1.1h-1.1zM309.81,485.25h1.1v1.1h-1.1zM289.63,476.66h1.1v1.1h-1.1zM282.32,475.1h1.1v1.1h-1.1zM297.41,476.37h1.1v1.1h-1.1zM300.05,474.81h1.1v1.1h-1.1zM305.99,487.12h1.1v1.1h-1.1zM300.09,473.03h1.1v1.1h-1.1zM322.25,484.65h1.1v1.1h-1.1zM304.34,463.93h1.1v1.1h-1.1zM287.78,468.12h1.1v1.1h-1.1zM316.52,474.25h1.1v1.1h-1.1zM318.2,481.03h1.1v1.1h-1.1zM293.89,482.39h1.1v1.1h-1.1zM301.94,464.3h1.1v1.1h-1.1zM305.05,481.76h1.1v1.1h-1.1zM291.17,474.25h1.1v1.1h-1.1zM297.2,476.05h1.1v1.1h-1.1zM303.44,481.04h1.1v1.1h-1.1zM292.08,485.88h1.1v1.1h-1.1zM277.45,481.87h1.1v1.1h-1.1zM299.24,490.43h1.1v1.1h-1.1zM320.06,474.2h1.1v1.1h-1.1zM299.86,479.78h1.1v1.1h-1.1zM302.52,469.06h1.1v1.1h-1.1zM309.26,483.28h1.1v1.1h-1.1zM303.43,480.54h1.1v1.1h-1.1zM298.47,468.35h1.1v1.1h-1.1zM301.91,483.4h1.1v1.1h-1.1zM288.84,484.67h1.1v1.1h-1.1zM298.95,486.01h1.1v1.1h-1.1zM291.78,471.68h1.1v1.1h-1.1zM296.21,485.88h1.1v1.1h-1.1zM297.8,484.72h1.1v1.1h-1.1zM292.53,481.11h1.1v1.1h-1.1zM293.27,475.55h1.1v1.1h-1.1zM307.98,475.05h1.1v1.1h-1.1zM293.81,476.38h1.1v1.1h-1.1zM275.76,485.13h1.1v1.1h-1.1zM305.24,482.67h1.1v1.1h-1.1zM302.93,476.93h1.1v1.1h-1.1zM313.97,483.56h1.1v1.1h-1.1zM298.02,493.5h1.1v1.1h-1.1zM294.17,478.53h1.1v1.1h-1.1zM309.26,474.22h1.1v1.1h-1.1zM300.29,482.09h1.1v1.1h-1.1zM295.48,479.5h1.1v1.1h-1.1zM302.92,471.23h1.1v1.1h-1.1zM284.02,494.88h1.1v1.1h-1.1zM296.26,476.23h1.1v1.1h-1.1zM306.44,476.69h1.1v1.1h-1.1zM300.31,479.41h1.1v1.1h-1.1zM310.16,472.32h1.1v1.1h-1.1zM276.25,480.83h1.1v1.1h-1.1zM294.99,480.34h1.1v1.1h-1.1zM310.33,469.73h1.1v1.1h-1.1zM318.24,477.04h1.1v1.1h-1.1zM300.75,473.68h1.1v1.1h-1.1zM288.72,479.34h1.1v1.1h-1.1zM298.43,476.33h1.1v1.1h-1.1zM322.5,472.76h1.1v1.1h-1.1zM287.29,475.68h1.1v1.1h-1.1zM301.22,476.36h1.1v1.1h-1.1zM309.83,477.41h1.1v1.1h-1.1zM303.81,486.03h1.1v1.1h-1.1zM301.06,472.23h1.1v1.1h-1.1zM292.61,482.11h1.1v1.1h-1.1zM275.36,480.03h1.1v1.1h-1.1zM298.76,483.01h1.1v1.1h-1.1zM314.75,481.15h1.1v1.1h-1.1zM292.96,479.59h1.1v1.1h-1.1zM295.79,483.8h1.1v1.1h-1.1zM293.52,480.03h1.1v1.1h-1.1zM274.67,476.39h1.1v1.1h-1.1zM288.79,486.17h1.1v1.1h-1.1zM287.73,488.23h1.1v1.1h-1.1zM292.41,484.17h1.1v1.1h-1.1zM303.32,470.59h1.1v1.1h-1.1zM320.25,480.75h1.1v1.1h-1.1zM290.41,481.15h1.1v1.1h-1.1zM296.8,481.21h1.1v1.1h-1.1zM280.16,483.43h1.1v1.1h-1.1zM304.54,479.15h1.1v1.1h-1.1zM303.68,472.01h1.1v1.1h-1.1zM277.38,494.36h1.1v1.1h-1.1zM304.34,476.6h1.1v1.1h-1.1zM279.95,482.63h1.1v1.1h-1.1zM310.53,476.26h1.1v1.1h-1.1zM296.9,486.48h1.1v1.1h-1.1zM301.6,477.05h1.1v1.1h-1.1zM300.67,486.81h1.1v1.1h-1.1zM283.25,485.25h1.1v1.1h-1.1zM300.66,485.69h1.1v1.1h-1.1zM283.1,472.61h1.1v1.1h-1.1zM316.98,471.07h1.1v1.1h-1.1zM286.35,480.51h1.1v1.1h-1.1zM299.64,464.74h1.1v1.1h-1.1zM296.48,475.11h1.1v1.1h-1.1zM321.72,470.24h1.1v1.1h-1.1zM301.48,480.99h1.1v1.1h-1.1zM305.27,474.33h1.1v1.1h-1.1zM312.68,475.6h1.1v1.1h-1.1zM310.11,485.53h1.1v1.1h-1.1zM296.46,475.15h1.1v1.1h-1.1zM298.24,471.49h1.1v1.1h-1.1zM294.1,480.09h1.1v1.1h-1.1zM310.97,483.33h1.1v1.1h-1.1zM308.15,483.31h1.1v1.1h-1.1zM282.47,482.97h1.1v1.1h-1.1zM304.23,470.7h1.1v1.1h-1.1zM290.33,481.6h1.1v1.1h-1.1zM292.74,480.98h1.1v1.1h-1.1zM296.3,482.7h1.1v1.1h-1.1zM296.17,479.64h1.1v1.1h-1.1zM294.85,481.31h1.1v1.1h-1.1zM300.71,480.45h1.1v1.1h-1.1zM303.05,483.82h1.1v1.1h-1.1zM309.34,479.17h1.1v1.1h-1.1zM310,470.17h1.1v1.1h-1.1zM300.59,468.03h1.1v1.1h-1.1zM291,480.72h1.1v1.1h-1.1zM293.06,483.37h1.1v1.1h-1.1zM299.32,477.12h1.1v1.1h-1.1zM300.36,475.11h1.1v1.1h-1.1zM306.03,472.86h1.1v1.1h-1.1zM285.46,479.94h1.1v1.1h-1.1zM283.66,485.91h1.1v1.1h-1.1zM290.21,486.17h1.1v1.1h-1.1zM303.53,481.53h1.1v1.1h-1.1zM299.48,478.69h1.1v1.1h-1.1zM319.21,482.43h1.1v1.1h-1.1zM281.73,476.77h1.1v1.1h-1.1zM275.8,490.02h1.1v1.1h-1.1zM307.93,481.13h1.1v1.1h-1.1zM297.65,473.68h1.1v1.1h-1.1zM317.29,497.95h0.9v0.9h-0.9zM297.78,497.95h0.9v0.9h-0.9zM293.53,497.95h0.9v0.9h-0.9zM280,497.95h0.9v0.9h-0.9zM294.44,497.95h0.9v0.9h-0.9zM316.06,497.95h0.9v0.9h-0.9zM295.81,497.95h0.9v0.9h-0.9zM310.85,497.95h0.9v0.9h-0.9zM314.92,497.95h0.9v0.9h-0.9zM316.54,497.95h0.9v0.9h-0.9z" fill="#1a1a1a"/>
<rect x="342.26" y="462.57" width="1.5" height="1.5" fill="#33d633"/>
<rect x="332.48" y="467.44" width="1.5" height="1.5" fill="#33d633"/>
<rect x="343.89" y="465.28" width="1.5" height="1.5" fill="#33d633"/>
<rect x="326.96" y="464.23" width="1.5" height="1.5" fill="#33d633"/>
<rect x="341.29" y="458.58" width="1.5" height="1.5" fill="#33d633"/>
<rect x="333.08" y="462.1" width="1.5" height="1.5" fill="#33d633"/>
<rect x="331.43" y="458.28" width="1.5" height="1.5" fill="#33d633"/>
<rect x="329.14" y="462.13" width="1.5" height="1.5" fill="#33d633"/>
<rect x="326" y="465.83" width="1.5" height="1.5" fill="#33d633"/>
<rect x="335.13" y="460.17" width="1.5" height="1.5" fill="#33d633"/>
<rect x="331.38" y="460.58" width="1.5" height="1.5" fill="#33d633"/>
<text x="333.2" y="475.6" font-size="5.7" text-anchor="start" fill="#333" >5.28%</text>
<path d="M266.4,455.7 L266.4,501.2 L349.3,501.2" stroke="#111" stroke-width="1.1" fill="none"/>
<line x1="263.2" y1="498.4" x2="266.4" y2="498.4" stroke="#111" stroke-width="0.9" />
<text x="261.4" y="501" font-size="6" text-anchor="end" fill="#222" textLength="9.8" lengthAdjust="spacingAndGlyphs" stroke="#222" stroke-width="0.2" >0.0</text>
<line x1="263.2" y1="490.1" x2="266.4" y2="490.1" stroke="#111" stroke-width="0.9" />
<text x="261.4" y="492.7" font-size="6" text-anchor="end" fill="#222" textLength="9.8" lengthAdjust="spacingAndGlyphs" stroke="#222" stroke-width="0.2" >1.0</text>
<line x1="263.2" y1="481.8" x2="266.4" y2="481.8" stroke="#111" stroke-width="0.9" />
<text x="261.4" y="484.4" font-size="6" text-anchor="end" fill="#222" textLength="9.8" lengthAdjust="spacingAndGlyphs" stroke="#222" stroke-width="0.2" >2.0</text>
<line x1="263.2" y1="473.5" x2="266.4" y2="473.5" stroke="#111" stroke-width="0.9" />
<text x="261.4" y="476.1" font-size="6" text-anchor="end" fill="#222" textLength="9.8" lengthAdjust="spacingAndGlyphs" stroke="#222" stroke-width="0.2" >3.0</text>
<line x1="263.2" y1="465.2" x2="266.4" y2="465.2" stroke="#111" stroke-width="0.9" />
<text x="261.4" y="467.8" font-size="6" text-anchor="end" fill="#222" textLength="9.8" lengthAdjust="spacingAndGlyphs" stroke="#222" stroke-width="0.2" >4.0</text>
<line x1="263.2" y1="456.9" x2="266.4" y2="456.9" stroke="#111" stroke-width="0.9" />
<text x="261.4" y="459.5" font-size="6" text-anchor="end" fill="#222" textLength="9.8" lengthAdjust="spacingAndGlyphs" stroke="#222" stroke-width="0.2" >5.0</text>
<line x1="268.3" y1="501.2" x2="268.3" y2="504.8" stroke="#111" stroke-width="0.9" />
<text x="268.3" y="513.6" font-size="6" text-anchor="middle" fill="#222" textLength="9.6" lengthAdjust="spacingAndGlyphs" stroke="#222" stroke-width="0.2" >1.0</text>
<line x1="284.3" y1="501.2" x2="284.3" y2="504.8" stroke="#111" stroke-width="0.9" />
<text x="284.3" y="513.6" font-size="6" text-anchor="middle" fill="#222" textLength="9.6" lengthAdjust="spacingAndGlyphs" stroke="#222" stroke-width="0.2" >2.0</text>
<line x1="300.3" y1="501.2" x2="300.3" y2="504.8" stroke="#111" stroke-width="0.9" />
<text x="300.3" y="513.6" font-size="6" text-anchor="middle" fill="#222" textLength="9.6" lengthAdjust="spacingAndGlyphs" stroke="#222" stroke-width="0.2" >3.0</text>
<line x1="316.3" y1="501.2" x2="316.3" y2="504.8" stroke="#111" stroke-width="0.9" />
<text x="316.3" y="513.6" font-size="6" text-anchor="middle" fill="#222" textLength="9.6" lengthAdjust="spacingAndGlyphs" stroke="#222" stroke-width="0.2" >4.0</text>
<line x1="332.3" y1="501.2" x2="332.3" y2="504.8" stroke="#111" stroke-width="0.9" />
<text x="332.3" y="513.6" font-size="6" text-anchor="middle" fill="#222" textLength="9.6" lengthAdjust="spacingAndGlyphs" stroke="#222" stroke-width="0.2" >5.0</text>
<line x1="348.3" y1="501.2" x2="348.3" y2="504.8" stroke="#111" stroke-width="0.9" />
<text x="348.3" y="513.6" font-size="6" text-anchor="middle" fill="#222" textLength="9.6" lengthAdjust="spacingAndGlyphs" stroke="#222" stroke-width="0.2" >6.0</text>
<text transform="translate(245.5,477.65) rotate(-90)" font-size="8.6" font-style="italic" text-anchor="middle" fill="#222" stroke="#222" stroke-width="0.3" textLength="14.5" lengthAdjust="spacingAndGlyphs">NEO1</text>
<text x="307.7" y="524.5" font-size="8.6" text-anchor="middle" fill="#222" font-style="italic" textLength="33.6" lengthAdjust="spacingAndGlyphs" stroke="#222" stroke-width="0.3">ITGA2B/CD41</text>
<rect x="443.4" y="455.7" width="23.6" height="17.8" fill="#dcdcdc" />
<path d="M402.54,481.96h1.1v1.1h-1.1zM400.95,477.57h1.1v1.1h-1.1zM398.71,482.44h1.1v1.1h-1.1zM414.18,481.74h1.1v1.1h-1.1zM426.72,473.64h1.1v1.1h-1.1zM432.06,469.2h1.1v1.1h-1.1zM429.43,467.7h1.1v1.1h-1.1zM413.18,475.53h1.1v1.1h-1.1zM414.38,478.49h1.1v1.1h-1.1zM408.95,475.45h1.1v1.1h-1.1zM407.82,480.77h1.1v1.1h-1.1zM406.63,482.86h1.1v1.1h-1.1zM431.58,473.86h1.1v1.1h-1.1zM405.17,477.12h1.1v1.1h-1.1zM404.72,474.17h1.1v1.1h-1.1zM400.46,480.99h1.1v1.1h-1.1zM423.76,478.84h1.1v1.1h-1.1zM425.77,476.39h1.1v1.1h-1.1zM409.18,483.64h1.1v1.1h-1.1zM396.41,480.12h1.1v1.1h-1.1zM415.47,474.74h1.1v1.1h-1.1zM424.97,477.43h1.1v1.1h-1.1zM431.02,474.08h1.1v1.1h-1.1zM416.37,474.76h1.1v1.1h-1.1zM423.36,476.12h1.1v1.1h-1.1zM423.46,471.62h1.1v1.1h-1.1zM413.76,480.62h1.1v1.1h-1.1zM434.89,470.78h1.1v1.1h-1.1zM412.25,479.5h1.1v1.1h-1.1zM427.95,475.42h1.1v1.1h-1.1zM417.18,477.38h1.1v1.1h-1.1zM410.18,472.93h1.1v1.1h-1.1zM409.79,481.9h1.1v1.1h-1.1zM415.75,477.06h1.1v1.1h-1.1zM418.62,476.47h1.1v1.1h-1.1zM417.1,473.6h1.1v1.1h-1.1zM411.74,477.26h1.1v1.1h-1.1zM411.24,476.66h1.1v1.1h-1.1zM411.51,474.97h1.1v1.1h-1.1zM431.58,469.52h1.1v1.1h-1.1zM423.85,474.29h1.1v1.1h-1.1zM425.38,476.23h1.1v1.1h-1.1zM425.49,475.17h1.1v1.1h-1.1zM403.34,479.49h1.1v1.1h-1.1zM389.32,477.02h1.1v1.1h-1.1zM400.69,476.57h1.1v1.1h-1.1zM406.51,478.5h1.1v1.1h-1.1zM430.73,478.74h1.1v1.1h-1.1zM431.38,472.67h1.1v1.1h-1.1zM416.98,479.67h1.1v1.1h-1.1zM402.28,476.6h1.1v1.1h-1.1zM423.51,471.93h1.1v1.1h-1.1zM423.4,469.13h1.1v1.1h-1.1zM419.09,478.59h1.1v1.1h-1.1zM419.73,479.17h1.1v1.1h-1.1zM412.08,479h1.1v1.1h-1.1zM418.83,479.99h1.1v1.1h-1.1zM425.19,474.43h1.1v1.1h-1.1zM401.09,476.57h1.1v1.1h-1.1zM415.63,471.39h1.1v1.1h-1.1zM420.52,476.83h1.1v1.1h-1.1zM415.4,478.91h1.1v1.1h-1.1zM415.18,473.79h1.1v1.1h-1.1zM419.46,479.77h1.1v1.1h-1.1zM404.29,475.86h1.1v1.1h-1.1zM419.38,477.44h1.1v1.1h-1.1zM425.43,477.03h1.1v1.1h-1.1zM402.36,483.7h1.1v1.1h-1.1zM419.43,472.37h1.1v1.1h-1.1zM416.15,476.83h1.1v1.1h-1.1zM406.04,476.15h1.1v1.1h-1.1zM404.33,477.74h1.1v1.1h-1.1zM419.45,476.86h1.1v1.1h-1.1zM414.98,478.94h1.1v1.1h-1.1zM427.2,472.29h1.1v1.1h-1.1zM425.01,472.04h1.1v1.1h-1.1zM422.46,472.16h1.1v1.1h-1.1zM440.47,463.62h1.1v1.1h-1.1zM419.64,472.46h1.1v1.1h-1.1zM403.64,481.7h1.1v1.1h-1.1zM431.25,468.9h1.1v1.1h-1.1zM413.5,476h1.1v1.1h-1.1zM402.82,477.41h1.1v1.1h-1.1zM405.29,474.97h1.1v1.1h-1.1zM409.08,472.77h1.1v1.1h-1.1zM435.05,474.51h1.1v1.1h-1.1zM427.21,472.77h1.1v1.1h-1.1zM406.11,479.05h1.1v1.1h-1.1zM422.38,471.35h1.1v1.1h-1.1zM421.5,473.95h1.1v1.1h-1.1zM395.5,475.59h1.1v1.1h-1.1zM409.31,481.57h1.1v1.1h-1.1zM429.06,475.58h1.1v1.1h-1.1zM415.8,479.74h1.1v1.1h-1.1zM422.97,480.66h1.1v1.1h-1.1zM442.19,470.69h1.1v1.1h-1.1zM431.98,472.07h1.1v1.1h-1.1zM433.15,470.48h1.1v1.1h-1.1zM411.24,476.71h1.1v1.1h-1.1zM421.2,477.1h1.1v1.1h-1.1zM425.4,476.04h1.1v1.1h-1.1zM405.56,479.74h1.1v1.1h-1.1zM417.39,478.82h1.1v1.1h-1.1zM408.76,478.08h1.1v1.1h-1.1zM413.89,475.58h1.1v1.1h-1.1zM416.02,473.96h1.1v1.1h-1.1zM414.38,478.24h1.1v1.1h-1.1zM433.36,466.08h1.1v1.1h-1.1zM413.74,477.81h1.1v1.1h-1.1zM428.85,477.35h1.1v1.1h-1.1zM395.03,485.65h1.1v1.1h-1.1zM410.79,477.81h1.1v1.1h-1.1zM421.4,475.1h1.1v1.1h-1.1zM403.12,478.26h1.1v1.1h-1.1zM418.75,476.74h1.1v1.1h-1.1zM421.08,474.69h1.1v1.1h-1.1zM399.85,474.55h1.1v1.1h-1.1zM417.28,476.95h1.1v1.1h-1.1zM410.83,478.47h1.1v1.1h-1.1zM418.16,473.31h1.1v1.1h-1.1zM416.85,473.69h1.1v1.1h-1.1zM418.28,473.17h1.1v1.1h-1.1zM404.81,480.81h1.1v1.1h-1.1zM415.48,478.84h1.1v1.1h-1.1zM430.7,472.55h1.1v1.1h-1.1zM413.76,474.95h1.1v1.1h-1.1zM394.38,477.1h1.1v1.1h-1.1zM402.51,481.98h1.1v1.1h-1.1zM429.85,472.37h1.1v1.1h-1.1zM409.87,483.3h1.1v1.1h-1.1zM416.88,477.11h1.1v1.1h-1.1zM418.63,475.83h1.1v1.1h-1.1zM418.21,479.2h1.1v1.1h-1.1zM440.55,474.22h1.1v1.1h-1.1zM416.57,477.46h1.1v1.1h-1.1zM413.34,478.1h1.1v1.1h-1.1zM411.51,476.6h1.1v1.1h-1.1zM415.51,475.53h1.1v1.1h-1.1zM411.99,477.53h1.1v1.1h-1.1zM417.41,470.91h1.1v1.1h-1.1zM412.79,473.28h1.1v1.1h-1.1zM426.95,477.17h1.1v1.1h-1.1zM427.31,480.18h1.1v1.1h-1.1zM416.86,474.26h1.1v1.1h-1.1zM441.1,471.21h1.1v1.1h-1.1zM405.74,472.46h1.1v1.1h-1.1zM423.38,473.67h1.1v1.1h-1.1zM420.01,476.54h1.1v1.1h-1.1zM421.67,476.75h1.1v1.1h-1.1zM417.36,477.59h1.1v1.1h-1.1zM402.34,479.3h1.1v1.1h-1.1zM396.28,482.69h1.1v1.1h-1.1zM433.43,471.6h1.1v1.1h-1.1zM424.64,477.38h1.1v1.1h-1.1zM418.41,470.56h1.1v1.1h-1.1zM408.94,476.88h1.1v1.1h-1.1zM419.34,480.62h1.1v1.1h-1.1zM422.4,478.07h1.1v1.1h-1.1zM419.03,475.64h1.1v1.1h-1.1zM413.82,477.08h1.1v1.1h-1.1zM412.42,478.21h1.1v1.1h-1.1zM417.01,476.72h1.1v1.1h-1.1zM413.79,478.78h1.1v1.1h-1.1zM429.07,473.57h1.1v1.1h-1.1zM395.47,481.35h1.1v1.1h-1.1zM410.55,469.78h1.1v1.1h-1.1zM415.81,475.61h1.1v1.1h-1.1zM414.7,473.84h1.1v1.1h-1.1zM413.32,477.55h1.1v1.1h-1.1zM432.33,475.75h1.1v1.1h-1.1zM415.76,485.25h1.1v1.1h-1.1zM432.42,471.37h1.1v1.1h-1.1zM420.89,476.76h1.1v1.1h-1.1zM410.43,476.5h1.1v1.1h-1.1zM427.69,475.35h1.1v1.1h-1.1zM420.68,477.33h1.1v1.1h-1.1zM402.1,482.25h1.1v1.1h-1.1zM411.93,475.26h1.1v1.1h-1.1zM429.92,471.25h1.1v1.1h-1.1zM410.47,476.47h1.1v1.1h-1.1zM412.54,474.74h1.1v1.1h-1.1zM427.04,471.18h1.1v1.1h-1.1zM420.96,473.58h1.1v1.1h-1.1zM395.63,473.92h1.1v1.1h-1.1zM414.73,478.6h1.1v1.1h-1.1zM431.12,478.92h1.1v1.1h-1.1zM407.21,473.59h1.1v1.1h-1.1zM407.1,480.99h1.1v1.1h-1.1zM430.12,475.82h1.1v1.1h-1.1zM401.26,485.09h1.1v1.1h-1.1zM411.7,476.89h1.1v1.1h-1.1zM434.18,472.23h1.1v1.1h-1.1zM394.67,479.77h1.1v1.1h-1.1zM424.92,474.83h1.1v1.1h-1.1zM421.12,471.58h1.1v1.1h-1.1zM421.65,474.96h1.1v1.1h-1.1zM424.87,473.33h1.1v1.1h-1.1zM409.91,476.95h1.1v1.1h-1.1zM409.59,482.34h1.1v1.1h-1.1zM423.47,477.99h1.1v1.1h-1.1zM417.18,481.38h1.1v1.1h-1.1zM415.35,479.06h1.1v1.1h-1.1zM398.45,482.63h1.1v1.1h-1.1zM416.87,473.37h1.1v1.1h-1.1zM431.46,472.77h1.1v1.1h-1.1zM425.59,472.17h1.1v1.1h-1.1zM418.73,474.41h1.1v1.1h-1.1zM424.11,476.33h1.1v1.1h-1.1zM433.95,473.77h1.1v1.1h-1.1zM405.91,480.29h1.1v1.1h-1.1zM404.83,483.1h1.1v1.1h-1.1zM421.66,471.7h1.1v1.1h-1.1zM415.78,474.5h1.1v1.1h-1.1zM420.47,470.27h1.1v1.1h-1.1zM427.3,475.22h1.1v1.1h-1.1zM419.76,473.9h1.1v1.1h-1.1zM412.97,474.32h1.1v1.1h-1.1zM426.62,476.49h1.1v1.1h-1.1zM401.31,479.26h1.1v1.1h-1.1zM421.31,472.65h1.1v1.1h-1.1zM412.9,476.61h1.1v1.1h-1.1zM411.74,473.63h1.1v1.1h-1.1zM409.78,479.09h1.1v1.1h-1.1zM429.44,471.78h1.1v1.1h-1.1zM417.2,475.87h1.1v1.1h-1.1zM433.94,473.6h1.1v1.1h-1.1zM425.49,475.32h1.1v1.1h-1.1zM419.37,481.38h1.1v1.1h-1.1zM414.66,477.2h1.1v1.1h-1.1zM415.03,473.72h1.1v1.1h-1.1zM403.44,477.58h1.1v1.1h-1.1zM419.7,473.63h1.1v1.1h-1.1zM427.64,473.44h1.1v1.1h-1.1zM422.55,473.49h1.1v1.1h-1.1zM437.56,471.07h1.1v1.1h-1.1zM418.48,472.32h1.1v1.1h-1.1zM413.85,477.21h1.1v1.1h-1.1zM397.77,481.78h1.1v1.1h-1.1zM417.76,471.8h1.1v1.1h-1.1zM414.41,480.44h1.1v1.1h-1.1zM408.46,475.19h1.1v1.1h-1.1zM410.83,480.22h1.1v1.1h-1.1zM415.12,481.45h1.1v1.1h-1.1zM416.76,479.35h1.1v1.1h-1.1zM420.76,473.87h1.1v1.1h-1.1zM412.61,473.42h1.1v1.1h-1.1zM425.44,473.4h1.1v1.1h-1.1zM424.79,471.53h1.1v1.1h-1.1zM422.83,469.63h1.1v1.1h-1.1zM426.14,473.1h1.1v1.1h-1.1zM416.26,481.91h1.1v1.1h-1.1zM396.3,476.1h1.1v1.1h-1.1zM426.83,476.67h1.1v1.1h-1.1zM413.19,475.25h1.1v1.1h-1.1zM415.21,477.49h1.1v1.1h-1.1zM411.97,478.94h1.1v1.1h-1.1zM422.48,471.18h1.1v1.1h-1.1zM413.76,476.19h1.1v1.1h-1.1zM428.18,469.54h1.1v1.1h-1.1zM402.08,476.01h1.1v1.1h-1.1zM416.02,476.5h1.1v1.1h-1.1zM408.53,474.59h1.1v1.1h-1.1zM416.87,474.58h1.1v1.1h-1.1zM426.34,474.14h1.1v1.1h-1.1zM410.24,480.27h1.1v1.1h-1.1zM424.49,474.68h1.1v1.1h-1.1zM432.19,472.04h1.1v1.1h-1.1zM409.43,483.04h1.1v1.1h-1.1zM421.89,473.91h1.1v1.1h-1.1zM407.92,477.7h1.1v1.1h-1.1zM420.8,474.13h1.1v1.1h-1.1zM427.79,472.98h1.1v1.1h-1.1zM418.4,475.3h1.1v1.1h-1.1zM430.75,470.59h1.1v1.1h-1.1zM410.53,479.69h1.1v1.1h-1.1zM417.77,476.82h1.1v1.1h-1.1zM394.51,477.55h1.1v1.1h-1.1zM422.53,474.4h1.1v1.1h-1.1zM406.56,478.02h1.1v1.1h-1.1zM435.71,469.78h1.1v1.1h-1.1zM420.34,479.23h1.1v1.1h-1.1zM404.57,476.9h1.1v1.1h-1.1zM402.45,479.25h1.1v1.1h-1.1zM408.04,473.13h1.1v1.1h-1.1zM408.67,478.19h1.1v1.1h-1.1zM400.3,482.33h1.1v1.1h-1.1zM406.95,478.26h1.1v1.1h-1.1zM400.53,480.9h1.1v1.1h-1.1zM426.05,468.56h1.1v1.1h-1.1zM412.3,498.15h0.9v0.9h-0.9zM412.67,498.15h0.9v0.9h-0.9zM416.72,498.15h0.9v0.9h-0.9zM426.4,498.15h0.9v0.9h-0.9zM402.7,498.15h0.9v0.9h-0.9zM403.21,498.15h0.9v0.9h-0.9zM415.47,498.15h0.9v0.9h-0.9zM396.45,498.15h0.9v0.9h-0.9zM413.32,498.15h0.9v0.9h-0.9zM400.98,498.15h0.9v0.9h-0.9z" fill="#1a1a1a"/>
<rect x="449" y="462.24" width="1.5" height="1.5" fill="#33d633"/>
<rect x="463.36" y="465.64" width="1.5" height="1.5" fill="#33d633"/>
<rect x="450.67" y="466" width="1.5" height="1.5" fill="#33d633"/>
<rect x="455.41" y="457.23" width="1.5" height="1.5" fill="#33d633"/>
<rect x="453.96" y="466.89" width="1.5" height="1.5" fill="#33d633"/>
<rect x="461.53" y="470.53" width="1.5" height="1.5" fill="#33d633"/>
<rect x="445.25" y="464.29" width="1.5" height="1.5" fill="#33d633"/>
<rect x="452.74" y="463.34" width="1.5" height="1.5" fill="#33d633"/>
<rect x="461.78" y="463.23" width="1.5" height="1.5" fill="#33d633"/>
<rect x="456.09" y="467.67" width="1.5" height="1.5" fill="#33d633"/>
<rect x="462.8" y="465.26" width="1.5" height="1.5" fill="#33d633"/>
<text x="449.6" y="477.4" font-size="5.7" text-anchor="start" fill="#333" >5.28%</text>
<path d="M383.8,455.4 L383.8,501.2 L466.5,501.2" stroke="#111" stroke-width="1.1" fill="none"/>
<line x1="380.6" y1="498.6" x2="383.8" y2="498.6" stroke="#111" stroke-width="0.9" />
<text x="378.8" y="501.2" font-size="6" text-anchor="end" fill="#222" textLength="9.8" lengthAdjust="spacingAndGlyphs" stroke="#222" stroke-width="0.2" >0.0</text>
<line x1="380.6" y1="490.2" x2="383.8" y2="490.2" stroke="#111" stroke-width="0.9" />
<text x="378.8" y="492.8" font-size="6" text-anchor="end" fill="#222" textLength="9.8" lengthAdjust="spacingAndGlyphs" stroke="#222" stroke-width="0.2" >1.0</text>
<line x1="380.6" y1="481.8" x2="383.8" y2="481.8" stroke="#111" stroke-width="0.9" />
<text x="378.8" y="484.4" font-size="6" text-anchor="end" fill="#222" textLength="9.8" lengthAdjust="spacingAndGlyphs" stroke="#222" stroke-width="0.2" >2.0</text>
<line x1="380.6" y1="473.4" x2="383.8" y2="473.4" stroke="#111" stroke-width="0.9" />
<text x="378.8" y="476" font-size="6" text-anchor="end" fill="#222" textLength="9.8" lengthAdjust="spacingAndGlyphs" stroke="#222" stroke-width="0.2" >3.0</text>
<line x1="380.6" y1="465" x2="383.8" y2="465" stroke="#111" stroke-width="0.9" />
<text x="378.8" y="467.6" font-size="6" text-anchor="end" fill="#222" textLength="9.8" lengthAdjust="spacingAndGlyphs" stroke="#222" stroke-width="0.2" >4.0</text>
<line x1="380.6" y1="456.6" x2="383.8" y2="456.6" stroke="#111" stroke-width="0.9" />
<text x="378.8" y="459.2" font-size="6" text-anchor="end" fill="#222" textLength="9.8" lengthAdjust="spacingAndGlyphs" stroke="#222" stroke-width="0.2" >5.0</text>
<line x1="385" y1="501.2" x2="385" y2="504.8" stroke="#111" stroke-width="0.9" />
<text x="385" y="513.6" font-size="6" text-anchor="middle" fill="#222" textLength="9.6" lengthAdjust="spacingAndGlyphs" stroke="#222" stroke-width="0.2" >1.0</text>
<line x1="401.1" y1="501.2" x2="401.1" y2="504.8" stroke="#111" stroke-width="0.9" />
<text x="401.1" y="513.6" font-size="6" text-anchor="middle" fill="#222" textLength="9.6" lengthAdjust="spacingAndGlyphs" stroke="#222" stroke-width="0.2" >2.0</text>
<line x1="417.2" y1="501.2" x2="417.2" y2="504.8" stroke="#111" stroke-width="0.9" />
<text x="417.2" y="513.6" font-size="6" text-anchor="middle" fill="#222" textLength="9.6" lengthAdjust="spacingAndGlyphs" stroke="#222" stroke-width="0.2" >3.0</text>
<line x1="433.3" y1="501.2" x2="433.3" y2="504.8" stroke="#111" stroke-width="0.9" />
<text x="433.3" y="513.6" font-size="6" text-anchor="middle" fill="#222" textLength="9.6" lengthAdjust="spacingAndGlyphs" stroke="#222" stroke-width="0.2" >4.0</text>
<line x1="449.4" y1="501.2" x2="449.4" y2="504.8" stroke="#111" stroke-width="0.9" />
<text x="449.4" y="513.6" font-size="6" text-anchor="middle" fill="#222" textLength="9.6" lengthAdjust="spacingAndGlyphs" stroke="#222" stroke-width="0.2" >5.0</text>
<line x1="465.5" y1="501.2" x2="465.5" y2="504.8" stroke="#111" stroke-width="0.9" />
<text x="465.5" y="513.6" font-size="6" text-anchor="middle" fill="#222" textLength="9.6" lengthAdjust="spacingAndGlyphs" stroke="#222" stroke-width="0.2" >6.0</text>
<text transform="translate(362.9,477.6) rotate(-90)" font-size="8.6" font-style="italic" text-anchor="middle" fill="#222" stroke="#222" stroke-width="0.3" textLength="32.5" lengthAdjust="spacingAndGlyphs">ITGB3/CD61</text>
<text x="424.65" y="524.5" font-size="8.6" text-anchor="middle" fill="#222" font-style="italic" textLength="33.6" lengthAdjust="spacingAndGlyphs" stroke="#222" stroke-width="0.3">ITGA2B/CD41</text>
<path d="M237,522.3 L237,488.5 M237,522.3 L273,522.3" stroke="#222" stroke-width="1.1" fill="none"/>
<path d="M237,485.3 L235,490.3 L239,490.3 Z M276.2,522.3 L271.2,520.3 L271.2,524.3 Z" fill="#222"/>
<text transform="translate(220.6,508.8) rotate(-90)" font-size="8" text-anchor="middle" fill="#111" stroke="#111" stroke-width="0.35" textLength="28.4" lengthAdjust="spacingAndGlyphs">Expression</text>
<text transform="translate(232.2,502.4) rotate(-90)" font-size="8" text-anchor="middle" fill="#111" stroke="#111" stroke-width="0.35" textLength="38.8" lengthAdjust="spacingAndGlyphs">(Log10, RPKM)</text>
<text x="237.3" y="533" font-size="8" text-anchor="start" fill="#111" textLength="27.7" lengthAdjust="spacingAndGlyphs" stroke="#111" stroke-width="0.35">Expression</text>
<text x="237.3" y="543.8" font-size="8" text-anchor="start" fill="#111" textLength="40" lengthAdjust="spacingAndGlyphs" stroke="#111" stroke-width="0.35">(Log10, RPKM)</text>
<text x="7.4" y="577.6" font-size="12.6" text-anchor="start" fill="#000" font-weight="bold" >E</text>
<text x="35.6" y="589" font-size="6.7" text-anchor="start" fill="#222" stroke="#222" stroke-width="0.2" >CB-CD34<tspan font-size="4.2" dy="-2.6">+</tspan><tspan dy="2.6"> cells</tspan></text>
<rect x="35.4" y="599.4" width="47" height="47" fill="none" stroke="#aaaaaa" stroke-width="0.7"/>
<line x1="64.8" y1="599.4" x2="64.8" y2="646.4" stroke="#8e8e8e" stroke-width="0.65" />
<line x1="35.4" y1="622.5" x2="82.4" y2="622.5" stroke="#8e8e8e" stroke-width="0.65" />
<text x="36.8" y="603.4" font-size="5.6" text-anchor="start" fill="#333" >2,34</text>
<text x="81.4" y="603.4" font-size="5.6" text-anchor="end" fill="#333" >0</text>
<text x="36.8" y="645.4" font-size="5.6" text-anchor="start" fill="#333" >97,7</text>
<text x="81.4" y="645.4" font-size="5.6" text-anchor="end" fill="#333" >0</text>
<path d="M51.33,622.89h0.8v0.8h-0.8zM45.83,621.1h0.8v0.8h-0.8zM42.6,625.81h0.8v0.8h-0.8zM51.23,638.99h0.8v0.8h-0.8zM46.94,619.68h0.8v0.8h-0.8zM44.04,635.2h0.8v0.8h-0.8zM44.3,637.13h0.8v0.8h-0.8zM51.01,622.33h0.8v0.8h-0.8zM52.21,637.15h0.8v0.8h-0.8zM47.29,641.51h0.8v0.8h-0.8zM48.82,619.92h0.8v0.8h-0.8zM45.02,642.78h0.8v0.8h-0.8zM54.04,624.68h0.8v0.8h-0.8zM46.07,621.13h0.8v0.8h-0.8zM47.68,620.73h0.8v0.8h-0.8zM54,627.1h0.8v0.8h-0.8zM51.9,643.16h0.8v0.8h-0.8zM53.5,639.6h0.8v0.8h-0.8zM53.21,621.71h0.8v0.8h-0.8zM52.77,618.63h0.8v0.8h-0.8zM48.91,641.4h0.8v0.8h-0.8zM53.31,634.39h0.8v0.8h-0.8zM51.3,620.24h0.8v0.8h-0.8zM47.11,618.39h0.8v0.8h-0.8zM46.93,620.96h0.8v0.8h-0.8zM52.96,627.45h0.8v0.8h-0.8zM51.7,641.25h0.8v0.8h-0.8zM46.86,639.54h0.8v0.8h-0.8zM52.83,634.87h0.8v0.8h-0.8zM53.95,624.29h0.8v0.8h-0.8zM51.77,615.34h0.8v0.8h-0.8zM43.81,639.84h0.8v0.8h-0.8zM44.11,639.49h0.8v0.8h-0.8zM55.26,625.81h0.8v0.8h-0.8zM50.16,618.24h0.8v0.8h-0.8zM50.65,639.32h0.8v0.8h-0.8zM44.07,624.3h0.8v0.8h-0.8zM49.85,640.28h0.8v0.8h-0.8zM46.07,639.57h0.8v0.8h-0.8zM49.39,642.26h0.8v0.8h-0.8zM43.75,634.36h0.8v0.8h-0.8zM45.44,621.59h0.8v0.8h-0.8zM44.94,636.99h0.8v0.8h-0.8z" fill="#8a8aff"/>
<path d="M52.62,626.51h0.8v0.8h-0.8zM43.69,628.17h0.8v0.8h-0.8zM41.92,621.8h0.8v0.8h-0.8zM48.88,643.99h0.8v0.8h-0.8zM45.77,619.46h0.8v0.8h-0.8zM50.03,617.87h0.8v0.8h-0.8zM44.19,634.37h0.8v0.8h-0.8zM43.72,634.68h0.8v0.8h-0.8zM48.63,641.31h0.8v0.8h-0.8zM54.31,638.14h0.8v0.8h-0.8zM43.01,627.62h0.8v0.8h-0.8zM44.54,620.63h0.8v0.8h-0.8zM51.93,636.32h0.8v0.8h-0.8zM49.15,619.9h0.8v0.8h-0.8zM51.76,621.25h0.8v0.8h-0.8zM52.98,643.62h0.8v0.8h-0.8zM52.94,643.3h0.8v0.8h-0.8zM50.03,622.41h0.8v0.8h-0.8zM52.37,637.48h0.8v0.8h-0.8zM42.96,631.12h0.8v0.8h-0.8zM49.57,642.56h0.8v0.8h-0.8zM44.27,637.09h0.8v0.8h-0.8zM42.92,636.14h0.8v0.8h-0.8zM53.69,633.22h0.8v0.8h-0.8zM54.6,633.2h0.8v0.8h-0.8zM49.51,619h0.8v0.8h-0.8zM51.9,623.33h0.8v0.8h-0.8zM46.07,641.42h0.8v0.8h-0.8zM44.73,619.59h0.8v0.8h-0.8zM43.71,626.14h0.8v0.8h-0.8zM46.15,622.21h0.8v0.8h-0.8zM49.61,621.67h0.8v0.8h-0.8zM52.89,634.12h0.8v0.8h-0.8zM45.74,619.66h0.8v0.8h-0.8zM45.92,622.4h0.8v0.8h-0.8zM49.25,641.82h0.8v0.8h-0.8zM52.91,631.99h0.8v0.8h-0.8zM48.59,642.39h0.8v0.8h-0.8zM54.47,637.73h0.8v0.8h-0.8zM51.58,620.81h0.8v0.8h-0.8z" fill="#5a5cf2"/>
<path d="M49.49,622.95h0.8v0.8h-0.8zM45.27,636.35h0.8v0.8h-0.8zM51.19,623.51h0.8v0.8h-0.8zM50.02,638.54h0.8v0.8h-0.8zM44.18,635.6h0.8v0.8h-0.8zM47.58,637.98h0.8v0.8h-0.8zM45.63,623.74h0.8v0.8h-0.8zM51.22,624.41h0.8v0.8h-0.8zM50.05,623.42h0.8v0.8h-0.8zM46.86,622.73h0.8v0.8h-0.8zM50.94,636h0.8v0.8h-0.8zM48.95,623.52h0.8v0.8h-0.8zM44.63,634.1h0.8v0.8h-0.8zM52.48,634.22h0.8v0.8h-0.8zM51.73,634.2h0.8v0.8h-0.8zM51.64,625.8h0.8v0.8h-0.8zM51.33,628.99h0.8v0.8h-0.8zM47.53,623.74h0.8v0.8h-0.8zM46.53,622.72h0.8v0.8h-0.8zM47.47,638.62h0.8v0.8h-0.8zM45.05,627.95h0.8v0.8h-0.8zM50.3,624.72h0.8v0.8h-0.8zM51.69,633.52h0.8v0.8h-0.8zM45.11,627.43h0.8v0.8h-0.8zM49.41,623.11h0.8v0.8h-0.8zM47.53,622.56h0.8v0.8h-0.8zM51.63,637.06h0.8v0.8h-0.8zM46.07,625.6h0.8v0.8h-0.8zM49.44,622.15h0.8v0.8h-0.8zM51.42,626.15h0.8v0.8h-0.8zM44.4,637.16h0.8v0.8h-0.8zM50.95,637.85h0.8v0.8h-0.8zM44.82,625.61h0.8v0.8h-0.8zM51.11,636.97h0.8v0.8h-0.8zM44.97,628.16h0.8v0.8h-0.8zM42.79,631h0.8v0.8h-0.8zM44.22,633.15h0.8v0.8h-0.8zM43.97,626.85h0.8v0.8h-0.8zM47.69,621.56h0.8v0.8h-0.8zM44.68,623.88h0.8v0.8h-0.8zM45.41,634.18h0.8v0.8h-0.8zM47.66,641.61h0.8v0.8h-0.8zM44.72,627.27h0.8v0.8h-0.8zM43.91,636.11h0.8v0.8h-0.8zM47.96,637.86h0.8v0.8h-0.8zM50.66,623.81h0.8v0.8h-0.8zM51.05,621.71h0.8v0.8h-0.8zM49.83,639.34h0.8v0.8h-0.8zM47.25,637.81h0.8v0.8h-0.8zM52.05,633.67h0.8v0.8h-0.8zM51.99,629.44h0.8v0.8h-0.8zM45.92,634.95h0.8v0.8h-0.8zM47.37,636.39h0.8v0.8h-0.8zM50.53,624.1h0.8v0.8h-0.8zM50.48,636.92h0.8v0.8h-0.8zM52.94,630.93h0.8v0.8h-0.8zM52.58,630.09h0.8v0.8h-0.8zM51.7,626.38h0.8v0.8h-0.8zM44.81,635.95h0.8v0.8h-0.8zM47.05,621.66h0.8v0.8h-0.8zM48.55,623.72h0.8v0.8h-0.8zM52.08,635.04h0.8v0.8h-0.8zM46.39,637.03h0.8v0.8h-0.8zM48.97,623.2h0.8v0.8h-0.8zM44.55,625.81h0.8v0.8h-0.8zM44.39,628.01h0.8v0.8h-0.8zM52.02,627.85h0.8v0.8h-0.8zM51.42,624.69h0.8v0.8h-0.8zM48.3,623.2h0.8v0.8h-0.8zM51.69,637.89h0.8v0.8h-0.8zM49.51,622.56h0.8v0.8h-0.8zM46.35,636.62h0.8v0.8h-0.8zM47.48,620.99h0.8v0.8h-0.8zM47.94,639.48h0.8v0.8h-0.8zM49.7,623.47h0.8v0.8h-0.8zM47.48,639.45h0.8v0.8h-0.8zM44.67,625.02h0.8v0.8h-0.8zM49.41,622.44h0.8v0.8h-0.8zM48.69,624.09h0.8v0.8h-0.8zM50.64,622.11h0.8v0.8h-0.8zM44.7,634.52h0.8v0.8h-0.8zM45.23,635.34h0.8v0.8h-0.8zM50.18,638.31h0.8v0.8h-0.8zM44.49,629.8h0.8v0.8h-0.8zM49.78,622.32h0.8v0.8h-0.8zM44.99,626.45h0.8v0.8h-0.8zM44.76,635.29h0.8v0.8h-0.8zM52.53,628.59h0.8v0.8h-0.8zM48.66,641.49h0.8v0.8h-0.8zM48.94,623.54h0.8v0.8h-0.8zM47.32,637.59h0.8v0.8h-0.8zM45.54,621.94h0.8v0.8h-0.8zM45.05,628.58h0.8v0.8h-0.8zM48.01,622.18h0.8v0.8h-0.8zM50.01,622.62h0.8v0.8h-0.8z" fill="#3a72f0"/>
<path d="M49.81,638.35h0.8v0.8h-0.8zM46.35,627.16h0.8v0.8h-0.8zM44.8,635.26h0.8v0.8h-0.8zM45.96,631.31h0.8v0.8h-0.8zM48.18,623.71h0.8v0.8h-0.8zM46.32,634.13h0.8v0.8h-0.8zM50,638.87h0.8v0.8h-0.8zM46.1,637.16h0.8v0.8h-0.8zM47.63,621.52h0.8v0.8h-0.8zM48.98,625.72h0.8v0.8h-0.8zM49.06,637.08h0.8v0.8h-0.8zM47.98,622.4h0.8v0.8h-0.8zM45.03,628.61h0.8v0.8h-0.8zM46.89,635.07h0.8v0.8h-0.8zM45.25,633.34h0.8v0.8h-0.8zM46.01,624.03h0.8v0.8h-0.8zM51.24,629.31h0.8v0.8h-0.8zM49.4,634.9h0.8v0.8h-0.8zM47.9,637.24h0.8v0.8h-0.8zM44.92,629.84h0.8v0.8h-0.8zM51.97,633.37h0.8v0.8h-0.8zM46.6,623.44h0.8v0.8h-0.8zM44.43,627.56h0.8v0.8h-0.8zM46.38,625.69h0.8v0.8h-0.8zM46,624.44h0.8v0.8h-0.8zM51.15,632.63h0.8v0.8h-0.8zM46.46,635.72h0.8v0.8h-0.8zM44.88,631.09h0.8v0.8h-0.8zM50.62,636.06h0.8v0.8h-0.8zM49,635.12h0.8v0.8h-0.8zM47.31,623.54h0.8v0.8h-0.8zM50.86,632.92h0.8v0.8h-0.8zM45.38,631.48h0.8v0.8h-0.8zM52.21,632.89h0.8v0.8h-0.8zM46.55,625.65h0.8v0.8h-0.8zM47.36,634.74h0.8v0.8h-0.8zM45.4,631.5h0.8v0.8h-0.8zM51.4,629.16h0.8v0.8h-0.8zM51.79,626.66h0.8v0.8h-0.8zM48.76,637.44h0.8v0.8h-0.8zM50.06,636.52h0.8v0.8h-0.8zM48.73,636.79h0.8v0.8h-0.8zM47.4,634.95h0.8v0.8h-0.8zM45.18,636.49h0.8v0.8h-0.8zM47.25,625.29h0.8v0.8h-0.8zM49.71,635.85h0.8v0.8h-0.8zM45.66,628.01h0.8v0.8h-0.8zM52.89,632.38h0.8v0.8h-0.8zM47.56,625.16h0.8v0.8h-0.8zM48.9,635.44h0.8v0.8h-0.8zM45.18,630.21h0.8v0.8h-0.8zM43.7,630.3h0.8v0.8h-0.8zM52.48,630.36h0.8v0.8h-0.8zM47.74,638.43h0.8v0.8h-0.8zM51.02,632.78h0.8v0.8h-0.8zM50.92,631.72h0.8v0.8h-0.8zM48.18,637.63h0.8v0.8h-0.8zM48.21,621.54h0.8v0.8h-0.8zM50.47,628.74h0.8v0.8h-0.8zM46.23,629.36h0.8v0.8h-0.8zM50.03,633.39h0.8v0.8h-0.8zM50.76,632.51h0.8v0.8h-0.8zM46.93,635.17h0.8v0.8h-0.8zM49.03,634.48h0.8v0.8h-0.8zM47.21,624.41h0.8v0.8h-0.8zM46.07,628.29h0.8v0.8h-0.8zM51.44,628.14h0.8v0.8h-0.8zM47.87,621.75h0.8v0.8h-0.8zM52.28,627.28h0.8v0.8h-0.8zM47.04,634.46h0.8v0.8h-0.8zM48.7,637.33h0.8v0.8h-0.8zM46.03,626h0.8v0.8h-0.8zM44.96,625.31h0.8v0.8h-0.8zM44.86,625.73h0.8v0.8h-0.8zM51.95,626.84h0.8v0.8h-0.8zM50.58,624.5h0.8v0.8h-0.8zM50.77,632.93h0.8v0.8h-0.8zM44.81,628.2h0.8v0.8h-0.8zM51.31,625.73h0.8v0.8h-0.8zM49.47,636.97h0.8v0.8h-0.8zM50.12,635.88h0.8v0.8h-0.8zM52.68,631.84h0.8v0.8h-0.8zM50.97,632.34h0.8v0.8h-0.8zM49.79,625.76h0.8v0.8h-0.8zM48.04,624.74h0.8v0.8h-0.8zM50.25,633.85h0.8v0.8h-0.8zM46.23,624.64h0.8v0.8h-0.8zM45,630.09h0.8v0.8h-0.8zM45.6,632.93h0.8v0.8h-0.8zM46.77,624.95h0.8v0.8h-0.8zM46.62,633.91h0.8v0.8h-0.8zM47.46,625.45h0.8v0.8h-0.8zM46.48,635.04h0.8v0.8h-0.8zM48.08,636.26h0.8v0.8h-0.8zM45.27,625.78h0.8v0.8h-0.8zM46.71,636.79h0.8v0.8h-0.8zM45.04,631.19h0.8v0.8h-0.8zM45.34,627.41h0.8v0.8h-0.8zM46.62,627.27h0.8v0.8h-0.8zM45.63,631.16h0.8v0.8h-0.8zM50.97,631.63h0.8v0.8h-0.8zM50.38,625.68h0.8v0.8h-0.8zM48.76,637.88h0.8v0.8h-0.8zM45.99,622.51h0.8v0.8h-0.8zM50.97,624.79h0.8v0.8h-0.8zM47.9,635.05h0.8v0.8h-0.8zM51.84,628.75h0.8v0.8h-0.8zM46.73,626.31h0.8v0.8h-0.8zM49.21,624.04h0.8v0.8h-0.8zM47.25,636.91h0.8v0.8h-0.8zM44.65,630.02h0.8v0.8h-0.8zM50.4,626.42h0.8v0.8h-0.8zM49.74,635.06h0.8v0.8h-0.8zM46.56,633.03h0.8v0.8h-0.8zM50.2,627.9h0.8v0.8h-0.8zM46.35,633.93h0.8v0.8h-0.8zM44.68,629.91h0.8v0.8h-0.8zM45.31,631.78h0.8v0.8h-0.8zM52.11,628.15h0.8v0.8h-0.8zM46.16,633.67h0.8v0.8h-0.8zM45.84,629.61h0.8v0.8h-0.8zM49.28,634.23h0.8v0.8h-0.8zM46.58,625.63h0.8v0.8h-0.8zM44.56,630.14h0.8v0.8h-0.8zM44.86,628.62h0.8v0.8h-0.8zM51.49,628.58h0.8v0.8h-0.8zM50.74,632.99h0.8v0.8h-0.8zM51.89,636.48h0.8v0.8h-0.8zM48.75,636.21h0.8v0.8h-0.8zM48.84,636.09h0.8v0.8h-0.8zM46.34,632.54h0.8v0.8h-0.8zM45.38,635.49h0.8v0.8h-0.8zM46.02,625.87h0.8v0.8h-0.8zM44.74,630.69h0.8v0.8h-0.8zM49.22,624.9h0.8v0.8h-0.8zM45.14,626.1h0.8v0.8h-0.8zM50.93,623.86h0.8v0.8h-0.8zM45.9,636.33h0.8v0.8h-0.8zM50.26,633.18h0.8v0.8h-0.8zM51.93,628.53h0.8v0.8h-0.8zM50.14,626.94h0.8v0.8h-0.8zM47.32,638.74h0.8v0.8h-0.8zM47.29,625.63h0.8v0.8h-0.8zM51.2,632.6h0.8v0.8h-0.8zM48.26,637.35h0.8v0.8h-0.8zM49.83,639.31h0.8v0.8h-0.8zM44.84,630.03h0.8v0.8h-0.8zM48.95,635.99h0.8v0.8h-0.8z" fill="#30a8f0"/>
<path d="M50.37,635.55h0.8v0.8h-0.8zM49.65,626.88h0.8v0.8h-0.8zM45.85,628.96h0.8v0.8h-0.8zM50.44,629.33h0.8v0.8h-0.8zM49.81,630.22h0.8v0.8h-0.8zM50.42,630.94h0.8v0.8h-0.8zM49.36,635.66h0.8v0.8h-0.8zM47,624.13h0.8v0.8h-0.8zM49.62,627.3h0.8v0.8h-0.8zM47,627.83h0.8v0.8h-0.8zM47.97,633.45h0.8v0.8h-0.8zM45.55,630.6h0.8v0.8h-0.8zM47.48,625.07h0.8v0.8h-0.8zM48.31,633.66h0.8v0.8h-0.8zM46.13,630.58h0.8v0.8h-0.8zM44.89,627.64h0.8v0.8h-0.8zM46.01,627.37h0.8v0.8h-0.8zM46.11,630.53h0.8v0.8h-0.8zM50.35,629.37h0.8v0.8h-0.8zM47.19,629.73h0.8v0.8h-0.8zM49.65,631.52h0.8v0.8h-0.8zM47.17,626.32h0.8v0.8h-0.8zM50.49,630.1h0.8v0.8h-0.8zM49.82,634.4h0.8v0.8h-0.8zM46.36,629.09h0.8v0.8h-0.8zM45.72,631.32h0.8v0.8h-0.8zM49.43,625.42h0.8v0.8h-0.8zM49.31,631.87h0.8v0.8h-0.8zM47.14,632.52h0.8v0.8h-0.8zM50.44,628.57h0.8v0.8h-0.8zM50.52,634.58h0.8v0.8h-0.8zM49.36,633.79h0.8v0.8h-0.8zM50.86,631.03h0.8v0.8h-0.8zM45.31,625.83h0.8v0.8h-0.8zM50.86,627.13h0.8v0.8h-0.8zM47.1,626.53h0.8v0.8h-0.8zM47.93,635.94h0.8v0.8h-0.8zM48.92,625.99h0.8v0.8h-0.8zM46.12,625.66h0.8v0.8h-0.8zM47.3,633.39h0.8v0.8h-0.8zM46.14,631.67h0.8v0.8h-0.8zM47.24,633.87h0.8v0.8h-0.8zM48.2,627.08h0.8v0.8h-0.8zM47.09,628.87h0.8v0.8h-0.8zM46.03,627.9h0.8v0.8h-0.8zM46.34,628.46h0.8v0.8h-0.8zM48.66,632.03h0.8v0.8h-0.8zM48.25,627.83h0.8v0.8h-0.8zM46.65,628.77h0.8v0.8h-0.8zM46.83,632.47h0.8v0.8h-0.8zM47.28,633.45h0.8v0.8h-0.8zM51.39,631.33h0.8v0.8h-0.8zM49.64,628.09h0.8v0.8h-0.8zM50.4,634.23h0.8v0.8h-0.8zM46.24,627.25h0.8v0.8h-0.8zM49.39,634.16h0.8v0.8h-0.8zM49.63,629.68h0.8v0.8h-0.8zM49.18,634.94h0.8v0.8h-0.8zM46.98,626.01h0.8v0.8h-0.8zM45.46,629.83h0.8v0.8h-0.8zM49.79,631.2h0.8v0.8h-0.8zM48.49,635.15h0.8v0.8h-0.8zM49.2,631.61h0.8v0.8h-0.8zM45.99,632.17h0.8v0.8h-0.8zM48.02,626.61h0.8v0.8h-0.8zM46.3,627.45h0.8v0.8h-0.8zM50.58,627.79h0.8v0.8h-0.8zM49.59,632.96h0.8v0.8h-0.8zM49.23,625.66h0.8v0.8h-0.8zM49.78,626.41h0.8v0.8h-0.8zM47.84,631.68h0.8v0.8h-0.8zM47.23,633.44h0.8v0.8h-0.8zM49.91,625.52h0.8v0.8h-0.8zM45.82,631.04h0.8v0.8h-0.8zM46.45,631.65h0.8v0.8h-0.8zM50,629.6h0.8v0.8h-0.8zM49.74,634.7h0.8v0.8h-0.8zM49.14,635.17h0.8v0.8h-0.8zM47.11,626.97h0.8v0.8h-0.8zM46.66,630.11h0.8v0.8h-0.8zM49.62,632.63h0.8v0.8h-0.8zM50.97,631.8h0.8v0.8h-0.8zM49.94,633.99h0.8v0.8h-0.8zM50.36,630.88h0.8v0.8h-0.8zM46.57,631.9h0.8v0.8h-0.8zM48.78,635.96h0.8v0.8h-0.8zM49.26,633.91h0.8v0.8h-0.8zM51.26,631.11h0.8v0.8h-0.8zM47.87,624h0.8v0.8h-0.8zM47.79,626.21h0.8v0.8h-0.8zM46.74,625.96h0.8v0.8h-0.8zM45.93,631.24h0.8v0.8h-0.8zM46.71,632.53h0.8v0.8h-0.8zM46.64,624.3h0.8v0.8h-0.8zM48.57,634.18h0.8v0.8h-0.8zM46.98,636.09h0.8v0.8h-0.8zM48.9,625.59h0.8v0.8h-0.8zM49.9,630.09h0.8v0.8h-0.8zM45.91,628.01h0.8v0.8h-0.8zM50.03,629.61h0.8v0.8h-0.8zM49,627.71h0.8v0.8h-0.8zM46.93,633.64h0.8v0.8h-0.8zM48.61,628.11h0.8v0.8h-0.8zM46.87,631.99h0.8v0.8h-0.8zM50.05,631.34h0.8v0.8h-0.8zM46.33,635.07h0.8v0.8h-0.8zM50.2,630.05h0.8v0.8h-0.8zM46.85,633.12h0.8v0.8h-0.8zM51.31,630.51h0.8v0.8h-0.8zM47.89,628.05h0.8v0.8h-0.8zM48.81,624.91h0.8v0.8h-0.8zM48.78,633.21h0.8v0.8h-0.8zM46.05,630.27h0.8v0.8h-0.8zM48.64,635.73h0.8v0.8h-0.8zM47.65,636.09h0.8v0.8h-0.8zM48.84,635.8h0.8v0.8h-0.8zM50.32,631.27h0.8v0.8h-0.8zM50.57,633.81h0.8v0.8h-0.8zM49.14,636.16h0.8v0.8h-0.8zM48.6,635.87h0.8v0.8h-0.8zM51.16,631.39h0.8v0.8h-0.8zM49.71,633.7h0.8v0.8h-0.8zM50.15,632.23h0.8v0.8h-0.8zM49.78,629.21h0.8v0.8h-0.8zM49.09,637.71h0.8v0.8h-0.8zM49.55,627.82h0.8v0.8h-0.8zM50.45,634.55h0.8v0.8h-0.8zM46.82,633.84h0.8v0.8h-0.8zM48.14,625.41h0.8v0.8h-0.8zM46.38,627.65h0.8v0.8h-0.8zM47.01,630.1h0.8v0.8h-0.8zM46.22,629.24h0.8v0.8h-0.8zM44.89,632.29h0.8v0.8h-0.8zM46.59,628.12h0.8v0.8h-0.8zM47.69,634.44h0.8v0.8h-0.8zM50.51,629.26h0.8v0.8h-0.8zM49.92,633.32h0.8v0.8h-0.8zM46.95,626.29h0.8v0.8h-0.8zM49.25,627.52h0.8v0.8h-0.8zM50,633.23h0.8v0.8h-0.8zM46.53,627.84h0.8v0.8h-0.8zM50.42,632.47h0.8v0.8h-0.8zM46.98,632.12h0.8v0.8h-0.8zM46.69,629.75h0.8v0.8h-0.8zM46.94,628.11h0.8v0.8h-0.8zM49.29,627.72h0.8v0.8h-0.8zM50.45,627.07h0.8v0.8h-0.8zM46.31,631.03h0.8v0.8h-0.8zM50.69,635.4h0.8v0.8h-0.8zM46.21,628.74h0.8v0.8h-0.8zM45.67,627.69h0.8v0.8h-0.8zM47.23,630h0.8v0.8h-0.8zM49.13,624.9h0.8v0.8h-0.8zM45.94,632.13h0.8v0.8h-0.8zM51.05,632.9h0.8v0.8h-0.8zM46.5,627.06h0.8v0.8h-0.8zM46.7,631.94h0.8v0.8h-0.8zM50.86,632.07h0.8v0.8h-0.8zM48.01,625.97h0.8v0.8h-0.8zM47.35,629.26h0.8v0.8h-0.8zM50.18,628.4h0.8v0.8h-0.8zM47.93,626.12h0.8v0.8h-0.8zM45.74,627.91h0.8v0.8h-0.8zM49.26,626.12h0.8v0.8h-0.8zM46.83,630.94h0.8v0.8h-0.8zM45.98,627.81h0.8v0.8h-0.8zM49.19,629.29h0.8v0.8h-0.8zM48.54,633.33h0.8v0.8h-0.8zM47.79,624.78h0.8v0.8h-0.8zM46.01,629.82h0.8v0.8h-0.8zM48.78,636.25h0.8v0.8h-0.8zM50.11,632.6h0.8v0.8h-0.8zM48.95,626.25h0.8v0.8h-0.8zM48.71,633.72h0.8v0.8h-0.8zM47.34,629.93h0.8v0.8h-0.8zM50.34,632.19h0.8v0.8h-0.8zM46.08,629.33h0.8v0.8h-0.8zM47.79,632.69h0.8v0.8h-0.8zM47.86,635h0.8v0.8h-0.8zM49.39,634.47h0.8v0.8h-0.8zM49.46,628.04h0.8v0.8h-0.8zM50.22,633.55h0.8v0.8h-0.8zM47.82,625.16h0.8v0.8h-0.8zM47.16,628.35h0.8v0.8h-0.8zM46.29,634.31h0.8v0.8h-0.8zM50.02,631.41h0.8v0.8h-0.8zM46.84,626.35h0.8v0.8h-0.8zM46.32,631.24h0.8v0.8h-0.8zM49.85,636.19h0.8v0.8h-0.8zM47.73,637.39h0.8v0.8h-0.8z" fill="#2cd0c8"/>
<path d="M47.21,629.8h0.8v0.8h-0.8zM47.58,632.28h0.8v0.8h-0.8zM49.76,627.53h0.8v0.8h-0.8zM49.58,632.32h0.8v0.8h-0.8zM49.12,633.67h0.8v0.8h-0.8zM47.78,627.61h0.8v0.8h-0.8zM49.08,627.19h0.8v0.8h-0.8zM46.61,633.11h0.8v0.8h-0.8zM47.07,627.81h0.8v0.8h-0.8zM48.41,626.81h0.8v0.8h-0.8zM49.17,632.72h0.8v0.8h-0.8zM47.88,630.62h0.8v0.8h-0.8zM46.5,628.71h0.8v0.8h-0.8zM50.03,631.08h0.8v0.8h-0.8zM47.35,630.85h0.8v0.8h-0.8zM48.63,631.49h0.8v0.8h-0.8zM48.6,626.92h0.8v0.8h-0.8zM47.26,629.85h0.8v0.8h-0.8zM47.29,633.29h0.8v0.8h-0.8zM47.68,633.65h0.8v0.8h-0.8zM47.26,631.34h0.8v0.8h-0.8zM48.29,633.85h0.8v0.8h-0.8zM46.91,628.6h0.8v0.8h-0.8zM48.84,629.5h0.8v0.8h-0.8zM46.71,629.88h0.8v0.8h-0.8zM46.62,630.62h0.8v0.8h-0.8zM48.23,627.53h0.8v0.8h-0.8zM46.96,631.95h0.8v0.8h-0.8zM48.06,629.38h0.8v0.8h-0.8zM47.22,629.4h0.8v0.8h-0.8zM47.61,634.39h0.8v0.8h-0.8zM48.52,625.92h0.8v0.8h-0.8zM49.73,629.87h0.8v0.8h-0.8zM47.8,626.94h0.8v0.8h-0.8zM48.73,628.48h0.8v0.8h-0.8zM49.69,631.57h0.8v0.8h-0.8zM47.94,630.52h0.8v0.8h-0.8zM49.31,633.18h0.8v0.8h-0.8zM49.49,629.17h0.8v0.8h-0.8zM47.06,630h0.8v0.8h-0.8zM48.57,626.65h0.8v0.8h-0.8zM48.56,634.48h0.8v0.8h-0.8zM50.3,629.94h0.8v0.8h-0.8zM46.73,631.6h0.8v0.8h-0.8zM49.05,632.21h0.8v0.8h-0.8zM48.54,629.35h0.8v0.8h-0.8zM46.27,631.7h0.8v0.8h-0.8zM47.56,631.83h0.8v0.8h-0.8zM47.79,632.4h0.8v0.8h-0.8zM48.57,627.74h0.8v0.8h-0.8zM48.87,631.39h0.8v0.8h-0.8zM48.04,632.26h0.8v0.8h-0.8zM47.51,629.96h0.8v0.8h-0.8zM47.89,631.96h0.8v0.8h-0.8zM49.15,631.13h0.8v0.8h-0.8zM47.45,632.11h0.8v0.8h-0.8zM49.46,629.86h0.8v0.8h-0.8zM49.91,630.83h0.8v0.8h-0.8zM49.48,628.79h0.8v0.8h-0.8zM50.22,631.72h0.8v0.8h-0.8zM49.45,628.86h0.8v0.8h-0.8zM47.6,632.85h0.8v0.8h-0.8zM48.85,630.39h0.8v0.8h-0.8zM48.01,630.06h0.8v0.8h-0.8zM50.35,629.58h0.8v0.8h-0.8zM46.75,627.64h0.8v0.8h-0.8zM48.88,630.5h0.8v0.8h-0.8zM47.28,627.8h0.8v0.8h-0.8zM46.77,631.43h0.8v0.8h-0.8zM49.72,629.35h0.8v0.8h-0.8zM48.67,627.84h0.8v0.8h-0.8zM49.83,628.02h0.8v0.8h-0.8zM49.04,627.8h0.8v0.8h-0.8zM46.97,629.85h0.8v0.8h-0.8zM47.54,627.14h0.8v0.8h-0.8zM48.63,626.17h0.8v0.8h-0.8zM49.63,629.84h0.8v0.8h-0.8zM49.78,632.91h0.8v0.8h-0.8zM49.07,629.78h0.8v0.8h-0.8zM47.35,626.27h0.8v0.8h-0.8zM49.15,633.31h0.8v0.8h-0.8zM46.34,628.87h0.8v0.8h-0.8zM47.96,632.08h0.8v0.8h-0.8zM48.32,631.82h0.8v0.8h-0.8zM49.15,628.86h0.8v0.8h-0.8zM46.35,629.38h0.8v0.8h-0.8zM46.87,630.41h0.8v0.8h-0.8zM47.15,627.27h0.8v0.8h-0.8zM48.98,631.91h0.8v0.8h-0.8zM47.5,633.63h0.8v0.8h-0.8zM46.79,626.45h0.8v0.8h-0.8zM48.3,634.13h0.8v0.8h-0.8zM47.37,627.19h0.8v0.8h-0.8zM49.14,627.31h0.8v0.8h-0.8zM48.89,630.31h0.8v0.8h-0.8zM48.88,630.69h0.8v0.8h-0.8zM49.22,628.85h0.8v0.8h-0.8zM47.47,631.49h0.8v0.8h-0.8zM46.64,630.94h0.8v0.8h-0.8zM48.39,631.1h0.8v0.8h-0.8zM46.46,630.47h0.8v0.8h-0.8zM49.93,629.29h0.8v0.8h-0.8zM50.04,628.44h0.8v0.8h-0.8zM47.32,626.85h0.8v0.8h-0.8zM49.85,633.3h0.8v0.8h-0.8zM48.08,627.55h0.8v0.8h-0.8zM49.87,631.03h0.8v0.8h-0.8zM47.26,631.18h0.8v0.8h-0.8zM48.43,629.71h0.8v0.8h-0.8z" fill="#48d058"/>
<path d="M47.93,629.26h0.8v0.8h-0.8zM48.21,630.13h0.8v0.8h-0.8zM48.51,629.6h0.8v0.8h-0.8zM47.95,628.39h0.8v0.8h-0.8zM47.17,630.42h0.8v0.8h-0.8zM48.15,632.37h0.8v0.8h-0.8zM47.76,630.33h0.8v0.8h-0.8zM47.98,632.04h0.8v0.8h-0.8zM48.22,629.86h0.8v0.8h-0.8zM48.37,628.32h0.8v0.8h-0.8zM47.87,629.11h0.8v0.8h-0.8zM47.3,630.25h0.8v0.8h-0.8zM47.81,631.7h0.8v0.8h-0.8zM48.05,630.36h0.8v0.8h-0.8zM48.52,632.27h0.8v0.8h-0.8zM48.13,632.06h0.8v0.8h-0.8zM49.06,632.12h0.8v0.8h-0.8zM49.07,631.54h0.8v0.8h-0.8zM48.87,629.97h0.8v0.8h-0.8zM49.04,631.41h0.8v0.8h-0.8zM48.47,631.9h0.8v0.8h-0.8zM47.83,630.93h0.8v0.8h-0.8zM48.24,629.7h0.8v0.8h-0.8z" fill="#b8d830"/>
<path d="M48.27,630.12h0.8v0.8h-0.8zM48.25,630.19h0.8v0.8h-0.8z" fill="#f0a020"/>
<rect x="48.51" y="620.26" width="0.8" height="0.8" fill="#8a8aff"/>
<rect x="50.49" y="619.29" width="0.8" height="0.8" fill="#8a8aff"/>
<rect x="50.22" y="616.54" width="0.8" height="0.8" fill="#8a8aff"/>
<rect x="44.01" y="616.3" width="0.8" height="0.8" fill="#8a8aff"/>
<rect x="49.77" y="614.44" width="0.8" height="0.8" fill="#8a8aff"/>
<rect x="46.18" y="618.14" width="0.8" height="0.8" fill="#8a8aff"/>
<rect x="45.08" y="620.72" width="0.8" height="0.8" fill="#8a8aff"/>
<rect x="50.61" y="619.93" width="0.8" height="0.8" fill="#8a8aff"/>
<rect x="51.88" y="616.47" width="0.8" height="0.8" fill="#8a8aff"/>
<rect x="50.33" y="612.46" width="0.8" height="0.8" fill="#8a8aff"/>
<rect x="48.93" y="619.06" width="0.8" height="0.8" fill="#8a8aff"/>
<rect x="49.29" y="614.13" width="0.8" height="0.8" fill="#8a8aff"/>
<rect x="51.2" y="614.69" width="0.8" height="0.8" fill="#8a8aff"/>
<rect x="53.5" y="618.86" width="0.8" height="0.8" fill="#8a8aff"/>
<rect x="47.17" y="612.77" width="0.8" height="0.8" fill="#8a8aff"/>
<rect x="45.97" y="614.16" width="0.8" height="0.8" fill="#8a8aff"/>
<rect x="50.11" y="615.01" width="0.8" height="0.8" fill="#8a8aff"/>
<rect x="46.78" y="616.96" width="0.8" height="0.8" fill="#8a8aff"/>
<rect x="52.84" y="619.73" width="0.8" height="0.8" fill="#8a8aff"/>
<rect x="49.85" y="621.67" width="0.8" height="0.8" fill="#8a8aff"/>
<rect x="47.46" y="621.38" width="0.8" height="0.8" fill="#8a8aff"/>
<rect x="52.5" y="620.6" width="0.8" height="0.8" fill="#8a8aff"/>
<rect x="42.94" y="617.43" width="0.8" height="0.8" fill="#8a8aff"/>
<rect x="50.48" y="617.64" width="0.8" height="0.8" fill="#8a8aff"/>
<rect x="47.57" y="615.92" width="0.8" height="0.8" fill="#8a8aff"/>
<path d="M30.4,651.2 L30.4,612.4 M30.4,651.2 L70.6,651.2" stroke="#222" stroke-width="1.1" fill="none"/>
<path d="M30.4,609.4 L28.4,614.4 L32.4,614.4 Z M73.6,651.2 L68.6,649.2 L68.6,653.2 Z" fill="#222"/>
<text transform="translate(25.8,651.2) rotate(-90)" font-size="8.2" font-weight="bold" fill="#222" textLength="12.2" lengthAdjust="spacingAndGlyphs">SELP</text>
<text x="30.8" y="661.8" font-size="8.2" text-anchor="start" fill="#222" font-weight="bold" textLength="11" lengthAdjust="spacingAndGlyphs" >GFP</text>
<rect x="102.3" y="598.7" width="46.6" height="46.8" fill="none" stroke="#aaaaaa" stroke-width="0.7"/>
<line x1="127.4" y1="598.7" x2="127.4" y2="645.5" stroke="#8e8e8e" stroke-width="0.65" />
<line x1="102.3" y1="623" x2="148.9" y2="623" stroke="#8e8e8e" stroke-width="0.65" />
<text x="103.7" y="602.7" font-size="5.6" text-anchor="start" fill="#333" >30,9</text>
<text x="147.9" y="602.7" font-size="5.6" text-anchor="end" fill="#333" >16,3</text>
<text x="103.7" y="644.5" font-size="5.6" text-anchor="start" fill="#333" >52,3</text>
<text x="147.9" y="644.5" font-size="5.6" text-anchor="end" fill="#333" >0,42</text>
<path d="M126.73,613.38h0.8v0.8h-0.8zM120.7,617.35h0.8v0.8h-0.8zM116.45,608.49h0.8v0.8h-0.8zM116.24,608.28h0.8v0.8h-0.8zM119.37,617.43h0.8v0.8h-0.8zM107.24,609.82h0.8v0.8h-0.8zM116.36,606.56h0.8v0.8h-0.8zM128.62,613.94h0.8v0.8h-0.8zM122.42,615.79h0.8v0.8h-0.8zM121.84,617.19h0.8v0.8h-0.8zM103.23,611.81h0.8v0.8h-0.8zM121.09,616.51h0.8v0.8h-0.8zM112.45,608.85h0.8v0.8h-0.8zM128.73,614.06h0.8v0.8h-0.8zM110.42,617.07h0.8v0.8h-0.8zM102.92,609.05h0.8v0.8h-0.8zM103.96,610.02h0.8v0.8h-0.8zM114.11,616.44h0.8v0.8h-0.8zM110,608.79h0.8v0.8h-0.8zM125.95,613.95h0.8v0.8h-0.8zM131.81,613.5h0.8v0.8h-0.8zM117.14,607.2h0.8v0.8h-0.8z" fill="#8a8aff"/>
<path d="M119.38,609.73h0.8v0.8h-0.8zM124.41,614.42h0.8v0.8h-0.8zM121.83,610.03h0.8v0.8h-0.8zM125.43,610.94h0.8v0.8h-0.8zM125.33,613.91h0.8v0.8h-0.8zM122.45,616.83h0.8v0.8h-0.8zM126.04,614.01h0.8v0.8h-0.8zM108.54,609.68h0.8v0.8h-0.8zM111.83,608.51h0.8v0.8h-0.8zM124.35,613.16h0.8v0.8h-0.8zM107.1,614.98h0.8v0.8h-0.8zM127.48,610.81h0.8v0.8h-0.8zM124.6,613.52h0.8v0.8h-0.8zM127.81,614.72h0.8v0.8h-0.8zM122.11,615.84h0.8v0.8h-0.8zM119.4,617.33h0.8v0.8h-0.8zM125.18,614.39h0.8v0.8h-0.8zM125,615.73h0.8v0.8h-0.8zM105.97,613.51h0.8v0.8h-0.8zM108.49,607.65h0.8v0.8h-0.8zM124.14,612.27h0.8v0.8h-0.8zM129.67,610.71h0.8v0.8h-0.8zM116.84,616.91h0.8v0.8h-0.8zM112.51,617.05h0.8v0.8h-0.8zM117.04,616.2h0.8v0.8h-0.8zM102.92,612.73h0.8v0.8h-0.8zM111.82,609.46h0.8v0.8h-0.8zM102.93,610.19h0.8v0.8h-0.8zM121.25,617.72h0.8v0.8h-0.8zM106.84,613.29h0.8v0.8h-0.8zM106.14,610.8h0.8v0.8h-0.8zM108.56,615.59h0.8v0.8h-0.8zM115.87,609.72h0.8v0.8h-0.8zM124.72,611.91h0.8v0.8h-0.8zM127.91,611.61h0.8v0.8h-0.8zM119.6,615.76h0.8v0.8h-0.8zM119.56,609.16h0.8v0.8h-0.8zM125.54,611.06h0.8v0.8h-0.8zM126.74,611.71h0.8v0.8h-0.8zM106.42,614.15h0.8v0.8h-0.8zM123.05,610.86h0.8v0.8h-0.8zM105.51,610.86h0.8v0.8h-0.8zM111.62,609.1h0.8v0.8h-0.8zM123.89,614.57h0.8v0.8h-0.8zM104.64,613.11h0.8v0.8h-0.8z" fill="#5a5cf2"/>
<path d="M113.31,609.26h0.8v0.8h-0.8zM114.68,609.73h0.8v0.8h-0.8zM112.86,615h0.8v0.8h-0.8zM119.46,614.27h0.8v0.8h-0.8zM110.7,610.23h0.8v0.8h-0.8zM106.63,612.09h0.8v0.8h-0.8zM121.49,611.16h0.8v0.8h-0.8zM113.24,615.05h0.8v0.8h-0.8zM123.3,612h0.8v0.8h-0.8zM123.31,612.97h0.8v0.8h-0.8zM122.81,613.35h0.8v0.8h-0.8zM105.23,613.41h0.8v0.8h-0.8zM110.98,615.51h0.8v0.8h-0.8zM112.25,611.14h0.8v0.8h-0.8zM119.04,610.24h0.8v0.8h-0.8zM109.66,611.21h0.8v0.8h-0.8zM118.36,614.22h0.8v0.8h-0.8zM107.92,613.02h0.8v0.8h-0.8zM111.67,614.04h0.8v0.8h-0.8zM122.01,615.09h0.8v0.8h-0.8zM124.39,614.5h0.8v0.8h-0.8zM116.06,615.69h0.8v0.8h-0.8zM110.34,610.47h0.8v0.8h-0.8zM105.6,612.73h0.8v0.8h-0.8zM111.9,609.72h0.8v0.8h-0.8zM112.59,610.43h0.8v0.8h-0.8zM122.32,613.3h0.8v0.8h-0.8zM110.39,615.46h0.8v0.8h-0.8zM120.27,614.9h0.8v0.8h-0.8zM121.67,614.52h0.8v0.8h-0.8zM118.68,610.55h0.8v0.8h-0.8zM115.36,609.51h0.8v0.8h-0.8zM121.34,614.48h0.8v0.8h-0.8zM114.78,616.44h0.8v0.8h-0.8zM122.34,610.35h0.8v0.8h-0.8zM113.31,615.74h0.8v0.8h-0.8zM123.44,613.44h0.8v0.8h-0.8zM114.88,615.09h0.8v0.8h-0.8zM125.02,612.31h0.8v0.8h-0.8zM124.57,613.13h0.8v0.8h-0.8zM120.49,614.83h0.8v0.8h-0.8zM110.49,610.19h0.8v0.8h-0.8zM112.95,609.44h0.8v0.8h-0.8zM121.64,613.48h0.8v0.8h-0.8zM125.25,612.74h0.8v0.8h-0.8zM123.16,611.1h0.8v0.8h-0.8zM106.67,610.23h0.8v0.8h-0.8zM118.48,614.84h0.8v0.8h-0.8zM114.66,609.67h0.8v0.8h-0.8zM118.65,615.64h0.8v0.8h-0.8zM109.63,614.01h0.8v0.8h-0.8zM114.59,609.63h0.8v0.8h-0.8zM114.29,615.89h0.8v0.8h-0.8zM114.5,608.88h0.8v0.8h-0.8zM111.87,611.4h0.8v0.8h-0.8zM109.56,608.67h0.8v0.8h-0.8zM108.66,612.44h0.8v0.8h-0.8zM122.95,610.44h0.8v0.8h-0.8zM110.53,613.66h0.8v0.8h-0.8zM107.34,614.57h0.8v0.8h-0.8zM109.6,610.03h0.8v0.8h-0.8zM118.6,611.16h0.8v0.8h-0.8zM111.59,610.13h0.8v0.8h-0.8zM119.76,610.95h0.8v0.8h-0.8zM107.66,612.3h0.8v0.8h-0.8zM113.97,615.85h0.8v0.8h-0.8zM108.14,612.39h0.8v0.8h-0.8zM115.75,615.24h0.8v0.8h-0.8zM107.87,613.87h0.8v0.8h-0.8zM114.23,610.64h0.8v0.8h-0.8zM109.39,611.12h0.8v0.8h-0.8zM112.72,610.81h0.8v0.8h-0.8zM105.57,612h0.8v0.8h-0.8zM112.59,615.61h0.8v0.8h-0.8zM124.07,611.9h0.8v0.8h-0.8zM105.9,613.79h0.8v0.8h-0.8zM114.22,610.03h0.8v0.8h-0.8zM122.16,613.95h0.8v0.8h-0.8zM120.19,610.52h0.8v0.8h-0.8zM109.18,613.4h0.8v0.8h-0.8zM108.89,615.35h0.8v0.8h-0.8zM125.2,613.24h0.8v0.8h-0.8zM121.75,614.8h0.8v0.8h-0.8zM116.04,616.33h0.8v0.8h-0.8zM114.83,615.33h0.8v0.8h-0.8zM117.24,615.55h0.8v0.8h-0.8zM106.11,611.97h0.8v0.8h-0.8zM109.44,612.88h0.8v0.8h-0.8zM121.61,610.54h0.8v0.8h-0.8zM116.33,609.11h0.8v0.8h-0.8zM106.31,610.18h0.8v0.8h-0.8zM124.2,612.99h0.8v0.8h-0.8zM109.59,612.04h0.8v0.8h-0.8z" fill="#3a72f0"/>
<path d="M120.77,612.83h0.8v0.8h-0.8zM112.18,613.39h0.8v0.8h-0.8zM112.47,612.4h0.8v0.8h-0.8zM106.88,611.09h0.8v0.8h-0.8zM118.11,611.13h0.8v0.8h-0.8zM118.63,611.65h0.8v0.8h-0.8zM111.29,614h0.8v0.8h-0.8zM117.03,611.68h0.8v0.8h-0.8zM109.78,613.51h0.8v0.8h-0.8zM119.34,612.04h0.8v0.8h-0.8zM115.9,611.94h0.8v0.8h-0.8zM109.03,613.15h0.8v0.8h-0.8zM117.09,614.76h0.8v0.8h-0.8zM111.5,612.59h0.8v0.8h-0.8zM120.48,612.29h0.8v0.8h-0.8zM121.21,612.94h0.8v0.8h-0.8zM110.38,612.74h0.8v0.8h-0.8zM112.84,610.26h0.8v0.8h-0.8zM111.54,612.96h0.8v0.8h-0.8zM116.69,612.09h0.8v0.8h-0.8zM114.49,610.75h0.8v0.8h-0.8zM114.94,614.12h0.8v0.8h-0.8zM119.76,613.99h0.8v0.8h-0.8zM113.99,614.03h0.8v0.8h-0.8zM108.47,612.04h0.8v0.8h-0.8zM109.68,613.57h0.8v0.8h-0.8zM110.92,612.3h0.8v0.8h-0.8zM108.21,612.29h0.8v0.8h-0.8zM119.46,612.19h0.8v0.8h-0.8zM117.31,614.41h0.8v0.8h-0.8zM108.85,611.71h0.8v0.8h-0.8zM113.32,610.13h0.8v0.8h-0.8zM120.54,613.27h0.8v0.8h-0.8zM115.68,610.13h0.8v0.8h-0.8zM117.3,611.51h0.8v0.8h-0.8zM115.06,611.07h0.8v0.8h-0.8zM118.35,611.24h0.8v0.8h-0.8zM110.23,613.95h0.8v0.8h-0.8zM112.41,611.57h0.8v0.8h-0.8zM117.75,615.31h0.8v0.8h-0.8zM116.83,615.15h0.8v0.8h-0.8zM117.88,614.62h0.8v0.8h-0.8zM108.33,614.62h0.8v0.8h-0.8zM115.42,615.58h0.8v0.8h-0.8zM111.67,614.22h0.8v0.8h-0.8zM121.09,612.7h0.8v0.8h-0.8zM122.81,612.65h0.8v0.8h-0.8zM115.17,614.09h0.8v0.8h-0.8zM108.57,612.86h0.8v0.8h-0.8zM121.16,611.45h0.8v0.8h-0.8zM112.13,612.46h0.8v0.8h-0.8zM116.87,612.44h0.8v0.8h-0.8zM112.41,611.59h0.8v0.8h-0.8zM114.57,611.28h0.8v0.8h-0.8zM111.06,612.12h0.8v0.8h-0.8zM108.35,611.84h0.8v0.8h-0.8zM107.69,613.55h0.8v0.8h-0.8zM118.62,612.7h0.8v0.8h-0.8zM122.17,614.32h0.8v0.8h-0.8zM119.56,610.32h0.8v0.8h-0.8zM116.63,614.07h0.8v0.8h-0.8zM120.12,612.12h0.8v0.8h-0.8zM121.33,614.33h0.8v0.8h-0.8zM120.44,613.74h0.8v0.8h-0.8zM117.53,611.11h0.8v0.8h-0.8zM117.64,614.58h0.8v0.8h-0.8zM118.59,611.92h0.8v0.8h-0.8zM110.5,612.05h0.8v0.8h-0.8zM117.6,614.88h0.8v0.8h-0.8zM116.83,611.8h0.8v0.8h-0.8zM121.82,613.24h0.8v0.8h-0.8zM122.11,611.98h0.8v0.8h-0.8zM119.75,611.5h0.8v0.8h-0.8zM115.35,610.86h0.8v0.8h-0.8zM113.58,614.89h0.8v0.8h-0.8zM117.93,610.82h0.8v0.8h-0.8zM121.61,612.15h0.8v0.8h-0.8zM108.19,613.59h0.8v0.8h-0.8zM117.03,613.9h0.8v0.8h-0.8zM120.48,611.9h0.8v0.8h-0.8zM121.24,612.09h0.8v0.8h-0.8zM113.02,611.86h0.8v0.8h-0.8zM116.64,611.51h0.8v0.8h-0.8zM108.69,613.2h0.8v0.8h-0.8zM108.14,610.53h0.8v0.8h-0.8zM122.38,613.87h0.8v0.8h-0.8zM117.12,611.37h0.8v0.8h-0.8zM118.2,611.56h0.8v0.8h-0.8zM112.55,612.57h0.8v0.8h-0.8zM116.29,613.77h0.8v0.8h-0.8zM119.34,611.16h0.8v0.8h-0.8zM114.75,614.38h0.8v0.8h-0.8zM120.81,614.39h0.8v0.8h-0.8zM111.25,612.13h0.8v0.8h-0.8zM117.48,612.97h0.8v0.8h-0.8zM119.27,611.91h0.8v0.8h-0.8zM112.93,610.21h0.8v0.8h-0.8zM111.57,611.94h0.8v0.8h-0.8zM108.36,612.3h0.8v0.8h-0.8zM121.91,611.93h0.8v0.8h-0.8zM118.21,614.19h0.8v0.8h-0.8zM119.1,613.43h0.8v0.8h-0.8zM108.76,610.94h0.8v0.8h-0.8zM118.51,614.19h0.8v0.8h-0.8zM121.02,613.64h0.8v0.8h-0.8zM111.17,613.32h0.8v0.8h-0.8zM117.11,610.42h0.8v0.8h-0.8zM118.34,613.61h0.8v0.8h-0.8zM121.19,613.32h0.8v0.8h-0.8zM112.12,612.42h0.8v0.8h-0.8zM117.8,610.46h0.8v0.8h-0.8zM112.96,613.96h0.8v0.8h-0.8zM111.85,613.54h0.8v0.8h-0.8zM118.56,612.53h0.8v0.8h-0.8zM122.18,613.8h0.8v0.8h-0.8zM119.9,612.84h0.8v0.8h-0.8zM122.76,611.76h0.8v0.8h-0.8zM119.87,611.99h0.8v0.8h-0.8zM116.88,614.17h0.8v0.8h-0.8zM113.16,611.03h0.8v0.8h-0.8zM113.71,614.82h0.8v0.8h-0.8zM109.45,612.8h0.8v0.8h-0.8zM119.49,613.61h0.8v0.8h-0.8zM118.13,613.59h0.8v0.8h-0.8zM116.99,612.11h0.8v0.8h-0.8zM116.1,614.13h0.8v0.8h-0.8zM114.86,613.92h0.8v0.8h-0.8zM117.32,610.72h0.8v0.8h-0.8zM112.96,610.83h0.8v0.8h-0.8zM120.92,611.84h0.8v0.8h-0.8zM113.1,610.25h0.8v0.8h-0.8zM117.1,612.57h0.8v0.8h-0.8z" fill="#30a8f0"/>
<path d="M115.59,611.98h0.8v0.8h-0.8zM118.29,612.04h0.8v0.8h-0.8zM111.1,612.19h0.8v0.8h-0.8zM114.28,611.88h0.8v0.8h-0.8zM117.16,611.94h0.8v0.8h-0.8zM117.85,613.47h0.8v0.8h-0.8zM113.04,613.75h0.8v0.8h-0.8zM111.51,610.99h0.8v0.8h-0.8zM112.04,610.71h0.8v0.8h-0.8zM111.99,613.43h0.8v0.8h-0.8zM112.47,614.52h0.8v0.8h-0.8zM114.28,613.91h0.8v0.8h-0.8zM117.58,612.85h0.8v0.8h-0.8zM118.13,613.33h0.8v0.8h-0.8zM115.93,613.94h0.8v0.8h-0.8zM112.43,613.86h0.8v0.8h-0.8zM117.06,612.89h0.8v0.8h-0.8zM116.06,612.79h0.8v0.8h-0.8zM113.11,614h0.8v0.8h-0.8zM112.26,613.13h0.8v0.8h-0.8zM117.76,612.97h0.8v0.8h-0.8zM112.57,611.91h0.8v0.8h-0.8zM111.38,612.2h0.8v0.8h-0.8zM114.86,611.44h0.8v0.8h-0.8zM110.41,612.7h0.8v0.8h-0.8zM111.36,611.38h0.8v0.8h-0.8zM117.6,613.81h0.8v0.8h-0.8zM117.97,613.58h0.8v0.8h-0.8zM113.8,610.93h0.8v0.8h-0.8zM117.36,614.26h0.8v0.8h-0.8zM117,612.8h0.8v0.8h-0.8zM116.84,610.93h0.8v0.8h-0.8zM109.52,612.53h0.8v0.8h-0.8zM114.42,614.36h0.8v0.8h-0.8zM115.13,612.29h0.8v0.8h-0.8zM119.21,612.88h0.8v0.8h-0.8zM119.07,612h0.8v0.8h-0.8zM113.9,612.52h0.8v0.8h-0.8zM112.83,612.19h0.8v0.8h-0.8zM113.65,612.51h0.8v0.8h-0.8zM117.32,612.91h0.8v0.8h-0.8zM114.26,613.84h0.8v0.8h-0.8zM111.92,611.58h0.8v0.8h-0.8zM112.81,613.47h0.8v0.8h-0.8zM112.67,611.69h0.8v0.8h-0.8zM117.11,612.43h0.8v0.8h-0.8zM112.7,613.55h0.8v0.8h-0.8zM116.35,611.94h0.8v0.8h-0.8zM109.77,611.83h0.8v0.8h-0.8zM117.88,613.55h0.8v0.8h-0.8zM114.49,613.62h0.8v0.8h-0.8zM111.27,612.58h0.8v0.8h-0.8zM115.1,613.61h0.8v0.8h-0.8zM111.44,611.75h0.8v0.8h-0.8zM113.41,612.78h0.8v0.8h-0.8zM112.91,610.68h0.8v0.8h-0.8zM111.74,611.66h0.8v0.8h-0.8zM112.25,613.66h0.8v0.8h-0.8zM115.24,612.39h0.8v0.8h-0.8zM113.3,612.82h0.8v0.8h-0.8zM117.45,614.18h0.8v0.8h-0.8zM111.62,611.3h0.8v0.8h-0.8zM118.79,613.1h0.8v0.8h-0.8zM119,611.3h0.8v0.8h-0.8zM117.35,613.58h0.8v0.8h-0.8zM109.93,612.03h0.8v0.8h-0.8zM112.47,614.3h0.8v0.8h-0.8zM117.5,612.39h0.8v0.8h-0.8zM114.01,611.97h0.8v0.8h-0.8z" fill="#2cd0c8"/>
<path d="M113.21,612.86h0.8v0.8h-0.8zM114.65,612.17h0.8v0.8h-0.8zM113.72,612.51h0.8v0.8h-0.8zM113.35,612.4h0.8v0.8h-0.8zM112.94,612.59h0.8v0.8h-0.8zM115.69,612.85h0.8v0.8h-0.8zM112.74,612.07h0.8v0.8h-0.8zM114.44,613.1h0.8v0.8h-0.8zM114.9,611.96h0.8v0.8h-0.8zM114.94,612.97h0.8v0.8h-0.8zM113.57,612.69h0.8v0.8h-0.8zM112.52,612.28h0.8v0.8h-0.8zM115.06,612.86h0.8v0.8h-0.8zM116.15,612.6h0.8v0.8h-0.8zM116.72,612.14h0.8v0.8h-0.8zM114.88,613.12h0.8v0.8h-0.8z" fill="#48d058"/>
<path d="M130.84,623.07h0.8v0.8h-0.8zM137.12,612.09h0.8v0.8h-0.8zM129,615.16h0.8v0.8h-0.8zM125.81,618.86h0.8v0.8h-0.8zM140.49,621.92h0.8v0.8h-0.8zM129.78,613.88h0.8v0.8h-0.8zM134.66,613.45h0.8v0.8h-0.8zM134.1,621.25h0.8v0.8h-0.8zM142.78,612.87h0.8v0.8h-0.8zM142.27,620.68h0.8v0.8h-0.8zM125.25,619.49h0.8v0.8h-0.8z" fill="#8a8aff"/>
<path d="M131.14,617.42h0.8v0.8h-0.8zM131.9,619.84h0.8v0.8h-0.8zM146.58,619.67h0.8v0.8h-0.8zM135.8,613.66h0.8v0.8h-0.8zM135.01,615.08h0.8v0.8h-0.8zM142.04,614.56h0.8v0.8h-0.8zM136.43,620.32h0.8v0.8h-0.8zM131.09,617.26h0.8v0.8h-0.8zM140.73,610.18h0.8v0.8h-0.8zM133.32,619.78h0.8v0.8h-0.8zM127.32,618.56h0.8v0.8h-0.8zM142.72,621.38h0.8v0.8h-0.8zM133.59,615.46h0.8v0.8h-0.8zM135.12,613.62h0.8v0.8h-0.8zM142.87,612.91h0.8v0.8h-0.8zM133.07,612.4h0.8v0.8h-0.8zM136.08,621.04h0.8v0.8h-0.8zM128.84,618.01h0.8v0.8h-0.8zM141.82,613.9h0.8v0.8h-0.8zM128.51,616.51h0.8v0.8h-0.8zM129.06,617.19h0.8v0.8h-0.8zM129.4,618.57h0.8v0.8h-0.8zM133.46,622.05h0.8v0.8h-0.8zM129.4,616.69h0.8v0.8h-0.8zM144.11,619.79h0.8v0.8h-0.8zM142.97,614.13h0.8v0.8h-0.8zM138.85,619.88h0.8v0.8h-0.8zM144.47,618.84h0.8v0.8h-0.8zM135.8,622.04h0.8v0.8h-0.8zM141.72,613.43h0.8v0.8h-0.8zM125.75,619h0.8v0.8h-0.8zM136.92,622.25h0.8v0.8h-0.8zM137.16,620.69h0.8v0.8h-0.8zM146.41,616.12h0.8v0.8h-0.8zM130.79,616.01h0.8v0.8h-0.8zM146.46,617.27h0.8v0.8h-0.8zM141.94,614.1h0.8v0.8h-0.8zM144.28,613.73h0.8v0.8h-0.8zM146.02,621.73h0.8v0.8h-0.8zM138.59,622.49h0.8v0.8h-0.8zM143.44,615.02h0.8v0.8h-0.8z" fill="#5a5cf2"/>
<path d="M134.12,620.47h0.8v0.8h-0.8zM132.24,619.63h0.8v0.8h-0.8zM145.13,615.99h0.8v0.8h-0.8zM131.8,616.12h0.8v0.8h-0.8zM144.87,616.25h0.8v0.8h-0.8zM143.95,619.68h0.8v0.8h-0.8zM144.35,618.59h0.8v0.8h-0.8zM144.32,616.23h0.8v0.8h-0.8zM134.54,618.55h0.8v0.8h-0.8zM144.05,613.3h0.8v0.8h-0.8zM134.79,618.5h0.8v0.8h-0.8zM138.05,615.52h0.8v0.8h-0.8zM131.68,618.07h0.8v0.8h-0.8zM131.36,619.77h0.8v0.8h-0.8zM145.7,616.88h0.8v0.8h-0.8zM136.16,616.18h0.8v0.8h-0.8zM135.23,615.85h0.8v0.8h-0.8zM128.98,619.71h0.8v0.8h-0.8zM136.62,615.46h0.8v0.8h-0.8zM146.37,617.63h0.8v0.8h-0.8zM134.53,617.02h0.8v0.8h-0.8zM139.64,619.62h0.8v0.8h-0.8zM140.01,619.34h0.8v0.8h-0.8zM146.87,617.33h0.8v0.8h-0.8zM131.82,620.32h0.8v0.8h-0.8zM134.09,618.88h0.8v0.8h-0.8zM139.27,619.38h0.8v0.8h-0.8zM132.2,621.27h0.8v0.8h-0.8zM145.56,615.7h0.8v0.8h-0.8zM131.47,617.81h0.8v0.8h-0.8zM132.62,618.64h0.8v0.8h-0.8zM143.42,616.72h0.8v0.8h-0.8zM130.11,617.64h0.8v0.8h-0.8zM134.19,619.49h0.8v0.8h-0.8zM134.36,619.46h0.8v0.8h-0.8zM133.44,618.49h0.8v0.8h-0.8zM134.48,618.8h0.8v0.8h-0.8zM131.41,617.7h0.8v0.8h-0.8zM143.11,619h0.8v0.8h-0.8zM132.03,621.38h0.8v0.8h-0.8zM144.02,618.1h0.8v0.8h-0.8zM133.17,619.71h0.8v0.8h-0.8zM129.77,618.99h0.8v0.8h-0.8zM133.24,615.1h0.8v0.8h-0.8zM135.39,614.87h0.8v0.8h-0.8zM141.62,617.19h0.8v0.8h-0.8zM130.89,619.44h0.8v0.8h-0.8zM134.6,615.73h0.8v0.8h-0.8zM135,619.74h0.8v0.8h-0.8zM142.3,619.36h0.8v0.8h-0.8zM143.49,618.47h0.8v0.8h-0.8zM145.92,614.93h0.8v0.8h-0.8zM144.18,615.68h0.8v0.8h-0.8zM145.17,615.42h0.8v0.8h-0.8zM138.84,620.36h0.8v0.8h-0.8zM145.03,615.49h0.8v0.8h-0.8zM136.83,619.47h0.8v0.8h-0.8zM135.79,618.28h0.8v0.8h-0.8zM135.63,617.21h0.8v0.8h-0.8zM138.07,615.32h0.8v0.8h-0.8zM136.11,615.56h0.8v0.8h-0.8zM144.68,618.49h0.8v0.8h-0.8zM135,618.35h0.8v0.8h-0.8zM136.23,621.02h0.8v0.8h-0.8zM136.16,614.19h0.8v0.8h-0.8zM143.49,616.08h0.8v0.8h-0.8zM136.84,614.84h0.8v0.8h-0.8zM136.53,616.14h0.8v0.8h-0.8zM146.71,617.83h0.8v0.8h-0.8zM134.33,618.26h0.8v0.8h-0.8zM131.12,620.21h0.8v0.8h-0.8zM144.16,614.11h0.8v0.8h-0.8zM138.17,619.98h0.8v0.8h-0.8zM143.79,617.39h0.8v0.8h-0.8zM143.48,614.21h0.8v0.8h-0.8zM130.28,617.75h0.8v0.8h-0.8zM139.95,615.96h0.8v0.8h-0.8zM131.74,617.12h0.8v0.8h-0.8zM140.71,618.93h0.8v0.8h-0.8zM133.31,615.88h0.8v0.8h-0.8zM140.97,619.55h0.8v0.8h-0.8zM137.41,619.2h0.8v0.8h-0.8zM135.91,620.18h0.8v0.8h-0.8zM134.07,617.08h0.8v0.8h-0.8zM130.22,619.71h0.8v0.8h-0.8zM144.53,615.64h0.8v0.8h-0.8zM138.29,614.25h0.8v0.8h-0.8zM138.09,618.88h0.8v0.8h-0.8zM146.77,618.77h0.8v0.8h-0.8zM134.01,620.08h0.8v0.8h-0.8zM132.24,617.44h0.8v0.8h-0.8zM137.44,620h0.8v0.8h-0.8zM129.91,619.25h0.8v0.8h-0.8z" fill="#3a72f0"/>
<path d="M141.58,617.91h0.8v0.8h-0.8zM138.29,616.18h0.8v0.8h-0.8zM139.17,616.6h0.8v0.8h-0.8zM140,616.4h0.8v0.8h-0.8zM137.61,619.9h0.8v0.8h-0.8zM133.95,617.86h0.8v0.8h-0.8zM136.58,619.21h0.8v0.8h-0.8zM139.8,616.01h0.8v0.8h-0.8zM142.87,617.7h0.8v0.8h-0.8zM140.91,615.28h0.8v0.8h-0.8zM143.33,615.93h0.8v0.8h-0.8zM143.04,617.13h0.8v0.8h-0.8zM134.53,617.95h0.8v0.8h-0.8zM134.2,617.62h0.8v0.8h-0.8zM143.2,618.01h0.8v0.8h-0.8zM140.88,615.29h0.8v0.8h-0.8zM140.08,618.91h0.8v0.8h-0.8zM133.54,616.67h0.8v0.8h-0.8zM144.25,616.98h0.8v0.8h-0.8zM131.35,618.18h0.8v0.8h-0.8zM132.74,617.18h0.8v0.8h-0.8zM137.13,616.96h0.8v0.8h-0.8zM136.64,616.38h0.8v0.8h-0.8zM135.53,618.13h0.8v0.8h-0.8zM141.13,617.79h0.8v0.8h-0.8zM139.22,618.37h0.8v0.8h-0.8zM137.92,616.82h0.8v0.8h-0.8zM133.55,618.93h0.8v0.8h-0.8zM140.67,619.3h0.8v0.8h-0.8zM136.56,618.9h0.8v0.8h-0.8zM138.83,616.65h0.8v0.8h-0.8zM140.62,615.71h0.8v0.8h-0.8zM139.94,615.51h0.8v0.8h-0.8zM140.01,616.17h0.8v0.8h-0.8zM134.08,617.01h0.8v0.8h-0.8zM138.05,618.31h0.8v0.8h-0.8zM141.23,619.38h0.8v0.8h-0.8zM141.01,617.89h0.8v0.8h-0.8zM136.4,615.95h0.8v0.8h-0.8zM134.79,617.14h0.8v0.8h-0.8zM143.16,619.16h0.8v0.8h-0.8zM140.1,617.92h0.8v0.8h-0.8zM144.43,615.99h0.8v0.8h-0.8zM138.74,618.85h0.8v0.8h-0.8zM134.13,619.34h0.8v0.8h-0.8zM135.58,619.48h0.8v0.8h-0.8zM141.38,619.34h0.8v0.8h-0.8zM139.4,618.98h0.8v0.8h-0.8zM141.56,618.43h0.8v0.8h-0.8zM136.49,616.83h0.8v0.8h-0.8zM138.84,617.19h0.8v0.8h-0.8zM137.16,614.35h0.8v0.8h-0.8zM141.7,616.97h0.8v0.8h-0.8zM143.02,617.87h0.8v0.8h-0.8zM134.38,617.11h0.8v0.8h-0.8zM138.45,614.47h0.8v0.8h-0.8zM139.24,616.45h0.8v0.8h-0.8zM139.1,615.57h0.8v0.8h-0.8zM140.76,618.73h0.8v0.8h-0.8zM141.7,616.98h0.8v0.8h-0.8zM137.05,618.73h0.8v0.8h-0.8zM135.15,618.72h0.8v0.8h-0.8zM142.6,618.07h0.8v0.8h-0.8zM140.47,618.36h0.8v0.8h-0.8zM140.97,614.9h0.8v0.8h-0.8zM134.2,616.74h0.8v0.8h-0.8zM135.63,618.18h0.8v0.8h-0.8zM140.23,616.09h0.8v0.8h-0.8zM140.58,615.99h0.8v0.8h-0.8zM136.07,616.67h0.8v0.8h-0.8zM140.86,615.76h0.8v0.8h-0.8zM134.24,618h0.8v0.8h-0.8zM133.81,617.52h0.8v0.8h-0.8zM137.53,616.23h0.8v0.8h-0.8zM138.66,616.8h0.8v0.8h-0.8zM137.73,617.48h0.8v0.8h-0.8zM133.84,618.52h0.8v0.8h-0.8zM137.98,616.64h0.8v0.8h-0.8zM132.52,617.75h0.8v0.8h-0.8zM143.27,619.39h0.8v0.8h-0.8zM135.01,616.16h0.8v0.8h-0.8zM132.74,618.34h0.8v0.8h-0.8zM139.99,615.11h0.8v0.8h-0.8zM134.13,618.11h0.8v0.8h-0.8zM141.32,616.21h0.8v0.8h-0.8zM141.81,618.17h0.8v0.8h-0.8zM136.52,615.99h0.8v0.8h-0.8zM135.88,618.64h0.8v0.8h-0.8zM140.7,616.91h0.8v0.8h-0.8zM139.51,616.24h0.8v0.8h-0.8zM144.29,615.76h0.8v0.8h-0.8zM135.93,617.53h0.8v0.8h-0.8zM139.3,619.59h0.8v0.8h-0.8zM135.54,616.12h0.8v0.8h-0.8zM140.29,618.61h0.8v0.8h-0.8zM138.42,616.04h0.8v0.8h-0.8zM131.77,618.18h0.8v0.8h-0.8zM135.09,619.77h0.8v0.8h-0.8zM138.27,616.44h0.8v0.8h-0.8zM136.21,616.69h0.8v0.8h-0.8zM141.22,617.55h0.8v0.8h-0.8zM142.96,615.58h0.8v0.8h-0.8z" fill="#30a8f0"/>
<path d="M137.82,616.65h0.8v0.8h-0.8zM136.8,617.62h0.8v0.8h-0.8zM138.37,617.16h0.8v0.8h-0.8zM142.09,616.72h0.8v0.8h-0.8zM136.72,616.67h0.8v0.8h-0.8zM140.78,616.31h0.8v0.8h-0.8zM135.68,617.25h0.8v0.8h-0.8zM141.12,616.33h0.8v0.8h-0.8zM137.64,617.71h0.8v0.8h-0.8zM138.28,617.77h0.8v0.8h-0.8zM139.1,616.9h0.8v0.8h-0.8zM136.22,617.3h0.8v0.8h-0.8zM137.89,617.34h0.8v0.8h-0.8zM138.02,618.33h0.8v0.8h-0.8zM135.51,617.52h0.8v0.8h-0.8zM138.06,617.28h0.8v0.8h-0.8zM138.55,617.43h0.8v0.8h-0.8zM140.85,616.49h0.8v0.8h-0.8zM135.78,618.51h0.8v0.8h-0.8zM135.87,617.57h0.8v0.8h-0.8zM136.6,617.69h0.8v0.8h-0.8zM136.38,617.21h0.8v0.8h-0.8zM139.21,617.46h0.8v0.8h-0.8zM134.26,618h0.8v0.8h-0.8zM140.88,617.55h0.8v0.8h-0.8zM140.28,616.97h0.8v0.8h-0.8zM137.54,616.78h0.8v0.8h-0.8zM137.09,617.11h0.8v0.8h-0.8zM141.89,617.07h0.8v0.8h-0.8zM142.36,616.41h0.8v0.8h-0.8zM137.76,617.37h0.8v0.8h-0.8zM139.23,618.64h0.8v0.8h-0.8zM136.93,618.41h0.8v0.8h-0.8zM138.33,616.08h0.8v0.8h-0.8zM137.8,617.42h0.8v0.8h-0.8zM135.05,617.84h0.8v0.8h-0.8zM138.94,618.39h0.8v0.8h-0.8zM136.95,618.04h0.8v0.8h-0.8z" fill="#2cd0c8"/>
<path d="M139.33,617.39h0.8v0.8h-0.8zM137.99,617.23h0.8v0.8h-0.8z" fill="#48d058"/>
<path d="M113.88,626.8h0.8v0.8h-0.8zM117.69,636.6h0.8v0.8h-0.8zM107.49,631h0.8v0.8h-0.8zM118.71,628.01h0.8v0.8h-0.8zM107.36,632.51h0.8v0.8h-0.8zM111.91,626.41h0.8v0.8h-0.8zM119.58,633.87h0.8v0.8h-0.8zM117.16,636.87h0.8v0.8h-0.8zM108.42,637.48h0.8v0.8h-0.8zM110.55,637.59h0.8v0.8h-0.8zM120.66,634.27h0.8v0.8h-0.8zM120.43,631.7h0.8v0.8h-0.8zM115.49,637.53h0.8v0.8h-0.8zM115.77,625.79h0.8v0.8h-0.8zM122.54,629.92h0.8v0.8h-0.8zM119.27,636.1h0.8v0.8h-0.8zM107.47,630.99h0.8v0.8h-0.8zM109.07,637.18h0.8v0.8h-0.8zM110.83,637.2h0.8v0.8h-0.8zM109.68,626.75h0.8v0.8h-0.8zM117.91,628.48h0.8v0.8h-0.8zM105.88,632.34h0.8v0.8h-0.8zM117.95,628.01h0.8v0.8h-0.8zM112.24,625.58h0.8v0.8h-0.8zM105.18,634.64h0.8v0.8h-0.8zM115.45,625.96h0.8v0.8h-0.8zM108.82,638.86h0.8v0.8h-0.8zM117.73,628.46h0.8v0.8h-0.8z" fill="#8a8aff"/>
<path d="M117.12,627.65h0.8v0.8h-0.8zM110.83,638.3h0.8v0.8h-0.8zM114.37,624.94h0.8v0.8h-0.8zM112.4,639.15h0.8v0.8h-0.8zM107.2,631.48h0.8v0.8h-0.8zM120.52,632.56h0.8v0.8h-0.8zM107.92,636.71h0.8v0.8h-0.8zM116.71,636.94h0.8v0.8h-0.8zM109.3,625.9h0.8v0.8h-0.8zM106.93,637.28h0.8v0.8h-0.8zM119.26,635.88h0.8v0.8h-0.8zM117.8,638.25h0.8v0.8h-0.8zM120.81,636.37h0.8v0.8h-0.8zM106.1,633.14h0.8v0.8h-0.8z" fill="#5a5cf2"/>
<path d="M118.26,630.22h0.8v0.8h-0.8zM117.83,634.63h0.8v0.8h-0.8zM114.51,627.04h0.8v0.8h-0.8zM109.81,635.41h0.8v0.8h-0.8zM112.25,627.64h0.8v0.8h-0.8zM108.94,635.12h0.8v0.8h-0.8zM115.32,636.95h0.8v0.8h-0.8zM117.15,636.06h0.8v0.8h-0.8zM111.03,636.54h0.8v0.8h-0.8zM111.95,638.08h0.8v0.8h-0.8zM108.37,631.12h0.8v0.8h-0.8zM113.52,626.68h0.8v0.8h-0.8zM117.71,629.2h0.8v0.8h-0.8zM108.59,633.65h0.8v0.8h-0.8zM108.59,630.51h0.8v0.8h-0.8zM117.13,635.02h0.8v0.8h-0.8zM116.78,637.57h0.8v0.8h-0.8zM112.97,627.45h0.8v0.8h-0.8zM117.58,634.59h0.8v0.8h-0.8zM107.66,631.89h0.8v0.8h-0.8zM114.08,637.15h0.8v0.8h-0.8zM107.55,633.36h0.8v0.8h-0.8zM117.17,636.93h0.8v0.8h-0.8zM119.04,629.13h0.8v0.8h-0.8zM118.17,634.48h0.8v0.8h-0.8zM117.62,628.5h0.8v0.8h-0.8zM118.39,629.85h0.8v0.8h-0.8zM109.91,627.44h0.8v0.8h-0.8zM111.61,637.08h0.8v0.8h-0.8zM109.73,636.21h0.8v0.8h-0.8zM107.82,632.07h0.8v0.8h-0.8zM107.87,633.34h0.8v0.8h-0.8zM119.95,632.75h0.8v0.8h-0.8zM109.71,628.62h0.8v0.8h-0.8zM117.59,636.12h0.8v0.8h-0.8zM114.14,636.23h0.8v0.8h-0.8z" fill="#3a72f0"/>
<path d="M109.83,629.16h0.8v0.8h-0.8zM111.89,635.75h0.8v0.8h-0.8zM114.38,636.69h0.8v0.8h-0.8zM108.56,629.92h0.8v0.8h-0.8zM117.23,634.16h0.8v0.8h-0.8zM109.32,633.93h0.8v0.8h-0.8zM109.71,634.3h0.8v0.8h-0.8zM113.67,628.04h0.8v0.8h-0.8zM109.22,630.25h0.8v0.8h-0.8zM112.3,636.42h0.8v0.8h-0.8zM108.99,630.63h0.8v0.8h-0.8zM111.08,634.43h0.8v0.8h-0.8zM111.87,635.52h0.8v0.8h-0.8zM111.17,628.49h0.8v0.8h-0.8zM108.52,632.27h0.8v0.8h-0.8zM110.79,634.64h0.8v0.8h-0.8zM110.23,636.47h0.8v0.8h-0.8zM113.49,627.63h0.8v0.8h-0.8zM115.95,636.23h0.8v0.8h-0.8zM108.38,632.22h0.8v0.8h-0.8zM110.36,634.76h0.8v0.8h-0.8zM109.2,630.51h0.8v0.8h-0.8zM111.36,628.91h0.8v0.8h-0.8zM109.02,632.28h0.8v0.8h-0.8zM115.93,635.42h0.8v0.8h-0.8zM118.84,632.65h0.8v0.8h-0.8zM108.91,631.04h0.8v0.8h-0.8zM118.12,633.9h0.8v0.8h-0.8zM116.84,634.12h0.8v0.8h-0.8zM113.97,627.71h0.8v0.8h-0.8zM112.32,628.64h0.8v0.8h-0.8zM109.04,631.35h0.8v0.8h-0.8zM110.97,628.39h0.8v0.8h-0.8zM109.3,630.88h0.8v0.8h-0.8zM116.78,629.26h0.8v0.8h-0.8zM109.59,630.65h0.8v0.8h-0.8zM117.12,629.93h0.8v0.8h-0.8zM118.11,634.39h0.8v0.8h-0.8zM109.15,631.53h0.8v0.8h-0.8zM111.43,628.3h0.8v0.8h-0.8zM113.44,636.78h0.8v0.8h-0.8zM114.87,629.18h0.8v0.8h-0.8zM109.08,633.42h0.8v0.8h-0.8zM109,632.57h0.8v0.8h-0.8zM109.54,635.2h0.8v0.8h-0.8zM118.23,632.82h0.8v0.8h-0.8zM112.22,628.32h0.8v0.8h-0.8zM112.8,628.63h0.8v0.8h-0.8zM111.24,628.9h0.8v0.8h-0.8zM116.61,634.59h0.8v0.8h-0.8zM116.92,634.26h0.8v0.8h-0.8zM115.83,635.29h0.8v0.8h-0.8zM111.41,634.91h0.8v0.8h-0.8zM113.08,628.69h0.8v0.8h-0.8zM117.45,631.72h0.8v0.8h-0.8zM118.44,631.56h0.8v0.8h-0.8zM108.76,632.54h0.8v0.8h-0.8zM112.65,635.23h0.8v0.8h-0.8zM113.02,636.97h0.8v0.8h-0.8zM110.74,634.93h0.8v0.8h-0.8zM113.84,628.68h0.8v0.8h-0.8zM115.56,635.62h0.8v0.8h-0.8zM112.77,627.94h0.8v0.8h-0.8zM116.01,636.43h0.8v0.8h-0.8zM110.36,629.42h0.8v0.8h-0.8zM117.69,632.91h0.8v0.8h-0.8zM117.8,631.52h0.8v0.8h-0.8zM118.43,631.42h0.8v0.8h-0.8zM114.07,628.6h0.8v0.8h-0.8zM116.03,629.4h0.8v0.8h-0.8zM113.91,627.5h0.8v0.8h-0.8z" fill="#30a8f0"/>
<path d="M112.37,630.49h0.8v0.8h-0.8zM113.17,628.38h0.8v0.8h-0.8zM117.44,630.55h0.8v0.8h-0.8zM113.15,634.94h0.8v0.8h-0.8zM111.72,634.55h0.8v0.8h-0.8zM114.72,628.75h0.8v0.8h-0.8zM115.19,634.97h0.8v0.8h-0.8zM116.66,630.35h0.8v0.8h-0.8zM117.77,632.68h0.8v0.8h-0.8zM115.3,635.23h0.8v0.8h-0.8zM111.62,634.98h0.8v0.8h-0.8zM115.2,630.12h0.8v0.8h-0.8zM115.97,631.13h0.8v0.8h-0.8zM110.41,631.34h0.8v0.8h-0.8zM113.99,634.68h0.8v0.8h-0.8zM111,632.18h0.8v0.8h-0.8zM112.68,629.9h0.8v0.8h-0.8zM112.31,634.12h0.8v0.8h-0.8zM108.58,631.03h0.8v0.8h-0.8zM113.11,634.55h0.8v0.8h-0.8zM112.69,634.7h0.8v0.8h-0.8zM115.72,635.22h0.8v0.8h-0.8zM112.05,630.28h0.8v0.8h-0.8zM116.55,633.07h0.8v0.8h-0.8zM109.54,630.79h0.8v0.8h-0.8zM113.09,628.74h0.8v0.8h-0.8zM117.43,632.16h0.8v0.8h-0.8zM111.85,635.61h0.8v0.8h-0.8zM113.02,636.46h0.8v0.8h-0.8zM117.67,631.86h0.8v0.8h-0.8zM110.37,630.92h0.8v0.8h-0.8zM109.81,631.39h0.8v0.8h-0.8zM114.91,634.75h0.8v0.8h-0.8zM111.66,635.51h0.8v0.8h-0.8zM108.86,630.86h0.8v0.8h-0.8zM117.04,632.64h0.8v0.8h-0.8zM113.42,628.88h0.8v0.8h-0.8zM111.28,635.09h0.8v0.8h-0.8zM114.09,635.16h0.8v0.8h-0.8zM117.23,630.03h0.8v0.8h-0.8zM115.68,635.37h0.8v0.8h-0.8zM111.14,633.85h0.8v0.8h-0.8zM113.13,629.19h0.8v0.8h-0.8zM114.94,634.51h0.8v0.8h-0.8zM116.84,631.14h0.8v0.8h-0.8zM116.2,635.2h0.8v0.8h-0.8zM109.96,629.88h0.8v0.8h-0.8zM115.95,634.91h0.8v0.8h-0.8zM110.2,633.96h0.8v0.8h-0.8zM114.53,636.01h0.8v0.8h-0.8zM116.14,634.14h0.8v0.8h-0.8zM116.54,632.32h0.8v0.8h-0.8zM109.78,631.58h0.8v0.8h-0.8zM112.27,628.82h0.8v0.8h-0.8zM110.86,631.48h0.8v0.8h-0.8zM111.65,634.6h0.8v0.8h-0.8zM111.43,629.73h0.8v0.8h-0.8zM112.49,635.63h0.8v0.8h-0.8zM112.75,635.62h0.8v0.8h-0.8zM109.47,632.32h0.8v0.8h-0.8zM110.4,632.99h0.8v0.8h-0.8zM117.01,632.8h0.8v0.8h-0.8zM110.88,631.65h0.8v0.8h-0.8zM111.79,628.72h0.8v0.8h-0.8zM114.59,634.51h0.8v0.8h-0.8zM109.64,630.96h0.8v0.8h-0.8zM109.39,633.16h0.8v0.8h-0.8zM117.71,633.66h0.8v0.8h-0.8zM116.2,630.31h0.8v0.8h-0.8zM113.88,629.28h0.8v0.8h-0.8zM110.47,633.07h0.8v0.8h-0.8zM113.12,628.43h0.8v0.8h-0.8zM117.89,631.55h0.8v0.8h-0.8zM116.38,634.42h0.8v0.8h-0.8zM115.39,629.79h0.8v0.8h-0.8zM115.71,630.77h0.8v0.8h-0.8zM114.18,634.77h0.8v0.8h-0.8zM116.26,632.48h0.8v0.8h-0.8zM116.04,633.31h0.8v0.8h-0.8zM116.19,630.98h0.8v0.8h-0.8zM113.24,628.76h0.8v0.8h-0.8zM115.76,633.17h0.8v0.8h-0.8zM109.23,632.15h0.8v0.8h-0.8zM109.23,631.38h0.8v0.8h-0.8zM112.28,628.95h0.8v0.8h-0.8z" fill="#2cd0c8"/>
<path d="M112.27,632.99h0.8v0.8h-0.8zM114.61,634.7h0.8v0.8h-0.8zM112.79,630.94h0.8v0.8h-0.8zM110.73,632.92h0.8v0.8h-0.8zM113.44,630.3h0.8v0.8h-0.8zM111.99,634.44h0.8v0.8h-0.8zM113.11,630.05h0.8v0.8h-0.8zM110.35,633.18h0.8v0.8h-0.8zM112.22,630.94h0.8v0.8h-0.8zM113.24,630.68h0.8v0.8h-0.8zM113.94,629.93h0.8v0.8h-0.8zM115.81,631.52h0.8v0.8h-0.8zM112.72,635.1h0.8v0.8h-0.8zM113.82,630.35h0.8v0.8h-0.8zM113.53,630.59h0.8v0.8h-0.8zM113.77,635.44h0.8v0.8h-0.8zM114.65,634.41h0.8v0.8h-0.8zM115.26,633.12h0.8v0.8h-0.8zM115.56,633.31h0.8v0.8h-0.8zM116.44,632.61h0.8v0.8h-0.8zM113.3,630.19h0.8v0.8h-0.8zM113.52,630.02h0.8v0.8h-0.8zM114.05,629.71h0.8v0.8h-0.8zM115.77,630.87h0.8v0.8h-0.8zM116.34,631.42h0.8v0.8h-0.8zM114.23,630.2h0.8v0.8h-0.8zM112.09,631.58h0.8v0.8h-0.8zM115.85,632.24h0.8v0.8h-0.8zM111.36,631.98h0.8v0.8h-0.8zM112.9,634.64h0.8v0.8h-0.8zM113.4,629.31h0.8v0.8h-0.8zM113.5,629.62h0.8v0.8h-0.8zM115.48,630.46h0.8v0.8h-0.8zM117.24,631.57h0.8v0.8h-0.8zM112.65,633.5h0.8v0.8h-0.8zM113.5,634.36h0.8v0.8h-0.8zM115.57,634.13h0.8v0.8h-0.8zM114.87,630.84h0.8v0.8h-0.8zM113.26,634.11h0.8v0.8h-0.8zM113.2,633.59h0.8v0.8h-0.8zM114.76,629.39h0.8v0.8h-0.8zM113.63,629.67h0.8v0.8h-0.8zM112.35,633.01h0.8v0.8h-0.8zM111.55,631.88h0.8v0.8h-0.8zM111.96,631.84h0.8v0.8h-0.8zM116.44,631.91h0.8v0.8h-0.8zM109.94,633.28h0.8v0.8h-0.8zM114.12,629.91h0.8v0.8h-0.8zM110.28,632.78h0.8v0.8h-0.8zM113.33,630.09h0.8v0.8h-0.8zM114.33,634.16h0.8v0.8h-0.8zM115.9,633.93h0.8v0.8h-0.8zM110.72,634.07h0.8v0.8h-0.8zM114.93,629.99h0.8v0.8h-0.8zM116.19,631.34h0.8v0.8h-0.8zM112.89,630.52h0.8v0.8h-0.8zM111.68,634.18h0.8v0.8h-0.8zM116.66,630.72h0.8v0.8h-0.8zM115.23,634.43h0.8v0.8h-0.8zM114.23,633.39h0.8v0.8h-0.8zM115.56,631.2h0.8v0.8h-0.8zM110.82,631.03h0.8v0.8h-0.8zM114.26,630.73h0.8v0.8h-0.8zM114.13,633.58h0.8v0.8h-0.8zM116.51,631.01h0.8v0.8h-0.8zM114.48,634.62h0.8v0.8h-0.8zM112.66,630.79h0.8v0.8h-0.8zM111.16,630.31h0.8v0.8h-0.8zM114.25,634.67h0.8v0.8h-0.8zM114.41,634.64h0.8v0.8h-0.8zM110.95,630.59h0.8v0.8h-0.8zM116.46,633.05h0.8v0.8h-0.8zM111.64,631.44h0.8v0.8h-0.8zM112.61,634.69h0.8v0.8h-0.8zM112.42,630.36h0.8v0.8h-0.8zM112.62,630.38h0.8v0.8h-0.8zM113.52,630.28h0.8v0.8h-0.8zM111.24,632.97h0.8v0.8h-0.8zM115.61,632.55h0.8v0.8h-0.8zM110.91,632.63h0.8v0.8h-0.8zM114.75,634.48h0.8v0.8h-0.8zM114.51,633.57h0.8v0.8h-0.8zM111.48,630.23h0.8v0.8h-0.8zM111.87,630.42h0.8v0.8h-0.8zM111.64,630.1h0.8v0.8h-0.8zM114.02,634.27h0.8v0.8h-0.8zM110.75,631.31h0.8v0.8h-0.8zM111.72,631h0.8v0.8h-0.8zM116.5,632.69h0.8v0.8h-0.8zM115.95,632.96h0.8v0.8h-0.8zM116.2,631.93h0.8v0.8h-0.8zM115.08,634.01h0.8v0.8h-0.8z" fill="#48d058"/>
<path d="M113.31,632.73h0.8v0.8h-0.8zM111.78,630.53h0.8v0.8h-0.8zM112.89,632.93h0.8v0.8h-0.8zM111.71,632.54h0.8v0.8h-0.8zM114.25,632.85h0.8v0.8h-0.8zM112.03,633.77h0.8v0.8h-0.8zM115.56,633.12h0.8v0.8h-0.8zM114.68,631.66h0.8v0.8h-0.8zM112.1,631.66h0.8v0.8h-0.8zM112.38,633.36h0.8v0.8h-0.8zM115.05,631.8h0.8v0.8h-0.8zM111.79,630.86h0.8v0.8h-0.8zM114.42,634.08h0.8v0.8h-0.8zM114.29,631.23h0.8v0.8h-0.8zM113.01,631.19h0.8v0.8h-0.8zM112.68,631.29h0.8v0.8h-0.8zM112.63,633.06h0.8v0.8h-0.8zM112.93,634.35h0.8v0.8h-0.8zM110.71,632.56h0.8v0.8h-0.8zM114.5,632.73h0.8v0.8h-0.8zM114.5,630.84h0.8v0.8h-0.8zM114.47,631.18h0.8v0.8h-0.8zM114.21,631.56h0.8v0.8h-0.8zM111.87,632.26h0.8v0.8h-0.8zM114.88,631.66h0.8v0.8h-0.8zM113.74,632.98h0.8v0.8h-0.8zM114.9,634.34h0.8v0.8h-0.8zM114.3,631.28h0.8v0.8h-0.8zM115.93,631.19h0.8v0.8h-0.8zM113.82,631.68h0.8v0.8h-0.8zM113.84,634.24h0.8v0.8h-0.8zM112.51,634.06h0.8v0.8h-0.8zM112.33,630.94h0.8v0.8h-0.8zM114.78,631.85h0.8v0.8h-0.8zM115.25,633.1h0.8v0.8h-0.8zM113.74,633.31h0.8v0.8h-0.8zM112.82,632.83h0.8v0.8h-0.8zM113.15,632.83h0.8v0.8h-0.8zM113.54,631.27h0.8v0.8h-0.8zM113.29,632.9h0.8v0.8h-0.8zM114.63,631.29h0.8v0.8h-0.8zM112.39,631.44h0.8v0.8h-0.8zM115.06,633.08h0.8v0.8h-0.8zM111.45,632.62h0.8v0.8h-0.8zM113.9,631.67h0.8v0.8h-0.8zM115.55,632.01h0.8v0.8h-0.8zM113.08,630.31h0.8v0.8h-0.8zM115.34,633.79h0.8v0.8h-0.8zM113.35,631.7h0.8v0.8h-0.8zM112.91,633.09h0.8v0.8h-0.8zM114.36,631.73h0.8v0.8h-0.8zM114.45,633.01h0.8v0.8h-0.8zM112.74,631.92h0.8v0.8h-0.8zM111.52,630.86h0.8v0.8h-0.8zM112.21,633.04h0.8v0.8h-0.8zM113.45,632.92h0.8v0.8h-0.8zM112.81,633.02h0.8v0.8h-0.8zM114.39,632.52h0.8v0.8h-0.8zM113.11,632.28h0.8v0.8h-0.8zM115.25,631.66h0.8v0.8h-0.8zM115.54,633.27h0.8v0.8h-0.8zM112.54,630.52h0.8v0.8h-0.8zM113.26,631.43h0.8v0.8h-0.8zM114.78,633.55h0.8v0.8h-0.8zM112.27,631.58h0.8v0.8h-0.8zM114.41,632.22h0.8v0.8h-0.8zM112.98,631.28h0.8v0.8h-0.8zM113.39,633.41h0.8v0.8h-0.8zM113.54,634.06h0.8v0.8h-0.8zM114.26,634.38h0.8v0.8h-0.8z" fill="#b8d830"/>
<path d="M113.83,632.53h0.8v0.8h-0.8zM114.34,632.6h0.8v0.8h-0.8zM114.15,631.73h0.8v0.8h-0.8zM112.58,632.33h0.8v0.8h-0.8zM114.98,631.72h0.8v0.8h-0.8zM112.83,632.61h0.8v0.8h-0.8zM113.1,631.3h0.8v0.8h-0.8zM113.61,631.68h0.8v0.8h-0.8zM112.93,632.47h0.8v0.8h-0.8zM113.16,631.46h0.8v0.8h-0.8zM112.23,631.71h0.8v0.8h-0.8zM114.35,632.08h0.8v0.8h-0.8zM113.53,632.38h0.8v0.8h-0.8zM112.95,632.7h0.8v0.8h-0.8zM114.73,631.98h0.8v0.8h-0.8zM114.01,631.19h0.8v0.8h-0.8zM114.96,631.91h0.8v0.8h-0.8zM113.34,633.28h0.8v0.8h-0.8zM113.66,632.76h0.8v0.8h-0.8zM113.86,632.33h0.8v0.8h-0.8zM114.35,631.77h0.8v0.8h-0.8zM113.71,632.33h0.8v0.8h-0.8z" fill="#f0a020"/>
<path d="M113.76,631.87h0.8v0.8h-0.8zM113.42,632.15h0.8v0.8h-0.8z" fill="#e83020"/>
<rect x="119.18" y="629.74" width="0.7" height="0.7" fill="#9a9aff"/>
<rect x="127.03" y="626.27" width="0.7" height="0.7" fill="#9a9aff"/>
<rect x="121.55" y="605.83" width="0.7" height="0.7" fill="#9a9aff"/>
<rect x="136.21" y="614.4" width="0.7" height="0.7" fill="#9a9aff"/>
<rect x="107.69" y="616.67" width="0.7" height="0.7" fill="#9a9aff"/>
<rect x="113.87" y="630.43" width="0.7" height="0.7" fill="#9a9aff"/>
<rect x="105.92" y="635.34" width="0.7" height="0.7" fill="#9a9aff"/>
<rect x="129.1" y="606.11" width="0.7" height="0.7" fill="#9a9aff"/>
<rect x="135.06" y="618.22" width="0.7" height="0.7" fill="#9a9aff"/>
<rect x="129.44" y="613.81" width="0.7" height="0.7" fill="#9a9aff"/>
<rect x="111.18" y="615.38" width="0.7" height="0.7" fill="#9a9aff"/>
<rect x="129.16" y="641.36" width="0.7" height="0.7" fill="#9a9aff"/>
<rect x="132.26" y="622.13" width="0.7" height="0.7" fill="#9a9aff"/>
<rect x="135.67" y="632.16" width="0.7" height="0.7" fill="#9a9aff"/>
<rect x="120.61" y="603.85" width="0.7" height="0.7" fill="#9a9aff"/>
<rect x="140.86" y="607.85" width="0.7" height="0.7" fill="#9a9aff"/>
<rect x="111.86" y="614.25" width="0.7" height="0.7" fill="#9a9aff"/>
<rect x="133.6" y="618.97" width="0.7" height="0.7" fill="#9a9aff"/>
<rect x="121.99" y="608.3" width="0.7" height="0.7" fill="#9a9aff"/>
<rect x="136.88" y="631.49" width="0.7" height="0.7" fill="#9a9aff"/>
<rect x="130.74" y="637.89" width="0.7" height="0.7" fill="#9a9aff"/>
<rect x="106.52" y="634.73" width="0.7" height="0.7" fill="#9a9aff"/>
<rect x="136.8" y="621.09" width="0.7" height="0.7" fill="#9a9aff"/>
<rect x="120.58" y="641.36" width="0.7" height="0.7" fill="#9a9aff"/>
<rect x="137.42" y="639.96" width="0.7" height="0.7" fill="#9a9aff"/>
<rect x="106.55" y="631.76" width="0.7" height="0.7" fill="#9a9aff"/>
<rect x="116.25" y="603.41" width="0.7" height="0.7" fill="#9a9aff"/>
<rect x="138.63" y="637.63" width="0.7" height="0.7" fill="#9a9aff"/>
<rect x="137.25" y="623.71" width="0.7" height="0.7" fill="#9a9aff"/>
<rect x="128.34" y="605.74" width="0.7" height="0.7" fill="#9a9aff"/>
<rect x="132.25" y="613.36" width="0.7" height="0.7" fill="#9a9aff"/>
<rect x="138.62" y="605.27" width="0.7" height="0.7" fill="#9a9aff"/>
<rect x="112.96" y="612.59" width="0.7" height="0.7" fill="#9a9aff"/>
<rect x="126.81" y="614.45" width="0.7" height="0.7" fill="#9a9aff"/>
<rect x="120.56" y="621.7" width="0.7" height="0.7" fill="#9a9aff"/>
<rect x="111.14" y="623.41" width="0.7" height="0.7" fill="#9a9aff"/>
<rect x="105.8" y="619.35" width="0.7" height="0.7" fill="#9a9aff"/>
<rect x="129.6" y="622.99" width="0.7" height="0.7" fill="#9a9aff"/>
<rect x="105.73" y="622.9" width="0.7" height="0.7" fill="#9a9aff"/>
<rect x="142.11" y="616.93" width="0.7" height="0.7" fill="#9a9aff"/>
<rect x="116.02" y="635.13" width="0.7" height="0.7" fill="#9a9aff"/>
<rect x="139.5" y="634.12" width="0.7" height="0.7" fill="#9a9aff"/>
<rect x="124.09" y="610.68" width="0.7" height="0.7" fill="#9a9aff"/>
<rect x="109.79" y="627.24" width="0.7" height="0.7" fill="#9a9aff"/>
<rect x="111.2" y="628.37" width="0.7" height="0.7" fill="#9a9aff"/>
<rect x="110.7" y="619.81" width="0.7" height="0.7" fill="#9a9aff"/>
<rect x="131.55" y="627.84" width="0.7" height="0.7" fill="#9a9aff"/>
<rect x="117.78" y="625.54" width="0.7" height="0.7" fill="#9a9aff"/>
<rect x="141.75" y="632.49" width="0.7" height="0.7" fill="#9a9aff"/>
<rect x="123.48" y="603.61" width="0.7" height="0.7" fill="#9a9aff"/>
<rect x="108.41" y="609.99" width="0.7" height="0.7" fill="#9a9aff"/>
<rect x="106.16" y="629.06" width="0.7" height="0.7" fill="#9a9aff"/>
<rect x="130.85" y="603.86" width="0.7" height="0.7" fill="#9a9aff"/>
<rect x="144.64" y="620.37" width="0.7" height="0.7" fill="#9a9aff"/>
<rect x="141.88" y="609.71" width="0.7" height="0.7" fill="#9a9aff"/>
<rect x="132.4" y="639.48" width="0.7" height="0.7" fill="#9a9aff"/>
<rect x="133.39" y="613.17" width="0.7" height="0.7" fill="#9a9aff"/>
<rect x="143.35" y="614.88" width="0.7" height="0.7" fill="#9a9aff"/>
<rect x="121.19" y="621.69" width="0.7" height="0.7" fill="#9a9aff"/>
<rect x="116.58" y="637.23" width="0.7" height="0.7" fill="#9a9aff"/>
<path d="M98.5,651.6 L98.5,611.8 M98.5,651.6 L138,651.6" stroke="#222" stroke-width="1.1" fill="none"/>
<path d="M98.5,608.8 L96.5,613.8 L100.5,613.8 Z M141,651.6 L136,649.6 L136,653.6 Z" fill="#222"/>
<text transform="translate(93.5,651.6) rotate(-90)" font-size="8.2" font-weight="bold" fill="#222" textLength="17.6" lengthAdjust="spacingAndGlyphs">hCD45</text>
<text x="98.9" y="661.8" font-size="8.2" text-anchor="start" fill="#222" font-weight="bold" textLength="13.4" lengthAdjust="spacingAndGlyphs" >CD41</text>
<rect x="169.6" y="598.9" width="47.4" height="47.5" fill="none" stroke="#aaaaaa" stroke-width="0.7"/>
<line x1="192.6" y1="598.9" x2="192.6" y2="646.4" stroke="#8e8e8e" stroke-width="0.65" />
<line x1="169.6" y1="623.4" x2="217" y2="623.4" stroke="#8e8e8e" stroke-width="0.65" />
<text x="171" y="602.9" font-size="5.6" text-anchor="start" fill="#333" >2,10</text>
<text x="216" y="602.9" font-size="5.6" text-anchor="end" fill="#333" >96,9</text>
<text x="171" y="645.4" font-size="5.6" text-anchor="start" fill="#333" >0</text>
<text x="216" y="645.4" font-size="5.6" text-anchor="end" fill="#333" >0,96</text>
<path d="M203.65,617.93h0.8v0.8h-0.8zM204.28,604.68h0.8v0.8h-0.8zM197.68,608.2h0.8v0.8h-0.8zM191.95,620.69h0.8v0.8h-0.8zM191.72,619.85h0.8v0.8h-0.8zM206.46,604.15h0.8v0.8h-0.8zM187.53,617.43h0.8v0.8h-0.8zM193.01,623.04h0.8v0.8h-0.8zM207.8,605.21h0.8v0.8h-0.8zM206.16,604.74h0.8v0.8h-0.8zM210.05,608.09h0.8v0.8h-0.8zM189.76,615.61h0.8v0.8h-0.8z" fill="#8a8aff"/>
<path d="M192.36,615.9h0.8v0.8h-0.8zM190.71,617.85h0.8v0.8h-0.8zM191.45,621.37h0.8v0.8h-0.8zM209.59,610.87h0.8v0.8h-0.8zM197.54,612.01h0.8v0.8h-0.8zM199.12,609.22h0.8v0.8h-0.8zM208.75,611.24h0.8v0.8h-0.8zM196.36,616.04h0.8v0.8h-0.8zM197.23,618.29h0.8v0.8h-0.8zM193.04,613.47h0.8v0.8h-0.8zM204.1,613.19h0.8v0.8h-0.8zM198.1,616.3h0.8v0.8h-0.8zM196.4,614.7h0.8v0.8h-0.8zM194.26,617.62h0.8v0.8h-0.8zM207.6,614.65h0.8v0.8h-0.8zM200.94,615.15h0.8v0.8h-0.8zM203.67,610.77h0.8v0.8h-0.8zM206.31,611.11h0.8v0.8h-0.8zM196.5,617.6h0.8v0.8h-0.8zM205.13,615.59h0.8v0.8h-0.8zM191.99,619.99h0.8v0.8h-0.8zM206.45,611.14h0.8v0.8h-0.8zM197.6,620.51h0.8v0.8h-0.8zM201.45,617.57h0.8v0.8h-0.8zM202.53,616.7h0.8v0.8h-0.8zM200.13,616.59h0.8v0.8h-0.8zM201.35,608.73h0.8v0.8h-0.8zM194.49,617.79h0.8v0.8h-0.8zM191.42,617.6h0.8v0.8h-0.8zM195.26,617h0.8v0.8h-0.8zM195.65,616.89h0.8v0.8h-0.8zM195.33,617.49h0.8v0.8h-0.8zM196.31,611.02h0.8v0.8h-0.8zM190.22,616.22h0.8v0.8h-0.8zM197.38,611.97h0.8v0.8h-0.8zM206.32,606.6h0.8v0.8h-0.8zM195.5,614.85h0.8v0.8h-0.8zM205.72,612.79h0.8v0.8h-0.8zM201.97,606.56h0.8v0.8h-0.8zM194.14,609.59h0.8v0.8h-0.8zM194.88,613.78h0.8v0.8h-0.8zM198.39,611.92h0.8v0.8h-0.8zM191.02,616.44h0.8v0.8h-0.8zM205.07,603.87h0.8v0.8h-0.8zM209.07,609.02h0.8v0.8h-0.8zM204.04,616.24h0.8v0.8h-0.8zM211.02,604.35h0.8v0.8h-0.8zM204.4,608.58h0.8v0.8h-0.8zM192.3,615.66h0.8v0.8h-0.8zM199.27,617.72h0.8v0.8h-0.8zM202.6,606.17h0.8v0.8h-0.8zM199.15,608.62h0.8v0.8h-0.8zM203,617.13h0.8v0.8h-0.8zM208.51,611.97h0.8v0.8h-0.8zM199.45,607.69h0.8v0.8h-0.8zM205.56,609.89h0.8v0.8h-0.8zM206.97,607.88h0.8v0.8h-0.8zM197.1,609.86h0.8v0.8h-0.8zM197.91,610.37h0.8v0.8h-0.8zM184.7,625.6h0.8v0.8h-0.8zM197.75,610.56h0.8v0.8h-0.8zM198.63,608.4h0.8v0.8h-0.8zM195.03,618.43h0.8v0.8h-0.8zM198.79,619.33h0.8v0.8h-0.8zM197.98,618.26h0.8v0.8h-0.8zM194.93,613.18h0.8v0.8h-0.8zM202.27,618.23h0.8v0.8h-0.8zM205.28,613.76h0.8v0.8h-0.8zM195.43,614.61h0.8v0.8h-0.8zM192.69,617.17h0.8v0.8h-0.8zM201.54,609.03h0.8v0.8h-0.8zM206.42,615.8h0.8v0.8h-0.8zM208.16,608.33h0.8v0.8h-0.8zM204.15,609.03h0.8v0.8h-0.8zM195.67,615.03h0.8v0.8h-0.8zM195.59,610.45h0.8v0.8h-0.8zM208.07,611.57h0.8v0.8h-0.8zM201.64,617.17h0.8v0.8h-0.8zM202.35,620.02h0.8v0.8h-0.8zM193.76,612.1h0.8v0.8h-0.8zM199,608.49h0.8v0.8h-0.8zM192.24,616.88h0.8v0.8h-0.8zM197.27,620.76h0.8v0.8h-0.8zM204.21,605.33h0.8v0.8h-0.8zM194.51,612.59h0.8v0.8h-0.8zM201.47,615.87h0.8v0.8h-0.8zM205.47,615.36h0.8v0.8h-0.8zM202.96,616.97h0.8v0.8h-0.8zM206.88,606.03h0.8v0.8h-0.8zM201.45,618.23h0.8v0.8h-0.8zM195.96,616.24h0.8v0.8h-0.8zM208.23,612.11h0.8v0.8h-0.8zM206.53,608.64h0.8v0.8h-0.8z" fill="#5a5cf2"/>
<path d="M200.99,612.97h0.8v0.8h-0.8zM196.95,615.07h0.8v0.8h-0.8zM201.84,610.47h0.8v0.8h-0.8zM195.44,614.73h0.8v0.8h-0.8zM204.87,614.26h0.8v0.8h-0.8zM200.12,610.33h0.8v0.8h-0.8zM205.85,614.37h0.8v0.8h-0.8zM199.54,615.78h0.8v0.8h-0.8zM203.52,611.22h0.8v0.8h-0.8zM204.95,611.9h0.8v0.8h-0.8zM205.61,614.47h0.8v0.8h-0.8zM200.62,612.21h0.8v0.8h-0.8zM201.15,615.46h0.8v0.8h-0.8zM197.88,610.83h0.8v0.8h-0.8zM196.1,612.21h0.8v0.8h-0.8zM200.67,614.63h0.8v0.8h-0.8zM202.35,612.88h0.8v0.8h-0.8zM198.8,611.37h0.8v0.8h-0.8zM194.98,615.69h0.8v0.8h-0.8zM195.1,613.03h0.8v0.8h-0.8zM194.75,613.6h0.8v0.8h-0.8zM204.21,614.12h0.8v0.8h-0.8zM200.12,614.34h0.8v0.8h-0.8zM198.18,614.09h0.8v0.8h-0.8zM203.16,610.41h0.8v0.8h-0.8zM208.49,608.1h0.8v0.8h-0.8zM200.13,615.99h0.8v0.8h-0.8zM197.53,616.15h0.8v0.8h-0.8zM198.71,611.15h0.8v0.8h-0.8zM200.93,612.13h0.8v0.8h-0.8zM206.58,609.82h0.8v0.8h-0.8zM201.88,609.88h0.8v0.8h-0.8zM203.33,612.6h0.8v0.8h-0.8zM198.5,618.52h0.8v0.8h-0.8zM207.39,607.09h0.8v0.8h-0.8zM197.82,614.82h0.8v0.8h-0.8zM198.79,612.29h0.8v0.8h-0.8zM200.9,612.81h0.8v0.8h-0.8zM205.11,611.32h0.8v0.8h-0.8zM198.02,614.01h0.8v0.8h-0.8zM199.43,611.69h0.8v0.8h-0.8zM200.43,612.96h0.8v0.8h-0.8zM200.82,610.52h0.8v0.8h-0.8zM200.25,616.01h0.8v0.8h-0.8zM198.08,615.49h0.8v0.8h-0.8zM194.3,614.96h0.8v0.8h-0.8zM196.31,617.86h0.8v0.8h-0.8zM207.13,607.86h0.8v0.8h-0.8zM202.34,613.38h0.8v0.8h-0.8zM207.62,605.98h0.8v0.8h-0.8zM203.68,609.75h0.8v0.8h-0.8zM199.04,615.38h0.8v0.8h-0.8zM196.51,609.29h0.8v0.8h-0.8zM199.3,611.35h0.8v0.8h-0.8zM200.57,616.42h0.8v0.8h-0.8zM203.82,613.66h0.8v0.8h-0.8zM198.98,611.26h0.8v0.8h-0.8zM202.18,609.56h0.8v0.8h-0.8zM199.31,614.21h0.8v0.8h-0.8zM195.21,618h0.8v0.8h-0.8zM203.85,606.68h0.8v0.8h-0.8zM205.93,611.4h0.8v0.8h-0.8zM193.37,617.37h0.8v0.8h-0.8zM200.43,609.16h0.8v0.8h-0.8zM198.39,617.12h0.8v0.8h-0.8zM202.53,614.44h0.8v0.8h-0.8zM207.6,608.96h0.8v0.8h-0.8zM200.12,611.66h0.8v0.8h-0.8zM197.27,616.78h0.8v0.8h-0.8zM198.8,618.6h0.8v0.8h-0.8zM199.27,615.49h0.8v0.8h-0.8zM199.8,610.99h0.8v0.8h-0.8zM196.98,618.44h0.8v0.8h-0.8zM199,610.7h0.8v0.8h-0.8zM196.21,614.48h0.8v0.8h-0.8zM203.15,609.74h0.8v0.8h-0.8zM203.3,609.54h0.8v0.8h-0.8zM203.41,611.02h0.8v0.8h-0.8zM208.58,606.98h0.8v0.8h-0.8zM199.57,609.27h0.8v0.8h-0.8zM206.21,613.54h0.8v0.8h-0.8zM200.14,612.68h0.8v0.8h-0.8zM196.45,616.72h0.8v0.8h-0.8zM202.84,612.94h0.8v0.8h-0.8zM199.14,614.96h0.8v0.8h-0.8zM202.7,612.62h0.8v0.8h-0.8zM199.21,610.32h0.8v0.8h-0.8zM197.08,612.56h0.8v0.8h-0.8zM201.04,610.98h0.8v0.8h-0.8zM198.24,619.17h0.8v0.8h-0.8zM201.91,615.91h0.8v0.8h-0.8zM200.37,610.36h0.8v0.8h-0.8zM205.41,613.66h0.8v0.8h-0.8zM199.65,615.93h0.8v0.8h-0.8zM201.37,610.25h0.8v0.8h-0.8zM202.44,615.65h0.8v0.8h-0.8zM199.07,617.08h0.8v0.8h-0.8zM195.43,615.06h0.8v0.8h-0.8zM205.64,615.56h0.8v0.8h-0.8zM204.43,612.49h0.8v0.8h-0.8zM193.62,615.95h0.8v0.8h-0.8zM204.18,609.69h0.8v0.8h-0.8zM200.35,613.09h0.8v0.8h-0.8zM199.55,615.68h0.8v0.8h-0.8zM195.19,613.15h0.8v0.8h-0.8zM205.48,613.63h0.8v0.8h-0.8zM203.98,616h0.8v0.8h-0.8zM199.68,616.99h0.8v0.8h-0.8zM194.93,616.2h0.8v0.8h-0.8zM206.15,606.38h0.8v0.8h-0.8zM206.96,610.71h0.8v0.8h-0.8zM204.69,610.06h0.8v0.8h-0.8zM199.15,609.85h0.8v0.8h-0.8zM203.74,609.18h0.8v0.8h-0.8zM201.1,610.12h0.8v0.8h-0.8zM199.36,612.41h0.8v0.8h-0.8zM199.67,613.38h0.8v0.8h-0.8zM198.7,615.18h0.8v0.8h-0.8zM200.14,610.48h0.8v0.8h-0.8zM204.23,613.64h0.8v0.8h-0.8zM194.07,614.89h0.8v0.8h-0.8zM197.1,616.05h0.8v0.8h-0.8z" fill="#3a72f0"/>
<path d="M199.81,614.5h0.8v0.8h-0.8zM201.24,612.36h0.8v0.8h-0.8zM200.28,611.03h0.8v0.8h-0.8zM200.38,613.1h0.8v0.8h-0.8zM201.45,611.82h0.8v0.8h-0.8zM198.47,614.66h0.8v0.8h-0.8zM201.86,614.91h0.8v0.8h-0.8zM198.85,616.73h0.8v0.8h-0.8zM201.53,614.58h0.8v0.8h-0.8zM200.65,614.98h0.8v0.8h-0.8zM200.28,613.52h0.8v0.8h-0.8zM202.29,612.2h0.8v0.8h-0.8zM200.8,612.17h0.8v0.8h-0.8zM204.45,612.15h0.8v0.8h-0.8zM197.3,614.53h0.8v0.8h-0.8zM202.14,613.34h0.8v0.8h-0.8zM198.33,611.08h0.8v0.8h-0.8zM202.33,610.58h0.8v0.8h-0.8zM199.4,614.86h0.8v0.8h-0.8zM199.49,614.03h0.8v0.8h-0.8zM203.03,610.18h0.8v0.8h-0.8zM198.63,616.11h0.8v0.8h-0.8zM200.86,612.78h0.8v0.8h-0.8zM203.1,612.04h0.8v0.8h-0.8zM197.05,614.23h0.8v0.8h-0.8zM199.71,614.66h0.8v0.8h-0.8zM202.29,613.19h0.8v0.8h-0.8zM200.47,613.09h0.8v0.8h-0.8zM196.39,617.64h0.8v0.8h-0.8zM201.81,614.25h0.8v0.8h-0.8zM202.84,611.59h0.8v0.8h-0.8zM201.26,611.61h0.8v0.8h-0.8zM201.61,612.94h0.8v0.8h-0.8z" fill="#30a8f0"/>
<rect x="200.04" y="616.41" width="0.7" height="0.7" fill="#9a9aff"/>
<rect x="203.96" y="603.82" width="0.7" height="0.7" fill="#9a9aff"/>
<rect x="179.57" y="606.99" width="0.7" height="0.7" fill="#9a9aff"/>
<rect x="197.04" y="607.61" width="0.7" height="0.7" fill="#9a9aff"/>
<rect x="187.73" y="616.77" width="0.7" height="0.7" fill="#9a9aff"/>
<rect x="182.68" y="605.06" width="0.7" height="0.7" fill="#9a9aff"/>
<rect x="194.83" y="603.28" width="0.7" height="0.7" fill="#9a9aff"/>
<rect x="207.76" y="613.71" width="0.7" height="0.7" fill="#9a9aff"/>
<rect x="210.48" y="606.98" width="0.7" height="0.7" fill="#9a9aff"/>
<rect x="196.61" y="611.26" width="0.7" height="0.7" fill="#9a9aff"/>
<rect x="208.16" y="609.57" width="0.7" height="0.7" fill="#9a9aff"/>
<rect x="200.92" y="621.15" width="0.7" height="0.7" fill="#9a9aff"/>
<rect x="193.95" y="602.65" width="0.7" height="0.7" fill="#9a9aff"/>
<rect x="203.33" y="606.59" width="0.7" height="0.7" fill="#9a9aff"/>
<rect x="201.34" y="621.87" width="0.7" height="0.7" fill="#9a9aff"/>
<rect x="210.44" y="604" width="0.7" height="0.7" fill="#9a9aff"/>
<rect x="181.1" y="620.51" width="0.7" height="0.7" fill="#9a9aff"/>
<rect x="190.53" y="606.85" width="0.7" height="0.7" fill="#9a9aff"/>
<rect x="196.48" y="606.53" width="0.7" height="0.7" fill="#9a9aff"/>
<rect x="199.04" y="605.69" width="0.7" height="0.7" fill="#9a9aff"/>
<rect x="205.94" y="619.83" width="0.7" height="0.7" fill="#9a9aff"/>
<rect x="207.91" y="620.94" width="0.7" height="0.7" fill="#9a9aff"/>
<rect x="186.83" y="608.23" width="0.7" height="0.7" fill="#9a9aff"/>
<rect x="193.24" y="602.52" width="0.7" height="0.7" fill="#9a9aff"/>
<rect x="196.59" y="604.23" width="0.7" height="0.7" fill="#9a9aff"/>
<rect x="208.9" y="604.42" width="0.7" height="0.7" fill="#9a9aff"/>
<rect x="186.44" y="605.16" width="0.7" height="0.7" fill="#9a9aff"/>
<rect x="203.82" y="611.73" width="0.7" height="0.7" fill="#9a9aff"/>
<rect x="189.05" y="612.93" width="0.7" height="0.7" fill="#9a9aff"/>
<rect x="198.69" y="619.55" width="0.7" height="0.7" fill="#9a9aff"/>
<rect x="182.36" y="612.48" width="0.7" height="0.7" fill="#9a9aff"/>
<rect x="187.15" y="604.55" width="0.7" height="0.7" fill="#9a9aff"/>
<rect x="211.85" y="617.45" width="0.7" height="0.7" fill="#9a9aff"/>
<rect x="186.36" y="617.94" width="0.7" height="0.7" fill="#9a9aff"/>
<rect x="184.64" y="604.67" width="0.7" height="0.7" fill="#9a9aff"/>
<rect x="187.48" y="620.81" width="0.7" height="0.7" fill="#9a9aff"/>
<rect x="210" y="616.31" width="0.7" height="0.7" fill="#9a9aff"/>
<rect x="188.21" y="619.67" width="0.7" height="0.7" fill="#9a9aff"/>
<rect x="201.3" y="604.13" width="0.7" height="0.7" fill="#9a9aff"/>
<rect x="211.09" y="609.56" width="0.7" height="0.7" fill="#9a9aff"/>
<rect x="209.25" y="601.18" width="0.7" height="0.7" fill="#9a9aff"/>
<rect x="211.61" y="606.3" width="0.7" height="0.7" fill="#9a9aff"/>
<rect x="209.43" y="612.78" width="0.7" height="0.7" fill="#9a9aff"/>
<rect x="178.72" y="609.33" width="0.7" height="0.7" fill="#9a9aff"/>
<rect x="194.5" y="620.31" width="0.7" height="0.7" fill="#9a9aff"/>
<rect x="203.17" y="602.83" width="0.7" height="0.7" fill="#9a9aff"/>
<rect x="192.38" y="621.85" width="0.7" height="0.7" fill="#9a9aff"/>
<rect x="204.11" y="610.4" width="0.7" height="0.7" fill="#9a9aff"/>
<rect x="187.38" y="620.46" width="0.7" height="0.7" fill="#9a9aff"/>
<rect x="183.08" y="609.4" width="0.7" height="0.7" fill="#9a9aff"/>
<path d="M165.2,651 L165.2,612.7 M165.2,651 L205.4,651" stroke="#222" stroke-width="1.1" fill="none"/>
<path d="M165.2,609.7 L163.2,614.7 L167.2,614.7 Z M208.4,651 L203.4,649 L203.4,653 Z" fill="#222"/>
<text transform="translate(160.5,651) rotate(-90)" font-size="8.2" font-weight="bold" fill="#222" textLength="12.2" lengthAdjust="spacingAndGlyphs">SELP</text>
<text x="165.6" y="661.8" font-size="8.2" text-anchor="start" fill="#222" font-weight="bold" textLength="11" lengthAdjust="spacingAndGlyphs" >GFP</text>
<text x="166" y="586.6" font-size="6.6" text-anchor="middle" fill="#222" textLength="56.5" lengthAdjust="spacingAndGlyphs" stroke="#222" stroke-width="0.2" >N5A xAMKL cells</text>
<path d="M138.3,598.3 L138.3,591.9 L196.5,591.9 L196.5,595.2" stroke="#9b3f9f" stroke-width="1" fill="none"/>
<path d="M194.7,595 L198.3,595 L196.5,598 Z" fill="#9b3f9f"/>
<text x="232.8" y="577" font-size="12.6" text-anchor="start" fill="#000" font-weight="bold" >F</text>
<defs><filter id="gblur" x="-10%" y="-10%" width="120%" height="120%"><feGaussianBlur stdDeviation="0.35"/></filter></defs>
<g filter="url(#gblur)">
<rect x="269.1" y="608.6" width="38" height="27.1" fill="#e0e0e0"/>
<rect x="272.9" y="607.6" width="7.1" height="1.4" fill="#111" rx="0.6"/>
<rect x="281.8" y="607.6" width="6.7" height="1.4" fill="#111" rx="0.6"/>
<rect x="290.6" y="607.6" width="6.9" height="1.4" fill="#111" rx="0.6"/>
<rect x="299.3" y="607.6" width="7.1" height="1.4" fill="#111" rx="0.6"/>
<rect x="273.4" y="610.2" width="6.1" height="1" fill="#b8b8b8" rx="0.6"/>
<rect x="273.4" y="613.15" width="6.1" height="1.1" fill="#9a9a9a" rx="0.6"/>
<rect x="273.4" y="616.35" width="6.1" height="1.7" fill="#1a1a1a" rx="0.6"/>
<rect x="273.4" y="618.55" width="6.1" height="1.1" fill="#8a8a8a" rx="0.6"/>
<rect x="273.4" y="620.95" width="6.1" height="1.1" fill="#8e8e8e" rx="0.6"/>
<rect x="273.4" y="623.95" width="6.1" height="1.1" fill="#9a9a9a" rx="0.6"/>
<rect x="273.4" y="629.6" width="6.1" height="1.2" fill="#c4c4c4" rx="0.6"/>
<rect x="290.6" y="617.7" width="6.9" height="2" fill="#151515" rx="0.6"/>
<rect x="299.3" y="617.7" width="7.1" height="2" fill="#151515" rx="0.6"/>
<rect x="281.8" y="629.9" width="6.7" height="2.2" fill="#bdbdbd" rx="0.6"/>
<rect x="290.6" y="630" width="6.9" height="2" fill="#d2d2d2" rx="0.6"/>
<rect x="299.3" y="630" width="7.1" height="2" fill="#c8c8c8" rx="0.6"/>
<rect x="269.1" y="638.0" width="38" height="25.8" fill="#e0e0e0"/>
<rect x="273.4" y="639" width="6.1" height="1.4" fill="#3a3a3a" rx="0.6"/>
<rect x="273.4" y="640.75" width="6.1" height="1.5" fill="#303030" rx="0.6"/>
<rect x="273.4" y="642.55" width="6.1" height="1.7" fill="#111" rx="0.6"/>
<rect x="273.4" y="644.3" width="6.1" height="1.6" fill="#151515" rx="0.6"/>
<rect x="273.4" y="646.55" width="6.1" height="1.3" fill="#2a2a2a" rx="0.6"/>
<rect x="273.4" y="649.75" width="6.1" height="1.3" fill="#444" rx="0.6"/>
<rect x="273.4" y="654.85" width="6.1" height="1.3" fill="#8a8a8a" rx="0.6"/>
<rect x="281.8" y="651.6" width="6.7" height="1.8" fill="#3c3c3c" rx="0.6"/>
<rect x="290.6" y="651.6" width="6.9" height="1.8" fill="#3c3c3c" rx="0.6"/>
<rect x="299.3" y="651.6" width="7.1" height="1.8" fill="#3c3c3c" rx="0.6"/>
</g>
<text x="263.2" y="618.8" font-size="6.5" text-anchor="end" fill="#222" stroke="#222" stroke-width="0.2" >400 bp</text>
<text x="263.2" y="624.6" font-size="6.5" text-anchor="end" fill="#222" stroke="#222" stroke-width="0.2" >300 bp</text>
<text x="263.2" y="651.9" font-size="6.5" text-anchor="end" fill="#222" stroke="#222" stroke-width="0.2" >200 bp</text>
<text x="263.2" y="657.4" font-size="6.5" text-anchor="end" fill="#222" stroke="#222" stroke-width="0.2" >75 bp</text>
<line x1="266" y1="619" x2="268.9" y2="619" stroke="#222" stroke-width="1.1" />
<line x1="266" y1="621.6" x2="268.9" y2="621.6" stroke="#222" stroke-width="1.1" />
<line x1="266" y1="650.3" x2="268.9" y2="650.3" stroke="#222" stroke-width="1.1" />
<line x1="266" y1="655.4" x2="268.9" y2="655.4" stroke="#222" stroke-width="1.1" />
<path d="M310.8,619 L316,616.8 L316,621.2 Z M310.8,652.6 L316,650.4 L316,654.8 Z" fill="#111"/>
<text x="319.4" y="621" font-size="6.6" text-anchor="start" fill="#222" stroke="#222" stroke-width="0.2" ><tspan font-style="italic">NEO1</tspan> (413 bp)</text>
<text x="319.4" y="654.6" font-size="6.6" text-anchor="start" fill="#222" stroke="#222" stroke-width="0.2" ><tspan font-style="italic">KDM5B</tspan> (142 bp)</text>
<text transform="translate(276.8,604.4) rotate(-45)" font-size="6.7" fill="#222">Ladder</text>
<text transform="translate(285.6,604.4) rotate(-45)" font-size="6.7" fill="#222">CB-CD34<tspan font-size="4" dy="-2.4">+</tspan></text>
<text transform="translate(294.2,604.4) rotate(-45)" font-size="6.7" fill="#222">N5A xAMKL-1</text>
<text transform="translate(302.8,604.4) rotate(-45)" font-size="6.7" fill="#222">N5A xAMKL-2</text>
<text x="383.6" y="577.4" font-size="12.6" text-anchor="start" fill="#000" font-weight="bold" >G</text>
<defs><linearGradient id="smear" x1="0" y1="0" x2="0" y2="1"><stop offset="0" stop-color="#9c9c9c"/><stop offset="0.45" stop-color="#b4b4b4"/><stop offset="0.8" stop-color="#a0a0a0"/><stop offset="1" stop-color="#6a6a6a"/></linearGradient></defs>
<g filter="url(#gblur)">
<rect x="421" y="618.1" width="35.7" height="45.5" fill="#e9e9e9"/>
<rect x="422.7" y="617.05" width="7.5" height="1.5" fill="#111" rx="0.6"/>
<rect x="434" y="617.05" width="8.9" height="1.5" fill="#111" rx="0.6"/>
<rect x="446" y="617.05" width="8" height="1.5" fill="#111" rx="0.6"/>
<rect x="434" y="618.5" width="8.9" height="20" fill="url(#smear)"/>
<rect x="446" y="618.5" width="8" height="20" fill="url(#smear)" opacity="0.85"/>
<rect x="434" y="641" width="8.9" height="22.6" fill="#d6d6d6"/>
<rect x="446" y="641" width="8" height="22.6" fill="#dadada"/>
<rect x="433.6" y="638.2" width="9.7" height="3.2" fill="#1c2628" rx="0.6"/>
<rect x="445.8" y="638.9" width="8.4" height="2" fill="#253033" rx="0.6"/>
</g>
<text x="416.5" y="638.6" font-size="6.5" text-anchor="end" fill="#222" stroke="#222" stroke-width="0.2" >500 bp</text>
<text x="416.5" y="644.2" font-size="6.5" text-anchor="end" fill="#222" stroke="#222" stroke-width="0.2" >400 bp</text>
<line x1="417.5" y1="637.5" x2="420.5" y2="637.5" stroke="#222" stroke-width="1.1" />
<line x1="417.5" y1="643.1" x2="420.5" y2="643.1" stroke="#222" stroke-width="1.1" />
<path d="M460.2,639.4 L465.6,637.2 L465.6,641.6 Z" fill="#111"/>
<text x="468.8" y="641.6" font-size="6.6" text-anchor="start" fill="#222" stroke="#222" stroke-width="0.2" ><tspan font-style="italic">NEO1</tspan> (413 bp)</text>
<text transform="translate(427,613.4) rotate(-45)" font-size="6.6" fill="#222">Human placenta CTL</text>
<text transform="translate(439.2,612.8) rotate(-45)" font-size="6.6" fill="#222"><tspan font-style="italic">NUP98r</tspan> pAMKL-3D</text>
<text transform="translate(450.8,613.4) rotate(-45)" font-size="6.6" fill="#222"><tspan font-style="italic">NUP98r</tspan> pAMKL-3 MRD</text>
<rect x="0" y="0" width="1.45" height="671" fill="#000"/><rect x="0" y="0" width="520" height="1.45" fill="#000"/><rect x="518.75" y="0" width="1.25" height="671" fill="#000"/><rect x="0" y="669.75" width="520" height="1.25" fill="#000"/>
</svg></body></html>
